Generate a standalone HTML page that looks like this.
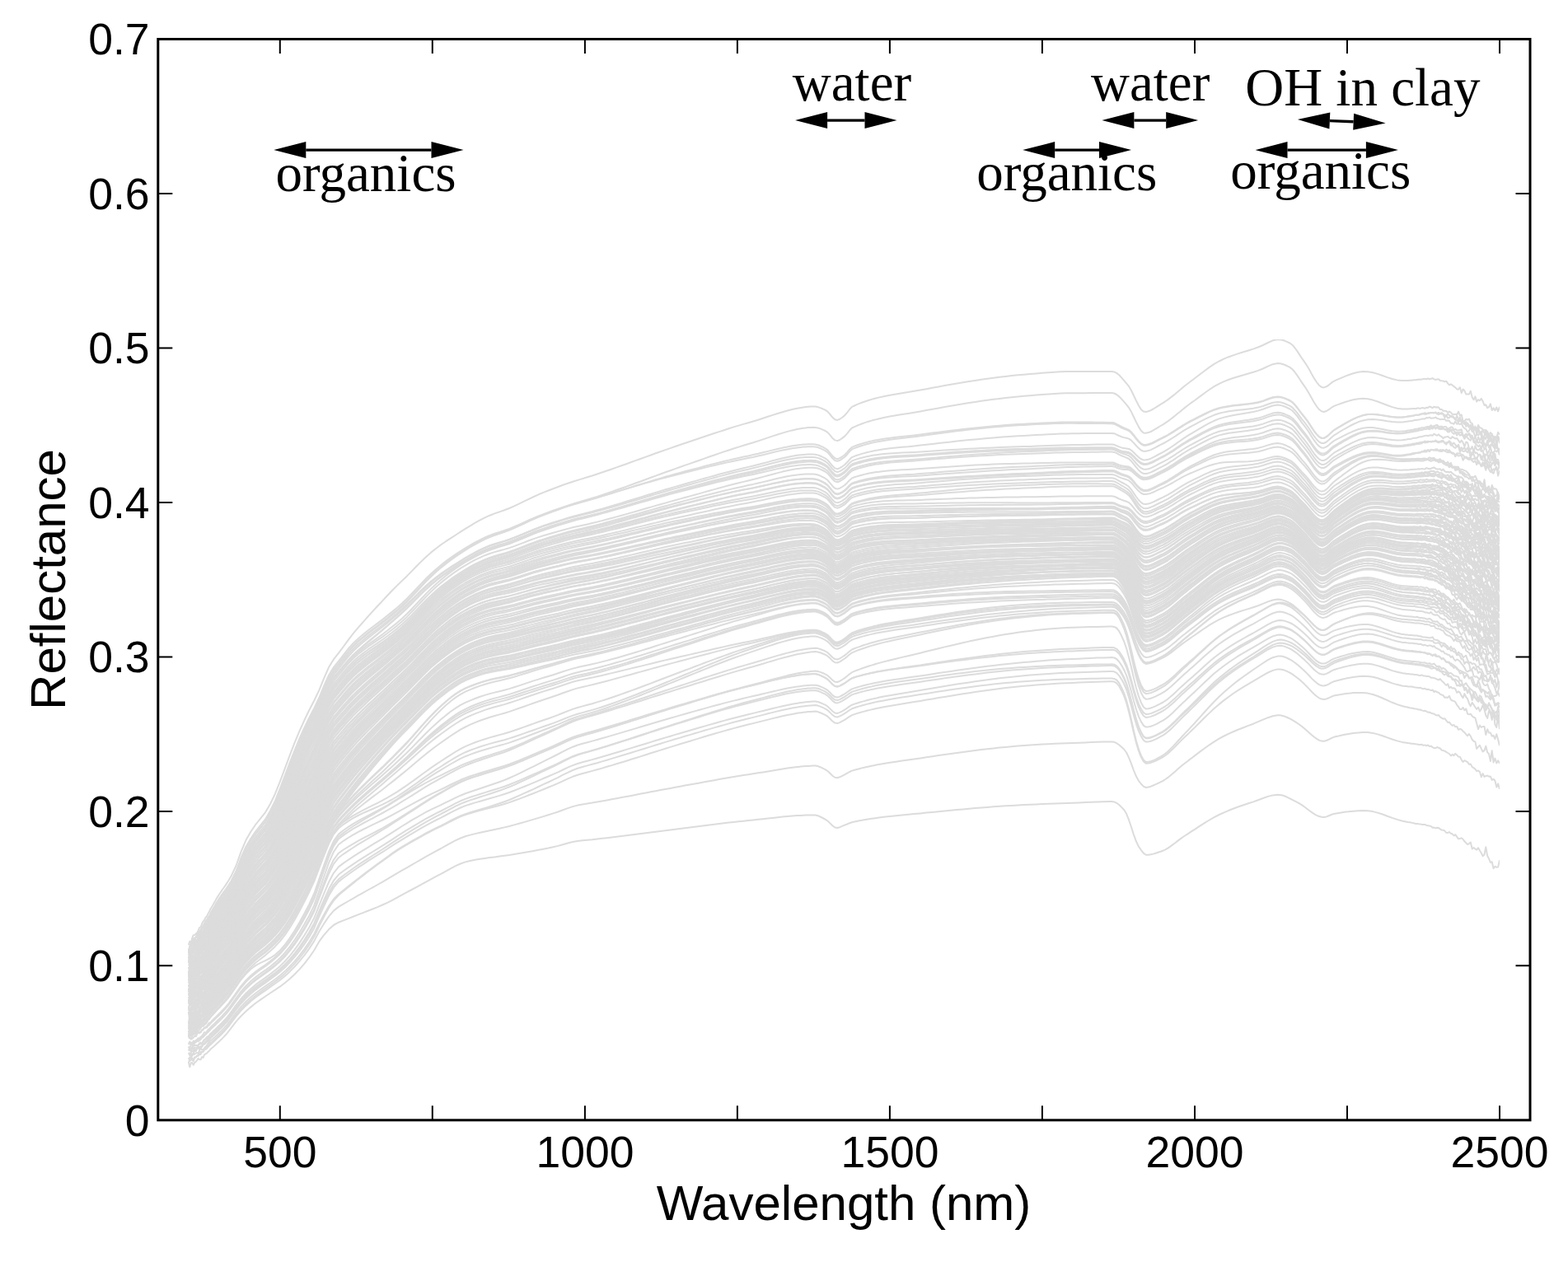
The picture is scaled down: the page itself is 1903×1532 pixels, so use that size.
<!DOCTYPE html>
<html><head><meta charset="utf-8"><title>Reflectance spectra</title>
<style>html,body{margin:0;padding:0;background:#fff;}svg{display:block;}
.sans{font-family:"Liberation Sans",Arial,sans-serif;fill:#000;}
.serif{font-family:"Liberation Serif","Times New Roman",serif;fill:#000;}
</style></head><body>
<svg width="1903" height="1532" viewBox="0 0 1903 1532">
<rect width="1903" height="1532" fill="#fff"/>
<defs><filter id="bl" x="0" y="0" width="1" height="1"><feGaussianBlur stdDeviation="0.60"/></filter></defs><g filter="url(#bl)"><g transform="scale(0.1)" fill="none" stroke="#dcdcdc" stroke-width="20" stroke-linejoin="round"><path d="M2288 12889l15 69 15-55 14-2 15 27 15-28 15-11 15-18 14-22 15 13 15 1 15-33 15 9 14-35 15-10 15-7 15-18 15-12 14-19 15-13 15-13 15-13 15-14 14-13 15-14 15-14 15-14 15-14 14-15 15-15 15-16 15-17 15-17 15-19 14-19 15-19 59-78 60-66 59-57 59-52 59-48 59-42 60-41 59-40 59-38 59-40 59-44 60-50 59-56 59-61 59-68 59-76 60-87 59-103 59-80 59-69 59-53 60-33 59-23 59-23 59-23 59-24 60-23 59-23 59-23 59-24 60-26 59-27 59-30 59-31 59-33 60-32 59-32 59-32 59-32 59-33 60-32 59-32 59-31 59-32 59-33 60-31 59-27 59-21 59-14 59-12 60-10 59-9 59-8 59-7 59-8 60-8 59-8 59-10 59-10 60-10 59-10 59-11 59-11 59-11 60-11 59-13 59-14 59-17 59-17 60-15 59-11 59-7 59-5 59-5 60-7 59-7 59-6 59-7 59-8 60-7 59-7 59-8 59-7 60-8 59-8 59-7 59-8 59-7 60-8 59-7 59-8 59-7 59-7 60-8 59-7 59-8 59-7 59-8 60-7 59-7 59-8 59-7 59-6 60-7 59-6 59-6 59-6 59-7 60-6 59-7 59-6 59-7 60-6 59-5 59-5 59-5 15-1 30-1 29-2 30-1 29-1 30-1 30 0 29 1 30 7 29 13 30 15 30 16 29 19 30 29 29 29 30 21 30 6 29-8 30-13 29-12 30-12 30-13 29-10 30-7 29-6 30-6 30-5 29-6 30-5 29-5 30-4 30-4 29-4 15-2 74-10 74-8 74-8 74-7 74-7 74-7 74-7 74-8 74-7 74-7 74-8 74-7 74-7 74-6 74-7 74-6 74-6 74-6 74-6 74-5 74-5 74-4 74-5 74-4 74-3 74-3 74-3 74-3 74-2 74-3 74-2 74-3 74-3 74-4 74-3 74-4 74-2 74-2 30 0 30 4 29 14 30 22 29 29 30 31 30 48 29 74 30 88 29 91 30 82 30 63 29 42 30 38 29 21 30 0 30-4 29-7 30-8 29-10 30-10 30-11 29-14 30-17 29-20 30-22 30-22 29-23 30-23 29-21 30-20 30-19 29-19 30-20 30-19 59-39 59-38 59-36 59-34 60-31 59-27 59-25 59-23 59-22 60-20 59-20 59-19 59-22 59-22 60-21 59-15 59-7 30 2 29 6 30 10 29 13 30 15 30 16 29 15 30 15 29 16 30 19 30 21 29 22 30 23 29 21 30 20 30 17 29 12 30 8 29 2 30-6 30-12 29-12 30-11 30-5 29-5 30-5 29-4 30-4 30-3 29-4 30-2 59-5 59-2 59 2 60 9 59 15 59 19 59 22 59 22 60 20 59 16 18 4 19 4 18 4 19 4 18 2 19 3 18 5 19 3 18 6 19 1 18 2 19 1 18 5 19 2 18-2 19 10 18 3 19 4 18 3 19 18 18-1 19 8 18-6 19 2 18 14 19 12 18 1 19 10 18 21 19 1 18-8 19 16 18 6 19 21 18-12 19 26 18 25 19-2 18-8 19 15 18 25 19 19 18 19 19-10 18-16 19 80 18-15 19 16 18 10 19-24 18 33 19 30 18 37 19-17 18-92 19 107 18 33 19 47 18-8 19 81 18-26 19 11 18-2 19-84"/><path d="M2288 12895l15-12 15-29 14 15 15-12 15-23 15-3 15-11 14-3 15-18 15 0 15-36 15 4 14-24 15-5 15-9 15-18 15-15 14-14 15-13 15-15 15-14 15-14 14-14 15-14 15-14 15-14 15-15 14-15 15-15 15-16 15-17 15-18 15-18 14-19 15-20 59-79 60-70 59-59 59-53 59-49 59-43 60-41 59-42 59-41 59-43 59-48 60-55 59-59 59-66 59-72 59-81 60-92 59-114 59-96 59-88 59-70 60-47 59-35 59-34 59-34 59-34 60-34 59-33 59-32 59-33 60-33 59-35 59-35 59-35 59-35 60-34 59-34 59-34 59-34 59-34 60-34 59-32 59-31 59-33 59-33 60-32 59-27 59-23 59-16 59-15 60-14 59-13 59-12 59-12 59-12 60-14 59-14 59-16 59-16 60-17 59-17 59-18 59-17 59-18 60-18 59-19 59-19 59-22 59-22 60-20 59-15 59-11 59-10 59-9 60-11 59-10 59-11 59-11 59-11 60-11 59-11 59-11 59-12 60-11 59-12 59-11 59-11 59-11 60-11 59-11 59-11 59-11 59-11 60-10 59-11 59-11 59-11 59-11 60-10 59-11 59-10 59-11 59-10 60-9 59-10 59-9 59-9 59-10 60-9 59-10 59-10 59-10 60-9 59-9 59-8 59-7 15-2 30-3 29-3 30-2 29-2 30-2 30-2 29 0 30 6 29 11 30 14 30 15 29 19 30 28 29 29 30 21 30 4 29-9 30-15 29-14 30-17 30-17 29-14 30-8 29-8 30-8 30-8 29-7 30-7 29-6 30-6 30-6 29-6 15-3 74-13 74-12 74-11 74-11 74-11 74-10 74-11 74-11 74-11 74-11 74-11 74-11 74-10 74-10 74-10 74-9 74-9 74-9 74-8 74-8 74-7 74-7 74-6 74-6 74-5 74-5 74-4 74-4 74-4 74-3 74-3 74-2 74-3 74-3 74-3 74-3 74-2 74-1 30-1 30 4 29 14 30 21 29 25 30 27 30 40 29 62 30 75 29 79 30 72 30 55 29 37 30 31 29 14 30-5 30-8 29-12 30-13 29-14 30-15 30-15 29-18 30-21 29-24 30-25 30-26 29-26 30-26 29-24 30-23 30-23 29-23 30-22 30-23 59-45 59-44 59-42 59-40 60-36 59-32 59-28 59-27 59-25 60-23 59-23 59-22 59-25 59-25 60-25 59-19 59-10 30 0 29 6 30 9 29 12 30 14 30 16 29 19 30 18 29 20 30 23 30 25 29 25 30 27 29 26 30 25 30 21 29 17 30 10 29 1 30-7 30-14 29-15 30-13 30-8 29-6 30-7 29-6 30-6 30-5 29-5 30-4 59-7 59-4 59 1 60 8 59 15 59 19 59 21 59 21 60 19 59 15 18 3 19 3 18 3 19 3 18 2 19 4 18 1 19 1 18 4 19 3 18 3 19 1 18-2 19 11 18-5 19 9 18-8 19 16 18-5 19 15 18 10 19 2 18-13 19 8 18 7 19 22 18 4 19 6 18 11 19 12 18 10 19 24 18-15 19 13 18-23 19 17 18 20 19 1 18 36 19 27 18-19 19 10 18 11 19 26 18-3 19 36 18 10 19 15 18 25 19-7 18 16 19 62 18-41 19 39 18-11 19-4 18 12 19-1 18 43 19-11 18 19 19 78 18-42 19 66"/><path d="M2288 12869l15 7 15-37 14 8 15 36 15-41 15-7 15-22 14-2 15-35 15-6 15 3 15-10 14-24 15-13 15-16 15-14 15-18 14-14 15-11 15-14 15-14 15-14 14-14 15-14 15-14 15-15 15-14 14-15 15-16 15-16 15-17 15-17 15-19 14-19 15-20 59-80 60-72 59-61 59-54 59-49 59-44 60-42 59-43 59-42 59-45 59-50 60-58 59-62 59-69 59-76 59-85 60-98 59-126 59-114 59-109 59-90 60-65 59-49 59-48 59-48 59-47 60-46 59-46 59-44 59-44 60-43 59-43 59-42 59-40 59-38 60-35 59-34 59-34 59-33 59-33 60-31 59-30 59-29 59-30 59-30 60-30 59-27 59-23 59-18 59-17 60-16 59-15 59-16 59-15 59-16 60-17 59-19 59-21 59-21 60-23 59-23 59-23 59-24 59-24 60-24 59-24 59-26 59-27 59-28 60-25 59-21 59-17 59-15 59-16 60-16 59-17 59-18 59-17 59-18 60-18 59-18 59-19 59-18 60-19 59-19 59-19 59-18 59-19 60-19 59-18 59-18 59-18 59-18 60-18 59-18 59-18 59-18 59-18 60-17 59-17 59-17 59-17 59-16 60-16 59-15 59-15 59-14 59-15 60-15 59-15 59-15 59-14 60-14 59-13 59-11 59-11 15-2 30-4 29-4 30-4 29-3 30-2 30-2 29-1 30 5 29 11 30 13 30 14 29 18 30 28 29 30 30 21 30 5 29-10 30-17 29-16 30-19 30-21 29-17 30-10 29-10 30-8 30-9 29-8 30-8 29-7 30-7 30-7 29-6 15-3 74-15 74-14 74-12 74-12 74-12 74-12 74-12 74-13 74-12 74-13 74-12 74-12 74-12 74-12 74-11 74-11 74-11 74-10 74-10 74-10 74-9 74-8 74-8 74-7 74-6 74-6 74-6 74-5 74-5 74-4 74-4 74-3 74-3 74-3 74-3 74-3 74-2 74-2 30 0 30 3 29 17 30 36 29 53 30 65 30 85 29 108 30 125 29 129 30 121 30 99 29 74 30 55 29 24 30-2 30-6 29-10 30-13 29-15 30-15 30-16 29-20 30-23 29-26 30-28 30-29 29-30 30-30 29-30 30-29 30-28 29-28 30-29 30-29 59-59 59-59 59-57 59-55 60-52 59-48 59-44 59-42 59-39 60-37 59-36 59-34 59-35 59-36 60-33 59-26 59-15 30 0 29 5 30 9 29 13 30 15 30 18 29 21 30 22 29 24 30 27 30 28 29 29 30 31 29 31 30 30 30 26 29 20 30 13 29 4 30-6 30-12 29-14 30-12 30-6 29-6 30-4 29-5 30-4 30-4 29-3 30-3 59-2 59 0 59 7 60 14 59 20 59 25 59 26 59 27 60 23 59 19 18 5 19 5 18 3 19 5 18 5 19 1 18 4 19 5 18 1 19 5 18 6 19 0 18 9 19 5 18-2 19 10 18 10 19-1 18 9 19 8 18 1 19 16 18 4 19-3 18 23 19 13 18 10 19-5 18 24 19 23 18-2 19 25 18 15 19-7 18 23 19-3 18 37 19-7 18 4 19 24 18 13 19 24 18 17 19-22 18 27 19 41 18 19 19 7 18 86 19-24 18-18 19 41 18 36 19-14 18-53 19 77 18 15 19 91 18-129 19 143 18-49 19 59 18-33 19 35"/><path d="M2288 12861l15-29 15 12 14-29 15-14 15-4 15-13 15-4 14 10 15-42 15-15 15 7 15 2 14-20 15-14 15-17 15-25 15-12 14-21 15-9 15-13 15-14 15-14 14-14 15-14 15-15 15-14 15-15 14-15 15-15 15-16 15-17 15-17 15-19 14-19 15-20 59-80 60-72 59-61 59-54 59-49 59-44 60-41 59-42 59-42 59-45 59-52 60-58 59-64 59-70 59-78 59-85 60-99 59-123 59-110 59-103 59-86 60-60 59-47 59-47 59-47 59-47 60-46 59-45 59-44 59-44 60-43 59-43 59-43 59-40 59-37 60-36 59-34 59-34 59-33 59-33 60-31 59-30 59-28 59-30 59-31 60-30 59-27 59-23 59-19 59-18 60-18 59-18 59-18 59-19 59-19 60-21 59-22 59-25 59-26 60-27 59-27 59-27 59-28 59-28 60-27 59-28 59-29 59-31 59-29 60-28 59-22 59-18 59-16 59-16 60-16 59-18 59-17 59-18 59-18 60-18 59-18 59-18 59-18 60-19 59-18 59-18 59-19 59-18 60-18 59-18 59-18 59-17 59-18 60-17 59-18 59-17 59-18 59-17 60-17 59-17 59-16 59-17 59-16 60-15 59-15 59-15 59-14 59-15 60-15 59-16 59-14 59-15 60-14 59-13 59-12 59-10 15-3 30-4 29-4 30-4 29-3 30-3 30-2 29-1 30 5 29 10 30 13 30 14 29 18 30 28 29 30 30 21 30 5 29-11 30-16 29-17 30-20 30-21 29-17 30-10 29-10 30-9 30-9 29-8 30-8 29-7 30-7 30-7 29-7 15-3 74-14 74-14 74-12 74-12 74-11 74-12 74-12 74-12 74-12 74-11 74-12 74-11 74-11 74-10 74-10 74-10 74-9 74-9 74-9 74-7 74-8 74-6 74-7 74-5 74-5 74-5 74-4 74-4 74-3 74-3 74-2 74-2 74-1 74-2 74-3 74-1 74-2 74 0 30 0 30 4 29 16 30 37 29 55 30 67 30 87 29 110 30 127 29 132 30 123 30 101 29 75 30 56 29 25 30-2 30-6 29-11 30-13 29-16 30-16 30-18 29-21 30-25 29-28 30-30 30-31 29-33 30-32 29-33 30-31 30-31 29-32 30-32 30-32 59-66 59-66 59-65 59-63 60-59 59-55 59-51 59-49 59-47 60-44 59-41 59-41 59-40 59-40 60-38 59-30 59-16 30-2 29 4 30 9 29 13 30 15 30 17 29 21 30 23 29 24 30 27 30 28 29 29 30 31 29 31 30 29 30 26 29 20 30 12 29 2 30-7 30-15 29-16 30-14 30-8 29-8 30-7 29-7 30-7 30-6 29-5 30-6 59-7 59-5 59 2 60 9 59 15 59 19 59 21 59 21 60 17 59 13 18 3 19 2 18 2 19 3 18 1 19 0 18 3 19 4 18 3 19 2 18 3 19-2 18 9 19 5 18-4 19 11 18-2 19 7 18 7 19-7 18 26 19-10 18 13 19 5 18 18 19 9 18 6 19 27 18-2 19 3 18-21 19 46 18 12 19 4 18 12 19 36 18 22 19 30 18 1 19-22 18 34 19-19 18 61 19 8 18-7 19 28 18 13 19 7 18 69 19 69 18-47 19 25 18-10 19 0 18 100 19-68 18 43 19-1 18 42 19-7 18 41 19-57 18 62 19 78"/><path d="M2288 12782l15 2 15 35 14-27 15 3 15-64 15 30 15-30 14-10 15 13 15-3 15-39 15-8 14-8 15-11 15-22 15 2 15-23 14-18 15-14 15-14 15-14 15-14 14-14 15-14 15-15 15-14 15-15 14-15 15-16 15-16 15-16 15-18 15-19 14-19 15-20 59-81 60-74 59-62 59-55 59-49 59-44 60-41 59-43 59-43 59-47 59-53 60-61 59-67 59-74 59-82 59-89 60-105 59-138 59-129 59-125 59-101 60-70 59-46 59-43 59-42 59-41 60-39 59-39 59-37 59-37 60-37 59-38 59-38 59-38 59-36 60-36 59-36 59-34 59-35 59-33 60-33 59-31 59-29 59-31 59-32 60-30 59-28 59-24 59-19 59-18 60-17 59-17 59-17 59-17 59-17 60-19 59-20 59-22 59-24 60-24 59-24 59-25 59-25 59-26 60-25 59-26 59-26 59-28 59-29 60-25 59-21 59-18 59-15 59-16 60-16 59-17 59-18 59-17 59-18 60-18 59-18 59-18 59-18 60-18 59-18 59-18 59-19 59-18 60-18 59-17 59-18 59-17 59-17 60-18 59-17 59-17 59-17 59-17 60-17 59-17 59-16 59-16 59-16 60-15 59-15 59-14 59-14 59-15 60-14 59-15 59-15 59-14 60-14 59-12 59-12 59-10 15-3 30-4 29-4 30-4 29-3 30-2 30-2 29-1 30 5 29 10 30 13 30 14 29 18 30 29 29 29 30 22 30 4 29-10 30-16 29-17 30-20 30-22 29-17 30-11 29-9 30-9 30-9 29-8 30-8 29-8 30-7 30-7 29-6 15-4 74-15 74-13 74-13 74-13 74-11 74-13 74-12 74-13 74-13 74-12 74-13 74-12 74-12 74-11 74-11 74-11 74-11 74-10 74-10 74-9 74-8 74-8 74-8 74-7 74-6 74-6 74-5 74-5 74-5 74-4 74-3 74-3 74-2 74-3 74-3 74-3 74-2 74-2 30 0 30 3 29 16 30 32 29 45 30 54 30 70 29 92 30 108 29 112 30 106 30 86 29 63 30 48 29 21 30-2 30-7 29-11 30-13 29-15 30-16 30-16 29-20 30-23 29-26 30-28 30-30 29-30 30-30 29-30 30-29 30-28 29-29 30-29 30-29 59-59 59-59 59-59 59-55 60-53 59-48 59-45 59-42 59-40 60-38 59-37 59-36 59-36 59-37 60-36 59-29 59-17 30-1 29 3 30 8 29 12 30 13 30 17 29 20 30 22 29 24 30 27 30 27 29 28 30 30 29 31 30 30 30 25 29 20 30 11 29 2 30-9 30-15 29-17 30-15 30-10 29-8 30-8 29-8 30-7 30-7 29-7 30-5 59-10 59-5 59 1 60 8 59 15 59 19 59 20 59 21 60 17 59 13 18 3 19 2 18 3 19 2 18 2 19 2 18 0 19 5 18 1 19 2 18 4 19 3 18-6 19 11 18-1 19 7 18-1 19 3 18 15 19-1 18 4 19 6 18 10 19 7 18-13 19 23 18 15 19 22 18 18 19-17 18 49 19-13 18 18 19-4 18 11 19 46 18-15 19 15 18 37 19 26 18-51 19 42 18 19 19 57 18 33 19-44 18 27 19 30 18 24 19-24 18 50 19-29 18-46 19 55 18 68 19 36 18-90 19 30 18 80 19-111 18 166 19 36 18-149 19 170"/><path d="M2288 12781l15 29 15-31 14-18 15-1 15 5 15-21 15-12 14-30 15 15 15-16 15 6 15-31 14-14 15-18 15-7 15-20 15-17 14-9 15-16 15-16 15-14 15-14 14-15 15-14 15-14 15-14 15-15 14-15 15-15 15-16 15-17 15-18 15-18 14-20 15-19 59-81 60-75 59-63 59-55 59-49 59-43 60-41 59-44 59-44 59-48 59-55 60-64 59-70 59-78 59-85 59-92 60-108 59-137 59-128 59-121 59-99 60-67 59-46 59-43 59-43 59-41 60-39 59-39 59-38 59-37 60-38 59-39 59-39 59-38 59-38 60-38 59-36 59-35 59-36 59-34 60-33 59-32 59-30 59-32 59-32 60-31 59-28 59-24 59-21 59-19 60-20 59-19 59-19 59-19 59-20 60-22 59-23 59-25 59-27 60-27 59-28 59-28 59-29 59-28 60-28 59-28 59-30 59-30 59-30 60-28 59-22 59-19 59-16 59-16 60-18 59-18 59-18 59-19 59-18 60-19 59-19 59-19 59-19 60-20 59-19 59-19 59-19 59-20 60-19 59-18 59-19 59-18 59-19 60-18 59-18 59-19 59-18 59-18 60-17 59-18 59-17 59-17 59-16 60-16 59-15 59-15 59-14 59-15 60-15 59-15 59-15 59-14 60-14 59-12 59-11 59-10 15-2 30-4 29-4 30-3 29-2 30-2 30-1 29 0 30 6 29 11 30 14 30 14 29 19 30 29 29 31 30 23 30 5 29-10 30-15 29-17 30-20 30-21 29-17 30-10 29-9 30-9 30-8 29-7 30-8 29-6 30-7 30-6 29-6 15-3 74-13 74-12 74-11 74-11 74-10 74-10 74-11 74-11 74-11 74-11 74-11 74-10 74-10 74-10 74-10 74-9 74-9 74-9 74-8 74-8 74-7 74-7 74-6 74-6 74-5 74-5 74-4 74-4 74-4 74-3 74-3 74-2 74-3 74-2 74-3 74-2 74-2 74-1 30-1 30 4 29 16 30 33 29 47 30 56 30 73 29 95 30 110 29 116 30 108 30 89 29 66 30 49 29 21 30-1 30-7 29-11 30-13 29-14 30-16 30-16 29-19 30-23 29-25 30-27 30-29 29-29 30-29 29-29 30-28 30-28 29-28 30-28 30-28 59-57 59-58 59-56 59-55 60-51 59-47 59-43 59-42 59-40 60-38 59-37 59-36 59-38 59-38 60-38 59-32 59-20 30-4 29 2 30 6 29 9 30 11 30 14 29 18 30 20 29 22 30 24 30 25 29 26 30 28 29 29 30 27 30 24 29 17 30 10 29-1 30-11 30-17 29-20 30-17 30-12 29-11 30-10 29-10 30-10 30-9 29-8 30-8 59-13 59-9 59-2 60 5 59 13 59 16 59 19 59 19 60 16 59 12 18 3 19 2 18 2 19 2 18 2 19 2 18 3 19 0 18 4 19 2 18 5 19-3 18 6 19 4 18 4 19 8 18 1 19 7 18 12 19-1 18-6 19 3 18 25 19-1 18 16 19 5 18 27 19 10 18-15 19 29 18 5 19-1 18 40 19 2 18 22 19 48 18-4 19 11 18-13 19-1 18 65 19-16 18 24 19 7 18 29 19 74 18-50 19 19 18 31 19 20 18-25 19-1 18 54 19 29 18-1 19 10 18 19 19 36 18 28 19-40 18 58 19 54 18-2 19-35"/><path d="M2288 12749l15 2 15 9 14-52 15 34 15-27 15 2 15-3 14-31 15-8 15-2 15-3 15-24 14-20 15-8 15-8 15-12 15-21 14-14 15-13 15-14 15-14 15-14 14-14 15-14 15-14 15-15 15-14 14-15 15-15 15-16 15-16 15-18 15-19 14-19 15-19 59-80 60-75 59-63 59-54 59-48 59-43 60-40 59-43 59-43 59-48 59-55 60-64 59-71 59-77 59-86 59-94 60-109 59-144 59-136 59-131 59-106 60-72 59-45 59-42 59-40 59-40 60-38 59-37 59-36 59-37 60-36 59-38 59-38 59-39 59-38 60-37 59-36 59-35 59-35 59-34 60-32 59-31 59-29 59-31 59-31 60-31 59-29 59-24 59-21 59-19 60-19 59-19 59-18 59-18 59-19 60-19 59-22 59-24 59-24 60-26 59-26 59-26 59-26 59-27 60-26 59-27 59-27 59-29 59-29 60-26 59-22 59-18 59-16 59-17 60-17 59-18 59-18 59-18 59-19 60-19 59-19 59-19 59-19 60-20 59-19 59-20 59-19 59-20 60-19 59-20 59-19 59-18 59-19 60-19 59-19 59-19 59-19 59-18 60-19 59-18 59-18 59-18 59-17 60-16 59-17 59-15 59-16 59-15 60-16 59-16 59-16 59-15 60-15 59-13 59-12 59-11 15-2 30-4 29-4 30-4 29-3 30-2 30-2 29 0 30 6 29 10 30 14 30 14 29 19 30 28 29 31 30 22 30 5 29-10 30-16 29-16 30-21 30-22 29-17 30-10 29-9 30-9 30-8 29-8 30-8 29-7 30-6 30-7 29-6 15-3 74-13 74-13 74-11 74-10 74-10 74-10 74-11 74-11 74-10 74-11 74-10 74-10 74-10 74-9 74-9 74-9 74-8 74-8 74-7 74-7 74-6 74-6 74-6 74-4 74-5 74-4 74-3 74-4 74-3 74-3 74-2 74-1 74-2 74-2 74-2 74-2 74-2 74 0 30-1 30 4 29 16 30 34 29 47 30 58 30 74 29 96 30 112 29 117 30 109 30 91 29 66 30 50 29 21 30-2 30-7 29-10 30-13 29-15 30-16 30-17 29-20 30-23 29-26 30-28 30-29 29-30 30-30 29-30 30-29 30-28 29-29 30-29 30-30 59-59 59-60 59-58 59-57 60-53 59-48 59-46 59-43 59-42 60-39 59-38 59-38 59-38 59-39 60-38 59-32 59-20 30-3 29 2 30 6 29 10 30 12 30 14 29 19 30 21 29 23 30 25 30 26 29 27 30 29 29 30 30 28 30 24 29 19 30 10 29 1 30-11 30-17 29-19 30-17 30-10 29-10 30-10 29-9 30-9 30-9 29-8 30-7 59-11 59-8 59-2 60 7 59 13 59 17 59 20 59 19 60 17 59 11 18 3 19 2 18 2 19 2 18 0 19 2 18 1 19 5 18 3 19 2 18 1 19-1 18 9 19 0 18 4 19 3 18 2 19 3 18 5 19 1 18 16 19 4 18 17 19-16 18 36 19-1 18 9 19 4 18 10 19 3 18 43 19-3 18 26 19 15 18-7 19 17 18 11 19 39 18-2 19 16 18 26 19 0 18 63 19-50 18 68 19 22 18-47 19 69 18 3 19 34 18-42 19 60 18-20 19 37 18 75 19-34 18-57 19 46 18 26 19 98 18-49 19-18 18 125 19-19"/><path d="M2288 12754l15-30 15 38 14-37 15-41 15 8 15-3 15 1 14 3 15-29 15-8 15 17 15-34 14-18 15-10 15-22 15-6 15-14 14-20 15-12 15-15 15-14 15-14 14-15 15-14 15-14 15-15 15-14 14-15 15-16 15-16 15-16 15-18 15-19 14-19 15-20 59-82 60-76 59-65 59-56 59-50 59-44 60-41 59-44 59-46 59-50 59-59 60-67 59-75 59-82 59-91 59-98 60-114 59-150 59-144 59-139 59-112 60-74 59-45 59-41 59-39 59-38 60-37 59-36 59-36 59-35 60-36 59-37 59-38 59-38 59-38 60-37 59-36 59-34 59-33 59-33 60-30 59-29 59-27 59-29 59-29 60-29 59-27 59-24 59-20 59-20 60-20 59-20 59-20 59-20 59-21 60-22 59-25 59-26 59-28 60-29 59-30 59-29 59-30 59-29 60-30 59-29 59-30 59-31 59-30 60-27 59-22 59-18 59-15 59-16 60-16 59-17 59-17 59-17 59-18 60-17 59-18 59-17 59-18 60-18 59-18 59-17 59-18 59-18 60-17 59-17 59-17 59-17 59-17 60-17 59-16 59-17 59-16 59-17 60-16 59-16 59-16 59-15 59-15 60-14 59-14 59-14 59-13 59-14 60-14 59-14 59-14 59-14 60-13 59-12 59-11 59-9 15-2 30-4 29-4 30-3 29-3 30-2 30-1 29 0 30 5 29 11 30 13 30 15 29 18 30 29 29 31 30 22 30 5 29-10 30-16 29-16 30-21 30-22 29-17 30-10 29-9 30-9 30-8 29-8 30-7 29-7 30-7 30-6 29-6 15-3 74-14 74-12 74-11 74-10 74-11 74-10 74-11 74-11 74-12 74-11 74-11 74-11 74-11 74-10 74-11 74-10 74-9 74-10 74-9 74-9 74-8 74-8 74-7 74-7 74-6 74-6 74-6 74-6 74-5 74-4 74-4 74-3 74-3 74-4 74-3 74-4 74-2 74-2 30-1 30 4 29 15 30 32 29 44 30 54 30 69 29 90 30 106 29 111 30 104 30 86 29 63 30 47 29 20 30-2 30-7 29-11 30-13 29-15 30-16 30-16 29-19 30-23 29-25 30-27 30-29 29-29 30-29 29-29 30-27 30-28 29-28 30-27 30-28 59-57 59-56 59-56 59-53 60-49 59-45 59-42 59-40 59-38 60-35 59-35 59-34 59-34 59-36 60-35 59-29 59-16 30-2 29 3 30 8 29 11 30 13 30 16 29 21 30 22 29 24 30 27 30 27 29 28 30 31 29 31 30 30 30 26 29 19 30 12 29 1 30-9 30-16 29-19 30-16 30-10 29-9 30-9 29-8 30-9 30-8 29-7 30-6 59-11 59-7 59-1 60 7 59 14 59 18 59 19 59 19 60 17 59 11 18 2 19 2 18 2 19 2 18 1 19 2 18 3 19 1 18 1 19 2 18 2 19 4 18 3 19 1 18-1 19 10 18 4 19-6 18 13 19-1 18-7 19 21 18 16 19-6 18 8 19 26 18-12 19 11 18 18 19 23 18 12 19-4 18 15 19 18 18 4 19 5 18 8 19 45 18-3 19 74 18-29 19-14 18 32 19 23 18 18 19 18 18 17 19 1 18 38 19 61 18-58 19 18 18 50 19 35 18 4 19 31 18-26 19 10 18 49 19 17 18 56 19 13 18-120 19 122"/><path d="M2288 12680l15-35 15 45 14-19 15-11 15-23 15-3 15 3 14-27 15 8 15-7 15-15 15-8 14-17 15-21 15-13 15-9 15-13 14-17 15-15 15-14 15-15 15-14 14-14 15-14 15-15 15-14 15-15 14-15 15-15 15-16 15-17 15-18 15-18 14-19 15-20 59-82 60-78 59-66 59-56 59-49 59-43 60-41 59-44 59-46 59-52 59-60 60-71 59-78 59-87 59-94 59-102 60-119 59-155 59-153 59-147 59-118 60-77 59-44 59-40 59-38 59-38 60-36 59-35 59-35 59-35 60-36 59-37 59-38 59-38 59-39 60-38 59-39 59-38 59-39 59-38 60-37 59-35 59-33 59-34 59-34 60-33 59-29 59-26 59-21 59-20 60-19 59-19 59-18 59-17 59-18 60-19 59-21 59-23 59-24 60-24 59-26 59-25 59-25 59-26 60-25 59-25 59-26 59-28 59-28 60-25 59-21 59-17 59-16 59-16 60-17 59-17 59-18 59-18 59-18 60-19 59-18 59-19 59-19 60-19 59-18 59-19 59-19 59-19 60-19 59-18 59-18 59-19 59-17 60-18 59-18 59-18 59-18 59-18 60-17 59-17 59-17 59-16 59-16 60-16 59-15 59-14 59-14 59-15 60-15 59-15 59-14 59-14 60-14 59-12 59-11 59-9 15-3 30-3 29-4 30-3 29-2 30-2 30-1 29 0 30 6 29 11 30 14 30 15 29 19 30 30 29 31 30 23 30 5 29-9 30-16 29-16 30-21 30-22 29-18 30-10 29-9 30-8 30-8 29-8 30-7 29-6 30-7 30-6 29-6 15-2 74-13 74-12 74-10 74-10 74-9 74-10 74-10 74-10 74-11 74-10 74-10 74-10 74-10 74-9 74-10 74-9 74-8 74-8 74-8 74-8 74-7 74-6 74-6 74-6 74-5 74-5 74-5 74-4 74-4 74-4 74-3 74-2 74-3 74-3 74-3 74-2 74-3 74-1 30-1 30 4 29 15 30 31 29 43 30 52 30 67 29 87 30 103 29 107 30 102 30 84 29 61 30 46 29 19 30-3 30-7 29-11 30-13 29-15 30-15 30-16 29-19 30-22 29-25 30-26 30-28 29-28 30-29 29-28 30-27 30-26 29-27 30-27 30-27 59-54 59-55 59-53 59-51 60-48 59-43 59-40 59-38 59-36 60-35 59-34 59-33 59-34 59-36 60-36 59-29 59-19 30-3 29 3 30 7 29 9 30 12 30 15 29 19 30 21 29 24 30 26 30 26 29 27 30 30 29 31 30 28 30 25 29 19 30 11 29 0 30-11 30-17 29-20 30-17 30-11 29-10 30-10 29-10 30-9 30-9 29-8 30-8 59-12 59-8 59-2 60 7 59 13 59 17 59 20 59 19 60 17 59 12 18 2 19 3 18 2 19 1 18 2 19 2 18 0 19 4 18 0 19 7 18-3 19 4 18 4 19 6 18 2 19 2 18 15 19-7 18 7 19 21 18-18 19 20 18 4 19-6 18 15 19 23 18-13 19 24 18 25 19-2 18 18 19 0 18 13 19 12 18 17 19 29 18 4 19 49 18-11 19 9 18 56 19-33 18 1 19 38 18-13 19 56 18 39 19-1 18-10 19 24 18 35 19 39 18-30 19 17 18 66 19-11 18 22 19 23 18-29 19 40 18 64 19-30 18 14 19 37"/><path d="M2288 12704l15 38 15-76 14 11 15 25 15-43 15-4 15-36 14 23 15-12 15-13 15-22 15-8 14-17 15-9 15-20 15-12 15-23 14-12 15-17 15-11 15-14 15-15 14-14 15-15 15-15 15-14 15-15 14-15 15-16 15-16 15-17 15-18 15-18 14-20 15-20 59-83 60-79 59-67 59-56 59-50 59-44 60-41 59-45 59-47 59-52 59-62 60-71 59-79 59-87 59-96 59-103 60-121 59-162 59-161 59-155 59-125 60-81 59-42 59-37 59-35 59-34 60-32 59-31 59-30 59-31 60-32 59-34 59-35 59-36 59-37 60-37 59-38 59-38 59-38 59-37 60-37 59-34 59-33 59-34 59-34 60-32 59-30 59-25 59-21 59-19 60-19 59-19 59-17 59-18 59-17 60-19 59-21 59-22 59-24 60-25 59-25 59-25 59-25 59-25 60-26 59-25 59-26 59-28 59-27 60-26 59-21 59-17 59-16 59-16 60-17 59-17 59-18 59-18 59-18 60-19 59-18 59-19 59-19 60-19 59-19 59-19 59-19 59-18 60-19 59-18 59-18 59-18 59-18 60-18 59-18 59-18 59-17 59-18 60-17 59-17 59-16 59-17 59-15 60-16 59-14 59-15 59-14 59-14 60-15 59-15 59-14 59-14 60-13 59-12 59-11 59-10 15-2 30-4 29-3 30-3 29-2 30-2 30-1 29 0 30 6 29 11 30 14 30 15 29 19 30 29 29 31 30 23 30 5 29-9 30-16 29-16 30-21 30-23 29-17 30-10 29-10 30-8 30-8 29-8 30-7 29-7 30-7 30-6 29-6 15-3 74-13 74-12 74-11 74-11 74-10 74-11 74-10 74-12 74-11 74-12 74-11 74-11 74-10 74-11 74-10 74-10 74-10 74-9 74-9 74-9 74-8 74-7 74-7 74-7 74-6 74-5 74-6 74-5 74-4 74-4 74-4 74-3 74-2 74-3 74-3 74-3 74-2 74-1 30-1 30 4 29 15 30 31 29 43 30 51 30 66 29 85 30 101 29 107 30 100 30 82 29 61 30 46 29 19 30-2 30-7 29-11 30-13 29-14 30-15 30-16 29-19 30-21 29-25 30-26 30-27 29-28 30-28 29-28 30-26 30-26 29-27 30-26 30-26 59-54 59-53 59-53 59-50 60-46 59-42 59-40 59-36 59-35 60-33 59-33 59-31 59-34 59-34 60-34 59-29 59-17 30-2 29 4 30 7 29 10 30 13 30 15 29 20 30 23 29 24 30 27 30 26 29 29 30 30 29 32 30 29 30 26 29 20 30 11 29 1 30-10 30-17 29-19 30-17 30-11 29-10 30-9 29-10 30-8 30-9 29-8 30-7 59-12 59-7 59-2 60 7 59 13 59 18 59 19 59 19 60 16 59 12 18 2 19 2 18 2 19 2 18 2 19 0 18 3 19 1 18 2 19 2 18-3 19 7 18-3 19 5 18-1 19 14 18-2 19 3 18 14 19 2 18-1 19-8 18 28 19 0 18 8 19 20 18-4 19 16 18 22 19 8 18-4 19 40 18 8 19 24 18-17 19 17 18 28 19 3 18 8 19 9 18 10 19 7 18 15 19 40 18-1 19-11 18 53 19 59 18 9 19-77 18 49 19 64 18-4 19 17 18 10 19 22 18-20 19 94 18-64 19 49 18 81 19 0 18-28 19 15"/><path d="M2288 12659l15-4 15-1 14 22 15-40 15 8 15-12 15-10 14-19 15 2 15-18 15-12 15-18 14-26 15 7 15-16 15-21 15-14 14-14 15-16 15-14 15-14 15-15 14-14 15-15 15-14 15-15 15-15 14-15 15-16 15-16 15-16 15-19 15-18 14-20 15-20 59-83 60-81 59-67 59-57 59-51 59-44 60-41 59-45 59-48 59-54 59-63 60-74 59-83 59-90 59-99 59-106 60-126 59-171 59-173 59-168 59-136 60-88 59-45 59-38 59-36 59-33 60-31 59-29 59-29 59-28 60-29 59-30 59-31 59-32 59-33 60-33 59-32 59-32 59-32 59-31 60-30 59-28 59-28 59-28 59-30 60-29 59-28 59-24 59-21 59-19 60-19 59-18 59-17 59-17 59-18 60-18 59-20 59-23 59-23 60-25 59-24 59-26 59-25 59-25 60-25 59-25 59-26 59-28 59-27 60-25 59-21 59-18 59-16 59-16 60-17 59-17 59-17 59-18 59-18 60-18 59-18 59-18 59-19 60-18 59-18 59-18 59-18 59-18 60-18 59-18 59-18 59-17 59-17 60-18 59-17 59-17 59-18 59-17 60-17 59-17 59-16 59-17 59-16 60-15 59-16 59-15 59-15 59-15 60-16 59-16 59-16 59-16 60-15 59-15 59-13 59-12 15-3 30-6 29-4 30-5 29-4 30-4 30-3 29-1 30 4 29 9 30 11 30 13 29 17 30 27 29 29 30 21 30 3 29-12 30-18 29-19 30-24 30-25 29-20 30-13 29-12 30-11 30-11 29-10 30-10 29-10 30-9 30-9 29-9 15-4 74-20 74-19 74-18 74-18 74-17 74-17 74-18 74-19 74-18 74-18 74-18 74-17 74-17 74-17 74-17 74-15 74-16 74-14 74-14 74-14 74-12 74-12 74-11 74-10 74-9 74-8 74-8 74-7 74-6 74-5 74-4 74-3 74-2 74-3 74-2 74-2 74-2 74-2 30 0 30 4 29 16 30 37 29 56 30 67 30 86 29 106 30 123 29 129 30 121 30 101 29 76 30 55 29 23 30-3 30-7 29-11 30-13 29-15 30-15 30-16 29-18 30-22 29-24 30-26 30-28 29-28 30-28 29-27 30-27 30-26 29-26 30-26 30-26 59-54 59-53 59-53 59-50 60-46 59-42 59-39 59-37 59-35 60-34 59-33 59-32 59-34 59-35 60-35 59-30 59-18 30-3 29 2 30 7 29 10 30 11 30 15 29 19 30 22 29 24 30 26 30 26 29 27 30 31 29 30 30 30 30 25 29 19 30 10 29 0 30-11 30-17 29-21 30-17 30-12 29-11 30-10 29-10 30-10 30-9 29-9 30-8 59-13 59-8 59-3 60 6 59 13 59 17 59 19 59 19 60 16 59 12 18 2 19 2 18 2 19 1 18 3 19 0 18 1 19 5 18-1 19 3 18 5 19-3 18 8 19 9 18-6 19 9 18 3 19-6 18 3 19 13 18-9 19 22 18 9 19 10 18 10 19 18 18-6 19 29 18 3 19 12 18 3 19 28 18-13 19 35 18 20 19-16 18 8 19 16 18 28 19 22 18 26 19 39 18 11 19-14 18 1 19-4 18 69 19 10 18-5 19 20 18 19 19-58 18 94 19 30 18 3 19-16 18 56 19 33 18 67 19-10 18 0 19-9 18-37 19 52"/><path d="M2288 12576l15 23 15 18 14-8 15-11 15-23 15 7 15-28 14-31 15 18 15-11 15-28 15 1 14-27 15 2 15-4 15-24 15-7 14-18 15-16 15-13 15-14 15-14 14-14 15-15 15-14 15-15 15-15 14-15 15-15 15-16 15-17 15-18 15-19 14-19 15-20 59-84 60-82 59-69 59-57 59-50 59-44 60-41 59-45 59-49 59-55 59-66 60-78 59-86 59-96 59-103 59-111 60-128 59-170 59-172 59-166 59-132 60-87 59-46 59-39 59-38 59-34 60-33 59-32 59-30 59-31 60-32 59-33 59-34 59-35 59-36 60-37 59-37 59-37 59-37 59-37 60-35 59-33 59-32 59-33 59-33 60-32 59-30 59-26 59-23 59-21 60-21 59-20 59-20 59-19 59-19 60-20 59-23 59-24 59-26 60-27 59-27 59-27 59-27 59-26 60-27 59-27 59-27 59-28 59-28 60-26 59-22 59-17 59-17 59-16 60-17 59-18 59-17 59-18 59-19 60-18 59-18 59-19 59-19 60-18 59-19 59-19 59-19 59-18 60-19 59-18 59-19 59-18 59-18 60-18 59-19 59-18 59-18 59-19 60-18 59-18 59-18 59-18 59-17 60-18 59-16 59-17 59-16 59-17 60-18 59-18 59-17 59-18 60-16 59-16 59-15 59-14 15-3 30-6 29-5 30-5 29-4 30-4 30-3 29-2 30 4 29 8 30 12 30 12 29 17 30 27 29 30 30 21 30 3 29-12 30-19 29-19 30-24 30-26 29-21 30-13 29-12 30-11 30-11 29-10 30-10 29-9 30-9 30-9 29-8 15-4 74-19 74-17 74-17 74-15 74-15 74-15 74-16 74-16 74-15 74-16 74-15 74-14 74-15 74-14 74-13 74-13 74-12 74-12 74-11 74-11 74-10 74-9 74-9 74-7 74-8 74-6 74-6 74-6 74-5 74-4 74-3 74-3 74-2 74-2 74-2 74-2 74-2 74-1 30-1 30 4 29 17 30 39 29 58 30 73 30 90 29 111 30 129 29 134 30 126 30 107 29 80 30 57 29 23 30-2 30-8 29-11 30-13 29-15 30-15 30-16 29-19 30-22 29-24 30-26 30-28 29-28 30-28 29-27 30-27 30-26 29-26 30-27 30-26 59-54 59-53 59-52 59-50 60-46 59-42 59-38 59-36 59-34 60-33 59-31 59-31 59-33 59-34 60-33 59-28 59-17 30-2 29 4 30 8 29 11 30 12 30 16 29 21 30 24 29 25 30 28 30 28 29 29 30 32 29 33 30 31 30 27 29 21 30 12 29 1 30-10 30-17 29-19 30-16 30-11 29-10 30-9 29-9 30-9 30-8 29-8 30-7 59-11 59-7 59-1 60 7 59 14 59 18 59 19 59 19 60 17 59 11 18 2 19 2 18 2 19 2 18 2 19 2 18 3 19-1 18 5 19-1 18 2 19-2 18 5 19 8 18-1 19-1 18 5 19 0 18 4 19-1 18 23 19 6 18-2 19-4 18 18 19 32 18-25 19 19 18 10 19 27 18-16 19 32 18-4 19 19 18-2 19 40 18-5 19 11 18 45 19 0 18 56 19-25 18 8 19 17 18 79 19-19 18-23 19 32 18-6 19 49 18-17 19 14 18 47 19 46 18 1 19 13 18-7 19-73 18 97 19 14 18 45 19 65 18-24 19-90"/><path d="M2288 12605l15-12 15 13 14-23 15-41 15 11 15 1 15-34 14 18 15-12 15 5 15-24 15-16 14-9 15-13 15-10 15-25 15-18 14-1 15-20 15-15 15-15 15-14 14-14 15-15 15-15 15-14 15-15 14-15 15-15 15-16 15-17 15-18 15-19 14-19 15-20 59-84 60-84 59-69 59-57 59-50 59-42 60-39 59-45 59-48 59-56 59-67 60-80 59-89 59-98 59-105 59-113 60-130 59-170 59-172 59-165 59-132 60-86 59-47 59-41 59-40 59-37 60-36 59-35 59-34 59-34 60-35 59-35 59-37 59-37 59-37 60-36 59-36 59-34 59-34 59-33 60-32 59-29 59-28 59-29 59-30 60-29 59-29 59-25 59-22 59-22 60-20 59-20 59-19 59-18 59-19 60-20 59-21 59-24 59-25 60-26 59-27 59-26 59-27 59-26 60-26 59-26 59-27 59-29 59-28 60-26 59-21 59-18 59-17 59-17 60-18 59-18 59-18 59-19 59-19 60-19 59-20 59-19 59-20 60-20 59-20 59-20 59-19 59-20 60-20 59-19 59-20 59-19 59-19 60-20 59-19 59-19 59-20 59-19 60-19 59-19 59-19 59-18 59-18 60-18 59-17 59-17 59-17 59-17 60-18 59-18 59-18 59-17 60-17 59-16 59-14 59-14 15-3 30-5 29-6 30-4 29-5 30-3 30-3 29-2 30 4 29 9 30 12 30 13 29 17 30 28 29 30 30 21 30 4 29-12 30-18 29-19 30-24 30-26 29-21 30-12 29-12 30-10 30-11 29-10 30-9 29-9 30-9 30-8 29-8 15-4 74-18 74-16 74-15 74-15 74-14 74-14 74-15 74-14 74-15 74-15 74-14 74-13 74-14 74-13 74-12 74-12 74-12 74-11 74-10 74-10 74-9 74-9 74-7 74-7 74-7 74-6 74-5 74-5 74-4 74-4 74-3 74-2 74-1 74-2 74-2 74-2 74-2 74-1 30 0 30 3 29 17 30 37 29 55 30 68 30 84 29 104 30 121 29 127 30 120 30 101 29 75 30 55 29 21 30-3 30-7 29-12 30-14 29-15 30-16 30-17 29-19 30-23 29-25 30-27 30-28 29-29 30-29 29-29 30-27 30-27 29-28 30-27 30-28 59-55 59-56 59-55 59-52 60-48 59-43 59-41 59-38 59-35 60-34 59-33 59-31 59-33 59-34 60-34 59-27 59-16 30-1 29 5 30 8 29 12 30 14 30 18 29 22 30 25 29 27 30 30 30 29 29 31 30 33 29 35 30 32 30 29 29 22 30 14 29 2 30-8 30-16 29-18 30-15 30-10 29-9 30-8 29-8 30-8 30-7 29-6 30-6 59-9 59-5 59 1 60 10 59 16 59 19 59 22 59 21 60 17 59 13 18 2 19 3 18 1 19 3 18 1 19 2 18 2 19 2 18-1 19 2 18 6 19 1 18 7 19 5 18-1 19 3 18 4 19 1 18 0 19-9 18 29 19 5 18 3 19 9 18 17 19 9 18 3 19 5 18 21 19 15 18 31 19-31 18 32 19-9 18 19 19 60 18-35 19 18 18 5 19 43 18-12 19-13 18 55 19 32 18-4 19 21 18-7 19 9 18 42 19-17 18 36 19-1 18 40 19 49 18-11 19 57 18-10 19-2 18-14 19 54 18-35 19 93 18-73 19 11"/><path d="M2288 12569l15-25 15 28 14-27 15-4 15 8 15-57 15 20 14-4 15-5 15-24 15-22 15 1 14-17 15-9 15-20 15-30 15-11 14-21 15-18 15-15 15-16 15-16 14-16 15-16 15-15 15-16 15-16 14-15 15-16 15-16 15-18 15-18 15-19 14-20 15-20 59-85 60-86 59-70 59-58 59-44 59-32 60-27 59-32 59-39 59-53 59-68 60-82 59-90 59-100 59-108 59-114 60-131 59-169 59-171 59-163 59-131 60-85 59-46 59-41 59-37 59-35 60-33 59-31 59-31 59-31 60-32 59-34 59-36 59-38 59-39 60-40 59-41 59-41 59-41 59-41 60-39 59-37 59-36 59-36 59-35 60-34 59-32 59-27 59-23 59-21 60-20 59-18 59-17 59-17 59-16 60-16 59-18 59-21 59-21 60-22 59-22 59-23 59-22 59-23 60-22 59-23 59-23 59-25 59-26 60-23 59-21 59-17 59-16 59-17 60-18 59-19 59-20 59-21 59-21 60-22 59-22 59-22 59-23 60-24 59-23 59-24 59-24 59-24 60-24 59-24 59-24 59-24 59-24 60-24 59-24 59-24 59-24 59-24 60-24 59-23 59-23 59-22 59-22 60-22 59-20 59-20 59-20 59-20 60-20 59-20 59-19 59-19 60-17 59-16 59-15 59-12 15-3 30-5 29-4 30-4 29-3 30-3 30-1 29 0 30 6 29 10 30 13 30 15 29 19 30 30 29 31 30 24 30 5 29-10 30-16 29-18 30-23 30-25 29-19 30-11 29-9 30-10 30-8 29-8 30-8 29-7 30-7 30-7 29-6 15-3 74-14 74-12 74-11 74-10 74-11 74-10 74-11 74-11 74-11 74-11 74-11 74-10 74-11 74-10 74-10 74-9 74-9 74-9 74-8 74-8 74-7 74-7 74-7 74-5 74-5 74-6 74-4 74-5 74-4 74-3 74-3 74-2 74-2 74-2 74-2 74-2 74-2 74-1 30 0 30 4 29 16 30 37 29 55 30 67 30 84 29 103 30 120 29 127 30 119 30 100 29 75 30 54 29 22 30-3 30-7 29-11 30-13 29-15 30-16 30-16 29-18 30-22 29-24 30-26 30-27 29-28 30-28 29-27 30-26 30-26 29-26 30-26 30-26 59-54 59-53 59-52 59-49 60-47 59-41 59-39 59-36 59-35 60-34 59-32 59-33 59-34 59-35 60-37 59-31 59-19 30-3 29 1 30 6 29 9 30 11 30 14 29 20 30 22 29 24 30 26 30 26 29 27 30 31 29 31 30 30 30 25 29 19 30 10 29 0 30-13 30-19 29-21 30-19 30-14 29-12 30-11 29-12 30-11 30-11 29-10 30-9 59-15 59-11 59-4 60 4 59 12 59 15 59 18 59 18 60 15 59 10 18 2 19 3 18 1 19 1 18 2 19 1 18 2 19 3 18 2 19 1 18 1 19 2 18 1 19 5 18 7 19-1 18 3 19 2 18 15 19 0 18-3 19 27 18 8 19 1 18 6 19 14 18 1 19 33 18 18 19 9 18 3 19 14 18 18 19 32 18-25 19 27 18 3 19 5 18 44 19 33 18-28 19 60 18 11 19 14 18 40 19-30 18 76 19-32 18 43 19-40 18 91 19-8 18 0 19 4 18 59 19 57 18-7 19-12 18 3 19 7 18 46 19-33 18 67 19 79"/><path d="M2288 12581l15-11 15-19 14 15 15-13 15 1 15-46 15-17 14-5 15-20 15 2 15-18 15-19 14-8 15-10 15-20 15-24 15-15 14-17 15-16 15-18 15-16 15-17 14-16 15-17 15-16 15-16 15-16 14-16 15-16 15-16 15-18 15-18 15-19 14-19 15-20 59-85 60-87 59-72 59-61 59-54 59-46 60-46 59-51 59-56 59-63 59-75 60-88 59-99 59-106 59-113 59-118 60-128 59-157 59-154 59-145 59-114 60-74 59-47 59-40 59-36 59-32 60-28 59-27 59-25 59-26 60-27 59-30 59-32 59-35 59-38 60-41 59-42 59-42 59-43 59-42 60-41 59-39 59-37 59-38 59-37 60-36 59-33 59-29 59-24 59-22 60-21 59-19 59-17 59-16 59-15 60-16 59-18 59-19 59-20 60-21 59-21 59-21 59-21 59-21 60-20 59-21 59-23 59-23 59-24 60-23 59-19 59-16 59-16 59-16 60-18 59-19 59-20 59-20 59-21 60-22 59-22 59-22 59-23 60-24 59-23 59-24 59-25 59-24 60-24 59-25 59-24 59-24 59-25 60-24 59-25 59-24 59-25 59-24 60-24 59-24 59-24 59-23 59-22 60-22 59-21 59-20 59-20 59-21 60-20 59-20 59-20 59-18 60-18 59-16 59-15 59-12 15-3 30-5 29-4 30-4 29-3 30-2 30-1 29 0 30 6 29 11 30 13 30 15 29 19 30 30 29 32 30 24 30 6 29-10 30-17 29-17 30-23 30-25 29-19 30-11 29-9 30-9 30-9 29-8 30-7 29-7 30-7 30-6 29-6 15-3 74-13 74-12 74-11 74-10 74-9 74-10 74-11 74-11 74-11 74-11 74-10 74-11 74-10 74-10 74-10 74-10 74-9 74-9 74-8 74-8 74-8 74-7 74-7 74-6 74-6 74-5 74-5 74-5 74-5 74-4 74-3 74-2 74-3 74-2 74-3 74-2 74-2 74-2 30 0 30 4 29 15 30 27 29 36 30 43 30 54 29 70 30 85 29 91 30 86 30 72 29 54 30 38 29 16 30-3 30-7 29-11 30-12 29-14 30-14 30-14 29-16 30-19 29-20 30-23 30-23 29-23 30-24 29-22 30-22 30-21 29-20 30-21 30-20 59-41 59-41 59-39 59-36 60-32 59-27 59-24 59-21 59-21 60-19 59-18 59-19 59-20 59-23 60-25 59-19 59-9 30 1 29 7 30 10 29 13 30 15 30 17 29 23 30 25 29 27 30 28 30 28 29 29 30 33 29 32 30 31 30 26 29 20 30 10 29 0 30-12 30-20 29-22 30-19 30-14 29-13 30-12 29-13 30-12 30-11 29-12 30-10 59-18 59-14 59-7 60 1 59 9 59 13 59 15 59 15 60 13 59 9 18 1 19 2 18 1 19 1 18 3 19-1 18 2 19 1 18 5 19 1 18-4 19 3 18 6 19 0 18 7 19 2 18-3 19 8 18 9 19 2 18 7 19 9 18 3 19 22 18-15 19 27 18 0 19 22 18 17 19 10 18 13 19 15 18 10 19 2 18 28 19 18 18 13 19 5 18 15 19-29 18 38 19 29 18 43 19 23 18-7 19-13 18 58 19 32 18 13 19-23 18 6 19 23 18 12 19 84 18-4 19 82 18 2 19-3 18-43 19 68 18 10 19-56 18 22 19 38"/><path d="M2288 12589l15-45 15-29 14 18 15-2 15-42 15 37 15-53 14 12 15-19 15-30 15-7 15-14 14-20 15-9 15-22 15-26 15-10 14-20 15-15 15-17 15-17 15-16 14-17 15-17 15-16 15-16 15-16 14-16 15-17 15-16 15-18 15-18 15-19 14-20 15-20 59-86 60-87 59-73 59-61 59-55 59-47 60-45 59-52 59-56 59-64 59-75 60-89 59-98 59-107 59-112 59-118 60-127 59-156 59-153 59-144 59-112 60-74 59-46 59-41 59-37 59-34 60-32 59-30 59-29 59-29 60-31 59-33 59-35 59-36 59-39 60-41 59-42 59-42 59-44 59-43 60-43 59-40 59-39 59-39 59-38 60-38 59-34 59-30 59-25 59-23 60-22 59-19 59-18 59-17 59-16 60-16 59-18 59-19 59-21 60-21 59-21 59-21 59-21 59-21 60-20 59-21 59-22 59-24 59-24 60-22 59-19 59-16 59-16 59-16 60-18 59-18 59-19 59-20 59-20 60-21 59-21 59-21 59-22 60-22 59-22 59-22 59-23 59-23 60-22 59-23 59-22 59-23 59-22 60-22 59-23 59-22 59-23 59-22 60-22 59-22 59-21 59-21 59-21 60-20 59-19 59-19 59-19 59-19 60-19 59-19 59-18 59-18 60-17 59-16 59-14 59-12 15-3 30-5 29-4 30-4 29-3 30-2 30-2 29 0 30 6 29 10 30 13 30 15 29 18 30 30 29 32 30 23 30 5 29-10 30-17 29-18 30-23 30-25 29-20 30-11 29-10 30-10 30-9 29-8 30-8 29-7 30-8 30-6 29-7 15-3 74-14 74-13 74-12 74-11 74-10 74-11 74-11 74-12 74-11 74-12 74-11 74-11 74-10 74-11 74-10 74-9 74-9 74-9 74-8 74-8 74-7 74-7 74-6 74-5 74-5 74-4 74-5 74-4 74-3 74-3 74-2 74-2 74-1 74-2 74-2 74-1 74-1 74-1 30 0 30 4 29 16 30 27 29 38 30 43 30 55 29 71 30 86 29 93 30 88 30 73 29 54 30 39 29 16 30-3 30-8 29-11 30-13 29-15 30-15 30-16 29-18 30-20 29-23 30-25 30-25 29-26 30-26 29-26 30-25 30-24 29-24 30-24 30-24 59-49 59-48 59-47 59-44 60-41 59-35 59-33 59-30 59-28 60-27 59-26 59-25 59-28 59-29 60-30 59-25 59-13 30-1 29 5 30 9 29 12 30 14 30 18 29 23 30 26 29 28 30 31 30 30 29 31 30 35 29 36 30 34 30 29 29 24 30 14 29 2 30-9 30-16 29-18 30-16 30-11 29-8 30-9 29-9 30-8 30-8 29-7 30-6 59-10 59-5 59 1 60 9 59 16 59 20 59 21 59 20 60 18 59 12 18 2 19 2 18 2 19 1 18 2 19 0 18 3 19 3 18 1 19-4 18 10 19 1 18 1 19 4 18 2 19 10 18-2 19-4 18 9 19 21 18 3 19 5 18-5 19 20 18 15 19 1 18 18 19 16 18 12 19 5 18 13 19-10 18 26 19 30 18 28 19-11 18 31 19-5 18-4 19 43 18 16 19-12 18 17 19 37 18 4 19 42 18-30 19 75 18-22 19 45 18-38 19 92 18-5 19 80 18-106 19 11 18 105 19 24 18-81 19 104 18 33 19 37 18-35 19-55"/><path d="M2288 12507l15 78 15-46 14 0 15-36 15-9 15-12 15-23 14-3 15-23 15-5 15 2 15-27 14-21 15-1 15-21 15-25 15-24 14-9 15-18 15-19 15-17 15-16 14-17 15-17 15-16 15-16 15-16 14-16 15-16 15-17 15-17 15-19 15-19 14-19 15-20 59-86 60-87 59-73 59-61 59-54 59-47 60-45 59-51 59-56 59-64 59-75 60-90 59-98 59-106 59-113 59-116 60-127 59-151 59-149 59-141 59-111 60-79 59-58 59-55 59-53 59-49 60-47 59-46 59-45 59-44 60-45 59-47 59-47 59-47 59-48 60-49 59-50 59-49 59-50 59-49 60-47 59-45 59-42 59-41 59-41 60-40 59-36 59-32 59-28 59-25 60-24 59-21 59-19 59-18 59-16 60-17 59-18 59-20 59-21 60-21 59-21 59-21 59-20 59-20 60-20 59-20 59-20 59-22 59-21 60-21 59-17 59-14 59-14 59-13 60-15 59-16 59-15 59-16 59-16 60-16 59-16 59-16 59-17 60-16 59-17 59-16 59-16 59-16 60-17 59-16 59-15 59-16 59-15 60-16 59-16 59-15 59-16 59-15 60-16 59-15 59-15 59-15 59-15 60-14 59-14 59-13 59-13 59-15 60-14 59-15 59-15 59-14 60-14 59-13 59-12 59-10 15-3 30-4 29-4 30-3 29-3 30-2 30-2 29 0 30 5 29 10 30 13 30 14 29 19 30 30 29 31 30 23 30 5 29-11 30-17 29-18 30-24 30-26 29-20 30-11 29-10 30-10 30-9 29-9 30-9 29-7 30-8 30-7 29-7 15-3 74-15 74-14 74-12 74-12 74-11 74-11 74-12 74-12 74-12 74-11 74-12 74-11 74-10 74-10 74-10 74-9 74-9 74-9 74-7 74-8 74-6 74-6 74-6 74-4 74-4 74-4 74-4 74-3 74-3 74-3 74-1 74-1 74-1 74-1 74-1 74-1 74-1 74 0 30 0 30 4 29 15 30 28 29 38 30 44 30 56 29 71 30 87 29 93 30 88 30 74 29 55 30 39 29 16 30-3 30-8 29-11 30-14 29-15 30-15 30-15 29-18 30-20 29-23 30-25 30-25 29-26 30-26 29-26 30-24 30-25 29-24 30-23 30-24 59-49 59-48 59-47 59-44 60-41 59-36 59-33 59-30 59-29 60-27 59-27 59-27 59-29 59-30 60-32 59-27 59-16 30-1 29 4 30 7 29 11 30 12 30 17 29 21 30 25 29 27 30 29 30 29 29 30 30 33 29 34 30 33 30 28 29 22 30 13 29 1 30-11 30-17 29-21 30-17 30-12 29-10 30-11 29-10 30-9 30-10 29-8 30-8 59-12 59-8 59-1 60 7 59 14 59 18 59 20 59 19 60 16 59 12 18 2 19 2 18 1 19 2 18 0 19 3 18 1 19 0 18 5 19 4 18-1 19 2 18 2 19 3 18 10 19 0 18 6 19 5 18-15 19 24 18 9 19 5 18-6 19 15 18 23 19 8 18 12 19-5 18 28 19 28 18-5 19 32 18 8 19 13 18-9 19 14 18 14 19 48 18 19 19-29 18 11 19 46 18 44 19-5 18 27 19 15 18 21 19 1 18 35 19 24 18-4 19 73 18-65 19 39 18 4 19 82 18 20 19-46 18 48 19-1 18-18 19 39 18 63 19 27"/><path d="M2288 12536l15 7 15 6 14-1 15-31 15-31 15-23 15 13 14-18 15-17 15-14 15-12 15-8 14-13 15-27 15-3 15-21 15-25 14-16 15-16 15-19 15-17 15-17 14-17 15-16 15-17 15-16 15-16 14-16 15-16 15-17 15-17 15-19 15-19 14-19 15-20 59-87 60-88 59-74 59-61 59-55 59-47 60-46 59-53 59-57 59-65 59-77 60-90 59-100 59-107 59-114 59-118 60-126 59-151 59-148 59-140 59-113 60-82 59-63 59-62 59-58 59-55 60-53 59-51 59-50 59-50 60-50 59-51 59-51 59-51 59-52 60-52 59-53 59-53 59-52 59-52 60-50 59-46 59-44 59-43 59-42 60-40 59-36 59-32 59-28 59-25 60-23 59-22 59-19 59-17 59-16 60-16 59-18 59-19 59-20 60-21 59-20 59-21 59-19 59-19 60-19 59-18 59-19 59-21 59-20 60-19 59-15 59-13 59-12 59-12 60-14 59-13 59-14 59-14 59-14 60-14 59-14 59-15 59-14 60-14 59-15 59-14 59-14 59-15 60-14 59-14 59-13 59-14 59-13 60-14 59-13 59-14 59-14 59-13 60-14 59-13 59-14 59-13 59-12 60-13 59-12 59-12 59-12 59-13 60-13 59-13 59-14 59-13 60-13 59-12 59-11 59-9 15-3 30-4 29-3 30-3 29-3 30-2 30-1 29 0 30 5 29 10 30 14 30 14 29 18 30 30 29 31 30 23 30 6 29-11 30-17 29-18 30-24 30-26 29-20 30-11 29-11 30-10 30-9 29-9 30-8 29-8 30-7 30-8 29-6 15-4 74-15 74-14 74-12 74-12 74-12 74-11 74-12 74-13 74-12 74-13 74-11 74-12 74-11 74-11 74-10 74-10 74-10 74-9 74-8 74-8 74-7 74-7 74-6 74-5 74-5 74-4 74-4 74-4 74-3 74-3 74-2 74-1 74 0 74-1 74-2 74-1 74 0 74 0 30 0 30 4 29 15 30 27 29 35 30 41 30 52 29 67 30 83 29 88 30 84 30 71 29 51 30 38 29 15 30-3 30-8 29-11 30-13 29-15 30-14 30-15 29-18 30-20 29-22 30-24 30-24 29-26 30-25 29-25 30-23 30-24 29-23 30-23 30-23 59-46 59-47 59-45 59-42 60-38 59-34 59-31 59-28 59-27 60-26 59-25 59-26 59-27 59-30 60-31 59-26 59-15 30-1 29 4 30 7 29 11 30 12 30 16 29 22 30 24 29 27 30 29 30 28 29 30 30 33 29 34 30 32 30 28 29 22 30 12 29 0 30-11 30-18 29-21 30-18 30-13 29-11 30-11 29-11 30-10 30-10 29-9 30-9 59-13 59-9 59-3 60 6 59 13 59 17 59 19 59 18 60 16 59 10 18 2 19 2 18 2 19 1 18 1 19 1 18 2 19 0 18 3 19 4 18 3 19 1 18 3 19 1 18 8 19 5 18-4 19 4 18 1 19 9 18 5 19 25 18 4 19-14 18 29 19 0 18-5 19 33 18 1 19 25 18 15 19-3 18 45 19-7 18-1 19-1 18 81 19-39 18 31 19 20 18 29 19-31 18-8 19 74 18-21 19 47 18 79 19-52 18 53 19-33 18 139 19-82 18 42 19 2 18 2 19 75 18-27 19-7 18 31 19 27 18 33 19 19 18-23 19 29"/><path d="M2288 12581l15-61 15 22 14-46 15 3 15-29 15-32 15 10 14 7 15-10 15-17 15-32 15-13 14-22 15-7 15-15 15-21 15-21 14-14 15-18 15-18 15-17 15-17 14-17 15-16 15-17 15-16 15-16 14-17 15-16 15-17 15-17 15-19 15-19 14-19 15-20 59-87 60-90 59-75 59-62 59-55 59-48 60-47 59-53 59-58 59-67 59-78 60-92 59-101 59-109 59-114 59-118 60-127 59-151 59-148 59-140 59-112 60-82 59-64 59-62 59-59 59-55 60-53 59-52 59-50 59-50 60-50 59-52 59-52 59-51 59-53 60-53 59-54 59-55 59-54 59-54 60-51 59-48 59-45 59-44 59-43 60-40 59-36 59-31 59-27 59-25 60-22 59-20 59-18 59-16 59-15 60-15 59-17 59-18 59-19 60-19 59-20 59-19 59-19 59-18 60-19 59-18 59-19 59-20 59-20 60-19 59-16 59-14 59-13 59-14 60-15 59-16 59-16 59-17 59-17 60-18 59-18 59-18 59-19 60-19 59-19 59-19 59-20 59-19 60-20 59-19 59-20 59-19 59-19 60-19 59-20 59-19 59-20 59-19 60-19 59-19 59-19 59-18 59-18 60-17 59-17 59-16 59-17 59-16 60-17 59-17 59-17 59-16 60-15 59-14 59-12 59-11 15-2 30-5 29-3 30-3 29-3 30-1 30-1 29 0 30 7 29 11 30 13 30 16 29 19 30 31 29 33 30 25 30 6 29-9 30-16 29-17 30-23 30-25 29-19 30-10 29-9 30-8 30-7 29-7 30-7 29-6 30-5 30-5 29-5 15-2 74-10 74-8 74-6 74-6 74-5 74-6 74-6 74-6 74-6 74-6 74-5 74-6 74-5 74-5 74-5 74-4 74-4 74-4 74-4 74-4 74-3 74-3 74-2 74-3 74-2 74-2 74-2 74-3 74-2 74-2 74-2 74-2 74-2 74-2 74-2 74-2 74-2 74-1 30 0 30 4 29 15 30 26 29 34 30 40 30 50 29 66 30 80 29 86 30 83 30 68 29 51 30 37 29 14 30-3 30-8 29-11 30-14 29-14 30-15 30-15 29-17 30-20 29-22 30-24 30-25 29-25 30-25 29-24 30-24 30-23 29-23 30-22 30-23 59-45 59-46 59-44 59-41 60-38 59-32 59-30 59-27 59-26 60-24 59-24 59-24 59-26 59-29 60-30 59-25 59-14 30-1 29 5 30 8 29 11 30 13 30 16 29 22 30 26 29 27 30 30 30 29 29 30 30 34 29 35 30 32 30 29 29 22 30 13 29 1 30-11 30-18 29-21 30-18 30-12 29-11 30-10 29-11 30-10 30-10 29-9 30-8 59-13 59-9 59-2 60 7 59 13 59 17 59 19 59 19 60 16 59 10 18 2 19 2 18 2 19 1 18 2 19 0 18 1 19 5 18 0 19 1 18 1 19 0 18 5 19-2 18 10 19 4 18-1 19 13 18 4 19 1 18-1 19 8 18 4 19 0 18 26 19 17 18-12 19 31 18 5 19 16 18 21 19 16 18-10 19 34 18-5 19-22 18 92 19-20 18 8 19 48 18-2 19-5 18 34 19 20 18 5 19-37 18 80 19-11 18 14 19 47 18 80 19-82 18 64 19-39 18 12 19 58 18 63 19-4 18 17 19 54 18-10 19-26 18 1 19 42"/><path d="M2288 12532l15-25 15-8 14-17 15-15 15-17 15-5 15 25 14-24 15-11 15-29 15-17 15-7 14-27 15-7 15-24 15-15 15-25 14-11 15-21 15-17 15-17 15-17 14-17 15-17 15-16 15-17 15-16 14-16 15-16 15-17 15-18 15-18 15-19 14-20 15-20 59-87 60-90 59-75 59-62 59-55 59-49 60-46 59-54 59-58 59-68 59-78 60-93 59-101 59-110 59-114 59-119 60-126 59-151 59-147 59-140 59-112 60-82 59-65 59-62 59-58 59-56 60-53 59-52 59-50 59-50 60-51 59-51 59-53 59-52 59-53 60-54 59-55 59-55 59-56 59-55 60-52 59-49 59-46 59-45 59-44 60-40 59-36 59-31 59-27 59-25 60-22 59-20 59-18 59-16 59-14 60-15 59-16 59-18 59-19 60-20 59-19 59-19 59-19 59-18 60-18 59-18 59-18 59-20 59-20 60-19 59-15 59-13 59-13 59-14 60-14 59-16 59-16 59-16 59-17 60-17 59-18 59-18 59-18 60-19 59-19 59-19 59-19 59-19 60-19 59-19 59-19 59-19 59-19 60-19 59-19 59-20 59-19 59-19 60-19 59-19 59-18 59-18 59-18 60-17 59-17 59-16 59-17 59-16 60-17 59-17 59-17 59-16 60-16 59-14 59-12 59-11 15-2 30-5 29-4 30-3 29-2 30-2 30-1 29 0 30 7 29 10 30 14 30 15 29 20 30 30 29 33 30 25 30 6 29-9 30-17 29-17 30-23 30-26 29-19 30-10 29-9 30-9 30-7 29-8 30-6 29-6 30-6 30-5 29-5 15-3 74-10 74-8 74-7 74-7 74-6 74-5 74-7 74-6 74-7 74-6 74-6 74-6 74-6 74-5 74-5 74-5 74-4 74-4 74-4 74-3 74-4 74-2 74-3 74-2 74-2 74-2 74-2 74-2 74-2 74-2 74-1 74-2 74-1 74-1 74-2 74-1 74-1 74 0 30 0 30 3 29 16 30 26 29 35 30 40 30 51 29 66 30 80 29 87 30 83 30 70 29 51 30 37 29 14 30-3 30-7 29-11 30-13 29-15 30-15 30-14 29-18 30-19 29-22 30-24 30-24 29-25 30-25 29-25 30-23 30-23 29-23 30-23 30-22 59-46 59-46 59-44 59-41 60-38 59-32 59-30 59-28 59-26 60-24 59-25 59-24 59-26 59-29 60-30 59-26 59-14 30-1 29 4 30 8 29 11 30 12 30 17 29 22 30 25 29 28 30 29 30 29 29 30 30 34 29 35 30 33 30 28 29 22 30 13 29 0 30-11 30-18 29-21 30-18 30-12 29-11 30-11 29-11 30-10 30-10 29-9 30-9 59-14 59-9 59-2 60 6 59 12 59 17 59 19 59 18 60 15 59 11 18 1 19 2 18 1 19 1 18 1 19 3 18 0 19 1 18 2 19 1 18 3 19 5 18-1 19-4 18 11 19-2 18 13 19 3 18-1 19 8 18-7 19 3 18 18 19 14 18 19 19-9 18 7 19 12 18 12 19 23 18-8 19 41 18-16 19 66 18-23 19 17 18-16 19 48 18-26 19 67 18-14 19 35 18 22 19 27 18 28 19 13 18 9 19-17 18 3 19 69 18 6 19-7 18 31 19 50 18 17 19-32 18-7 19-5 18 69 19 22 18-22 19 110 18 51 19-92"/><path d="M2288 12531l15-28 15 3 14-19 15-16 15 5 15-16 15-30 14 0 15-27 15-7 15-8 15-17 14-33 15-1 15-28 15-10 15-17 14-23 15-15 15-16 15-17 15-17 14-17 15-16 15-17 15-16 15-16 14-16 15-16 15-17 15-17 15-18 15-19 14-20 15-20 59-86 60-90 59-75 59-62 59-55 59-47 60-46 59-54 59-59 59-67 59-79 60-93 59-101 59-109 59-115 59-118 60-126 59-150 59-148 59-139 59-112 60-82 59-64 59-63 59-59 59-55 60-54 59-52 59-50 59-51 60-51 59-52 59-53 59-53 59-54 60-55 59-57 59-57 59-57 59-57 60-54 59-51 59-48 59-46 59-45 60-41 59-38 59-31 59-28 59-25 60-23 59-21 59-18 59-17 59-15 60-16 59-16 59-19 59-20 60-20 59-20 59-20 59-19 59-18 60-19 59-18 59-19 59-20 59-21 60-18 59-16 59-14 59-13 59-13 60-15 59-15 59-16 59-16 59-17 60-17 59-17 59-18 59-18 60-18 59-19 59-18 59-19 59-18 60-19 59-18 59-19 59-18 59-18 60-18 59-19 59-18 59-19 59-18 60-18 59-18 59-18 59-17 59-17 60-17 59-16 59-15 59-16 59-16 60-16 59-16 59-16 59-16 60-14 59-14 59-12 59-10 15-2 30-4 29-4 30-2 29-3 30-1 30-1 29 1 30 6 29 11 30 14 30 15 29 20 30 31 29 33 30 24 30 7 29-9 30-16 29-18 30-23 30-25 29-20 30-10 29-9 30-8 30-8 29-7 30-7 29-6 30-5 30-6 29-5 15-2 74-10 74-9 74-7 74-7 74-6 74-6 74-7 74-7 74-7 74-7 74-6 74-6 74-7 74-5 74-6 74-5 74-5 74-5 74-5 74-4 74-3 74-4 74-3 74-2 74-3 74-2 74-3 74-2 74-3 74-2 74-2 74-1 74-1 74-2 74-2 74-1 74-1 74 0 30 0 30 3 29 16 30 26 29 36 30 40 30 51 29 66 30 81 29 87 30 84 30 69 29 52 30 37 29 15 30-3 30-8 29-11 30-13 29-15 30-14 30-15 29-17 30-20 29-22 30-24 30-24 29-25 30-25 29-25 30-23 30-23 29-23 30-23 30-22 59-46 59-46 59-44 59-41 60-38 59-33 59-30 59-27 59-26 60-25 59-24 59-25 59-26 59-29 60-30 59-26 59-14 30-1 29 4 30 8 29 11 30 13 30 16 29 22 30 26 29 27 30 30 30 29 29 31 30 33 29 35 30 33 30 29 29 22 30 13 29 0 30-11 30-18 29-21 30-18 30-12 29-11 30-11 29-11 30-11 30-9 29-10 30-8 59-14 59-9 59-3 60 6 59 13 59 17 59 18 59 18 60 15 59 10 18 2 19 2 18 0 19 3 18-1 19 2 18 0 19 3 18 2 19 6 18-1 19-3 18 5 19 2 18 0 19 8 18 3 19 0 18 2 19 14 18 0 19 16 18 6 19-10 18 0 19 30 18 3 19 7 18 14 19 39 18-9 19 42 18-2 19-25 18 46 19 32 18-43 19 23 18 36 19 6 18 61 19-37 18 73 19-53 18 29 19 46 18 22 19 9 18 57 19 25 18 24 19-43 18 48 19-18 18 74 19-109 18 74 19 33 18 7 19 96 18-98 19 39 18 0 19 63"/><path d="M2288 12480l15 29 15-12 14-69 15-10 15 39 15-20 15-42 14 9 15-28 15 10 15-37 15-8 14-8 15-21 15-12 15-22 15-26 14-12 15-19 15-17 15-17 15-17 14-17 15-17 15-17 15-17 15-16 14-16 15-17 15-17 15-17 15-19 15-19 14-20 15-20 59-88 60-91 59-77 59-63 59-56 59-49 60-47 59-54 59-60 59-69 59-80 60-94 59-103 59-109 59-115 59-119 60-126 59-149 59-146 59-139 59-111 60-81 59-66 59-63 59-59 59-57 60-53 59-53 59-51 59-50 60-52 59-53 59-54 59-54 59-55 60-57 59-59 59-61 59-61 59-60 60-58 59-55 59-51 59-49 59-46 60-42 59-37 59-30 59-25 59-24 60-22 59-19 59-18 59-15 59-14 60-15 59-16 59-18 59-19 60-20 59-20 59-20 59-18 59-18 60-18 59-18 59-19 59-20 59-19 60-18 59-15 59-13 59-12 59-13 60-14 59-15 59-15 59-16 59-16 60-17 59-18 59-17 59-18 60-18 59-19 59-18 59-19 59-19 60-19 59-19 59-18 59-19 59-19 60-19 59-18 59-19 59-19 59-19 60-19 59-19 59-18 59-18 59-18 60-17 59-16 59-16 59-16 59-17 60-17 59-17 59-17 59-16 60-15 59-14 59-13 59-10 15-3 30-4 29-4 30-3 29-2 30-2 30-1 29 1 30 6 29 11 30 13 30 15 29 20 30 31 29 33 30 25 30 7 29-10 30-16 29-17 30-23 30-26 29-20 30-10 29-9 30-8 30-8 29-7 30-6 29-6 30-6 30-5 29-4 15-3 74-9 74-8 74-6 74-6 74-5 74-5 74-5 74-6 74-6 74-5 74-5 74-5 74-4 74-4 74-4 74-4 74-3 74-3 74-3 74-3 74-2 74-1 74-2 74-1 74-1 74-1 74-2 74-1 74-2 74-1 74-1 74-1 74-1 74-1 74-1 74-2 74 0 74-1 30 1 30 3 29 16 30 27 29 35 30 41 30 52 29 66 30 81 29 88 30 84 30 70 29 52 30 38 29 14 30-3 30-8 29-11 30-14 29-15 30-15 30-15 29-17 30-21 29-22 30-24 30-25 29-25 30-26 29-25 30-24 30-23 29-23 30-24 30-23 59-47 59-46 59-46 59-42 60-39 59-34 59-31 59-29 59-26 60-26 59-25 59-26 59-27 59-29 60-31 59-26 59-15 30-1 29 4 30 8 29 11 30 12 30 17 29 22 30 26 29 28 30 30 30 29 29 31 30 34 29 36 30 33 30 29 29 23 30 13 29 1 30-10 30-18 29-21 30-18 30-12 29-10 30-11 29-10 30-10 30-9 29-9 30-8 59-13 59-8 59-1 60 7 59 14 59 17 59 20 59 19 60 16 59 11 18 2 19 2 18 1 19 2 18 0 19 2 18 2 19 4 18-3 19 4 18 3 19 0 18 4 19 0 18 10 19-9 18 13 19-1 18 7 19 0 18-10 19 40 18 2 19 6 18 5 19 14 18 4 19 16 18 27 19-12 18 9 19 50 18-20 19 24 18 7 19 26 18 16 19 5 18-5 19 15 18 36 19 54 18-62 19 54 18 31 19-8 18 38 19 9 18 42 19 43 18-39 19 36 18 23 19 9 18 13 19-54 18 93 19-24 18 40 19 49 18 23 19-23 18 15 19 23"/><path d="M2288 12470l15 45 15-9 14-49 15 20 15-28 15-42 15 17 14-18 15-21 15-32 15-5 15-30 14 3 15-19 15-23 15-17 15-9 14-26 15-13 15-19 15-17 15-18 14-17 15-17 15-17 15-16 15-17 14-16 15-17 15-17 15-17 15-19 15-19 14-20 15-20 59-88 60-93 59-77 59-63 59-57 59-48 60-48 59-55 59-60 59-70 59-81 60-94 59-103 59-110 59-115 59-119 60-126 59-148 59-145 59-138 59-110 60-83 59-69 59-66 59-62 59-60 60-56 59-55 59-54 59-54 60-55 59-56 59-58 59-58 59-59 60-62 59-66 59-68 59-69 59-68 60-66 59-63 59-58 59-55 59-51 60-46 59-38 59-31 59-26 59-24 60-21 59-19 59-17 59-15 59-13 60-14 59-15 59-16 59-18 60-19 59-18 59-19 59-17 59-17 60-16 59-17 59-17 59-18 59-19 60-17 59-14 59-12 59-12 59-12 60-14 59-13 59-15 59-14 59-15 60-15 59-15 59-16 59-16 60-16 59-15 59-16 59-16 59-16 60-16 59-16 59-15 59-16 59-15 60-16 59-15 59-16 59-15 59-16 60-15 59-16 59-15 59-14 59-15 60-14 59-14 59-13 59-14 59-14 60-14 59-15 59-15 59-14 60-14 59-13 59-11 59-10 15-2 30-4 29-3 30-3 29-2 30-2 30-1 29 0 30 6 29 11 30 14 30 15 29 19 30 31 29 33 30 25 30 6 29-9 30-17 29-17 30-24 30-26 29-20 30-10 29-10 30-8 30-8 29-7 30-7 29-6 30-6 30-6 29-4 15-3 74-10 74-9 74-7 74-6 74-6 74-5 74-6 74-7 74-6 74-6 74-5 74-6 74-5 74-4 74-4 74-4 74-4 74-3 74-3 74-2 74-3 74-1 74-2 74-1 74-1 74-1 74-1 74-2 74-1 74-1 74-1 74-1 74-1 74-1 74-1 74-1 74-1 74 0 30 0 30 3 29 16 30 27 29 35 30 41 30 52 29 67 30 81 29 88 30 84 30 71 29 52 30 37 29 14 30-3 30-8 29-12 30-14 29-15 30-15 30-16 29-18 30-21 29-23 30-24 30-26 29-26 30-26 29-25 30-25 30-24 29-24 30-24 30-24 59-48 59-49 59-47 59-44 60-40 59-36 59-32 59-30 59-28 60-27 59-26 59-26 59-28 59-30 60-32 59-26 59-15 30-1 29 4 30 8 29 11 30 13 30 17 29 23 30 26 29 28 30 31 30 30 29 31 30 35 29 36 30 34 30 30 29 24 30 13 29 2 30-10 30-17 29-20 30-17 30-12 29-10 30-10 29-9 30-10 30-8 29-8 30-8 59-11 59-7 59 0 60 9 59 15 59 19 59 20 59 21 60 17 59 11 18 2 19 2 18 2 19 1 18 1 19 3 18 0 19 3 18 2 19-1 18 4 19 7 18-2 19 3 18 1 19 8 18 4 19-3 18 11 19 15 18-16 19 25 18 8 19-12 18 8 19 20 18 30 19-10 18 20 19 13 18 10 19 41 18-10 19-8 18 36 19 19 18-14 19 36 18 1 19 1 18 23 19 51 18-3 19-17 18 72 19-7 18-49 19 64 18-18 19 64 18 113 19-1 18-34 19-16 18 6 19 31 18 51 19 53 18-25 19 62 18-34 19-60 18 111 19 45"/><path d="M2288 12498l15 0 15-51 14 1 15-6 15-7 15-10 15-8 14-33 15-21 15-7 15-12 15-18 14-20 15-5 15-18 15-20 15-20 14-19 15-20 15-17 15-18 15-17 14-17 15-18 15-17 15-16 15-17 14-16 15-17 15-17 15-17 15-19 15-19 14-20 15-20 59-89 60-93 59-78 59-64 59-57 59-50 60-48 59-56 59-62 59-71 59-82 60-96 59-105 59-111 59-116 59-120 60-126 59-148 59-145 59-138 59-112 60-83 59-71 59-68 59-66 59-61 60-59 59-58 59-57 59-56 60-57 59-58 59-59 59-60 59-60 60-62 59-66 59-67 59-68 59-67 60-64 59-61 59-56 59-54 59-49 60-44 59-38 59-31 59-25 59-23 60-21 59-19 59-16 59-13 59-12 60-13 59-13 59-16 59-16 60-17 59-17 59-17 59-16 59-16 60-15 59-16 59-16 59-17 59-17 60-17 59-13 59-12 59-12 59-12 60-13 59-14 59-14 59-15 59-15 60-15 59-16 59-15 59-16 60-17 59-16 59-17 59-16 59-17 60-16 59-16 59-17 59-16 59-16 60-16 59-17 59-16 59-16 59-17 60-16 59-16 59-16 59-15 59-15 60-15 59-14 59-14 59-14 59-14 60-15 59-15 59-15 59-15 60-14 59-12 59-11 59-10 15-2 30-4 29-3 30-3 29-2 30-2 30 0 29 0 30 7 29 11 30 13 30 15 29 20 30 31 29 33 30 25 30 7 29-10 30-16 29-17 30-24 30-26 29-20 30-11 29-9 30-8 30-8 29-7 30-7 29-7 30-6 30-5 29-5 15-2 74-11 74-9 74-8 74-7 74-6 74-6 74-8 74-7 74-7 74-8 74-7 74-6 74-7 74-6 74-6 74-6 74-6 74-5 74-5 74-4 74-5 74-3 74-4 74-3 74-3 74-3 74-3 74-3 74-3 74-2 74-2 74-2 74-2 74-1 74-2 74-2 74-1 74-1 30 0 30 3 29 16 30 28 29 38 30 45 30 56 29 70 30 86 29 92 30 89 30 74 29 55 30 40 29 15 30-4 30-8 29-11 30-14 29-15 30-15 30-16 29-18 30-20 29-23 30-24 30-25 29-25 30-26 29-25 30-25 30-23 29-24 30-23 30-24 59-47 59-47 59-46 59-43 60-39 59-34 59-31 59-29 59-27 60-26 59-25 59-25 59-27 59-30 60-31 59-26 59-14 30-1 29 4 30 8 29 11 30 13 30 17 29 23 30 26 29 29 30 31 30 30 29 31 30 35 29 36 30 34 30 30 29 23 30 14 29 2 30-11 30-18 29-20 30-18 30-11 29-11 30-10 29-10 30-10 30-9 29-9 30-7 59-13 59-7 59-2 60 8 59 14 59 18 59 19 59 19 60 16 59 11 18 2 19 1 18 2 19 1 18 0 19 2 18 2 19 1 18 0 19 4 18 3 19 6 18 0 19-8 18 14 19 3 18 0 19 7 18 7 19-4 18-1 19 13 18 15 19-1 18 8 19 3 18 29 19-6 18 21 19 6 18 37 19 10 18 32 19-30 18 8 19 33 18-13 19 29 18 36 19 4 18 32 19-17 18 22 19 25 18 39 19 25 18 21 19-10 18-4 19 25 18 29 19-27 18 35 19-9 18 81 19 16 18-21 19 82 18-12 19 9 18 47 19 5 18-39 19 31"/><path d="M2288 12439l15 33 15-25 14 7 15-41 15-19 15 23 15-19 14-44 15 17 15-34 15 7 15-26 14-26 15-14 15-18 15-30 15-4 14-21 15-16 15-19 15-18 15-17 14-17 15-17 15-17 15-17 15-17 14-16 15-16 15-17 15-18 15-19 15-19 14-20 15-20 59-89 60-93 59-78 59-64 59-57 59-49 60-48 59-56 59-61 59-71 59-83 60-96 59-104 59-111 59-116 59-119 60-126 59-147 59-145 59-137 59-111 60-83 59-70 59-68 59-65 59-62 60-59 59-57 59-57 59-56 60-56 59-58 59-59 59-59 59-60 60-62 59-65 59-66 59-67 59-67 60-63 59-60 59-55 59-53 59-49 60-44 59-37 59-30 59-25 59-23 60-21 59-18 59-16 59-13 59-12 60-12 59-13 59-16 59-16 60-17 59-17 59-17 59-16 59-15 60-15 59-16 59-16 59-17 59-18 60-16 59-14 59-12 59-12 59-13 60-13 59-14 59-15 59-15 59-15 60-16 59-16 59-16 59-17 60-16 59-17 59-17 59-17 59-17 60-17 59-16 59-17 59-17 59-16 60-17 59-16 59-17 59-17 59-16 60-17 59-16 59-16 59-16 59-15 60-15 59-15 59-14 59-14 59-14 60-15 59-16 59-15 59-14 60-14 59-13 59-11 59-10 15-2 30-4 29-3 30-3 29-2 30-1 30-1 29 1 30 6 29 11 30 14 30 15 29 20 30 31 29 33 30 25 30 6 29-9 30-17 29-17 30-24 30-26 29-21 30-10 29-9 30-9 30-8 29-7 30-7 29-7 30-6 30-6 29-5 15-3 74-11 74-10 74-8 74-8 74-7 74-7 74-8 74-9 74-8 74-8 74-8 74-8 74-8 74-7 74-7 74-7 74-7 74-6 74-6 74-5 74-6 74-5 74-4 74-4 74-4 74-4 74-3 74-4 74-4 74-3 74-2 74-2 74-2 74-2 74-2 74-2 74-2 74-1 30-1 30 4 29 15 30 29 29 40 30 47 30 58 29 73 30 89 29 95 30 91 30 77 29 57 30 40 29 15 30-3 30-8 29-12 30-14 29-15 30-15 30-16 29-17 30-21 29-22 30-25 30-25 29-25 30-26 29-25 30-24 30-24 29-24 30-23 30-23 59-47 59-47 59-46 59-42 60-39 59-34 59-31 59-28 59-27 60-25 59-25 59-25 59-26 59-29 60-31 59-25 59-14 30-1 29 5 30 8 29 11 30 13 30 18 29 23 30 26 29 29 30 31 30 30 29 32 30 35 29 36 30 35 30 30 29 23 30 14 29 2 30-10 30-18 29-20 30-17 30-11 29-11 30-10 29-10 30-9 30-9 29-8 30-8 59-12 59-7 59-1 60 8 59 15 59 18 59 20 59 20 60 16 59 11 18 2 19 2 18 1 19 3 18 0 19 3 18-1 19 3 18 0 19 2 18 1 19 2 18 5 19 7 18 0 19-3 18 10 19-12 18 18 19 20 18-26 19 21 18 19 19 17 18 4 19-6 18 33 19 11 18-9 19 17 18 0 19 20 18 37 19-24 18 50 19 0 18 15 19-3 18 41 19-2 18 14 19-14 18 52 19 8 18 46 19 0 18 13 19 5 18 15 19 14 18 58 19-46 18 16 19 72 18 56 19-18 18 0 19 100 18-47 19-16 18 45 19 50 18-39 19 65"/><path d="M2288 12450l15 0 15-7 14-64 15 56 15-24 15-16 15-18 14-19 15 6 15-31 15-6 15-39 14 13 15-31 15-18 15-24 15-17 14-14 15-22 15-14 15-18 15-17 14-17 15-17 15-17 15-17 15-16 14-16 15-17 15-16 15-18 15-18 15-20 14-19 15-20 59-88 60-94 59-78 59-64 59-57 59-49 60-48 59-56 59-62 59-72 59-83 60-97 59-105 59-112 59-116 59-120 60-125 59-146 59-143 59-136 59-111 60-87 59-78 59-79 59-77 59-76 60-73 59-73 59-71 59-70 60-70 59-69 59-67 59-65 59-62 60-61 59-61 59-62 59-62 59-59 60-57 59-52 59-48 59-46 59-43 60-40 59-36 59-30 59-26 59-23 60-20 59-17 59-14 59-11 59-10 60-10 59-10 59-12 59-14 60-13 59-14 59-13 59-13 59-12 60-12 59-12 59-13 59-14 59-15 60-14 59-12 59-11 59-11 59-11 60-12 59-13 59-14 59-14 59-14 60-15 59-15 59-15 59-16 60-15 59-16 59-16 59-17 59-16 60-16 59-16 59-17 59-16 59-16 60-16 59-17 59-17 59-16 59-17 60-17 59-16 59-17 59-16 59-16 60-15 59-15 59-15 59-14 59-15 60-16 59-16 59-16 59-15 60-15 59-13 59-12 59-10 15-3 30-4 29-4 30-3 29-2 30-2 30-1 29 1 30 6 29 10 30 14 30 14 29 20 30 31 29 33 30 24 30 6 29-9 30-17 29-18 30-24 30-27 29-20 30-11 29-9 30-9 30-8 29-8 30-7 29-7 30-6 30-6 29-5 15-3 74-12 74-9 74-9 74-7 74-7 74-8 74-7 74-9 74-8 74-8 74-8 74-7 74-8 74-7 74-7 74-7 74-6 74-6 74-6 74-6 74-5 74-5 74-5 74-4 74-4 74-4 74-4 74-4 74-4 74-3 74-3 74-2 74-3 74-2 74-2 74-3 74-2 74-1 30-1 30 4 29 15 30 30 29 40 30 49 30 60 29 75 30 90 29 97 30 93 30 78 29 59 30 42 29 15 30-4 30-8 29-12 30-14 29-15 30-15 30-16 29-17 30-21 29-22 30-24 30-25 29-26 30-26 29-25 30-24 30-23 29-24 30-23 30-23 59-47 59-46 59-46 59-42 60-38 59-34 59-30 59-28 59-26 60-25 59-24 59-24 59-26 59-29 60-30 59-26 59-13 30-1 29 5 30 8 29 11 30 13 30 18 29 23 30 27 29 29 30 31 30 30 29 32 30 35 29 36 30 35 30 30 29 23 30 14 29 2 30-11 30-17 29-21 30-17 30-12 29-11 30-10 29-11 30-10 30-9 29-9 30-7 59-13 59-8 59-2 60 7 59 13 59 18 59 19 59 18 60 15 59 10 18 2 19 1 18 1 19 1 18 1 19 0 18 1 19 3 18 2 19 3 18-3 19 0 18 7 19 0 18 6 19 4 18-2 19 4 18-4 19 4 18 20 19 16 18-20 19 9 18 17 19 20 18-15 19 30 18 26 19-30 18 25 19 36 18 19 19-15 18 38 19 15 18-24 19 36 18 6 19 19 18 26 19-11 18-1 19 26 18 18 19 42 18 45 19-18 18 12 19 22 18 52 19-7 18 22 19-4 18 37 19 6 18 68 19-19 18 58 19-9 18 11 19-59 18 74 19-14"/><path d="M2288 12473l15-24 15-11 14-21 15 13 15-67 15 29 15-29 14-21 15-10 15-6 15-12 15-10 14-31 15-17 15-8 15-19 15-27 14-16 15-16 15-18 15-18 15-18 14-17 15-17 15-17 15-17 15-17 14-16 15-17 15-17 15-17 15-19 15-19 14-20 15-20 59-89 60-95 59-80 59-64 59-58 59-50 60-48 59-57 59-63 59-73 59-84 60-98 59-106 59-113 59-117 59-119 60-126 59-145 59-143 59-136 59-110 60-87 59-78 59-78 59-76 59-75 60-73 59-71 59-70 59-70 60-69 59-68 59-67 59-63 59-61 60-61 59-61 59-62 59-60 59-60 60-56 59-51 59-48 59-46 59-43 60-40 59-36 59-30 59-26 59-23 60-20 59-18 59-14 59-12 59-10 60-10 59-11 59-13 59-14 60-15 59-14 59-14 59-14 59-12 60-13 59-13 59-14 59-16 59-15 60-15 59-13 59-12 59-11 59-13 60-13 59-14 59-14 59-15 59-15 60-15 59-16 59-15 59-16 60-17 59-16 59-16 59-17 59-16 60-16 59-17 59-16 59-16 59-16 60-16 59-16 59-16 59-16 59-16 60-16 59-16 59-16 59-15 59-15 60-14 59-15 59-13 59-14 59-14 60-15 59-15 59-15 59-14 60-14 59-12 59-12 59-9 15-2 30-4 29-3 30-3 29-2 30-2 30 0 29 0 30 7 29 10 30 14 30 15 29 20 30 31 29 33 30 25 30 6 29-9 30-17 29-18 30-24 30-26 29-21 30-10 29-10 30-9 30-8 29-7 30-8 29-6 30-7 30-5 29-6 15-2 74-12 74-10 74-9 74-7 74-8 74-8 74-8 74-9 74-8 74-9 74-8 74-8 74-8 74-8 74-7 74-7 74-7 74-7 74-6 74-6 74-5 74-5 74-5 74-4 74-4 74-4 74-4 74-4 74-3 74-3 74-3 74-2 74-2 74-2 74-2 74-2 74-2 74-1 30 0 30 4 29 15 30 30 29 40 30 48 30 60 29 75 30 90 29 96 30 93 30 78 29 58 30 42 29 15 30-3 30-9 29-11 30-14 29-15 30-16 30-15 29-18 30-21 29-22 30-24 30-25 29-26 30-26 29-25 30-24 30-24 29-23 30-24 30-23 59-47 59-47 59-46 59-43 60-39 59-34 59-30 59-29 59-26 60-26 59-25 59-25 59-26 59-30 60-30 59-26 59-15 30 0 29 4 30 8 29 12 30 12 30 18 29 23 30 26 29 30 30 30 30 31 29 31 30 36 29 36 30 35 30 30 29 23 30 14 29 2 30-10 30-18 29-21 30-17 30-12 29-11 30-10 29-10 30-10 30-9 29-9 30-8 59-12 59-8 59-1 60 8 59 14 59 18 59 20 59 19 60 16 59 10 18 2 19 2 18 1 19 1 18 1 19 2 18-1 19 6 18-3 19 4 18 2 19 1 18 3 19-1 18 5 19 8 18 3 19-6 18 11 19-7 18 17 19 8 18-4 19 32 18-16 19 35 18-19 19 36 18-19 19 29 18 1 19 34 18-3 19 22 18 20 19-7 18 20 19 29 18-8 19 42 18-29 19 96 18-2 19-42 18 32 19 28 18 41 19 22 18 27 19 22 18-49 19 56 18 7 19 42 18-6 19-38 18 61 19 124 18-72 19 63 18-32 19 8 18 29 19 5"/><path d="M2288 12453l15-39 15-38 14 41 15-19 15-29 15-8 15 0 14-20 15-31 15 12 15-4 15-42 14-24 15-3 15-18 15-30 15-20 14-16 15-15 15-18 15-18 15-17 14-18 15-17 15-17 15-17 15-16 14-17 15-16 15-17 15-18 15-19 15-19 14-20 15-20 59-89 60-95 59-80 59-65 59-57 59-50 60-48 59-57 59-64 59-73 59-84 60-99 59-106 59-112 59-117 59-120 60-125 59-144 59-142 59-136 59-109 60-86 59-77 59-78 59-76 59-73 60-72 59-71 59-69 59-69 60-68 59-68 59-66 59-63 59-61 60-60 59-60 59-62 59-60 59-59 60-56 59-51 59-48 59-45 59-43 60-40 59-35 59-31 59-26 59-23 60-20 59-17 59-15 59-12 59-10 60-10 59-11 59-13 59-14 60-15 59-14 59-15 59-13 59-13 60-13 59-14 59-14 59-15 59-16 60-16 59-13 59-12 59-12 59-12 60-14 59-14 59-15 59-15 59-15 60-16 59-16 59-16 59-16 60-17 59-17 59-16 59-17 59-17 60-16 59-17 59-17 59-16 59-16 60-16 59-17 59-16 59-17 59-16 60-17 59-16 59-16 59-15 59-15 60-15 59-15 59-13 59-14 59-15 60-15 59-15 59-15 59-15 60-14 59-13 59-11 59-10 15-2 30-4 29-3 30-3 29-2 30-2 30-1 29 1 30 6 29 11 30 13 30 15 29 20 30 31 29 33 30 25 30 6 29-9 30-17 29-18 30-24 30-27 29-20 30-11 29-9 30-9 30-8 29-8 30-7 29-7 30-6 30-6 29-5 15-3 74-11 74-10 74-9 74-7 74-8 74-7 74-8 74-9 74-8 74-8 74-8 74-8 74-7 74-8 74-7 74-6 74-7 74-6 74-5 74-6 74-5 74-4 74-4 74-4 74-3 74-4 74-3 74-3 74-3 74-2 74-2 74-2 74-1 74-1 74-2 74-1 74-1 74-1 30 0 30 4 29 16 30 29 29 41 30 48 30 60 29 74 30 90 29 96 30 93 30 78 29 58 30 42 29 15 30-3 30-8 29-12 30-13 29-15 30-16 30-15 29-18 30-20 29-23 30-24 30-25 29-25 30-26 29-25 30-24 30-24 29-23 30-23 30-24 59-47 59-47 59-46 59-43 60-39 59-34 59-31 59-28 59-27 60-26 59-25 59-26 59-27 59-29 60-31 59-27 59-14 30-1 29 4 30 8 29 11 30 12 30 17 29 23 30 27 29 29 30 30 30 30 29 32 30 35 29 36 30 35 30 30 29 23 30 13 29 2 30-11 30-18 29-21 30-18 30-12 29-11 30-11 29-10 30-11 30-9 29-9 30-8 59-13 59-9 59-2 60 7 59 14 59 17 59 20 59 18 60 16 59 10 18 1 19 2 18 1 19 1 18 1 19 1 18 2 19 2 18-1 19-1 18 8 19-5 18 2 19 5 18 8 19-7 18 10 19 13 18-3 19 1 18 1 19 0 18 30 19-14 18 22 19 18 18-5 19 15 18 26 19 2 18 26 19 12 18 19 19-29 18 39 19 10 18 9 19-12 18 42 19 42 18 11 19-18 18 29 19 17 18 38 19-18 18 18 19-3 18 76 19 48 18-23 19 24 18 24 19-42 18 73 19 48 18 3 19-24 18-3 19 19 18 87 19-52 18 45 19 20"/><path d="M2288 12413l15-23 15 16 14-34 15-6 15 13 15-21 15-54 14 2 15 9 15-34 15 2 15-15 14-18 15-14 15-37 15-15 15-17 14-18 15-16 15-19 15-18 15-18 14-17 15-18 15-17 15-17 15-16 14-17 15-16 15-17 15-18 15-19 15-19 14-20 15-20 59-90 60-96 59-80 59-66 59-57 59-51 60-48 59-58 59-64 59-74 59-86 60-99 59-107 59-113 59-117 59-120 60-125 59-144 59-142 59-135 59-109 60-86 59-77 59-77 59-75 59-73 60-72 59-70 59-69 59-68 60-67 59-68 59-65 59-63 59-60 60-60 59-61 59-61 59-61 59-58 60-56 59-52 59-47 59-46 59-42 60-40 59-35 59-31 59-26 59-23 60-20 59-18 59-14 59-12 59-10 60-10 59-11 59-13 59-14 60-15 59-15 59-14 59-14 59-13 60-13 59-13 59-14 59-16 59-16 60-15 59-13 59-12 59-12 59-13 60-14 59-14 59-15 59-15 59-15 60-16 59-16 59-16 59-16 60-17 59-16 59-17 59-17 59-16 60-17 59-16 59-17 59-16 59-16 60-16 59-16 59-17 59-16 59-16 60-16 59-16 59-16 59-15 59-15 60-15 59-14 59-14 59-13 59-15 60-15 59-15 59-15 59-14 60-14 59-13 59-11 59-10 15-2 30-4 29-3 30-3 29-2 30-2 30 0 29 0 30 7 29 10 30 14 30 15 29 20 30 31 29 33 30 25 30 6 29-9 30-17 29-18 30-24 30-27 29-21 30-10 29-10 30-8 30-9 29-7 30-8 29-6 30-6 30-6 29-6 15-2 74-12 74-9 74-9 74-7 74-8 74-7 74-8 74-8 74-9 74-8 74-8 74-7 74-8 74-7 74-7 74-7 74-6 74-6 74-6 74-5 74-5 74-4 74-4 74-4 74-3 74-4 74-3 74-3 74-3 74-3 74-2 74-1 74-2 74-1 74-2 74-1 74-1 74-1 30 0 30 4 29 15 30 30 29 40 30 48 30 59 29 74 30 89 29 95 30 92 30 78 29 58 30 41 29 15 30-3 30-8 29-12 30-13 29-15 30-16 30-15 29-18 30-20 29-22 30-24 30-25 29-25 30-26 29-24 30-24 30-24 29-23 30-23 30-23 59-47 59-47 59-45 59-43 60-39 59-34 59-31 59-28 59-27 60-26 59-26 59-26 59-28 59-30 60-32 59-28 59-16 30-2 29 3 30 7 29 10 30 12 30 15 29 22 30 25 29 28 30 29 30 28 29 30 30 33 29 34 30 33 30 28 29 21 30 12 29-1 30-14 30-20 29-23 30-21 30-15 29-14 30-13 29-13 30-13 30-12 29-12 30-10 59-18 59-13 59-6 60 2 59 10 59 14 59 17 59 16 60 14 59 8 18 2 19 1 18 1 19 1 18 1 19 0 18 2 19 1 18 4 19 1 18 1 19 5 18-7 19 6 18 13 19-6 18 13 19 2 18 3 19 4 18-1 19 4 18 6 19 28 18 6 19 15 18-4 19 25 18 26 19-9 18 17 19 15 18 51 19 1 18 29 19 29 18-34 19 27 18-35 19 65 18 4 19 30 18 21 19-35 18 78 19 0 18-2 19 36 18 58 19-22 18 81 19-6 18 3 19-10 18 21 19 88 18-19 19 29 18 21 19 43 18 16 19-25 18 47 19-3"/><path d="M2288 12426l15-55 15 16 14 18 15-60 15-2 15 2 15-35 14 4 15-11 15-10 15-22 15-16 14-23 15-13 15-18 15-18 15-19 14-19 15-19 15-19 15-18 15-18 14-17 15-18 15-17 15-17 15-17 14-16 15-17 15-17 15-18 15-19 15-19 14-20 15-20 59-90 60-97 59-80 59-66 59-58 59-50 60-49 59-58 59-64 59-75 59-86 60-100 59-106 59-114 59-117 59-120 60-124 59-144 59-142 59-135 59-109 60-86 59-76 59-77 59-76 59-73 60-71 59-70 59-69 59-67 60-68 59-67 59-66 59-63 59-61 60-60 59-61 59-61 59-61 59-59 60-57 59-51 59-49 59-45 59-44 60-40 59-36 59-31 59-26 59-23 60-21 59-18 59-15 59-12 59-11 60-10 59-11 59-14 59-14 60-15 59-14 59-15 59-14 59-12 60-13 59-14 59-14 59-15 59-16 60-15 59-13 59-11 59-12 59-12 60-14 59-13 59-15 59-14 59-15 60-15 59-16 59-15 59-16 60-16 59-16 59-16 59-16 59-16 60-17 59-16 59-15 59-16 59-16 60-16 59-16 59-16 59-16 59-16 60-16 59-16 59-16 59-15 59-15 60-15 59-14 59-14 59-14 59-14 60-16 59-15 59-15 59-15 60-14 59-13 59-12 59-10 15-2 30-4 29-4 30-3 29-2 30-1 30-1 29 0 30 6 29 11 30 13 30 15 29 20 30 31 29 33 30 24 30 7 29-10 30-17 29-18 30-24 30-27 29-21 30-10 29-10 30-9 30-8 29-8 30-7 29-6 30-7 30-5 29-6 15-2 74-11 74-10 74-8 74-7 74-7 74-7 74-7 74-8 74-8 74-7 74-8 74-7 74-7 74-6 74-6 74-6 74-6 74-6 74-5 74-4 74-5 74-4 74-4 74-3 74-3 74-4 74-3 74-3 74-3 74-3 74-3 74-1 74-2 74-2 74-3 74-2 74-1 74-2 30 0 30 3 29 16 30 29 29 40 30 47 30 58 29 73 30 89 29 95 30 91 30 77 29 58 30 40 29 15 30-4 30-8 29-12 30-14 29-15 30-16 30-15 29-18 30-21 29-22 30-24 30-25 29-26 30-26 29-25 30-24 30-24 29-24 30-23 30-23 59-47 59-47 59-46 59-43 60-39 59-34 59-31 59-29 59-27 60-26 59-26 59-26 59-27 59-31 60-32 59-27 59-16 30-2 29 4 30 7 29 10 30 12 30 16 29 21 30 26 29 28 30 29 30 29 29 30 30 33 29 35 30 33 30 28 29 22 30 11 29 0 30-13 30-21 29-23 30-20 30-15 29-13 30-13 29-13 30-13 30-12 29-11 30-11 59-17 59-13 59-6 60 3 59 10 59 15 59 16 59 17 60 13 59 9 18 1 19 1 18 1 19 2 18 0 19 2 18 2 19 0 18 0 19 2 18 4 19 3 18 2 19 2 18-6 19 8 18 7 19 7 18 7 19-2 18 15 19 15 18 0 19 12 18 0 19 5 18 26 19 12 18 21 19-3 18 4 19 13 18 32 19-19 18 65 19-13 18 23 19 11 18 51 19-39 18 59 19 12 18 36 19 12 18-26 19 4 18 4 19 67 18 41 19 10 18 3 19 47 18-40 19 106 18 28 19 13 18 3 19 58 18-97 19 33 18 60 19 19 18 5 19 54"/><path d="M2288 12405l15 31 15-45 14-58 15 25 15-18 15-24 15 23 14-41 15-24 15 3 15 8 15-35 14-2 15-29 15-12 15-26 15-20 14-28 15-13 15-17 15-18 15-18 14-18 15-17 15-18 15-17 15-17 14-16 15-17 15-17 15-18 15-19 15-20 14-20 15-20 59-91 60-98 59-83 59-66 59-60 59-51 60-51 59-59 59-66 59-77 59-89 60-102 59-109 59-115 59-119 59-121 60-126 59-144 59-144 59-135 59-110 60-86 59-77 59-78 59-75 59-73 60-71 59-70 59-69 59-68 60-67 59-67 59-65 59-63 59-60 60-60 59-61 59-61 59-61 59-58 60-56 59-51 59-47 59-45 59-43 60-39 59-35 59-30 59-26 59-23 60-20 59-17 59-14 59-11 59-10 60-9 59-11 59-13 59-13 60-14 59-15 59-14 59-13 59-13 60-12 59-13 59-14 59-16 59-16 60-15 59-13 59-12 59-12 59-13 60-14 59-14 59-15 59-15 59-16 60-16 59-16 59-16 59-17 60-17 59-16 59-17 59-17 59-17 60-16 59-17 59-16 59-17 59-16 60-16 59-16 59-16 59-17 59-16 60-16 59-15 59-16 59-15 59-14 60-15 59-14 59-13 59-13 59-14 60-15 59-14 59-15 59-13 60-14 59-12 59-11 59-9 15-2 30-3 29-3 30-3 29-2 30-1 30-1 29 1 30 7 29 11 30 14 30 15 29 20 30 31 29 34 30 25 30 7 29-10 30-16 29-18 30-24 30-27 29-20 30-10 29-10 30-8 30-8 29-8 30-7 29-6 30-6 30-6 29-5 15-2 74-11 74-9 74-9 74-7 74-7 74-7 74-8 74-8 74-8 74-8 74-8 74-8 74-8 74-7 74-8 74-7 74-6 74-7 74-6 74-6 74-5 74-5 74-4 74-4 74-4 74-4 74-4 74-3 74-4 74-2 74-3 74-2 74-1 74-2 74-2 74-1 74-1 74-1 30 0 30 4 29 15 30 30 29 40 30 46 30 59 29 72 30 88 29 95 30 91 30 76 29 58 30 40 29 15 30-3 30-8 29-11 30-14 29-15 30-16 30-15 29-17 30-21 29-22 30-24 30-25 29-25 30-26 29-25 30-24 30-24 29-23 30-23 30-24 59-47 59-47 59-46 59-43 60-39 59-34 59-32 59-29 59-27 60-27 59-26 59-26 59-29 59-31 60-32 59-29 59-16 30-2 29 3 30 7 29 9 30 12 30 15 29 22 30 25 29 28 30 29 30 29 29 30 30 33 29 35 30 33 30 28 29 22 30 11 29-1 30-13 30-20 29-24 30-20 30-15 29-14 30-13 29-13 30-13 30-12 29-11 30-11 59-18 59-12 59-6 60 4 59 10 59 15 59 16 59 17 60 14 59 9 18 1 19 2 18 1 19 0 18 1 19 2 18 2 19 1 18-2 19 3 18 1 19 5 18 4 19 1 18 6 19 1 18 6 19 12 18 1 19-2 18 7 19 19 18-1 19 4 18 21 19-6 18 27 19 4 18 23 19 37 18-10 19-4 18 4 19 41 18 8 19-3 18 29 19 26 18-5 19 35 18 31 19-7 18 63 19-31 18 13 19 73 18-18 19 11 18 13 19 58 18-12 19 24 18-22 19 32 18 51 19-15 18 52 19 76 18-16 19 57 18-60 19 81 18-23 19 68"/><path d="M2288 12372l15 17 15 5 14-28 15-11 15-23 15-46 15 11 14-13 15 7 15-25 15-27 15 2 14-23 15-32 15 0 15-25 15-11 14-26 15-23 15-17 15-18 15-18 14-18 15-18 15-17 15-18 15-16 14-17 15-17 15-17 15-18 15-19 15-20 14-20 15-20 59-91 60-100 59-82 59-67 59-60 59-51 60-51 59-59 59-67 59-78 59-89 60-102 59-110 59-115 59-119 59-121 60-125 59-144 59-143 59-136 59-109 60-85 59-77 59-77 59-75 59-72 60-71 59-70 59-68 59-67 60-67 59-66 59-66 59-62 59-61 60-60 59-61 59-61 59-61 59-59 60-56 59-51 59-48 59-45 59-43 60-40 59-35 59-31 59-26 59-23 60-20 59-18 59-14 59-12 59-10 60-10 59-11 59-12 59-14 60-15 59-14 59-14 59-13 59-13 60-13 59-12 59-14 59-15 59-16 60-15 59-13 59-11 59-12 59-12 60-14 59-14 59-14 59-15 59-15 60-15 59-15 59-16 59-16 60-16 59-16 59-16 59-16 59-16 60-16 59-16 59-16 59-16 59-15 60-16 59-16 59-15 59-16 59-16 60-16 59-15 59-15 59-15 59-15 60-14 59-14 59-13 59-14 59-14 60-15 59-15 59-15 59-14 60-14 59-12 59-12 59-9 15-2 30-4 29-4 30-2 29-3 30-1 30-1 29 1 30 6 29 11 30 13 30 15 29 20 30 31 29 33 30 25 30 6 29-9 30-17 29-18 30-24 30-28 29-20 30-11 29-9 30-9 30-8 29-8 30-7 29-7 30-6 30-6 29-5 15-3 74-11 74-9 74-9 74-7 74-7 74-7 74-8 74-8 74-8 74-7 74-8 74-7 74-7 74-7 74-7 74-6 74-6 74-5 74-6 74-4 74-5 74-4 74-4 74-3 74-3 74-3 74-4 74-3 74-3 74-2 74-2 74-2 74-1 74-2 74-2 74-1 74-1 74-1 30 0 30 3 29 16 30 29 29 39 30 47 30 57 29 72 30 87 29 94 30 90 30 76 29 57 30 41 29 14 30-3 30-9 29-11 30-15 29-15 30-16 30-15 29-18 30-21 29-23 30-24 30-25 29-26 30-26 29-26 30-24 30-24 29-24 30-24 30-24 59-48 59-48 59-47 59-44 60-40 59-35 59-33 59-30 59-28 60-28 59-26 59-27 59-29 59-32 60-33 59-29 59-17 30-2 29 3 30 7 29 9 30 12 30 15 29 22 30 25 29 28 30 30 30 28 29 31 30 33 29 35 30 33 30 29 29 22 30 12 29-1 30-13 30-20 29-23 30-21 30-14 29-14 30-13 29-13 30-12 30-12 29-11 30-10 59-18 59-12 59-5 60 4 59 10 59 16 59 17 59 17 60 14 59 9 18 2 19 1 18 1 19 1 18 2 19 0 18 2 19 1 18 4 19-1 18-6 19 12 18 0 19 3 18 7 19-12 18 8 19 13 18-3 19 18 18 6 19 0 18 19 19-15 18 27 19 20 18 18 19 4 18 24 19 1 18 7 19 20 18 46 19 12 18-12 19 17 18 16 19-19 18 33 19 30 18-2 19 30 18-4 19 43 18 45 19-3 18 39 19-6 18 2 19 45 18-35 19 48 18 32 19 12 18 50 19-18 18 78 19 17 18-5 19-10 18 0 19 88 18-17 19 141"/><path d="M2288 12402l15-1 15-59 14 5 15-20 15-44 15 29 15-24 14-12 15-7 15-8 15-21 15-7 14-38 15-8 15-28 15-16 15-14 14-22 15-19 15-19 15-18 15-18 14-18 15-18 15-17 15-18 15-16 14-17 15-17 15-17 15-18 15-19 15-19 14-20 15-21 59-90 60-99 59-83 59-66 59-59 59-51 60-50 59-59 59-66 59-77 59-88 60-102 59-108 59-115 59-118 59-120 60-124 59-143 59-141 59-135 59-108 60-84 59-76 59-76 59-74 59-72 60-69 59-69 59-67 59-67 60-66 59-67 59-64 59-63 59-60 60-60 59-61 59-62 59-61 59-59 60-57 59-52 59-48 59-46 59-44 60-41 59-36 59-32 59-27 59-24 60-22 59-18 59-16 59-13 59-11 60-11 59-12 59-14 59-15 60-15 59-16 59-15 59-14 59-13 60-14 59-14 59-14 59-16 59-16 60-15 59-13 59-12 59-12 59-12 60-14 59-14 59-14 59-14 59-15 60-15 59-15 59-15 59-15 60-15 59-15 59-16 59-15 59-15 60-15 59-15 59-15 59-15 59-14 60-15 59-15 59-15 59-15 59-15 60-15 59-15 59-14 59-15 59-14 60-14 59-13 59-13 59-14 59-14 60-15 59-15 59-15 59-14 60-14 59-13 59-12 59-10 15-3 30-4 29-4 30-3 29-2 30-2 30-1 29 0 30 5 29 11 30 13 30 14 29 20 30 30 29 33 30 24 30 6 29-10 30-17 29-18 30-25 30-28 29-21 30-11 29-10 30-9 30-9 29-8 30-8 29-7 30-6 30-7 29-5 15-3 74-12 74-10 74-9 74-8 74-8 74-7 74-8 74-8 74-8 74-7 74-7 74-7 74-6 74-6 74-6 74-5 74-5 74-4 74-4 74-4 74-3 74-3 74-2 74-2 74-1 74-2 74-2 74-2 74-2 74-1 74-1 74-1 74-1 74-1 74-1 74-1 74-1 74-1 30 0 30 3 29 16 30 28 29 40 30 46 30 57 29 71 30 87 29 94 30 90 30 75 29 57 30 40 29 14 30-4 30-9 29-12 30-15 29-15 30-17 30-16 29-18 30-21 29-24 30-25 30-26 29-26 30-27 29-26 30-25 30-25 29-24 30-25 30-24 59-49 59-50 59-48 59-45 60-42 59-36 59-33 59-31 59-30 60-28 59-27 59-28 59-29 59-32 60-34 59-29 59-17 30-2 29 3 30 7 29 10 30 11 30 16 29 22 30 26 29 28 30 30 30 29 29 31 30 34 29 36 30 33 30 30 29 22 30 13 29 0 30-13 30-20 29-22 30-20 30-14 29-12 30-13 29-12 30-11 30-12 29-10 30-9 59-16 59-11 59-4 60 6 59 12 59 16 59 19 59 18 60 15 59 10 18 2 19 2 18 1 19 1 18 1 19 1 18 3 19 3 18 0 19 1 18 5 19-2 18 4 19 8 18 5 19-3 18 3 19 4 18 10 19 14 18-4 19-2 18 27 19 10 18 11 19 9 18-1 19 5 18 31 19 3 18 19 19 31 18-32 19 15 18 17 19 27 18 25 19 24 18-5 19 56 18-13 19 41 18 39 19 8 18-15 19 25 18 34 19 28 18-36 19 20 18 34 19 70 18-7 19 9 18-25 19 19 18 81 19-33 18 95 19-51 18 59 19 42 18 12 19-7"/><path d="M2288 12427l15-61 15-2 14-28 15 12 15-11 15-16 15-29 14-6 15-40 15-7 15-5 15-44 14-10 15-1 15-23 15-22 15-18 14-15 15-22 15-19 15-19 15-18 14-19 15-18 15-17 15-18 15-17 14-17 15-17 15-17 15-18 15-20 15-19 14-20 15-21 59-92 60-101 59-84 59-68 59-61 59-52 60-51 59-61 59-68 59-79 59-90 60-104 59-111 59-116 59-120 59-121 60-125 59-144 59-142 59-135 59-109 60-84 59-76 59-77 59-74 59-72 60-69 59-69 59-66 59-66 60-66 59-66 59-64 59-62 59-59 60-60 59-60 59-61 59-60 59-58 60-55 59-51 59-48 59-44 59-43 60-39 59-35 59-30 59-26 59-23 60-20 59-17 59-14 59-12 59-9 60-10 59-11 59-13 59-13 60-15 59-14 59-15 59-13 59-13 60-13 59-13 59-14 59-15 59-16 60-15 59-14 59-12 59-12 59-13 60-14 59-15 59-14 59-16 59-15 60-16 59-16 59-16 59-16 60-17 59-16 59-17 59-16 59-16 60-17 59-16 59-16 59-16 59-15 60-16 59-16 59-16 59-15 59-16 60-16 59-15 59-15 59-15 59-14 60-14 59-14 59-13 59-13 59-14 60-14 59-15 59-14 59-14 60-13 59-13 59-11 59-9 15-2 30-4 29-3 30-2 29-2 30-2 30 0 29 0 30 7 29 11 30 13 30 15 29 20 30 32 29 33 30 25 30 7 29-10 30-17 29-17 30-25 30-27 29-20 30-11 29-9 30-9 30-8 29-8 30-7 29-6 30-6 30-6 29-5 15-3 74-11 74-9 74-8 74-7 74-7 74-7 74-8 74-8 74-8 74-7 74-8 74-8 74-7 74-7 74-6 74-7 74-6 74-6 74-5 74-5 74-5 74-5 74-3 74-4 74-3 74-4 74-3 74-3 74-3 74-2 74-3 74-1 74-1 74-2 74-2 74-1 74-1 74-1 30 0 30 4 29 16 30 29 29 39 30 46 30 57 29 71 30 87 29 93 30 89 30 76 29 57 30 40 29 14 30-3 30-8 29-12 30-14 29-15 30-16 30-15 29-18 30-21 29-23 30-24 30-25 29-26 30-26 29-25 30-25 30-24 29-24 30-24 30-23 59-49 59-48 59-47 59-44 60-41 59-35 59-33 59-30 59-28 60-28 59-27 59-27 59-29 59-32 60-34 59-29 59-17 30-2 29 2 30 7 29 10 30 11 30 16 29 21 30 26 29 28 30 29 30 29 29 30 30 34 29 35 30 34 30 28 29 22 30 12 29 0 30-13 30-21 29-23 30-21 30-14 29-14 30-13 29-13 30-12 30-12 29-11 30-11 59-17 59-12 59-5 60 3 59 11 59 15 59 17 59 17 60 14 59 9 18 2 19 1 18 1 19 2 18 1 19-1 18 2 19 1 18 5 19-1 18 5 19-1 18 0 19 6 18-5 19 8 18 10 19-3 18 7 19-1 18 14 19-5 18 18 19 19 18-2 19 25 18 7 19 15 18-2 19 21 18 1 19 17 18 17 19 30 18 31 19-33 18 65 19-53 18 19 19 91 18 9 19-4 18 20 19 14 18-34 19 89 18-10 19-26 18 90 19 27 18 38 19 12 18-20 19 50 18-4 19 27 18 79 19-57 18-61 19 95 18-24 19 38 18 119 19-23"/><path d="M2288 12358l15 2 15 12 14-29 15 14 15-61 15 7 15-16 14-29 15 1 15-11 15-12 15-46 14 1 15-16 15-16 15-24 15-21 14-21 15-16 15-20 15-18 15-19 14-18 15-18 15-17 15-18 15-17 14-16 15-17 15-18 15-18 15-19 15-19 14-20 15-21 59-92 60-101 59-84 59-68 59-60 59-52 60-51 59-61 59-69 59-79 59-91 60-105 59-111 59-117 59-120 59-122 60-125 59-144 59-143 59-135 59-109 60-85 59-76 59-77 59-75 59-72 60-70 59-68 59-68 59-66 60-66 59-66 59-65 59-62 59-60 60-60 59-61 59-62 59-61 59-59 60-55 59-52 59-48 59-45 59-43 60-39 59-36 59-30 59-26 59-24 60-20 59-18 59-14 59-11 59-10 60-10 59-11 59-12 59-14 60-14 59-15 59-14 59-13 59-12 60-13 59-13 59-13 59-15 59-16 60-15 59-13 59-11 59-12 59-13 60-14 59-14 59-14 59-15 59-15 60-16 59-15 59-16 59-16 60-16 59-16 59-17 59-16 59-16 60-16 59-16 59-16 59-16 59-16 60-15 59-16 59-16 59-16 59-16 60-16 59-15 59-15 59-15 59-15 60-14 59-14 59-13 59-14 59-14 60-15 59-15 59-14 59-15 60-13 59-13 59-11 59-10 15-2 30-4 29-3 30-3 29-2 30-2 30 0 29 0 30 6 29 11 30 14 30 15 29 20 30 31 29 33 30 25 30 7 29-10 30-17 29-17 30-25 30-27 29-21 30-10 29-10 30-8 30-8 29-8 30-7 29-6 30-6 30-6 29-5 15-2 74-11 74-9 74-8 74-7 74-6 74-7 74-7 74-7 74-8 74-7 74-7 74-7 74-6 74-7 74-6 74-6 74-5 74-6 74-5 74-4 74-5 74-4 74-3 74-4 74-3 74-3 74-3 74-3 74-3 74-3 74-2 74-1 74-2 74-2 74-1 74-2 74-1 74-1 30 0 30 4 29 15 30 29 29 39 30 45 30 57 29 70 30 86 29 93 30 89 30 75 29 57 30 39 29 15 30-4 30-8 29-12 30-14 29-15 30-16 30-15 29-18 30-21 29-22 30-25 30-25 29-26 30-25 29-26 30-24 30-24 29-24 30-24 30-23 59-49 59-47 59-47 59-44 60-40 59-35 59-32 59-30 59-28 60-27 59-26 59-27 59-28 59-32 60-33 59-28 59-17 30-2 29 3 30 7 29 10 30 11 30 16 29 22 30 26 29 28 30 30 30 29 29 30 30 34 29 36 30 33 30 29 29 22 30 12 29 0 30-13 30-21 29-23 30-20 30-15 29-13 30-13 29-13 30-13 30-12 29-11 30-11 59-17 59-13 59-5 60 4 59 10 59 15 59 16 59 17 60 13 59 9 18 1 19 1 18 1 19 2 18 1 19 0 18-1 19 3 18 2 19-2 18 5 19-3 18 11 19-3 18 0 19 13 18 1 19 8 18-12 19 10 18 9 19-5 18 21 19 9 18 7 19 12 18-4 19 34 18 22 19-20 18 15 19 29 18-4 19 18 18 21 19-2 18 8 19 62 18-21 19 53 18-17 19 49 18-7 19-6 18 65 19 3 18 4 19 95 18 10 19-63 18 49 19 10 18 5 19 61 18 30 19 30 18-59 19 80 18 46 19-106 18 83 19 0 18 79 19-73"/><path d="M2288 12356l15-14 15-23 14 3 15-40 15-5 15-9 15 11 14-7 15-36 15-17 15-27 15-13 14-4 15-12 15-28 15-20 15-18 14-16 15-19 15-20 15-18 15-18 14-18 15-18 15-18 15-17 15-17 14-16 15-17 15-17 15-18 15-19 15-20 14-20 15-20 59-92 60-101 59-84 59-67 59-60 59-52 60-51 59-61 59-68 59-80 59-91 60-105 59-112 59-117 59-120 59-121 60-125 59-144 59-142 59-135 59-109 60-84 59-76 59-77 59-75 59-71 60-70 59-69 59-67 59-66 60-66 59-66 59-65 59-62 59-61 60-60 59-62 59-61 59-61 59-60 60-56 59-52 59-48 59-46 59-43 60-40 59-36 59-31 59-26 59-24 60-21 59-17 59-15 59-12 59-10 60-10 59-11 59-13 59-14 60-14 59-14 59-14 59-14 59-12 60-13 59-13 59-13 59-15 59-16 60-15 59-13 59-11 59-12 59-13 60-13 59-14 59-15 59-14 59-15 60-16 59-15 59-16 59-16 60-16 59-16 59-16 59-16 59-16 60-16 59-16 59-16 59-15 59-16 60-15 59-16 59-16 59-16 59-15 60-16 59-15 59-15 59-15 59-15 60-14 59-14 59-13 59-13 59-15 60-14 59-15 59-15 59-14 60-13 59-13 59-11 59-10 15-2 30-4 29-3 30-3 29-2 30-1 30-1 29 1 30 6 29 11 30 13 30 15 29 20 30 32 29 33 30 25 30 7 29-10 30-17 29-17 30-25 30-27 29-21 30-10 29-9 30-9 30-8 29-7 30-7 29-7 30-6 30-5 29-5 15-2 74-11 74-9 74-7 74-7 74-6 74-6 74-7 74-7 74-8 74-7 74-7 74-6 74-7 74-6 74-6 74-6 74-6 74-5 74-5 74-5 74-4 74-4 74-4 74-3 74-3 74-4 74-3 74-3 74-4 74-2 74-3 74-2 74-2 74-1 74-2 74-2 74-2 74-1 30 0 30 4 29 15 30 29 29 38 30 46 30 56 29 70 30 85 29 93 30 88 30 75 29 56 30 40 29 14 30-3 30-9 29-11 30-14 29-16 30-15 30-16 29-18 30-20 29-23 30-24 30-25 29-26 30-25 29-26 30-24 30-24 29-24 30-23 30-24 59-47 59-48 59-46 59-44 60-39 59-35 59-32 59-29 59-28 60-27 59-26 59-26 59-29 59-31 60-33 59-28 59-17 30-2 29 3 30 7 29 9 30 12 30 15 29 22 30 26 29 28 30 30 30 28 29 30 30 34 29 35 30 34 30 28 29 22 30 12 29-1 30-14 30-21 29-23 30-21 30-15 29-14 30-14 29-13 30-13 30-13 29-12 30-10 59-19 59-13 59-7 60 3 59 9 59 15 59 16 59 15 60 13 59 8 18 2 19 0 18 1 19 1 18 1 19 1 18-1 19 3 18 2 19 1 18 5 19-5 18 6 19 1 18 4 19 0 18 6 19-3 18 8 19 15 18-5 19 9 18 13 19 11 18 16 19-8 18 16 19 1 18 32 19 8 18 15 19-3 18 38 19-14 18 12 19 26 18 8 19 41 18 9 19-1 18 52 19 12 18-2 19 6 18 12 19 50 18 11 19 28 18 21 19 17 18-8 19 49 18 8 19-49 18 72 19 74 18-5 19-9 18 15 19 53 18-10 19-27 18 24 19 170"/><path d="M2288 12330l15-4 15-9 14-10 15-7 15-25 15-21 15-11 14-13 15 6 15-17 15-27 15-9 14-37 15-19 15-26 15-4 15-21 14-24 15-15 15-19 15-19 15-19 14-18 15-18 15-18 15-17 15-17 14-17 15-16 15-18 15-18 15-19 15-19 14-20 15-21 59-92 60-102 59-85 59-68 59-61 59-52 60-51 59-61 59-70 59-80 59-93 60-106 59-112 59-117 59-120 59-121 60-125 59-143 59-142 59-135 59-107 60-83 59-76 59-76 59-73 59-71 60-69 59-68 59-66 59-65 60-65 59-66 59-64 59-62 59-60 60-60 59-62 59-61 59-62 59-59 60-57 59-52 59-49 59-46 59-43 60-41 59-36 59-32 59-27 59-24 60-22 59-19 59-15 59-13 59-11 60-10 59-12 59-14 59-15 60-15 59-15 59-15 59-14 59-14 60-13 59-14 59-14 59-16 59-16 60-15 59-14 59-12 59-12 59-13 60-14 59-14 59-15 59-15 59-15 60-15 59-16 59-15 59-16 60-15 59-16 59-16 59-15 59-16 60-15 59-15 59-15 59-15 59-14 60-15 59-15 59-14 59-15 59-15 60-14 59-14 59-14 59-14 59-14 60-13 59-12 59-12 59-13 59-13 60-13 59-14 59-14 59-13 60-13 59-12 59-10 59-9 15-2 30-3 29-3 30-3 29-2 30-1 30 0 29 1 30 6 29 11 30 14 30 15 29 20 30 31 29 34 30 25 30 7 29-10 30-16 29-18 30-24 30-28 29-21 30-10 29-9 30-9 30-8 29-7 30-7 29-7 30-6 30-5 29-5 15-3 74-11 74-9 74-7 74-7 74-7 74-6 74-8 74-7 74-8 74-7 74-8 74-7 74-7 74-6 74-7 74-6 74-6 74-5 74-6 74-5 74-4 74-4 74-4 74-4 74-3 74-3 74-3 74-4 74-3 74-3 74-2 74-2 74-2 74-1 74-2 74-2 74-2 74 0 30-1 30 4 29 15 30 29 29 38 30 45 30 55 29 69 30 85 29 91 30 88 30 74 29 55 30 40 29 13 30-3 30-8 29-12 30-14 29-16 30-15 30-16 29-18 30-20 29-23 30-24 30-25 29-26 30-26 29-25 30-24 30-24 29-24 30-24 30-23 59-48 59-48 59-46 59-44 60-39 59-35 59-32 59-30 59-28 60-27 59-26 59-27 59-28 59-32 60-33 59-29 59-18 30-2 29 3 30 7 29 9 30 11 30 16 29 21 30 26 29 28 30 29 30 28 29 30 30 34 29 35 30 33 30 28 29 22 30 11 29-1 30-14 30-22 29-24 30-21 30-16 29-14 30-14 29-14 30-13 30-13 29-12 30-12 59-19 59-14 59-7 60 3 59 9 59 14 59 16 59 16 60 13 59 9 18 1 19 1 18 1 19 1 18 1 19 1 18-2 19 3 18 2 19 4 18-2 19 2 18 5 19-2 18 9 19-2 18 7 19 5 18 6 19 9 18-2 19 2 18 14 19 28 18 1 19-8 18 8 19 23 18-3 19 14 18 44 19 14 18 13 19 25 18-42 19 49 18 2 19 45 18-21 19 44 18 26 19 21 18 33 19 18 18-13 19-22 18 68 19 48 18 12 19-70 18 49 19 66 18 17 19 6 18 21 19-12 18 65 19 64 18-40 19-47 18 55 19 67 18 20 19-37"/><path d="M2288 12324l15 11 15-11 14-15 15-16 15-14 15-25 15-30 14-5 15-3 15-2 15-34 15 10 14-37 15-22 15-10 15-18 15-20 14-23 15-20 15-20 15-18 15-19 14-18 15-18 15-18 15-18 15-17 14-17 15-17 15-17 15-18 15-19 15-20 14-20 15-21 59-93 60-103 59-85 59-69 59-62 59-53 60-52 59-62 59-71 59-82 59-93 60-107 59-113 59-119 59-121 59-122 60-125 59-143 59-143 59-135 59-108 60-83 59-76 59-76 59-74 59-71 60-69 59-67 59-66 59-65 60-66 59-65 59-64 59-62 59-59 60-60 59-62 59-61 59-61 59-59 60-57 59-52 59-48 59-45 59-43 60-40 59-36 59-31 59-27 59-24 60-21 59-18 59-16 59-12 59-10 60-10 59-12 59-13 59-14 60-15 59-15 59-15 59-13 59-14 60-13 59-13 59-14 59-15 59-16 60-16 59-13 59-12 59-13 59-12 60-14 59-15 59-14 59-15 59-15 60-16 59-15 59-16 59-15 60-16 59-16 59-15 59-16 59-16 60-15 59-15 59-15 59-15 59-15 60-15 59-14 59-15 59-15 59-15 60-14 59-15 59-14 59-14 59-13 60-13 59-13 59-13 59-12 59-13 60-14 59-14 59-14 59-14 60-13 59-12 59-11 59-9 15-2 30-3 29-4 30-2 29-2 30-2 30 0 29 0 30 7 29 10 30 14 30 15 29 20 30 31 29 33 30 25 30 7 29-10 30-17 29-18 30-24 30-28 29-21 30-11 29-9 30-9 30-8 29-8 30-7 29-7 30-6 30-6 29-5 15-2 74-12 74-9 74-8 74-8 74-7 74-7 74-7 74-8 74-8 74-8 74-8 74-7 74-7 74-6 74-7 74-6 74-5 74-6 74-5 74-4 74-4 74-4 74-3 74-3 74-3 74-2 74-3 74-3 74-2 74-2 74-1 74-1 74-1 74-1 74-1 74-1 74 0 74 0 30 0 30 4 29 15 30 29 29 38 30 45 30 56 29 69 30 84 29 91 30 88 30 74 29 56 30 39 29 14 30-3 30-8 29-12 30-14 29-15 30-15 30-16 29-17 30-21 29-22 30-24 30-25 29-26 30-25 29-26 30-24 30-24 29-23 30-24 30-23 59-48 59-48 59-46 59-44 60-39 59-35 59-32 59-30 59-28 60-27 59-27 59-27 59-29 59-31 60-34 59-29 59-18 30-2 29 2 30 7 29 9 30 11 30 15 29 22 30 25 29 28 30 29 30 28 29 30 30 33 29 35 30 33 30 28 29 21 30 12 29-2 30-14 30-21 29-25 30-21 30-16 29-14 30-14 29-14 30-14 30-13 29-12 30-12 59-19 59-14 59-7 60 3 59 9 59 14 59 16 59 16 60 14 59 8 18 2 19 1 18 1 19 1 18 2 19 0 18 2 19-2 18 5 19 0 18 4 19-3 18 3 19 4 18-1 19 0 18 7 19 13 18 0 19 8 18 4 19 21 18-9 19 12 18 19 19 4 18 13 19 15 18-4 19 10 18 20 19 35 18 38 19-39 18 36 19-26 18 47 19 25 18 12 19-11 18 35 19 60 18-13 19 0 18 39 19-6 18 28 19 22 18 26 19 11 18 45 19-39 18 26 19 84 18-24 19 29 18 8 19 18 18-4 19 64 18 14 19-17 18 57 19 62"/><path d="M2288 12288l15 51 15-44 14-9 15-1 15-5 15-25 15-9 14-41 15-13 15-12 15-8 15-22 14-18 15-5 15-25 15-24 15-10 14-21 15-20 15-21 15-19 15-18 14-19 15-18 15-18 15-18 15-17 14-17 15-17 15-17 15-18 15-20 15-19 14-20 15-21 59-93 60-104 59-86 59-70 59-61 59-54 60-52 59-62 59-71 59-83 59-94 60-108 59-113 59-119 59-121 59-122 60-125 59-143 59-143 59-135 59-107 60-84 59-75 59-77 59-73 59-71 60-68 59-67 59-66 59-65 60-65 59-65 59-64 59-62 59-59 60-60 59-62 59-61 59-61 59-60 60-56 59-52 59-48 59-45 59-43 60-40 59-36 59-31 59-27 59-24 60-21 59-18 59-15 59-11 59-11 60-9 59-12 59-13 59-14 60-14 59-15 59-14 59-13 59-13 60-13 59-13 59-13 59-16 59-15 60-15 59-13 59-12 59-12 59-12 60-14 59-14 59-14 59-15 59-15 60-15 59-15 59-16 59-15 60-16 59-16 59-15 59-16 59-15 60-16 59-15 59-15 59-15 59-15 60-15 59-15 59-15 59-16 59-15 60-14 59-15 59-15 59-14 59-14 60-14 59-13 59-12 59-13 59-14 60-14 59-15 59-14 59-14 60-13 59-13 59-11 59-9 15-3 30-3 29-4 30-2 29-3 30-1 30-1 29 1 30 6 29 11 30 13 30 15 29 20 30 31 29 33 30 25 30 7 29-10 30-17 29-17 30-25 30-28 29-21 30-10 29-10 30-8 30-9 29-7 30-7 29-7 30-6 30-5 29-5 15-3 74-11 74-9 74-7 74-7 74-6 74-6 74-7 74-7 74-7 74-7 74-7 74-6 74-7 74-6 74-5 74-6 74-5 74-4 74-5 74-4 74-3 74-4 74-3 74-2 74-3 74-2 74-3 74-2 74-3 74-2 74-1 74-2 74-1 74-1 74-1 74-2 74-1 74 0 30 0 30 4 29 15 30 28 29 37 30 44 30 53 29 67 30 82 29 89 30 86 30 72 29 55 30 38 29 13 30-3 30-9 29-11 30-14 29-16 30-15 30-15 29-18 30-21 29-22 30-24 30-25 29-25 30-25 29-25 30-25 30-23 29-24 30-23 30-23 59-47 59-47 59-46 59-43 60-38 59-35 59-31 59-28 59-28 60-26 59-26 59-26 59-28 59-31 60-33 59-28 59-17 30-2 29 2 30 7 29 10 30 11 30 15 29 22 30 25 29 28 30 30 30 28 29 30 30 33 29 35 30 33 30 28 29 21 30 12 29-2 30-14 30-22 29-24 30-22 30-16 29-15 30-14 29-14 30-14 30-14 29-12 30-12 59-20 59-15 59-7 60 1 59 9 59 13 59 16 59 15 60 12 59 8 18 1 19 1 18 1 19 1 18 0 19 3 18-2 19 2 18-1 19 5 18-4 19 8 18-1 19 7 18-2 19 12 18-5 19 3 18 3 19 6 18-2 19 18 18-8 19 22 18 6 19 12 18 6 19 17 18 14 19 17 18 30 19-11 18 30 19 16 18 13 19-2 18 54 19-46 18 31 19 34 18-3 19 34 18 29 19 3 18 12 19 38 18-2 19 13 18-14 19 84 18 51 19-61 18 30 19 80 18-63 19 27 18 70 19 3 18 41 19-58 18 102 19-38 18 91 19 6"/><path d="M2288 12301l15 22 15-39 14-28 15-2 15-29 15 4 15-25 14 14 15-43 15 10 15-22 15-39 14-5 15-19 15-21 15-18 15-12 14-26 15-21 15-17 15-19 15-19 14-19 15-18 15-18 15-18 15-17 14-17 15-17 15-18 15-18 15-19 15-20 14-20 15-21 59-94 60-104 59-88 59-70 59-62 59-53 60-52 59-64 59-71 59-84 59-95 60-109 59-114 59-119 59-122 59-122 60-124 59-143 59-142 59-134 59-107 60-83 59-75 59-75 59-73 59-70 60-67 59-67 59-65 59-64 60-64 59-64 59-63 59-61 59-60 60-60 59-60 59-62 59-61 59-59 60-56 59-52 59-48 59-45 59-43 60-40 59-36 59-32 59-26 59-24 60-22 59-18 59-15 59-12 59-10 60-10 59-12 59-13 59-14 60-15 59-15 59-14 59-14 59-13 60-12 59-14 59-13 59-16 59-15 60-15 59-13 59-12 59-13 59-13 60-13 59-14 59-15 59-15 59-15 60-15 59-15 59-16 59-15 60-16 59-16 59-15 59-16 59-16 60-15 59-16 59-15 59-15 59-15 60-15 59-15 59-15 59-15 59-16 60-15 59-14 59-15 59-15 59-14 60-14 59-13 59-13 59-13 59-14 60-14 59-15 59-15 59-14 60-14 59-13 59-11 59-10 15-2 30-4 29-3 30-3 29-2 30-2 30-1 29 1 30 5 29 11 30 14 30 14 29 20 30 31 29 34 30 25 30 6 29-9 30-17 29-18 30-25 30-28 29-21 30-10 29-10 30-8 30-8 29-8 30-7 29-6 30-6 30-5 29-5 15-3 74-10 74-8 74-7 74-6 74-5 74-6 74-5 74-7 74-6 74-6 74-5 74-5 74-6 74-4 74-5 74-4 74-4 74-4 74-3 74-4 74-3 74-2 74-3 74-2 74-2 74-2 74-3 74-3 74-2 74-2 74-3 74-2 74-1 74-3 74-2 74-2 74-2 74-2 30 0 30 3 29 15 30 27 29 35 30 42 30 51 29 64 30 79 29 87 30 83 30 70 29 53 30 36 29 13 30-4 30-9 29-12 30-15 29-16 30-16 30-16 29-18 30-20 29-23 30-24 30-25 29-26 30-26 29-25 30-24 30-24 29-23 30-24 30-23 59-47 59-47 59-45 59-43 60-38 59-33 59-31 59-28 59-26 60-25 59-25 59-25 59-26 59-30 60-32 59-27 59-15 30-2 29 4 30 8 29 10 30 12 30 16 29 23 30 26 29 29 30 30 30 29 29 30 30 35 29 35 30 34 30 29 29 22 30 12 29-1 30-14 30-21 29-24 30-21 30-15 29-14 30-14 29-14 30-13 30-13 29-12 30-11 59-19 59-14 59-7 60 3 59 9 59 14 59 17 59 16 60 13 59 9 18 1 19 1 18 1 19 1 18 1 19 1 18 1 19 1 18 1 19-1 18 3 19 5 18-3 19 11 18-1 19 1 18-4 19 11 18 3 19 11 18 10 19 6 18 6 19 11 18 18 19 1 18 10 19-1 18 20 19 18 18-17 19 63 18-16 19 26 18-32 19 51 18-7 19 33 18-4 19 16 18 3 19 79 18-26 19 8 18 7 19 51 18 63 19-25 18-4 19 40 18 1 19 32 18 2 19 88 18 46 19-66 18-2 19 60 18 15 19 51 18-40 19 31 18 25 19 10"/><path d="M2288 12314l15-11 15-14 14-56 15 30 15-21 15-47 15 15 14-25 15-8 15-27 15 4 15-19 14-17 15-23 15-20 15-20 15-18 14-24 15-19 15-20 15-19 15-19 14-19 15-18 15-19 15-17 15-18 14-17 15-17 15-18 15-18 15-19 15-20 14-20 15-21 59-94 60-105 59-88 59-70 59-62 59-54 60-52 59-64 59-72 59-84 59-95 60-109 59-115 59-119 59-121 59-122 60-125 59-141 59-143 59-134 59-106 60-82 59-75 59-75 59-72 59-69 60-67 59-66 59-65 59-63 60-64 59-64 59-63 59-61 59-59 60-60 59-60 59-62 59-61 59-59 60-56 59-52 59-48 59-45 59-44 60-39 59-37 59-31 59-27 59-24 60-22 59-19 59-15 59-12 59-11 60-10 59-12 59-13 59-15 60-15 59-15 59-15 59-14 59-14 60-13 59-13 59-14 59-16 59-16 60-15 59-14 59-12 59-12 59-14 60-13 59-15 59-14 59-15 59-15 60-15 59-16 59-15 59-16 60-15 59-15 59-16 59-15 59-15 60-15 59-15 59-15 59-14 59-15 60-14 59-15 59-14 59-15 59-14 60-14 59-14 59-14 59-14 59-13 60-13 59-13 59-12 59-12 59-13 60-14 59-14 59-14 59-14 60-13 59-12 59-11 59-9 15-2 30-4 29-3 30-3 29-2 30-1 30-1 29 0 30 6 29 11 30 14 30 15 29 19 30 32 29 33 30 25 30 7 29-10 30-17 29-18 30-25 30-28 29-21 30-11 29-9 30-9 30-8 29-8 30-7 29-6 30-7 30-5 29-5 15-3 74-11 74-9 74-8 74-7 74-6 74-7 74-7 74-7 74-8 74-7 74-7 74-6 74-7 74-6 74-6 74-5 74-5 74-5 74-5 74-4 74-4 74-3 74-3 74-3 74-2 74-3 74-3 74-2 74-3 74-2 74-2 74-1 74-2 74-1 74-2 74-1 74-1 74 0 30 0 30 3 29 16 30 27 29 36 30 41 30 51 29 65 30 79 29 86 30 84 30 70 29 52 30 37 29 13 30-3 30-8 29-12 30-14 29-15 30-16 30-15 29-17 30-21 29-22 30-23 30-25 29-25 30-25 29-24 30-24 30-23 29-23 30-23 30-23 59-46 59-46 59-44 59-42 60-37 59-33 59-30 59-27 59-26 60-25 59-24 59-25 59-26 59-30 60-31 59-28 59-16 30-1 29 4 30 7 29 10 30 12 30 16 29 22 30 26 29 28 30 30 30 29 29 30 30 34 29 35 30 33 30 29 29 21 30 12 29-2 30-14 30-21 29-25 30-22 30-15 29-15 30-15 29-14 30-14 30-13 29-13 30-11 59-21 59-14 59-8 60 2 59 8 59 13 59 16 59 15 60 13 59 8 18 1 19 1 18 1 19 1 18 2 19 1 18 0 19 0 18 0 19 8 18-5 19 5 18-2 19 2 18 2 19 14 18-6 19-4 18 8 19 1 18 12 19 6 18 24 19-12 18 7 19 23 18 29 19-13 18 8 19 38 18-27 19 35 18 8 19 30 18 11 19 4 18 11 19 22 18 9 19 11 18 28 19 20 18 52 19-10 18-13 19 46 18-5 19 82 18-18 19-9 18 8 19 67 18-28 19 6 18 55 19-7 18 47 19 30 18 74 19 7 18 14 19-60 18 68 19-45"/><path d="M2288 12267l15-13 15-24 14-27 15 39 15-29 15-28 15 2 14-22 15-3 15-29 15-8 15-43 14 18 15-29 15-28 15-21 15-22 14-13 15-19 15-19 15-19 15-19 14-18 15-18 15-18 15-18 15-17 14-17 15-17 15-17 15-18 15-20 15-19 14-20 15-21 59-93 60-106 59-87 59-70 59-62 59-53 60-52 59-64 59-72 59-85 59-96 60-109 59-116 59-119 59-122 59-122 60-124 59-141 59-142 59-134 59-105 60-82 59-74 59-75 59-72 59-68 60-67 59-65 59-64 59-63 60-64 59-63 59-63 59-60 59-60 60-59 59-61 59-61 59-61 59-60 60-56 59-52 59-48 59-46 59-43 60-40 59-36 59-32 59-27 59-24 60-22 59-19 59-15 59-12 59-11 60-10 59-12 59-14 59-14 60-16 59-15 59-15 59-14 59-13 60-14 59-14 59-14 59-16 59-16 60-15 59-14 59-13 59-13 59-13 60-15 59-15 59-15 59-15 59-16 60-16 59-16 59-16 59-16 60-16 59-16 59-16 59-17 59-15 60-16 59-16 59-15 59-16 59-15 60-15 59-15 59-15 59-15 59-16 60-14 59-15 59-15 59-14 59-14 60-13 59-13 59-13 59-12 59-14 60-14 59-14 59-14 59-14 60-13 59-13 59-10 59-10 15-2 30-3 29-4 30-2 29-2 30-2 30 0 29 1 30 6 29 11 30 13 30 15 29 20 30 32 29 33 30 26 30 7 29-10 30-17 29-17 30-25 30-28 29-20 30-11 29-9 30-9 30-7 29-8 30-6 29-7 30-5 30-6 29-4 15-3 74-10 74-8 74-6 74-6 74-5 74-6 74-5 74-7 74-6 74-6 74-6 74-5 74-5 74-5 74-5 74-5 74-4 74-4 74-4 74-3 74-3 74-3 74-2 74-2 74-2 74-2 74-3 74-2 74-2 74-2 74-2 74-1 74-1 74-1 74-2 74-1 74-1 74 0 30-1 30 4 29 15 30 27 29 35 30 40 30 50 29 63 30 77 29 85 30 82 30 69 29 51 30 36 29 13 30-4 30-8 29-12 30-14 29-15 30-16 30-15 29-18 30-20 29-22 30-23 30-25 29-25 30-25 29-25 30-23 30-23 29-23 30-23 30-22 59-46 59-46 59-44 59-42 60-37 59-33 59-29 59-27 59-26 60-25 59-24 59-25 59-26 59-30 60-31 59-28 59-16 30-1 29 3 30 8 29 10 30 11 30 16 29 22 30 26 29 28 30 30 30 29 29 29 30 34 29 35 30 33 30 28 29 22 30 11 29-2 30-15 30-22 29-25 30-22 30-16 29-15 30-16 29-14 30-15 30-14 29-13 30-12 59-21 59-16 59-8 60 1 59 7 59 13 59 15 59 14 60 13 59 7 18 1 19 1 18 1 19 1 18 1 19-1 18 2 19 0 18 1 19-3 18 4 19 4 18 7 19-7 18 0 19 10 18 12 19-1 18-2 19 9 18-3 19 14 18 3 19 29 18-17 19 23 18 11 19 5 18 16 19 39 18-34 19 34 18 24 19-15 18 8 19 5 18 76 19-8 18-7 19 17 18 21 19 31 18-10 19 53 18 20 19 36 18-4 19 25 18 11 19 39 18 3 19-6 18 8 19 18 18 41 19-13 18 45 19-7 18 48 19 13 18 31 19 55 18-27 19-59"/><path d="M2288 12296l15-24 15-11 14-20 15-24 15-25 15 15 15-11 14-49 15 0 15-31 15-12 15 8 14-28 15-8 15-38 15-11 15-17 14-21 15-20 15-21 15-20 15-19 14-19 15-18 15-19 15-17 15-18 14-17 15-17 15-18 15-18 15-19 15-20 14-21 15-21 59-94 60-107 59-88 59-71 59-63 59-54 60-53 59-65 59-73 59-86 59-97 60-110 59-116 59-121 59-122 59-122 60-125 59-141 59-142 59-134 59-106 60-82 59-75 59-75 59-71 59-69 60-67 59-65 59-64 59-63 60-63 59-64 59-62 59-61 59-59 60-59 59-61 59-62 59-61 59-59 60-56 59-52 59-48 59-45 59-44 60-39 59-37 59-31 59-27 59-24 60-22 59-18 59-16 59-12 59-10 60-10 59-12 59-13 59-15 60-14 59-16 59-14 59-14 59-13 60-13 59-13 59-14 59-15 59-16 60-15 59-13 59-12 59-12 59-13 60-14 59-14 59-15 59-15 59-14 60-16 59-15 59-15 59-16 60-15 59-15 59-16 59-15 59-16 60-15 59-15 59-14 59-15 59-14 60-15 59-14 59-15 59-15 59-14 60-14 59-15 59-14 59-13 59-14 60-13 59-13 59-12 59-12 59-14 60-13 59-14 59-14 59-14 60-13 59-12 59-11 59-10 15-2 30-3 29-4 30-2 29-2 30-2 30 0 29 0 30 6 29 11 30 14 30 15 29 19 30 32 29 33 30 25 30 7 29-9 30-17 29-18 30-25 30-28 29-21 30-11 29-9 30-9 30-8 29-7 30-7 29-7 30-6 30-5 29-5 15-3 74-10 74-9 74-7 74-6 74-6 74-6 74-7 74-7 74-6 74-7 74-6 74-6 74-6 74-5 74-6 74-4 74-5 74-4 74-4 74-4 74-3 74-3 74-3 74-2 74-2 74-3 74-2 74-2 74-3 74-2 74-1 74-2 74-1 74-1 74-2 74-1 74-1 74-1 30 0 30 4 29 15 30 26 29 35 30 40 30 50 29 62 30 77 29 84 30 81 30 69 29 51 30 36 29 12 30-4 30-8 29-12 30-14 29-16 30-15 30-16 29-17 30-21 29-22 30-23 30-25 29-25 30-25 29-25 30-24 30-23 29-23 30-23 30-22 59-46 59-46 59-45 59-41 60-38 59-33 59-29 59-28 59-25 60-25 59-25 59-24 59-27 59-29 60-32 59-28 59-16 30-1 29 3 30 8 29 10 30 11 30 16 29 22 30 26 29 29 30 29 30 29 29 30 30 34 29 35 30 33 30 28 29 22 30 11 29-2 30-14 30-22 29-25 30-22 30-16 29-15 30-15 29-15 30-14 30-14 29-13 30-12 59-21 59-15 59-8 60 2 59 8 59 13 59 16 59 15 60 13 59 9 18 1 19 1 18 1 19 1 18 2 19 1 18 1 19-1 18 3 19 2 18 5 19-2 18 4 19 1 18-1 19 0 18 3 19 16 18-14 19 16 18-2 19 16 18 5 19 21 18 2 19-1 18 28 19-1 18 24 19-1 18-7 19 49 18-1 19 54 18-19 19-12 18 30 19 51 18-15 19 7 18 24 19 23 18 4 19 4 18 9 19 78 18 65 19-40 18 44 19 0 18 8 19-33 18 63 19 25 18 6 19 11 18 35 19 16 18 8 19 10 18 34 19 33 18 19 19 20"/><path d="M2288 12298l15-24 15 0 14-13 15-52 15 0 15-15 15-12 14-28 15 20 15-63 15-1 15-7 14-36 15-8 15-17 15-24 15-14 14-26 15-17 15-18 15-19 15-19 14-19 15-18 15-19 15-17 15-18 14-17 15-17 15-17 15-18 15-20 15-19 14-21 15-21 59-94 60-106 59-89 59-71 59-63 59-54 60-53 59-64 59-74 59-86 59-98 60-111 59-116 59-121 59-123 59-123 60-124 59-142 59-142 59-135 59-106 60-82 59-75 59-75 59-72 59-69 60-67 59-65 59-65 59-63 60-64 59-63 59-63 59-61 59-60 60-60 59-62 59-61 59-62 59-60 60-57 59-52 59-48 59-47 59-43 60-40 59-37 59-32 59-27 59-25 60-22 59-18 59-16 59-12 59-11 60-10 59-12 59-13 59-14 60-15 59-15 59-15 59-13 59-13 60-13 59-13 59-13 59-15 59-16 60-14 59-13 59-11 59-12 59-13 60-13 59-14 59-14 59-14 59-14 60-15 59-15 59-14 59-15 60-15 59-16 59-15 59-15 59-15 60-14 59-15 59-15 59-14 59-14 60-15 59-14 59-15 59-14 59-15 60-14 59-14 59-14 59-14 59-14 60-13 59-13 59-12 59-13 59-13 60-14 59-15 59-14 59-14 60-13 59-13 59-11 59-10 15-2 30-4 29-3 30-3 29-2 30-2 30-1 29 1 30 6 29 10 30 14 30 15 29 19 30 32 29 33 30 25 30 6 29-9 30-17 29-19 30-25 30-28 29-21 30-11 29-9 30-9 30-9 29-7 30-7 29-7 30-6 30-6 29-5 15-2 74-11 74-9 74-8 74-6 74-7 74-6 74-6 74-7 74-7 74-7 74-6 74-6 74-6 74-5 74-5 74-5 74-4 74-4 74-4 74-3 74-3 74-3 74-2 74-2 74-1 74-2 74-2 74-2 74-1 74-2 74-1 74 0 74-1 74-1 74 0 74-1 74 0 74 0 30 0 30 4 29 15 30 27 29 34 30 40 30 49 29 62 30 76 29 84 30 80 30 68 29 51 30 36 29 13 30-4 30-8 29-12 30-14 29-15 30-15 30-15 29-18 30-20 29-22 30-23 30-24 29-25 30-25 29-24 30-24 30-23 29-23 30-22 30-22 59-46 59-45 59-44 59-42 60-37 59-32 59-29 59-27 59-26 60-24 59-24 59-24 59-27 59-29 60-32 59-27 59-16 30-2 29 4 30 7 29 10 30 12 30 15 29 22 30 26 29 28 30 30 30 29 29 29 30 34 29 35 30 33 30 28 29 21 30 11 29-2 30-15 30-22 29-25 30-23 30-17 29-15 30-15 29-15 30-15 30-14 29-14 30-12 59-22 59-16 59-9 60 1 59 7 59 13 59 14 59 15 60 12 59 8 18 1 19 1 18 0 19 2 18 1 19 0 18 1 19 0 18 1 19 1 18 0 19 3 18-3 19 9 18 7 19 1 18 0 19 1 18-2 19 12 18 15 19 2 18-11 19 9 18 25 19-6 18 8 19 39 18-20 19 32 18 20 19 21 18-22 19 33 18 35 19-38 18 29 19 28 18 13 19 13 18 42 19-3 18 11 19-6 18 64 19 24 18-20 19 78 18-31 19 30 18 12 19 27 18 13 19 101 18-63 19 29 18 79 19 41 18-108 19 81 18-8 19 22 18 3 19 17"/><path d="M2288 12272l15-24 15 6 14 3 15-52 15-17 15-5 15 30 14-54 15-52 15 6 15-21 15-3 14-18 15-23 15-22 15-20 15-10 14-26 15-20 15-19 15-19 15-19 14-19 15-19 15-18 15-18 15-17 14-18 15-17 15-17 15-19 15-19 15-20 14-20 15-21 59-95 60-107 59-90 59-71 59-63 59-55 60-53 59-65 59-75 59-87 59-99 60-112 59-117 59-122 59-123 59-122 60-125 59-142 59-142 59-134 59-106 60-81 59-75 59-75 59-71 59-69 60-66 59-65 59-64 59-62 60-63 59-64 59-62 59-61 59-59 60-60 59-61 59-62 59-62 59-59 60-57 59-52 59-49 59-46 59-43 60-40 59-37 59-32 59-28 59-24 60-22 59-20 59-15 59-13 59-11 60-10 59-12 59-14 59-15 60-15 59-16 59-15 59-14 59-13 60-14 59-13 59-14 59-16 59-15 60-16 59-13 59-12 59-12 59-13 60-14 59-15 59-14 59-15 59-15 60-15 59-16 59-15 59-16 60-16 59-15 59-16 59-15 59-16 60-15 59-15 59-15 59-15 59-15 60-14 59-15 59-15 59-14 59-15 60-14 59-14 59-14 59-14 59-13 60-13 59-13 59-12 59-12 59-13 60-13 59-14 59-13 59-13 60-13 59-11 59-11 59-8 15-2 30-3 29-3 30-2 29-2 30-1 30 0 29 1 30 7 29 11 30 14 30 15 29 21 30 32 29 34 30 25 30 8 29-9 30-17 29-17 30-25 30-27 29-21 30-10 29-9 30-8 30-8 29-7 30-6 29-6 30-6 30-5 29-4 15-2 74-10 74-7 74-6 74-5 74-5 74-5 74-6 74-6 74-5 74-6 74-6 74-5 74-5 74-5 74-5 74-4 74-5 74-4 74-4 74-3 74-3 74-3 74-3 74-2 74-3 74-2 74-3 74-2 74-3 74-2 74-2 74-2 74-2 74-2 74-2 74-1 74-2 74-1 30 0 30 3 29 15 30 26 29 34 30 38 30 48 29 60 30 74 29 82 30 79 30 67 29 50 30 35 29 12 30-4 30-9 29-12 30-14 29-16 30-15 30-16 29-17 30-21 29-22 30-23 30-25 29-25 30-25 29-24 30-24 30-23 29-23 30-23 30-22 59-46 59-45 59-44 59-41 60-37 59-33 59-28 59-27 59-25 60-24 59-24 59-24 59-26 59-29 60-32 59-26 59-16 30-1 29 3 30 8 29 10 30 12 30 16 29 22 30 26 29 28 30 30 30 29 29 30 30 33 29 35 30 33 30 28 29 22 30 10 29-2 30-14 30-23 29-25 30-23 30-17 29-15 30-16 29-15 30-15 30-14 29-14 30-12 59-22 59-17 59-9 60 0 59 7 59 12 59 15 59 14 60 12 59 7 18 1 19 1 18 1 19 0 18 2 19 0 18 0 19 1 18 4 19 2 18-4 19 0 18 6 19 3 18-1 19 1 18-4 19 16 18 0 19-6 18 13 19 12 18 2 19 27 18-7 19 10 18 24 19 5 18 17 19 1 18 2 19 35 18-22 19 34 18 2 19 24 18 17 19 26 18-36 19 63 18 37 19 25 18-26 19 57 18-32 19 37 18 28 19-20 18 39 19-10 18 78 19-6 18 95 19-68 18 27 19 83 18-32 19 29 18-56 19 93 18-52 19 72 18-43 19 110"/><path d="M2288 12255l15-57 15 2 14 11 15-35 15 1 15-20 15-25 14 1 15-8 15-13 15-32 15-8 14-28 15-11 15-29 15-10 15-23 14-22 15-15 15-21 15-20 15-19 14-19 15-18 15-18 15-18 15-17 14-18 15-17 15-17 15-18 15-19 15-20 14-20 15-21 59-95 60-108 59-89 59-71 59-64 59-54 60-53 59-65 59-75 59-88 59-99 60-113 59-118 59-122 59-123 59-122 60-125 59-141 59-142 59-134 59-105 60-82 59-74 59-74 59-72 59-68 60-66 59-65 59-63 59-62 60-63 59-63 59-63 59-60 59-60 60-60 59-61 59-62 59-62 59-60 60-57 59-53 59-48 59-46 59-44 60-41 59-37 59-32 59-28 59-25 60-22 59-19 59-16 59-13 59-11 60-11 59-12 59-14 59-15 60-15 59-16 59-15 59-14 59-13 60-13 59-13 59-14 59-15 59-15 60-15 59-13 59-12 59-12 59-12 60-13 59-14 59-14 59-15 59-14 60-15 59-15 59-15 59-15 60-15 59-16 59-15 59-15 59-15 60-15 59-15 59-14 59-15 59-14 60-14 59-15 59-14 59-15 59-14 60-15 59-14 59-14 59-13 59-14 60-12 59-13 59-12 59-12 59-13 60-14 59-14 59-14 59-13 60-13 59-12 59-11 59-9 15-2 30-3 29-3 30-3 29-1 30-2 30 0 29 1 30 6 29 11 30 14 30 15 29 20 30 32 29 34 30 25 30 7 29-9 30-17 29-18 30-24 30-28 29-21 30-11 29-9 30-9 30-7 29-8 30-7 29-6 30-6 30-5 29-5 15-2 74-10 74-9 74-7 74-6 74-5 74-6 74-6 74-7 74-6 74-7 74-6 74-6 74-5 74-6 74-5 74-5 74-4 74-4 74-4 74-4 74-3 74-3 74-3 74-2 74-2 74-2 74-2 74-3 74-2 74-2 74-1 74-1 74-1 74-1 74-2 74-1 74-1 74 0 30 0 30 4 29 15 30 26 29 34 30 38 30 47 29 59 30 74 29 81 30 78 30 66 29 50 30 35 29 12 30-4 30-8 29-12 30-14 29-15 30-15 30-15 29-18 30-20 29-21 30-23 30-24 29-25 30-25 29-24 30-23 30-23 29-22 30-22 30-22 59-45 59-45 59-43 59-40 60-36 59-31 59-28 59-26 59-24 60-24 59-23 59-23 59-25 59-29 60-30 59-26 59-15 30-1 29 4 30 7 29 11 30 12 30 16 29 22 30 26 29 29 30 30 30 29 29 30 30 34 29 34 30 33 30 29 29 21 30 11 29-2 30-15 30-23 29-25 30-23 30-17 29-16 30-16 29-15 30-15 30-15 29-14 30-12 59-23 59-17 59-9 60-1 59 7 59 11 59 14 59 15 60 11 59 7 18 1 19 1 18 1 19 0 18 1 19 1 18 1 19 2 18-1 19 0 18 3 19 2 18 2 19 2 18 6 19-1 18 4 19-1 18 2 19 11 18 1 19-6 18 25 19 3 18 15 19 8 18 7 19-1 18 22 19 8 18 19 19 19 18 8 19-5 18 5 19 44 18-23 19 53 18 13 19-11 18 23 19 17 18 17 19 31 18-17 19 60 18-6 19 17 18 49 19 9 18-39 19 49 18 10 19 77 18-22 19 28 18 32 19 48 18-31 19 30 18 46 19-25 18 83 19-10"/><path d="M2288 12257l15 13 15-42 14 20 15-53 15-6 15-17 15-27 14-12 15-4 15-44 15 1 15-2 14-38 15-14 15-23 15-14 15-18 14-31 15-19 15-19 15-19 15-20 14-19 15-19 15-18 15-18 15-18 14-17 15-18 15-17 15-19 15-19 15-20 14-21 15-21 59-95 60-110 59-91 59-73 59-64 59-55 60-55 59-66 59-77 59-89 59-101 60-114 59-120 59-123 59-124 59-124 60-125 59-141 59-143 59-134 59-106 60-81 59-75 59-74 59-72 59-68 60-66 59-64 59-63 59-63 60-62 59-63 59-62 59-61 59-59 60-60 59-61 59-62 59-62 59-60 60-56 59-53 59-48 59-46 59-44 60-40 59-37 59-31 59-28 59-25 60-22 59-19 59-16 59-12 59-11 60-10 59-12 59-14 59-14 60-15 59-16 59-14 59-14 59-13 60-13 59-13 59-13 59-15 59-15 60-14 59-12 59-12 59-11 59-13 60-13 59-13 59-14 59-14 59-14 60-15 59-15 59-15 59-15 60-15 59-15 59-15 59-15 59-15 60-15 59-15 59-14 59-14 59-15 60-14 59-14 59-15 59-14 59-15 60-14 59-14 59-14 59-13 59-13 60-13 59-13 59-12 59-12 59-13 60-13 59-14 59-14 59-13 60-13 59-11 59-11 59-8 15-2 30-4 29-2 30-3 29-1 30-1 30-1 29 1 30 7 29 11 30 14 30 15 29 21 30 32 29 34 30 25 30 7 29-9 30-16 29-18 30-25 30-27 29-21 30-11 29-9 30-8 30-8 29-7 30-7 29-6 30-6 30-5 29-5 15-2 74-10 74-7 74-7 74-6 74-5 74-5 74-6 74-7 74-6 74-6 74-6 74-6 74-6 74-5 74-5 74-5 74-5 74-4 74-4 74-4 74-3 74-3 74-3 74-3 74-2 74-3 74-2 74-3 74-3 74-2 74-2 74-2 74-1 74-2 74-2 74-1 74-1 74-1 30 0 30 3 29 15 30 25 29 33 30 37 30 46 29 58 30 73 29 79 30 77 30 66 29 48 30 35 29 11 30-4 30-8 29-12 30-14 29-16 30-15 30-15 29-18 30-20 29-21 30-24 30-24 29-24 30-25 29-24 30-23 30-23 29-22 30-22 30-22 59-45 59-45 59-42 59-40 60-36 59-31 59-28 59-25 59-24 60-23 59-23 59-23 59-24 59-28 60-30 59-26 59-15 30 0 29 4 30 8 29 10 30 13 30 16 29 23 30 26 29 29 30 30 30 29 29 30 30 34 29 35 30 33 30 29 29 21 30 11 29-3 30-14 30-23 29-26 30-23 30-17 29-16 30-15 29-16 30-15 30-15 29-13 30-13 59-23 59-17 59-10 60-1 59 7 59 12 59 13 59 14 60 12 59 7 18 1 19 1 18 1 19 1 18 0 19 0 18 2 19 3 18 0 19 1 18-3 19 13 18-8 19 4 18 10 19-5 18-9 19 19 18-9 19 12 18 8 19 15 18 10 19 8 18-10 19 11 18 19 19 11 18 0 19 16 18-3 19 22 18-4 19 43 18 0 19 51 18-11 19 12 18 18 19 24 18 2 19-14 18 30 19 27 18 41 19 27 18 21 19-1 18 19 19-19 18 91 19-56 18 22 19 46 18 14 19-1 18 46 19 36 18 14 19-68 18 80 19-33 18 50 19 81"/><path d="M2288 12237l15-61 15 17 14 26 15-40 15-30 15 9 15-23 14-17 15 7 15-15 15-49 15-16 14-14 15-30 15-11 15-25 15-19 14-22 15-15 15-21 15-20 15-19 14-20 15-19 15-18 15-18 15-18 14-17 15-17 15-18 15-19 15-19 15-20 14-20 15-21 59-96 60-111 59-92 59-73 59-64 59-56 60-55 59-67 59-77 59-91 59-102 60-115 59-120 59-124 59-125 59-123 60-125 59-141 59-143 59-134 59-105 60-81 59-74 59-75 59-71 59-67 60-65 59-64 59-62 59-62 60-62 59-62 59-62 59-60 59-59 60-59 59-62 59-61 59-62 59-59 60-57 59-52 59-48 59-46 59-43 60-41 59-36 59-32 59-27 59-25 60-22 59-19 59-16 59-12 59-11 60-10 59-12 59-14 59-14 60-16 59-15 59-15 59-13 59-13 60-13 59-13 59-14 59-14 59-15 60-15 59-12 59-12 59-11 59-12 60-14 59-13 59-14 59-14 59-15 60-15 59-15 59-15 59-15 60-15 59-15 59-15 59-15 59-16 60-15 59-14 59-15 59-14 59-15 60-14 59-14 59-15 59-14 59-15 60-14 59-14 59-13 59-14 59-13 60-13 59-12 59-12 59-12 59-13 60-13 59-14 59-14 59-13 60-12 59-12 59-10 59-9 15-2 30-3 29-3 30-2 29-2 30-1 30 0 29 1 30 7 29 11 30 14 30 15 29 21 30 32 29 34 30 25 30 7 29-9 30-16 29-18 30-25 30-28 29-21 30-10 29-10 30-8 30-8 29-7 30-7 29-6 30-6 30-5 29-5 15-3 74-10 74-8 74-7 74-6 74-6 74-6 74-6 74-7 74-7 74-7 74-6 74-7 74-6 74-5 74-6 74-5 74-5 74-5 74-4 74-4 74-3 74-3 74-3 74-2 74-3 74-2 74-2 74-2 74-3 74-1 74-2 74-1 74 0 74-1 74-1 74-1 74 0 74 0 30 1 30 4 29 15 30 25 29 33 30 36 30 45 29 57 30 72 29 78 30 77 30 64 29 49 30 34 29 11 30-3 30-8 29-12 30-14 29-15 30-15 30-14 29-18 30-19 29-21 30-23 30-24 29-24 30-24 29-24 30-23 30-22 29-22 30-21 30-22 59-44 59-44 59-42 59-39 60-35 59-30 59-27 59-25 59-23 60-23 59-22 59-22 59-25 59-27 60-30 59-26 59-14 30 0 29 4 30 8 29 11 30 12 30 16 29 23 30 26 29 29 30 30 30 29 29 30 30 34 29 35 30 33 30 28 29 21 30 11 29-3 30-15 30-23 29-26 30-24 30-17 29-16 30-17 29-16 30-15 30-15 29-15 30-13 59-24 59-18 59-10 60-1 59 6 59 10 59 14 59 13 60 12 59 7 18 0 19 1 18 1 19 1 18 1 19 0 18 2 19-2 18 3 19-3 18 0 19 9 18-9 19 10 18 0 19 2 18 4 19 6 18 4 19-2 18 8 19 0 18 9 19 0 18 11 19 7 18 19 19 30 18 5 19-6 18 1 19 12 18 17 19 60 18-23 19-11 18 51 19-5 18 61 19-1 18 16 19 9 18 10 19-3 18 34 19 62 18 4 19-11 18 22 19 11 18-21 19 49 18 29 19 26 18 8 19 71 18-14 19-34 18 5 19 34 18 29 19 55 18 79 19-96"/><path d="M2288 12175l15 9 15 3 14-4 15-34 15 13 15-31 15-2 14-26 15-15 15-19 15-34 15-34 14 14 15-38 15-17 15-12 15-19 14-23 15-24 15-19 15-20 15-20 14-19 15-19 15-19 15-18 15-18 14-17 15-18 15-17 15-19 15-19 15-20 14-21 15-21 59-96 60-111 59-92 59-74 59-64 59-56 60-55 59-67 59-77 59-91 59-102 60-116 59-120 59-124 59-124 59-123 60-124 59-140 59-142 59-134 59-104 60-80 59-73 59-73 59-70 59-66 60-64 59-63 59-61 59-61 60-61 59-61 59-60 59-59 59-58 60-59 59-60 59-61 59-61 59-59 60-56 59-51 59-48 59-45 59-43 60-39 59-36 59-31 59-27 59-25 60-22 59-18 59-16 59-12 59-10 60-11 59-11 59-14 59-14 60-16 59-15 59-15 59-14 59-13 60-13 59-13 59-13 59-15 59-16 60-14 59-13 59-12 59-12 59-13 60-13 59-14 59-15 59-15 59-15 60-15 59-16 59-16 59-16 60-16 59-16 59-16 59-16 59-17 60-15 59-16 59-16 59-15 59-16 60-15 59-16 59-15 59-16 59-15 60-15 59-15 59-15 59-14 59-14 60-14 59-13 59-13 59-13 59-13 60-14 59-15 59-14 59-13 60-13 59-12 59-11 59-8 15-2 30-4 29-3 30-2 29-1 30-1 30-1 29 2 30 6 29 12 30 14 30 15 29 21 30 32 29 34 30 26 30 7 29-8 30-17 29-17 30-25 30-28 29-20 30-10 29-9 30-8 30-8 29-7 30-6 29-6 30-5 30-5 29-4 15-2 74-9 74-7 74-6 74-4 74-5 74-4 74-5 74-5 74-5 74-6 74-4 74-5 74-5 74-4 74-4 74-4 74-4 74-3 74-4 74-2 74-3 74-3 74-2 74-2 74-1 74-2 74-3 74-2 74-2 74-2 74-2 74-1 74-1 74-2 74-1 74-2 74-1 74 0 30-1 30 4 29 15 30 25 29 31 30 36 30 44 29 56 30 70 29 77 30 76 30 63 29 48 30 33 29 11 30-4 30-9 29-11 30-15 29-15 30-15 30-15 29-18 30-20 29-21 30-23 30-24 29-24 30-25 29-24 30-23 30-22 29-22 30-22 30-22 59-44 59-44 59-42 59-39 60-35 59-30 59-27 59-25 59-23 60-21 59-22 59-22 59-24 59-27 60-29 59-25 59-13 30-1 29 5 30 8 29 12 30 12 30 17 29 23 30 27 29 29 30 30 30 29 29 31 30 34 29 35 30 33 30 29 29 21 30 11 29-3 30-15 30-23 29-26 30-23 30-17 29-17 30-16 29-16 30-15 30-15 29-15 30-13 59-24 59-18 59-10 60-2 59 6 59 10 59 14 59 13 60 11 59 6 18 1 19 1 18 1 19 0 18 0 19 2 18 1 19 1 18 2 19-1 18-2 19 8 18-9 19 9 18-9 19 10 18 15 19-17 18 22 19-8 18 1 19 10 18 6 19 14 18 10 19 8 18 8 19 5 18 34 19 5 18-4 19 17 18 15 19 31 18-9 19 12 18 21 19 11 18-8 19 7 18 54 19 8 18 13 19 7 18 4 19 28 18 1 19 16 18 31 19 42 18-18 19 55 18 25 19-5 18-4 19 55 18 19 19 70 18-56 19 51 18 29 19 35 18-118 19 103"/><path d="M2288 12190l15-20 15-51 14 18 15-6 15 3 15-40 15 5 14-40 15 0 15-11 15-28 15-17 14-12 15-9 15-31 15-26 15-15 14-18 15-21 15-21 15-20 15-19 14-20 15-19 15-18 15-18 15-18 14-17 15-17 15-18 15-18 15-20 15-19 14-21 15-21 59-95 60-111 59-92 59-73 59-64 59-55 60-54 59-67 59-77 59-90 59-102 60-115 59-120 59-124 59-123 59-123 60-123 59-140 59-141 59-133 59-104 60-79 59-73 59-73 59-69 59-66 60-64 59-62 59-62 59-60 60-61 59-61 59-61 59-59 59-59 60-59 59-61 59-61 59-62 59-59 60-57 59-53 59-48 59-46 59-44 60-40 59-37 59-33 59-28 59-25 60-23 59-20 59-16 59-14 59-11 60-11 59-13 59-14 59-16 60-16 59-16 59-16 59-14 59-14 60-13 59-14 59-14 59-15 59-16 60-15 59-13 59-12 59-12 59-12 60-14 59-14 59-14 59-14 59-15 60-15 59-15 59-16 59-15 60-15 59-16 59-15 59-16 59-15 60-15 59-15 59-15 59-14 59-15 60-15 59-14 59-15 59-14 59-15 60-14 59-14 59-14 59-14 59-13 60-13 59-13 59-12 59-12 59-13 60-14 59-13 59-14 59-13 60-13 59-12 59-10 59-8 15-2 30-4 29-2 30-2 29-2 30-1 30 0 29 1 30 7 29 11 30 14 30 16 29 20 30 32 29 35 30 26 30 7 29-9 30-17 29-17 30-25 30-28 29-21 30-10 29-9 30-8 30-8 29-7 30-6 29-6 30-5 30-5 29-5 15-2 74-9 74-8 74-6 74-5 74-4 74-5 74-5 74-6 74-5 74-6 74-5 74-5 74-5 74-4 74-4 74-4 74-4 74-4 74-3 74-3 74-2 74-3 74-2 74-1 74-2 74-2 74-2 74-2 74-2 74-1 74-2 74-1 74-1 74-2 74-1 74-1 74-1 74-1 30 0 30 4 29 14 30 25 29 31 30 36 30 43 29 55 30 69 29 77 30 74 30 63 29 47 30 33 29 11 30-4 30-9 29-12 30-14 29-16 30-15 30-15 29-18 30-20 29-21 30-24 30-24 29-24 30-25 29-24 30-23 30-23 29-22 30-22 30-22 59-44 59-44 59-43 59-39 60-36 59-30 59-27 59-25 59-23 60-22 59-22 59-22 59-24 59-27 60-29 59-25 59-14 30 0 29 4 30 9 29 11 30 12 30 17 29 23 30 27 29 29 30 31 30 29 29 30 30 34 29 35 30 34 30 28 29 21 30 11 29-2 30-15 30-23 29-26 30-24 30-17 29-16 30-16 29-16 30-16 30-15 29-14 30-14 59-23 59-18 59-10 60-2 59 7 59 11 59 13 59 14 60 12 59 7 18 1 19 0 18 1 19 1 18 1 19 0 18 2 19 3 18 0 19 0 18 1 19 3 18-2 19 0 18 4 19 2 18 3 19 13 18 10 19-9 18-7 19 17 18 5 19-3 18 24 19 4 18 1 19 13 18 31 19-10 18 21 19 7 18 5 19 19 18 34 19 28 18-24 19 19 18 15 19 19 18 23 19 21 18 0 19-27 18 97 19-5 18-2 19 28 18 16 19 22 18-47 19 115 18-39 19 63 18 1 19-19 18 43 19 48 18 15 19 3 18-20 19 60 18 48 19-16"/><path d="M2288 12148l15 35 15-24 14 12 15-50 15-25 15 2 15 10 14-26 15-22 15 3 15-51 15-18 14-21 15-8 15-25 15-23 15-12 14-22 15-19 15-21 15-20 15-20 14-19 15-19 15-19 15-18 15-18 14-17 15-18 15-17 15-19 15-19 15-20 14-20 15-22 59-96 60-111 59-93 59-73 59-65 59-55 60-55 59-68 59-77 59-92 59-103 60-116 59-120 59-125 59-124 59-123 60-124 59-140 59-141 59-134 59-103 60-80 59-72 59-73 59-70 59-66 60-64 59-62 59-61 59-60 60-61 59-61 59-61 59-59 59-58 60-59 59-61 59-62 59-61 59-59 60-57 59-52 59-48 59-46 59-43 60-40 59-37 59-32 59-28 59-25 60-23 59-19 59-16 59-13 59-11 60-11 59-12 59-14 59-15 60-16 59-15 59-15 59-14 59-14 60-13 59-13 59-14 59-14 59-16 60-14 59-13 59-11 59-12 59-12 60-13 59-14 59-14 59-14 59-15 60-15 59-15 59-15 59-15 60-16 59-15 59-16 59-15 59-16 60-15 59-15 59-15 59-15 59-14 60-15 59-15 59-15 59-15 59-14 60-15 59-15 59-14 59-14 59-13 60-14 59-12 59-13 59-12 59-13 60-14 59-14 59-14 59-14 60-12 59-12 59-11 59-8 15-2 30-4 29-3 30-2 29-1 30-1 30 0 29 1 30 6 29 12 30 14 30 15 29 21 30 32 29 34 30 26 30 7 29-9 30-16 29-18 30-25 30-27 29-21 30-11 29-9 30-8 30-7 29-7 30-7 29-6 30-5 30-5 29-5 15-2 74-9 74-7 74-6 74-5 74-4 74-5 74-5 74-5 74-6 74-5 74-5 74-5 74-4 74-4 74-4 74-4 74-4 74-3 74-3 74-3 74-2 74-2 74-2 74-1 74-2 74-2 74-1 74-2 74-2 74-2 74-1 74-1 74-1 74-1 74-2 74-1 74-1 74 0 30 0 30 3 29 15 30 24 29 31 30 35 30 43 29 54 30 69 29 76 30 74 30 62 29 47 30 32 29 11 30-4 30-9 29-12 30-14 29-16 30-15 30-16 29-17 30-20 29-22 30-23 30-24 29-24 30-25 29-24 30-23 30-23 29-22 30-22 30-22 59-44 59-44 59-43 59-39 60-36 59-30 59-27 59-25 59-23 60-22 59-22 59-22 59-24 59-27 60-29 59-25 59-14 30 0 29 4 30 9 29 11 30 13 30 16 29 23 30 27 29 29 30 31 30 29 29 30 30 34 29 35 30 33 30 28 29 21 30 11 29-3 30-15 30-23 29-26 30-24 30-18 29-16 30-17 29-16 30-16 30-15 29-14 30-14 59-24 59-18 59-11 60-2 59 6 59 11 59 13 59 14 60 11 59 7 18 1 19 1 18 1 19 0 18 2 19 1 18-1 19 4 18 1 19 1 18-2 19 0 18 9 19-2 18 0 19 4 18 4 19 9 18-4 19 8 18-7 19 28 18-4 19 5 18 5 19 10 18 19 19-14 18 53 19-12 18 35 19-25 18 3 19 18 18 31 19 20 18 13 19 45 18-31 19-6 18 33 19 3 18 41 19 13 18 7 19 26 18 30 19-16 18 71 19-43 18 61 19-56 18 84 19 25 18 38 19-53 18 44 19 2 18 87 19-41 18 29 19 8 18-3 19 94"/><path d="M2288 12178l15-22 15 18 14-45 15-5 15-44 15 0 15 13 14-28 15-23 15-27 15-6 15-18 14-18 15-23 15-22 15-14 15-26 14-19 15-24 15-17 15-20 15-20 14-20 15-19 15-19 15-19 15-18 14-17 15-18 15-18 15-18 15-20 15-20 14-21 15-21 59-97 60-113 59-94 59-74 59-66 59-56 60-55 59-68 59-79 59-92 59-104 60-117 59-121 59-125 59-124 59-124 60-123 59-139 59-141 59-133 59-102 60-79 59-72 59-72 59-68 59-65 60-63 59-61 59-60 59-59 60-60 59-60 59-60 59-58 59-57 60-59 59-60 59-61 59-61 59-59 60-57 59-52 59-48 59-46 59-43 60-40 59-37 59-32 59-29 59-26 60-23 59-19 59-17 59-14 59-11 60-12 59-13 59-15 59-16 60-16 59-17 59-16 59-15 59-14 60-14 59-14 59-14 59-16 59-15 60-16 59-13 59-12 59-12 59-13 60-13 59-14 59-15 59-14 59-15 60-15 59-15 59-15 59-15 60-16 59-15 59-15 59-15 59-15 60-15 59-14 59-15 59-14 59-14 60-14 59-14 59-14 59-14 59-14 60-13 59-14 59-13 59-13 59-13 60-12 59-12 59-12 59-11 59-13 60-13 59-13 59-13 59-13 60-12 59-12 59-10 59-8 15-2 30-3 29-2 30-2 29-2 30-1 30 0 29 2 30 7 29 11 30 14 30 16 29 20 30 32 29 35 30 26 30 7 29-9 30-17 29-17 30-25 30-28 29-21 30-10 29-9 30-9 30-7 29-8 30-6 29-6 30-6 30-5 29-5 15-2 74-9 74-8 74-7 74-5 74-5 74-5 74-6 74-6 74-6 74-6 74-5 74-5 74-5 74-5 74-5 74-4 74-4 74-3 74-3 74-3 74-3 74-2 74-2 74-2 74-1 74-2 74-2 74-1 74-2 74-2 74-1 74-1 74-1 74-1 74-1 74-1 74-1 74 0 30 0 30 3 29 15 30 24 29 31 30 34 30 41 29 54 30 67 29 75 30 73 30 61 29 46 30 32 29 10 30-3 30-9 29-12 30-15 29-15 30-16 30-15 29-17 30-20 29-22 30-23 30-24 29-24 30-25 29-24 30-23 30-23 29-22 30-21 30-22 59-44 59-44 59-42 59-40 60-35 59-29 59-27 59-24 59-23 60-22 59-21 59-21 59-24 59-26 60-29 59-24 59-13 30 0 29 5 30 9 29 11 30 13 30 17 29 24 30 27 29 29 30 31 30 29 29 31 30 34 29 35 30 34 30 28 29 22 30 10 29-2 30-15 30-24 29-26 30-23 30-18 29-16 30-17 29-16 30-15 30-16 29-14 30-14 59-24 59-18 59-11 60-1 59 5 59 11 59 14 59 13 60 12 59 7 18 1 19 1 18 1 19 1 18 1 19-1 18 3 19 1 18 2 19-3 18 4 19 5 18-3 19 2 18-4 19 16 18 1 19-9 18 16 19 7 18 2 19-1 18 8 19-10 18 22 19 8 18-1 19 34 18-1 19 24 18-5 19-4 18 37 19 6 18 28 19 1 18 39 19-22 18 62 19-14 18 30 19-38 18 64 19 2 18 45 19-30 18 35 19-30 18 81 19 28 18 14 19-13 18 48 19 2 18-26 19 52 18 11 19 46 18 17 19 18 18 41 19-101 18 151 19 24"/><path d="M2288 12190l15-9 15-11 14-42 15-13 15-4 15-7 15-43 14-15 15-15 15 2 15-34 15-21 14-15 15-24 15-21 15-13 15-22 14-25 15-19 15-20 15-21 15-20 14-19 15-20 15-19 15-18 15-18 14-18 15-18 15-18 15-18 15-20 15-20 14-21 15-21 59-98 60-115 59-95 59-75 59-66 59-58 60-56 59-70 59-80 59-95 59-106 60-119 59-123 59-127 59-126 59-124 60-125 59-139 59-142 59-134 59-103 60-79 59-73 59-72 59-69 59-65 60-63 59-62 59-59 59-60 60-59 59-60 59-60 59-58 59-58 60-58 59-61 59-61 59-60 59-59 60-57 59-51 59-48 59-45 59-43 60-40 59-36 59-32 59-27 59-25 60-22 59-19 59-16 59-13 59-11 60-10 59-12 59-14 59-15 60-15 59-16 59-15 59-14 59-14 60-13 59-13 59-14 59-14 59-15 60-15 59-13 59-11 59-12 59-12 60-14 59-14 59-14 59-15 59-15 60-15 59-15 59-16 59-16 60-15 59-16 59-16 59-16 59-16 60-15 59-16 59-15 59-15 59-15 60-15 59-15 59-15 59-15 59-15 60-15 59-14 59-15 59-13 59-14 60-13 59-13 59-12 59-12 59-13 60-13 59-14 59-13 59-13 60-13 59-11 59-10 59-8 15-2 30-3 29-2 30-2 29-1 30-1 30 0 29 2 30 7 29 12 30 14 30 16 29 21 30 32 29 35 30 26 30 8 29-9 30-16 29-17 30-25 30-27 29-21 30-10 29-9 30-8 30-7 29-7 30-6 29-6 30-5 30-5 29-4 15-2 74-8 74-7 74-6 74-4 74-4 74-4 74-5 74-6 74-5 74-5 74-5 74-5 74-5 74-5 74-4 74-4 74-4 74-4 74-3 74-3 74-3 74-2 74-3 74-2 74-1 74-2 74-3 74-2 74-2 74-2 74-1 74-1 74-1 74-1 74-1 74-1 74-1 74 0 30 0 30 4 29 15 30 24 29 29 30 33 30 41 29 52 30 66 29 73 30 71 30 61 29 45 30 31 29 10 30-3 30-9 29-12 30-14 29-15 30-16 30-14 29-18 30-19 29-21 30-23 30-23 29-24 30-24 29-24 30-22 30-22 29-22 30-21 30-21 59-43 59-43 59-41 59-38 60-34 59-28 59-26 59-23 59-21 60-20 59-20 59-21 59-22 59-26 60-28 59-23 59-12 30 0 29 5 30 10 29 11 30 13 30 18 29 23 30 27 29 30 30 31 30 29 29 30 30 34 29 35 30 33 30 29 29 21 30 10 29-3 30-16 30-24 29-27 30-24 30-19 29-17 30-17 29-17 30-17 30-16 29-16 30-14 59-26 59-20 59-13 60-4 59 4 59 9 59 12 59 12 60 10 59 6 18 0 19 1 18 0 19 1 18 1 19-1 18 2 19 1 18-2 19 6 18 0 19-2 18 4 19-2 18-7 19 13 18 3 19 5 18-1 19 3 18 7 19 1 18 3 19 19 18 6 19 13 18 2 19 17 18-1 19-15 18 31 19 30 18 16 19-17 18 36 19-15 18 38 19 43 18-12 19 14 18 28 19 2 18 5 19 9 18 8 19 9 18 34 19 15 18 75 19-32 18 7 19 88 18-51 19 16 18 32 19 19 18-8 19 12 18 71 19-42 18 8 19 45 18 7 19 21"/><path d="M2288 12147l15-7 15-12 14-5 15-58 15 40 15-14 15-51 14-1 15-33 15-7 15-1 15-22 14-31 15-3 15-33 15-36 15-9 14-16 15-25 15-20 15-21 15-19 14-20 15-19 15-19 15-19 15-17 14-18 15-17 15-18 15-18 15-20 15-20 14-20 15-21 59-98 60-113 59-95 59-74 59-66 59-56 60-56 59-69 59-79 59-95 59-105 60-119 59-123 59-126 59-126 59-123 60-124 59-139 59-142 59-133 59-103 60-79 59-72 59-72 59-69 59-65 60-63 59-62 59-60 59-60 60-60 59-60 59-60 59-59 59-58 60-60 59-61 59-62 59-62 59-60 60-57 59-53 59-49 59-46 59-44 60-41 59-37 59-33 59-29 59-26 60-23 59-20 59-17 59-13 59-12 60-11 59-12 59-15 59-15 60-16 59-16 59-16 59-14 59-13 60-14 59-13 59-13 59-15 59-14 60-14 59-12 59-11 59-11 59-12 60-12 59-13 59-13 59-14 59-14 60-14 59-14 59-14 59-15 60-14 59-15 59-14 59-15 59-14 60-14 59-15 59-13 59-14 59-14 60-14 59-13 59-14 59-14 59-14 60-14 59-13 59-13 59-14 59-12 60-13 59-12 59-11 59-12 59-13 60-13 59-13 59-14 59-13 60-12 59-11 59-10 59-9 15-2 30-3 29-3 30-2 29-1 30-1 30 0 29 1 30 7 29 11 30 14 30 16 29 20 30 33 29 34 30 26 30 7 29-9 30-17 29-17 30-26 30-28 29-21 30-10 29-10 30-8 30-8 29-7 30-7 29-6 30-6 30-5 29-5 15-2 74-10 74-8 74-7 74-6 74-5 74-6 74-6 74-6 74-7 74-6 74-6 74-6 74-6 74-5 74-5 74-5 74-4 74-5 74-3 74-4 74-3 74-3 74-2 74-2 74-2 74-2 74-2 74-2 74-1 74-2 74-1 74-1 74 0 74-1 74 0 74-1 74 0 74 0 30 1 30 4 29 15 30 24 29 30 30 33 30 40 29 52 30 65 29 73 30 72 30 60 29 45 30 31 29 10 30-4 30-8 29-12 30-14 29-15 30-16 30-14 29-18 30-19 29-21 30-22 30-24 29-24 30-23 29-24 30-22 30-22 29-21 30-21 30-21 59-43 59-42 59-40 59-38 60-33 59-28 59-25 59-22 59-21 60-20 59-19 59-20 59-22 59-25 60-27 59-23 59-12 30 1 29 5 30 10 29 12 30 13 30 17 29 24 30 27 29 30 30 31 30 29 29 31 30 34 29 35 30 33 30 29 29 20 30 11 29-3 30-16 30-24 29-27 30-25 30-18 29-17 30-17 29-18 30-16 30-17 29-15 30-15 59-26 59-20 59-13 60-4 59 4 59 9 59 12 59 12 60 10 59 5 18 1 19 0 18 0 19 1 18 1 19 0 18 1 19-1 18 0 19 6 18-3 19 0 18 0 19 2 18 3 19-3 18 6 19 3 18 13 19-9 18 8 19 5 18 9 19 6 18 25 19-22 18 35 19-7 18-10 19 51 18-10 19 38 18-24 19 19 18 26 19 19 18-50 19 31 18 69 19 19 18-16 19 25 18-27 19 63 18 1 19 19 18 34 19-9 18 55 19-32 18 37 19-23 18 75 19-60 18 50 19 69 18-36 19-26 18 116 19 48 18-13 19-39 18 23 19 49"/><path d="M2288 12171l15-33 15-21 14 4 15-25 15 3 15-44 15 7 14-33 15-4 15-36 15-21 15-20 14-9 15-31 15-8 15-22 15-26 14-21 15-16 15-22 15-20 15-21 14-19 15-20 15-19 15-18 15-18 14-18 15-17 15-18 15-19 15-20 15-20 14-21 15-21 59-98 60-115 59-96 59-75 59-67 59-58 60-56 59-70 59-82 59-95 59-108 60-120 59-125 59-127 59-126 59-125 60-124 59-139 59-142 59-134 59-103 60-78 59-72 59-73 59-68 59-65 60-62 59-61 59-59 59-59 60-59 59-60 59-59 59-58 59-57 60-59 59-60 59-61 59-60 59-60 60-56 59-51 59-48 59-46 59-42 60-40 59-36 59-32 59-27 59-25 60-23 59-19 59-16 59-12 59-11 60-11 59-11 59-14 59-15 60-16 59-16 59-15 59-14 59-14 60-13 59-13 59-14 59-15 59-15 60-14 59-13 59-12 59-12 59-12 60-14 59-14 59-14 59-15 59-16 60-15 59-16 59-16 59-16 60-16 59-16 59-16 59-16 59-16 60-16 59-16 59-15 59-15 59-16 60-15 59-15 59-15 59-15 59-15 60-15 59-14 59-14 59-14 59-13 60-13 59-12 59-12 59-12 59-13 60-13 59-13 59-13 59-12 60-12 59-11 59-9 59-8 15-1 30-3 29-2 30-2 29 0 30-1 30 1 29 2 30 7 29 12 30 15 30 16 29 21 30 33 29 35 30 27 30 8 29-8 30-16 29-17 30-24 30-28 29-20 30-10 29-8 30-8 30-7 29-7 30-5 29-6 30-5 30-4 29-4 15-2 74-8 74-6 74-5 74-4 74-4 74-4 74-4 74-5 74-6 74-5 74-5 74-5 74-5 74-4 74-5 74-4 74-4 74-4 74-4 74-3 74-4 74-3 74-2 74-3 74-2 74-2 74-3 74-3 74-2 74-2 74-2 74-2 74-1 74-2 74-1 74-2 74-1 74 0 30 0 30 3 29 15 30 23 29 29 30 32 30 39 29 50 30 64 29 72 30 69 30 59 29 44 30 31 29 9 30-4 30-9 29-12 30-14 29-15 30-16 30-15 29-17 30-20 29-21 30-23 30-23 29-24 30-24 29-23 30-23 30-22 29-21 30-21 30-21 59-43 59-42 59-41 59-37 60-34 59-28 59-24 59-23 59-20 60-20 59-19 59-20 59-21 59-25 60-27 59-22 59-12 30 1 29 6 30 10 29 12 30 14 30 18 29 24 30 27 29 30 30 31 30 30 29 30 30 35 29 35 30 33 30 29 29 21 30 10 29-3 30-16 30-24 29-27 30-24 30-19 29-17 30-18 29-17 30-17 30-16 29-16 30-14 59-27 59-20 59-13 60-4 59 4 59 9 59 11 59 12 60 11 59 5 18 1 19 1 18 1 19 0 18 0 19 2 18 1 19 0 18 2 19 0 18 3 19-2 18-2 19 3 18-3 19 1 18 12 19 3 18-1 19 11 18-7 19 15 18-13 19 30 18-13 19 30 18 4 19 37 18-15 19 13 18-15 19 15 18 20 19 12 18 7 19 24 18 16 19-29 18 74 19 28 18-2 19-27 18 39 19 32 18-21 19 29 18-10 19 101 18-82 19 80 18-17 19 43 18 5 19 11 18 64 19-48 18 31 19 33 18-8 19-39 18 70 19 113 18-44 19 31"/><path d="M2288 12144l15 22 15-77 14 32 15-21 15-16 15-41 15 3 14-24 15-16 15-12 15-35 15-12 14-24 15-11 15-15 15-23 15-30 14-17 15-21 15-22 15-20 15-21 14-20 15-19 15-20 15-18 15-18 14-18 15-18 15-18 15-18 15-20 15-20 14-21 15-22 59-98 60-116 59-96 59-76 59-67 59-58 60-56 59-71 59-82 59-96 59-107 60-121 59-124 59-128 59-126 59-125 60-124 59-138 59-143 59-133 59-102 60-78 59-72 59-72 59-68 59-65 60-61 59-61 59-59 59-58 60-59 59-60 59-59 59-57 59-58 60-58 59-60 59-61 59-61 59-59 60-56 59-52 59-48 59-45 59-43 60-40 59-36 59-32 59-27 59-26 60-22 59-19 59-16 59-13 59-11 60-10 59-12 59-14 59-15 60-16 59-15 59-15 59-14 59-13 60-13 59-13 59-14 59-14 59-15 60-14 59-13 59-11 59-11 59-12 60-13 59-14 59-14 59-15 59-14 60-15 59-15 59-16 59-15 60-16 59-16 59-16 59-15 59-16 60-16 59-15 59-15 59-16 59-15 60-15 59-15 59-15 59-15 59-15 60-15 59-15 59-14 59-14 59-14 60-13 59-13 59-12 59-12 59-13 60-14 59-14 59-14 59-13 60-12 59-12 59-10 59-8 15-1 30-3 29-3 30-2 29-1 30-1 30 1 29 1 30 7 29 12 30 15 30 16 29 20 30 33 29 35 30 26 30 8 29-8 30-16 29-18 30-24 30-28 29-21 30-9 29-9 30-8 30-7 29-6 30-6 29-6 30-5 30-4 29-4 15-2 74-8 74-6 74-5 74-3 74-4 74-3 74-4 74-5 74-4 74-5 74-4 74-4 74-4 74-3 74-4 74-3 74-3 74-3 74-3 74-3 74-2 74-2 74-2 74-2 74-1 74-2 74-2 74-3 74-2 74-2 74-2 74-1 74-2 74-2 74-1 74-2 74-2 74-1 30 0 30 3 29 15 30 23 29 28 30 31 30 39 29 49 30 63 29 71 30 69 30 58 29 43 30 30 29 10 30-5 30-9 29-12 30-15 29-16 30-15 30-16 29-17 30-20 29-22 30-23 30-23 29-25 30-24 29-24 30-23 30-22 29-22 30-21 30-21 59-44 59-42 59-41 59-38 60-34 59-29 59-25 59-22 59-21 60-20 59-19 59-20 59-21 59-25 60-26 59-23 59-11 30 1 29 6 30 10 29 13 30 13 30 18 29 25 30 28 29 30 30 31 30 30 29 31 30 34 29 36 30 33 30 29 29 21 30 11 29-3 30-16 30-24 29-27 30-24 30-18 29-17 30-18 29-17 30-16 30-17 29-15 30-15 59-26 59-20 59-12 60-4 59 4 59 10 59 12 59 12 60 10 59 7 18 0 19 1 18 1 19 1 18-1 19 2 18 1 19 1 18-4 19 5 18-2 19 4 18 1 19 2 18-1 19 7 18 12 19-6 18-1 19 1 18 8 19 2 18 5 19 0 18 23 19 4 18 3 19 12 18 39 19-27 18 28 19 11 18-7 19 43 18-42 19 43 18 26 19 28 18-28 19-11 18 62 19-13 18-19 19 48 18 38 19 13 18 14 19-30 18 55 19 23 18 66 19-26 18 23 19 31 18-4 19 15 18 19 19 14 18-28 19 97 18-22 19 32 18-67 19 122"/><path d="M2288 12114l15-25 15 54 14-58 15-2 15-20 15-11 15-14 14-23 15-30 15 0 15-19 15-26 14-2 15-41 15-18 15-18 15-19 14-24 15-20 15-21 15-20 15-21 14-20 15-19 15-20 15-18 15-18 14-18 15-18 15-18 15-18 15-20 15-20 14-21 15-22 59-98 60-117 59-96 59-77 59-67 59-58 60-57 59-71 59-82 59-97 59-109 60-121 59-126 59-128 59-127 59-125 60-124 59-139 59-142 59-133 59-103 60-78 59-72 59-72 59-68 59-65 60-62 59-60 59-59 59-59 60-59 59-60 59-59 59-58 59-57 60-59 59-60 59-61 59-62 59-59 60-57 59-52 59-48 59-46 59-43 60-40 59-37 59-32 59-28 59-25 60-23 59-19 59-16 59-13 59-11 60-11 59-12 59-13 59-16 60-15 59-16 59-15 59-14 59-13 60-12 59-13 59-13 59-15 59-14 60-14 59-12 59-10 59-11 59-12 60-13 59-13 59-13 59-14 59-15 60-14 59-15 59-15 59-15 60-15 59-15 59-16 59-15 59-15 60-15 59-15 59-15 59-15 59-15 60-14 59-15 59-15 59-15 59-14 60-15 59-14 59-15 59-13 59-14 60-13 59-13 59-12 59-12 59-13 60-14 59-14 59-13 59-14 60-12 59-12 59-10 59-8 15-2 30-3 29-2 30-2 29-2 30 0 30 0 29 2 30 7 29 11 30 15 30 15 29 21 30 33 29 34 30 27 30 7 29-8 30-17 29-17 30-25 30-28 29-21 30-9 29-9 30-8 30-7 29-7 30-6 29-6 30-5 30-5 29-4 15-2 74-8 74-7 74-5 74-4 74-4 74-4 74-4 74-5 74-5 74-4 74-5 74-4 74-4 74-4 74-4 74-3 74-4 74-3 74-2 74-3 74-2 74-2 74-2 74-1 74-2 74-2 74-1 74-2 74-2 74-2 74-2 74-1 74-1 74-1 74-1 74-2 74-1 74 0 30 0 30 3 29 15 30 23 29 28 30 31 30 37 29 49 30 62 29 70 30 68 30 58 29 43 30 30 29 9 30-4 30-9 29-12 30-14 29-15 30-16 30-15 29-17 30-20 29-21 30-23 30-23 29-24 30-24 29-23 30-23 30-22 29-22 30-21 30-21 59-43 59-42 59-40 59-38 60-33 59-28 59-25 59-22 59-21 60-19 59-19 59-20 59-21 59-24 60-27 59-22 59-11 30 1 29 6 30 10 29 13 30 14 30 18 29 24 30 28 29 30 30 31 30 30 29 31 30 34 29 35 30 34 30 28 29 21 30 11 29-3 30-16 30-25 29-27 30-24 30-19 29-17 30-18 29-17 30-17 30-17 29-16 30-15 59-26 59-21 59-14 60-4 59 4 59 8 59 12 59 12 60 10 59 5 18 1 19 0 18 1 19 1 18 1 19 0 18 1 19 0 18 1 19-3 18 6 19-3 18 3 19 6 18-8 19 15 18-9 19 0 18 16 19-11 18 13 19-9 18 22 19-9 18 9 19 42 18-29 19 27 18 23 19-2 18 10 19-28 18 44 19 40 18-41 19 27 18 51 19 9 18-19 19 26 18 5 19 32 18 10 19 31 18 0 19 21 18 40 19-1 18-33 19 25 18 30 19 77 18-60 19 45 18-71 19 78 18 55 19 51 18 10 19-51 18 125 19-72 18 68 19-48"/><path d="M2288 12149l15-34 15-30 14-3 15-48 15 15 15-37 15-7 14 6 15-37 15-26 15-20 15-5 14-31 15-16 15-13 15-24 15-19 14-21 15-21 15-22 15-21 15-20 14-20 15-20 15-19 15-19 15-18 14-17 15-18 15-18 15-19 15-19 15-20 14-21 15-21 59-99 60-118 59-97 59-77 59-67 59-58 60-57 59-72 59-83 59-98 59-110 60-123 59-126 59-129 59-127 59-125 60-124 59-138 59-142 59-133 59-102 60-78 59-71 59-72 59-67 59-64 60-61 59-60 59-59 59-57 60-59 59-59 59-59 59-57 59-57 60-59 59-60 59-61 59-62 59-59 60-57 59-53 59-48 59-46 59-44 60-40 59-37 59-33 59-29 59-26 60-23 59-20 59-17 59-13 59-12 60-11 59-13 59-15 59-16 60-16 59-16 59-16 59-15 59-14 60-13 59-14 59-13 59-15 59-15 60-14 59-13 59-11 59-12 59-12 60-13 59-13 59-14 59-14 59-14 60-15 59-15 59-15 59-15 60-15 59-15 59-15 59-15 59-15 60-14 59-15 59-14 59-14 59-14 60-14 59-14 59-14 59-14 59-14 60-14 59-13 59-13 59-13 59-13 60-12 59-12 59-11 59-11 59-12 60-13 59-13 59-13 59-13 60-12 59-10 59-10 59-8 15-1 30-3 29-2 30-2 29-1 30-1 30 1 29 1 30 8 29 11 30 15 30 16 29 20 30 33 29 35 30 26 30 8 29-9 30-16 29-18 30-24 30-29 29-21 30-10 29-9 30-8 30-7 29-7 30-6 29-6 30-6 30-5 29-4 15-2 74-9 74-7 74-6 74-5 74-4 74-5 74-5 74-6 74-6 74-5 74-5 74-5 74-5 74-4 74-4 74-4 74-4 74-3 74-3 74-3 74-2 74-2 74-1 74-1 74-1 74-1 74-2 74-1 74-1 74-1 74-1 74 0 74 0 74 0 74 0 74-1 74 0 74 1 30 0 30 4 29 15 30 23 29 27 30 30 30 37 29 46 30 61 29 69 30 67 30 56 29 42 30 30 29 9 30-4 30-8 29-12 30-14 29-15 30-15 30-15 29-17 30-19 29-21 30-23 30-23 29-23 30-24 29-23 30-22 30-22 29-22 30-20 30-21 59-42 59-42 59-40 59-37 60-33 59-28 59-24 59-22 59-20 60-20 59-19 59-19 59-21 59-25 60-27 59-22 59-11 30 1 29 5 30 10 29 12 30 14 30 18 29 24 30 27 29 30 30 31 30 30 29 30 30 34 29 35 30 33 30 29 29 20 30 11 29-4 30-16 30-25 29-28 30-25 30-19 29-18 30-18 29-17 30-18 30-17 29-16 30-15 59-28 59-21 59-14 60-4 59 3 59 8 59 11 59 12 60 9 59 6 18 1 19 0 18 1 19 0 18 1 19 1 18 1 19-3 18 4 19 3 18-1 19-3 18 7 19-10 18 12 19 4 18-6 19 3 18 8 19-8 18 17 19-8 18 24 19-26 18 29 19 11 18 16 19 10 18 5 19-6 18 33 19-8 18 27 19-15 18 27 19 30 18 25 19-15 18 0 19 27 18 25 19 50 18-31 19-18 18 38 19 13 18 0 19 94 18-29 19 51 18 21 19-39 18 39 19 25 18 3 19-4 18 44 19 13 18 29 19-63 18 98 19 38 18-48 19 39"/><path d="M2288 12147l15-37 15-78 14 42 15-4 15-37 15-15 15-27 14-12 15-26 15-1 15-15 15-19 14-25 15-31 15-21 15-19 15-20 14-22 15-21 15-21 15-21 15-20 14-20 15-20 15-19 15-19 15-17 14-18 15-18 15-18 15-18 15-20 15-20 14-21 15-21 59-99 60-117 59-98 59-76 59-67 59-58 60-57 59-71 59-83 59-98 59-110 60-123 59-126 59-129 59-127 59-125 60-123 59-138 59-142 59-132 59-102 60-77 59-71 59-71 59-68 59-63 60-61 59-60 59-59 59-57 60-59 59-59 59-59 59-58 59-57 60-59 59-61 59-61 59-62 59-61 60-57 59-53 59-49 59-46 59-44 60-41 59-38 59-33 59-29 59-26 60-24 59-21 59-17 59-13 59-12 60-11 59-13 59-15 59-15 60-17 59-16 59-15 59-15 59-13 60-13 59-13 59-14 59-14 59-14 60-14 59-11 59-11 59-11 59-11 60-12 59-13 59-13 59-14 59-13 60-14 59-14 59-15 59-14 60-15 59-14 59-15 59-14 59-15 60-14 59-15 59-14 59-14 59-14 60-14 59-14 59-14 59-14 59-14 60-14 59-14 59-14 59-13 59-13 60-13 59-12 59-12 59-11 59-13 60-14 59-13 59-14 59-13 60-12 59-12 59-10 59-8 15-2 30-3 29-2 30-2 29-1 30-1 30 0 29 2 30 7 29 11 30 15 30 15 29 21 30 33 29 34 30 27 30 7 29-8 30-17 29-17 30-25 30-28 29-22 30-10 29-8 30-9 30-7 29-7 30-6 29-6 30-5 30-5 29-4 15-2 74-9 74-6 74-6 74-4 74-4 74-4 74-4 74-5 74-5 74-4 74-5 74-4 74-4 74-3 74-4 74-3 74-3 74-2 74-3 74-2 74-2 74-1 74-1 74-1 74-1 74-1 74-2 74-1 74-2 74-1 74-1 74-1 74-1 74-1 74-1 74-1 74-1 74 0 30 0 30 4 29 14 30 22 29 27 30 29 30 36 29 45 30 60 29 67 30 66 30 56 29 41 30 29 29 9 30-4 30-9 29-12 30-15 29-15 30-16 30-15 29-17 30-19 29-22 30-22 30-24 29-23 30-24 29-24 30-22 30-22 29-21 30-21 30-21 59-42 59-42 59-40 59-37 60-33 59-28 59-24 59-21 59-20 60-19 59-19 59-19 59-21 59-24 60-27 59-22 59-11 30 1 29 7 30 9 29 13 30 14 30 17 29 25 30 28 29 30 30 31 30 30 29 30 30 35 29 35 30 33 30 29 29 21 30 10 29-3 30-16 30-25 29-27 30-25 30-19 29-18 30-17 29-18 30-17 30-17 29-16 30-15 59-27 59-21 59-14 60-3 59 3 59 9 59 11 59 13 60 10 59 6 18 1 19 1 18 0 19 2 18 0 19 1 18 0 19-1 18 4 19 2 18-2 19 2 18 2 19-3 18 5 19-3 18 5 19 7 18-15 19 7 18 4 19 8 18 20 19-13 18 21 19 18 18 5 19 22 18-7 19 9 18 13 19 21 18-9 19 30 18 16 19 4 18-12 19 50 18 34 19 5 18-25 19 14 18 27 19 9 18 36 19 41 18 4 19 15 18 7 19-29 18 16 19 56 18 22 19 4 18 27 19-10 18 4 19 61 18-9 19 0 18 24 19 22 18 45 19-29"/><path d="M2288 12087l15-10 15 13 14-26 15 3 15-69 15 25 15-26 14-8 15-50 15 11 15-35 15-3 14-9 15-36 15-28 15-13 15-27 14-18 15-21 15-21 15-21 15-20 14-20 15-20 15-19 15-19 15-18 14-18 15-18 15-18 15-18 15-20 15-20 14-21 15-21 59-100 60-118 59-98 59-78 59-68 59-58 60-58 59-72 59-84 59-100 59-111 60-124 59-128 59-129 59-129 59-125 60-124 59-138 59-143 59-133 59-102 60-78 59-72 59-71 59-68 59-64 60-61 59-60 59-59 59-57 60-59 59-59 59-59 59-58 59-57 60-59 59-60 59-62 59-62 59-60 60-57 59-53 59-48 59-47 59-43 60-41 59-37 59-32 59-29 59-26 60-23 59-20 59-16 59-13 59-12 60-10 59-12 59-14 59-16 60-15 59-16 59-15 59-14 59-13 60-13 59-12 59-13 59-14 59-14 60-14 59-11 59-11 59-10 59-11 60-13 59-13 59-13 59-13 59-14 60-15 59-14 59-15 59-14 60-15 59-15 59-15 59-15 59-15 60-15 59-15 59-15 59-14 59-14 60-15 59-14 59-15 59-14 59-15 60-14 59-14 59-14 59-13 59-13 60-13 59-12 59-12 59-12 59-13 60-13 59-13 59-13 59-13 60-12 59-11 59-10 59-7 15-2 30-3 29-2 30-2 29-1 30 0 30 0 29 2 30 8 29 11 30 15 30 16 29 21 30 33 29 35 30 27 30 8 29-8 30-17 29-17 30-24 30-28 29-21 30-10 29-8 30-8 30-7 29-7 30-6 29-5 30-5 30-5 29-4 15-2 74-8 74-6 74-5 74-4 74-3 74-4 74-5 74-5 74-5 74-5 74-4 74-5 74-5 74-4 74-4 74-4 74-4 74-4 74-3 74-3 74-3 74-3 74-2 74-2 74-3 74-2 74-2 74-3 74-2 74-3 74-1 74-2 74-1 74-1 74-2 74-1 74-1 74 0 30 0 30 4 29 15 30 22 29 26 30 29 30 35 29 45 30 60 29 66 30 66 30 55 29 42 30 28 29 10 30-4 30-9 29-11 30-14 29-15 30-15 30-14 29-17 30-19 29-20 30-22 30-23 29-23 30-23 29-22 30-22 30-21 29-21 30-20 30-20 59-40 59-41 59-38 59-35 60-31 59-26 59-23 59-20 59-19 60-17 59-17 59-18 59-20 59-23 60-26 59-21 59-10 30 1 29 6 30 10 29 13 30 14 30 18 29 24 30 28 29 30 30 31 30 30 29 30 30 35 29 35 30 33 30 28 29 21 30 10 29-4 30-16 30-25 29-28 30-26 30-19 29-18 30-19 29-18 30-18 30-17 29-17 30-16 59-28 59-23 59-15 60-6 59 2 59 7 59 10 59 10 60 9 59 4 18 1 19 0 18 0 19 0 18 0 19 0 18 0 19 1 18 0 19 0 18 2 19-3 18 1 19 1 18 3 19 6 18 2 19 12 18-4 19-13 18 6 19-2 18 2 19 8 18 17 19 10 18-5 19 18 18 31 19-27 18 32 19-11 18 17 19 38 18 18 19-14 18 35 19-38 18 57 19-45 18 61 19 24 18 3 19 37 18-16 19 44 18 8 19 12 18-38 19 95 18-31 19 72 18-51 19 35 18 31 19 15 18-9 19-27 18 93 19-19 18 90 19-18 18-57 19 105"/><path d="M2288 12120l15-23 15-46 14-41 15 25 15-12 15-29 15-29 14 0 15-33 15 13 15-40 15-25 14-5 15-25 15-15 15-24 15-24 14-18 15-23 15-21 15-20 15-21 14-20 15-20 15-19 15-19 15-18 14-18 15-17 15-18 15-19 15-20 15-20 14-21 15-21 59-100 60-119 59-98 59-78 59-68 59-58 60-58 59-73 59-84 59-100 59-112 60-125 59-128 59-130 59-128 59-125 60-124 59-138 59-142 59-133 59-102 60-77 59-71 59-71 59-68 59-63 60-61 59-59 59-58 59-58 60-58 59-58 59-59 59-57 59-57 60-59 59-61 59-61 59-62 59-60 60-57 59-53 59-49 59-47 59-43 60-41 59-37 59-33 59-29 59-26 60-23 59-21 59-17 59-13 59-11 60-11 59-13 59-14 59-16 60-16 59-16 59-15 59-15 59-13 60-13 59-13 59-13 59-14 59-15 60-13 59-12 59-11 59-11 59-11 60-13 59-13 59-14 59-13 59-15 60-14 59-15 59-15 59-15 60-15 59-15 59-15 59-16 59-15 60-15 59-15 59-14 59-15 59-14 60-15 59-15 59-14 59-15 59-14 60-15 59-14 59-13 59-14 59-13 60-13 59-12 59-12 59-11 59-13 60-13 59-13 59-13 59-13 60-11 59-11 59-9 59-8 15-1 30-3 29-2 30-1 29-1 30 0 30 0 29 2 30 8 29 12 30 15 30 16 29 22 30 33 29 35 30 27 30 8 29-8 30-16 29-17 30-24 30-28 29-20 30-10 29-8 30-8 30-7 29-6 30-6 29-5 30-4 30-5 29-3 15-2 74-7 74-6 74-4 74-3 74-3 74-3 74-4 74-4 74-5 74-4 74-4 74-4 74-4 74-4 74-4 74-4 74-3 74-3 74-4 74-3 74-3 74-2 74-2 74-3 74-2 74-2 74-3 74-3 74-2 74-3 74-2 74-2 74-1 74-2 74-2 74-2 74-1 74-1 30 0 30 4 29 14 30 22 29 25 30 28 30 34 29 44 30 58 29 66 30 64 30 54 29 41 30 28 29 9 30-4 30-9 29-12 30-14 29-15 30-15 30-15 29-16 30-19 29-21 30-22 30-23 29-23 30-23 29-22 30-22 30-21 29-21 30-20 30-20 59-41 59-40 59-38 59-35 60-31 59-26 59-22 59-20 59-19 60-17 59-17 59-17 59-20 59-23 60-26 59-21 59-10 30 1 29 7 30 10 29 13 30 13 30 18 29 25 30 28 29 30 30 31 30 30 29 30 30 35 29 35 30 33 30 29 29 20 30 10 29-3 30-17 30-25 29-28 30-25 30-20 29-18 30-18 29-19 30-18 30-17 29-17 30-16 59-28 59-23 59-15 60-5 59 2 59 7 59 10 59 11 60 8 59 5 18 0 19 0 18 1 19 0 18 1 19 0 18 2 19-3 18-1 19 4 18-4 19 0 18 5 19 3 18-3 19-3 18-2 19-4 18 17 19-4 18-3 19 13 18-3 19 21 18-14 19 36 18-6 19 10 18 15 19-11 18 29 19 4 18 6 19 29 18-6 19 45 18-18 19 25 18 6 19 25 18 13 19-23 18 54 19 1 18 39 19-22 18 60 19 9 18-22 19 9 18 59 19 8 18-8 19 72 18-11 19 15 18-6 19-9 18 9 19-58 18 114 19 28 18-76 19 108"/><path d="M2288 12089l15-36 15-25 14 1 15 33 15-30 15-42 15 4 14-4 15-71 15 27 15-48 15 0 14-20 15-27 15-12 15-28 15-21 14-22 15-23 15-18 15-21 15-21 14-21 15-20 15-19 15-19 15-18 14-18 15-18 15-18 15-19 15-20 15-20 14-21 15-22 59-100 60-120 59-99 59-78 59-69 59-60 60-58 59-74 59-85 59-101 59-113 60-126 59-129 59-131 59-129 59-126 60-124 59-138 59-143 59-133 59-102 60-77 59-72 59-71 59-67 59-64 60-61 59-59 59-58 59-58 60-58 59-59 59-59 59-57 59-58 60-58 59-61 59-62 59-63 59-60 60-58 59-53 59-49 59-47 59-44 60-41 59-38 59-33 59-30 59-26 60-24 59-21 59-17 59-14 59-12 60-11 59-13 59-15 59-16 60-16 59-16 59-16 59-14 59-14 60-13 59-13 59-13 59-14 59-15 60-13 59-12 59-10 59-11 59-11 60-13 59-12 59-13 59-14 59-14 60-14 59-14 59-14 59-14 60-15 59-14 59-15 59-14 59-15 60-14 59-14 59-14 59-13 59-14 60-14 59-13 59-14 59-14 59-13 60-14 59-13 59-13 59-12 59-13 60-12 59-11 59-11 59-11 59-12 60-12 59-13 59-12 59-12 60-12 59-10 59-9 59-7 15-1 30-3 29-2 30-1 29-1 30 0 30 1 29 2 30 8 29 12 30 15 30 16 29 22 30 33 29 36 30 27 30 8 29-8 30-16 29-17 30-25 30-28 29-20 30-10 29-8 30-8 30-7 29-6 30-6 29-5 30-5 30-4 29-4 15-2 74-8 74-5 74-5 74-3 74-3 74-4 74-4 74-5 74-4 74-5 74-4 74-4 74-5 74-4 74-4 74-3 74-4 74-3 74-4 74-3 74-2 74-3 74-2 74-2 74-3 74-2 74-3 74-2 74-3 74-3 74-2 74-2 74-2 74-2 74-2 74-2 74-2 74-1 30-1 30 4 29 14 30 21 29 25 30 27 30 34 29 42 30 57 29 65 30 63 30 53 29 40 30 28 29 8 30-5 30-9 29-12 30-14 29-16 30-15 30-15 29-17 30-19 29-21 30-22 30-23 29-24 30-23 29-23 30-22 30-21 29-21 30-20 30-21 59-41 59-40 59-39 59-36 60-31 59-26 59-23 59-20 59-18 60-18 59-17 59-18 59-20 59-23 60-25 59-22 59-10 30 2 29 6 30 10 29 13 30 14 30 18 29 24 30 28 29 30 30 32 30 29 29 31 30 35 29 35 30 34 30 28 29 21 30 10 29-3 30-17 30-25 29-27 30-26 30-19 29-18 30-18 29-18 30-18 30-17 29-17 30-15 59-28 59-22 59-15 60-4 59 2 59 8 59 11 59 11 60 10 59 5 18 1 19 1 18-1 19 2 18 0 19 1 18 1 19-1 18 1 19 0 18 1 19 1 18 2 19-2 18 0 19 2 18-1 19 8 18 7 19 5 18-13 19 8 18 9 19 10 18 16 19-5 18 0 19 34 18 8 19-1 18 5 19-2 18 23 19-7 18 30 19 13 18 21 19 23 18-22 19 29 18 20 19 37 18-30 19 50 18 19 19-11 18 60 19-50 18 55 19-8 18 27 19 27 18 66 19-98 18 121 19-78 18-5 19 89 18-1 19 52 18-36 19 51 18-69 19 51"/><path d="M2288 12041l15-20 15 12 14 29 15-65 15 7 15-36 15 5 14-49 15 12 15-31 15-32 15-17 14-3 15-25 15-30 15-21 15-18 14-22 15-18 15-22 15-21 15-21 14-20 15-20 15-20 15-19 15-18 14-18 15-18 15-18 15-19 15-20 15-20 14-21 15-22 59-100 60-121 59-100 59-78 59-69 59-59 60-59 59-73 59-86 59-102 59-113 60-126 59-129 59-131 59-128 59-126 60-123 59-137 59-142 59-132 59-101 60-76 59-70 59-70 59-66 59-62 60-60 59-58 59-57 59-56 60-57 59-58 59-57 59-57 59-56 60-58 59-60 59-61 59-62 59-60 60-57 59-53 59-49 59-46 59-44 60-41 59-37 59-33 59-29 59-27 60-24 59-21 59-17 59-14 59-12 60-12 59-13 59-15 59-16 60-17 59-17 59-16 59-15 59-14 60-14 59-13 59-14 59-14 59-15 60-14 59-12 59-11 59-12 59-11 60-13 59-13 59-14 59-14 59-14 60-14 59-15 59-14 59-15 60-15 59-15 59-15 59-14 59-15 60-14 59-14 59-14 59-14 59-14 60-13 59-14 59-14 59-13 59-14 60-13 59-13 59-13 59-12 59-13 60-11 59-11 59-11 59-11 59-12 60-12 59-12 59-13 59-12 60-11 59-10 59-9 59-7 15-1 30-3 29-2 30-1 29-1 30 0 30 1 29 2 30 8 29 12 30 15 30 16 29 21 30 34 29 35 30 27 30 8 29-8 30-16 29-18 30-24 30-28 29-21 30-10 29-8 30-8 30-7 29-7 30-6 29-5 30-5 30-5 29-4 15-2 74-8 74-6 74-5 74-5 74-4 74-4 74-4 74-6 74-5 74-5 74-6 74-4 74-5 74-5 74-4 74-5 74-4 74-4 74-3 74-3 74-3 74-3 74-2 74-3 74-2 74-2 74-2 74-3 74-2 74-2 74-2 74-1 74-1 74-1 74-2 74-1 74 0 74-1 30 1 30 3 29 15 30 21 29 26 30 26 30 33 29 42 30 57 29 63 30 63 30 53 29 40 30 27 29 9 30-4 30-8 29-12 30-14 29-15 30-15 30-14 29-17 30-18 29-20 30-22 30-22 29-23 30-23 29-22 30-21 30-21 29-20 30-20 30-19 59-40 59-39 59-38 59-34 60-30 59-25 59-21 59-20 59-17 60-17 59-16 59-17 59-19 59-22 60-25 59-21 59-10 30 2 29 6 30 10 29 13 30 14 30 18 29 25 30 28 29 30 30 32 30 29 29 31 30 34 29 36 30 33 30 29 29 20 30 10 29-3 30-17 30-25 29-28 30-26 30-19 29-19 30-18 29-19 30-18 30-17 29-17 30-16 59-29 59-23 59-15 60-5 59 2 59 7 59 10 59 10 60 9 59 5 18 0 19 0 18 0 19 1 18 0 19 0 18-2 19 3 18-3 19 3 18 1 19 5 18-5 19-1 18-1 19 1 18 13 19-13 18 11 19 6 18 8 19 4 18 3 19-7 18 20 19 1 18 12 19-5 18 39 19-24 18 25 19-6 18 18 19 31 18-16 19 21 18 18 19-22 18-4 19 65 18 2 19 18 18 18 19 11 18 17 19 1 18 51 19 7 18 16 19 15 18-1 19-17 18 48 19 40 18 1 19 33 18 4 19 40 18-36 19 35 18 40 19-11 18-55 19 104"/><path d="M2288 12074l15-56 15 5 14 0 15-39 15 4 15-32 15 1 14-23 15-22 15-23 15-3 15-35 14-9 15-30 15-13 15-13 15-29 14-15 15-26 15-23 15-21 15-21 14-21 15-20 15-19 15-20 15-18 14-18 15-18 15-18 15-19 15-20 15-21 14-20 15-22 59-101 60-121 59-101 59-79 59-70 59-60 60-59 59-74 59-87 59-103 59-114 60-128 59-130 59-132 59-129 59-126 60-124 59-138 59-143 59-133 59-101 60-76 59-71 59-71 59-66 59-63 60-60 59-58 59-58 59-56 60-57 59-58 59-58 59-57 59-56 60-58 59-61 59-61 59-62 59-60 60-57 59-53 59-49 59-46 59-44 60-41 59-37 59-33 59-29 59-26 60-23 59-21 59-16 59-14 59-11 60-11 59-12 59-15 59-15 60-16 59-16 59-15 59-14 59-13 60-13 59-12 59-13 59-14 59-13 60-13 59-11 59-10 59-11 59-11 60-11 59-13 59-13 59-13 59-13 60-14 59-14 59-14 59-14 60-14 59-15 59-14 59-15 59-14 60-14 59-15 59-14 59-13 59-14 60-14 59-14 59-14 59-14 59-14 60-13 59-14 59-13 59-13 59-13 60-13 59-11 59-12 59-11 59-13 60-13 59-13 59-13 59-13 60-12 59-11 59-9 59-8 15-2 30-3 29-2 30-2 29-1 30 0 30 0 29 2 30 8 29 11 30 15 30 16 29 21 30 33 29 35 30 27 30 8 29-9 30-16 29-18 30-25 30-28 29-21 30-10 29-9 30-8 30-7 29-7 30-6 29-5 30-5 30-5 29-4 15-2 74-9 74-6 74-5 74-4 74-4 74-4 74-5 74-5 74-5 74-5 74-4 74-5 74-4 74-5 74-4 74-3 74-4 74-3 74-3 74-3 74-3 74-2 74-2 74-1 74-2 74-2 74-2 74-2 74-2 74-2 74-1 74-1 74-1 74-1 74-1 74-1 74-1 74 0 30 0 30 4 29 15 30 21 29 24 30 27 30 32 29 41 30 56 29 62 30 62 30 53 29 39 30 27 29 8 30-4 30-8 29-12 30-14 29-14 30-15 30-15 29-16 30-18 29-21 30-21 30-22 29-23 30-22 29-22 30-22 30-20 29-20 30-20 30-19 59-39 59-39 59-37 59-34 60-30 59-24 59-21 59-19 59-17 60-16 59-15 59-17 59-18 59-22 60-25 59-20 59-10 30 2 29 7 30 10 29 13 30 14 30 18 29 25 30 28 29 31 30 31 30 30 29 31 30 34 29 36 30 33 30 29 29 21 30 10 29-4 30-17 30-25 29-28 30-25 30-20 29-18 30-19 29-18 30-18 30-18 29-17 30-16 59-29 59-23 59-15 60-6 59 2 59 7 59 10 59 10 60 9 59 5 18 0 19 0 18 0 19 1 18 0 19 1 18-2 19-1 18 1 19 1 18 3 19-9 18 10 19 4 18-10 19 0 18 5 19 10 18-3 19 3 18 3 19 5 18 2 19 4 18-2 19 23 18 16 19-12 18 14 19 13 18-13 19 22 18-6 19-6 18 40 19 33 18-16 19 27 18-32 19 55 18 19 19-27 18 77 19-20 18-7 19 47 18-19 19-8 18 83 19 2 18-13 19 40 18-22 19 85 18 52 19-73 18 102 19-53 18 67 19-12 18 21 19-29 18 43 19-15"/><path d="M2288 12044l15-18 15-9 14-28 15 13 15-46 15-28 15 7 14-25 15-34 15 21 15-52 15 3 14-13 15-33 15-21 15-27 15-18 14-25 15-15 15-25 15-21 15-21 14-21 15-21 15-20 15-19 15-18 14-18 15-18 15-19 15-19 15-20 15-21 14-21 15-21 59-102 60-123 59-102 59-80 59-70 59-60 60-60 59-75 59-88 59-104 59-116 60-128 59-131 59-133 59-130 59-126 60-123 59-137 59-143 59-133 59-100 60-76 59-69 59-70 59-66 59-62 60-59 59-58 59-56 59-56 60-57 59-57 59-57 59-56 59-56 60-58 59-60 59-61 59-62 59-60 60-58 59-53 59-49 59-47 59-44 60-41 59-37 59-34 59-29 59-27 60-24 59-21 59-17 59-14 59-12 60-12 59-13 59-15 59-16 60-16 59-17 59-16 59-14 59-14 60-13 59-13 59-13 59-14 59-14 60-14 59-11 59-10 59-11 59-11 60-12 59-13 59-13 59-13 59-13 60-14 59-14 59-14 59-14 60-14 59-14 59-15 59-14 59-14 60-14 59-13 59-14 59-13 59-14 60-13 59-13 59-14 59-13 59-14 60-13 59-13 59-12 59-13 59-12 60-12 59-11 59-11 59-11 59-12 60-12 59-13 59-13 59-12 60-11 59-11 59-9 59-7 15-2 30-2 29-2 30-2 29-1 30 0 30 1 29 2 30 7 29 12 30 15 30 16 29 21 30 34 29 35 30 27 30 8 29-9 30-16 29-17 30-25 30-29 29-21 30-10 29-8 30-8 30-7 29-7 30-6 29-6 30-5 30-4 29-4 15-2 74-9 74-6 74-5 74-4 74-4 74-3 74-5 74-5 74-5 74-4 74-5 74-4 74-4 74-4 74-4 74-3 74-4 74-3 74-2 74-3 74-2 74-1 74-2 74-1 74-1 74-2 74-1 74-2 74-1 74-2 74-1 74 0 74-1 74-1 74-1 74 0 74-1 74 0 30 1 30 3 29 15 30 21 29 24 30 25 30 30 29 40 30 53 29 61 30 61 30 51 29 38 30 26 29 8 30-4 30-9 29-12 30-14 29-15 30-15 30-14 29-17 30-18 29-20 30-22 30-22 29-23 30-22 29-22 30-22 30-20 29-20 30-20 30-19 59-40 59-39 59-37 59-34 60-29 59-25 59-21 59-19 59-17 60-16 59-17 59-16 59-19 59-22 60-26 59-21 59-10 30 1 29 6 30 10 29 13 30 13 30 18 29 24 30 28 29 31 30 31 30 29 29 31 30 34 29 35 30 33 30 29 29 20 30 10 29-4 30-18 30-25 29-28 30-27 30-20 29-18 30-19 29-19 30-19 30-18 29-17 30-16 59-30 59-23 59-16 60-6 59 2 59 7 59 9 59 11 60 9 59 4 18 1 19 0 18 1 19 1 18-1 19 1 18-1 19 0 18 2 19 3 18-2 19 0 18-3 19 1 18 2 19 2 18 0 19 2 18 11 19-12 18 8 19 15 18 0 19 10 18-1 19-1 18 6 19 38 18-11 19 15 18-9 19 29 18 8 19 0 18 17 19 51 18-1 19-32 18 20 19-20 18 57 19 6 18-8 19 63 18 23 19-28 18 6 19 35 18 37 19-19 18 69 19-37 18 85 19-60 18 22 19 29 18 40 19 23 18-21 19 67 18-43 19 11 18-18 19 112"/><path d="M2288 12030l15-8 15-29 14-5 15 7 15-12 15-30 15-37 14 0 15-27 15-27 15-12 15-26 14-15 15-23 15-20 15-14 15-20 14-28 15-21 15-20 15-21 15-21 14-21 15-20 15-19 15-19 15-18 14-18 15-18 15-18 15-19 15-19 15-21 14-20 15-22 59-100 60-122 59-101 59-79 59-70 59-59 60-59 59-74 59-88 59-104 59-116 60-129 59-131 59-133 59-130 59-127 60-123 59-137 59-143 59-133 59-101 60-76 59-71 59-71 59-66 59-63 60-60 59-58 59-58 59-57 60-57 59-58 59-59 59-57 59-57 60-58 59-61 59-63 59-62 59-62 60-58 59-54 59-50 59-47 59-45 60-41 59-38 59-33 59-30 59-27 60-24 59-21 59-17 59-14 59-11 60-11 59-12 59-15 59-15 60-16 59-15 59-15 59-14 59-12 60-12 59-12 59-12 59-13 59-13 60-12 59-10 59-9 59-10 59-10 60-11 59-12 59-12 59-12 59-13 60-13 59-13 59-14 59-14 60-14 59-14 59-14 59-15 59-14 60-14 59-15 59-14 59-14 59-14 60-14 59-14 59-15 59-14 59-15 60-14 59-14 59-14 59-14 59-14 60-13 59-12 59-13 59-12 59-13 60-14 59-14 59-14 59-13 60-13 59-11 59-10 59-8 15-2 30-3 29-2 30-2 29-1 30-1 30 1 29 2 30 7 29 12 30 14 30 16 29 21 30 33 29 36 30 27 30 8 29-9 30-16 29-17 30-25 30-28 29-21 30-10 29-8 30-8 30-7 29-6 30-6 29-5 30-5 30-4 29-4 15-2 74-7 74-5 74-3 74-3 74-2 74-2 74-3 74-4 74-3 74-3 74-3 74-3 74-3 74-2 74-2 74-3 74-2 74-2 74-2 74-1 74-2 74-1 74-1 74-2 74-1 74-1 74-2 74-2 74-2 74-2 74-2 74-2 74-1 74-2 74-2 74-2 74-1 74-2 30 0 30 3 29 15 30 19 29 24 30 24 30 29 29 39 30 52 29 60 30 59 30 50 29 37 30 26 29 7 30-4 30-9 29-12 30-15 29-15 30-15 30-15 29-17 30-18 29-21 30-21 30-23 29-22 30-23 29-22 30-22 30-20 29-20 30-20 30-19 59-39 59-39 59-37 59-34 60-29 59-24 59-20 59-19 59-16 60-16 59-15 59-16 59-18 59-22 60-24 59-21 59-9 30 2 29 6 30 11 29 13 30 14 30 18 29 24 30 29 29 30 30 32 30 30 29 30 30 35 29 36 30 33 30 29 29 21 30 10 29-4 30-17 30-26 29-28 30-26 30-20 29-18 30-19 29-19 30-18 30-18 29-17 30-16 59-29 59-24 59-15 60-6 59 2 59 7 59 9 59 11 60 9 59 4 18 1 19 0 18 0 19 1 18 0 19-1 18 2 19 0 18 1 19-1 18 0 19 1 18-2 19 6 18-3 19 7 18 1 19-6 18-5 19 25 18-8 19 11 18-18 19 3 18 36 19-1 18 1 19 10 18 23 19-12 18 33 19-29 18 28 19 4 18 2 19 21 18 5 19 34 18 13 19 13 18 19 19-28 18 45 19 31 18-21 19 33 18 11 19 29 18-10 19-7 18 13 19 17 18 69 19-9 18 7 19 70 18-31 19-62 18 78 19 15 18-26 19 51 18 29 19 88"/><path d="M2288 12041l15-35 15-29 14 43 15-47 15-10 15-43 15 20 14-22 15-17 15-36 15-6 15-33 14-16 15-29 15-6 15-39 15-13 14-22 15-18 15-24 15-21 15-21 14-21 15-20 15-20 15-19 15-18 14-18 15-18 15-19 15-19 15-20 15-20 14-21 15-22 59-102 60-123 59-102 59-80 59-71 59-60 60-60 59-76 59-89 59-105 59-117 60-131 59-132 59-134 59-131 59-126 60-124 59-137 59-144 59-133 59-100 60-76 59-70 59-71 59-66 59-62 60-59 59-58 59-57 59-56 60-57 59-57 59-57 59-57 59-56 60-57 59-60 59-62 59-62 59-60 60-58 59-53 59-49 59-47 59-44 60-40 59-38 59-33 59-29 59-27 60-23 59-21 59-17 59-13 59-11 60-11 59-12 59-15 59-15 60-16 59-16 59-15 59-14 59-13 60-12 59-12 59-13 59-13 59-14 60-12 59-11 59-10 59-10 59-11 60-12 59-12 59-13 59-13 59-13 60-14 59-14 59-14 59-14 60-15 59-14 59-15 59-15 59-14 60-15 59-14 59-14 59-14 59-14 60-14 59-14 59-15 59-14 59-14 60-14 59-14 59-13 59-14 59-13 60-12 59-12 59-12 59-11 59-13 60-13 59-13 59-14 59-12 60-12 59-11 59-10 59-7 15-2 30-3 29-2 30-1 29-1 30 0 30 0 29 2 30 8 29 12 30 15 30 16 29 21 30 33 29 36 30 27 30 8 29-8 30-16 29-18 30-25 30-28 29-21 30-10 29-8 30-8 30-7 29-6 30-6 29-5 30-5 30-4 29-4 15-2 74-7 74-6 74-4 74-3 74-3 74-3 74-3 74-4 74-4 74-4 74-4 74-3 74-4 74-3 74-3 74-3 74-2 74-3 74-2 74-2 74-2 74-1 74-2 74-1 74-1 74-1 74-2 74-2 74-1 74-2 74-1 74-1 74-1 74-1 74-1 74-1 74-1 74 0 30 0 30 3 29 15 30 20 29 23 30 24 30 29 29 39 30 51 29 60 30 59 30 50 29 37 30 25 29 8 30-4 30-9 29-12 30-14 29-15 30-15 30-15 29-16 30-18 29-21 30-21 30-22 29-23 30-22 29-22 30-21 30-20 29-20 30-19 30-20 59-39 59-38 59-36 59-34 60-29 59-24 59-20 59-18 59-17 60-16 59-15 59-16 59-19 59-21 60-25 59-21 59-10 30 1 29 7 30 10 29 12 30 14 30 18 29 24 30 28 29 31 30 31 30 29 29 31 30 34 29 35 30 33 30 29 29 20 30 10 29-4 30-18 30-26 29-28 30-27 30-20 29-19 30-19 29-19 30-19 30-18 29-17 30-17 59-30 59-24 59-16 60-6 59 1 59 7 59 9 59 10 60 9 59 5 18 0 19 0 18 0 19 1 18-1 19 0 18 2 19 0 18-2 19 6 18-1 19-1 18 6 19-8 18-2 19 4 18 6 19 6 18 2 19-20 18 10 19 17 18-22 19 30 18 7 19 14 18 0 19 8 18-1 19 43 18-21 19 16 18 12 19-7 18-6 19 36 18 18 19 13 18-21 19 27 18 18 19 37 18-6 19 44 18-20 19-4 18 43 19 0 18 45 19-13 18 23 19 70 18-16 19-47 18 100 19-1 18-13 19 42 18-37 19 78 18-10 19-13 18 30 19 8"/><path d="M2288 12031l15-43 15-8 14-12 15 14 15-70 15 15 15-38 14-7 15-15 15-18 15-12 15-20 14-42 15-4 15-33 15-18 15-16 14-20 15-25 15-21 15-22 15-21 14-21 15-21 15-20 15-19 15-19 14-18 15-18 15-18 15-20 15-20 15-20 14-21 15-22 59-103 60-124 59-104 59-80 59-72 59-61 60-60 59-77 59-89 59-107 59-118 60-131 59-134 59-134 59-131 59-127 60-123 59-137 59-143 59-133 59-100 60-75 59-69 59-69 59-66 59-61 60-58 59-58 59-55 59-56 60-56 59-56 59-57 59-55 59-56 60-57 59-60 59-61 59-62 59-60 60-57 59-54 59-49 59-47 59-44 60-41 59-38 59-33 59-30 59-27 60-24 59-21 59-17 59-14 59-11 60-12 59-13 59-14 59-16 60-17 59-16 59-16 59-14 59-13 60-13 59-13 59-13 59-14 59-13 60-13 59-12 59-10 59-10 59-11 60-12 59-12 59-13 59-13 59-13 60-14 59-14 59-14 59-14 60-14 59-15 59-14 59-14 59-15 60-14 59-14 59-13 59-14 59-13 60-14 59-14 59-13 59-14 59-13 60-14 59-13 59-13 59-13 59-12 60-12 59-12 59-11 59-11 59-12 60-12 59-13 59-13 59-12 60-12 59-10 59-9 59-7 15-2 30-2 29-2 30-2 29 0 30 0 30 0 29 3 30 7 29 12 30 15 30 17 29 21 30 33 29 36 30 27 30 8 29-8 30-16 29-17 30-25 30-28 29-21 30-10 29-8 30-8 30-7 29-7 30-5 29-6 30-4 30-5 29-4 15-1 74-8 74-5 74-5 74-3 74-3 74-3 74-3 74-5 74-4 74-4 74-4 74-4 74-3 74-4 74-3 74-3 74-3 74-3 74-3 74-2 74-2 74-2 74-2 74-1 74-1 74-2 74-2 74-2 74-3 74-2 74-1 74-2 74-1 74-2 74-1 74-2 74-1 74 0 30 0 30 3 29 14 30 20 29 22 30 23 30 28 29 37 30 50 29 57 30 58 30 48 29 36 30 25 29 7 30-4 30-9 29-12 30-14 29-15 30-15 30-14 29-16 30-18 29-20 30-21 30-22 29-22 30-23 29-21 30-21 30-20 29-19 30-19 30-19 59-38 59-37 59-36 59-32 60-28 59-23 59-19 59-17 59-15 60-15 59-14 59-15 59-17 59-21 60-24 59-20 59-8 30 2 29 7 30 10 29 13 30 14 30 18 29 25 30 29 29 30 30 32 30 30 29 31 30 34 29 36 30 34 30 28 29 21 30 10 29-4 30-17 30-26 29-28 30-27 30-20 29-19 30-19 29-19 30-18 30-19 29-17 30-17 59-29 59-24 59-16 60-7 59 1 59 7 59 9 59 10 60 8 59 4 18 0 19 1 18 0 19 0 18-1 19 1 18 1 19 0 18 1 19 0 18 2 19 0 18 1 19 0 18-3 19 3 18-2 19-1 18-4 19 26 18-18 19 2 18 8 19 6 18 9 19 3 18-2 19 27 18 29 19-26 18 17 19 17 18-40 19 39 18 20 19 13 18-15 19 20 18 9 19 20 18 1 19 49 18-42 19 31 18 16 19 59 18 1 19-9 18 14 19 16 18 27 19-5 18 90 19 27 18-40 19 49 18-84 19 75 18-23 19 125 18-69 19 48 18 37 19-108"/><path d="M2288 12014l15-20 15-17 14-7 15-33 15-36 15-8 15-38 14-11 15-38 15 15 15-25 15-33 14-5 15-14 15-16 15-21 15-26 14-23 15-19 15-23 15-22 15-21 14-21 15-20 15-20 15-19 15-19 14-18 15-18 15-18 15-19 15-20 15-20 14-21 15-22 59-102 60-124 59-103 59-80 59-70 59-60 60-60 59-75 59-89 59-106 59-118 60-131 59-132 59-134 59-130 59-126 60-123 59-135 59-142 59-133 59-99 60-74 59-69 59-68 59-65 59-61 60-58 59-57 59-55 59-55 60-56 59-57 59-56 59-56 59-55 60-57 59-60 59-62 59-62 59-60 60-58 59-54 59-50 59-47 59-45 60-41 59-38 59-34 59-30 59-28 60-24 59-21 59-18 59-14 59-12 60-12 59-13 59-15 59-16 60-17 59-16 59-16 59-14 59-14 60-12 59-13 59-13 59-14 59-13 60-13 59-11 59-10 59-10 59-11 60-12 59-12 59-13 59-13 59-13 60-14 59-13 59-15 59-14 60-14 59-14 59-15 59-14 59-15 60-14 59-14 59-14 59-14 59-14 60-14 59-14 59-14 59-14 59-14 60-14 59-13 59-14 59-13 59-13 60-12 59-12 59-12 59-11 59-12 60-13 59-14 59-13 59-12 60-12 59-11 59-9 59-7 15-2 30-2 29-2 30-2 29-1 30 1 30 0 29 3 30 7 29 12 30 15 30 17 29 21 30 34 29 35 30 28 30 8 29-8 30-16 29-17 30-25 30-28 29-21 30-9 29-8 30-8 30-6 29-7 30-5 29-5 30-5 30-4 29-3 15-2 74-7 74-4 74-4 74-2 74-2 74-2 74-3 74-4 74-3 74-3 74-3 74-3 74-3 74-3 74-3 74-3 74-2 74-3 74-2 74-2 74-2 74-2 74-1 74-2 74-2 74-2 74-2 74-2 74-3 74-2 74-2 74-2 74-2 74-2 74-2 74-1 74-2 74-1 30 0 30 3 29 14 30 20 29 21 30 23 30 27 29 36 30 50 29 57 30 56 30 49 29 35 30 25 29 7 30-5 30-8 29-13 30-14 29-15 30-15 30-14 29-16 30-18 29-20 30-21 30-22 29-22 30-22 29-22 30-20 30-20 29-20 30-18 30-19 59-38 59-37 59-35 59-32 60-28 59-22 59-19 59-17 59-15 60-14 59-14 59-14 59-17 59-21 60-24 59-19 59-9 30 2 29 7 30 10 29 13 30 14 30 18 29 25 30 28 29 31 30 32 30 29 29 31 30 35 29 35 30 34 30 28 29 21 30 10 29-5 30-17 30-26 29-29 30-26 30-20 29-20 30-19 29-19 30-19 30-19 29-18 30-16 59-31 59-24 59-17 60-7 59 1 59 5 59 9 59 10 60 7 59 4 18 0 19 1 18 0 19-1 18 1 19-1 18 2 19-3 18 2 19 0 18 2 19-4 18 5 19 1 18-8 19 11 18-3 19-3 18 2 19 11 18-2 19-1 18 16 19-17 18 16 19 9 18 9 19 0 18 26 19-9 18 26 19 10 18-22 19 29 18-13 19 68 18-60 19 52 18-18 19-14 18 51 19 75 18-31 19 28 18-17 19 57 18-33 19 54 18-25 19 3 18 29 19 81 18-47 19 13 18 56 19-16 18-53 19 130 18 31 19-50 18 38 19-66 18 63 19-77"/><path d="M2288 12019l15-52 15 3 14-31 15-28 15 31 15-33 15-26 14-19 15-28 15-22 15-4 15-32 14-3 15-36 15-21 15-22 15-15 14-22 15-24 15-23 15-21 15-22 14-21 15-21 15-20 15-19 15-19 14-18 15-19 15-18 15-19 15-21 15-20 14-21 15-22 59-103 60-126 59-104 59-82 59-71 59-62 60-61 59-77 59-91 59-107 59-119 60-133 59-134 59-135 59-132 59-126 60-123 59-137 59-142 59-133 59-99 60-75 59-68 59-69 59-65 59-60 60-58 59-57 59-55 59-54 60-56 59-56 59-55 59-55 59-54 60-57 59-59 59-61 59-61 59-60 60-57 59-53 59-49 59-46 59-44 60-41 59-37 59-33 59-29 59-27 60-24 59-20 59-17 59-14 59-11 60-11 59-13 59-14 59-16 60-16 59-16 59-16 59-14 59-13 60-13 59-12 59-13 59-14 59-14 60-12 59-12 59-10 59-10 59-11 60-12 59-13 59-13 59-13 59-14 60-14 59-14 59-14 59-15 60-15 59-14 59-15 59-15 59-15 60-14 59-14 59-15 59-14 59-14 60-14 59-14 59-14 59-14 59-14 60-13 59-14 59-13 59-13 59-13 60-12 59-12 59-11 59-11 59-12 60-12 59-13 59-13 59-12 60-11 59-11 59-8 59-7 15-2 30-2 29-2 30-1 29-1 30 0 30 1 29 3 30 7 29 13 30 15 30 16 29 22 30 34 29 36 30 27 30 9 29-8 30-16 29-17 30-25 30-28 29-21 30-9 29-8 30-8 30-7 29-6 30-5 29-5 30-5 30-4 29-4 15-1 74-7 74-5 74-3 74-3 74-2 74-3 74-3 74-4 74-4 74-4 74-3 74-4 74-3 74-4 74-3 74-3 74-3 74-3 74-3 74-2 74-2 74-3 74-2 74-1 74-2 74-2 74-3 74-2 74-3 74-2 74-3 74-1 74-2 74-2 74-2 74-2 74-1 74-1 30 0 30 3 29 14 30 19 29 22 30 22 30 26 29 35 30 49 29 56 30 56 30 47 29 35 30 24 29 7 30-4 30-9 29-12 30-14 29-15 30-15 30-14 29-16 30-18 29-20 30-21 30-22 29-22 30-22 29-21 30-21 30-20 29-19 30-19 30-18 59-38 59-36 59-35 59-32 60-28 59-22 59-18 59-16 59-15 60-14 59-14 59-14 59-17 59-20 60-23 59-20 59-9 30 3 29 7 30 10 29 13 30 14 30 19 29 24 30 29 29 31 30 32 30 29 29 31 30 35 29 36 30 33 30 29 29 21 30 10 29-4 30-18 30-26 29-28 30-27 30-20 29-19 30-19 29-19 30-19 30-18 29-18 30-17 59-30 59-24 59-16 60-7 59 1 59 7 59 9 59 10 60 8 59 5 18 0 19 0 18 0 19 1 18 1 19-2 18 4 19-3 18 2 19-2 18 2 19-4 18 4 19 7 18-13 19 6 18-1 19 2 18 6 19-1 18 5 19-3 18 6 19 30 18-31 19 8 18 24 19 5 18-7 19 22 18 7 19 23 18 6 19 19 18-10 19 5 18 14 19 35 18-5 19-9 18 33 19 8 18 17 19 27 18-18 19 18 18 25 19 15 18 25 19-12 18 23 19-20 18 70 19-15 18 40 19 9 18-57 19 116 18-34 19 27 18-33 19 88 18-28 19 39"/><path d="M2288 11978l15-28 15-35 14-8 15 7 15-32 15-26 15-4 14-22 15-13 15 1 15-44 15-2 14-26 15-32 15-10 15-30 15-22 14-25 15-20 15-23 15-22 15-21 14-21 15-21 15-20 15-19 15-19 14-18 15-18 15-18 15-19 15-21 15-20 14-21 15-22 59-102 60-126 59-104 59-81 59-71 59-61 60-60 59-77 59-90 59-107 59-120 60-132 59-134 59-134 59-131 59-126 60-121 59-135 59-142 59-131 59-98 60-73 59-68 59-68 59-63 59-60 60-57 59-56 59-54 59-54 60-56 59-55 59-56 59-55 59-54 60-57 59-59 59-62 59-62 59-61 60-59 59-54 59-51 59-48 59-45 60-42 59-39 59-35 59-31 59-29 60-25 59-22 59-19 59-15 59-13 60-13 59-14 59-16 59-17 60-18 59-17 59-17 59-15 59-14 60-14 59-13 59-13 59-14 59-14 60-13 59-11 59-10 59-10 59-11 60-12 59-12 59-12 59-13 59-12 60-13 59-14 59-13 59-13 60-14 59-13 59-13 59-14 59-13 60-13 59-13 59-13 59-12 59-13 60-13 59-12 59-13 59-13 59-13 60-12 59-13 59-12 59-12 59-12 60-11 59-11 59-11 59-11 59-12 60-12 59-13 59-12 59-13 60-11 59-11 59-9 59-7 15-2 30-3 29-2 30-1 29-1 30 0 30 1 29 2 30 7 29 12 30 15 30 16 29 21 30 33 29 36 30 27 30 8 29-8 30-17 29-17 30-25 30-29 29-22 30-9 29-9 30-8 30-7 29-7 30-6 29-5 30-5 30-5 29-4 15-2 74-7 74-6 74-4 74-4 74-3 74-3 74-4 74-4 74-4 74-3 74-4 74-3 74-3 74-3 74-3 74-2 74-3 74-2 74-1 74-2 74-1 74-1 74-1 74 0 74-1 74-1 74-1 74-1 74-2 74-1 74-1 74-1 74-1 74-1 74-1 74-1 74 0 74-1 30 0 30 4 29 14 30 19 29 21 30 21 30 25 29 34 30 47 29 55 30 54 30 47 29 34 30 23 29 7 30-4 30-9 29-12 30-15 29-15 30-15 30-14 29-16 30-18 29-20 30-21 30-21 29-22 30-22 29-22 30-20 30-20 29-19 30-19 30-18 59-38 59-36 59-35 59-32 60-27 59-22 59-19 59-16 59-15 60-14 59-13 59-15 59-16 59-21 60-24 59-20 59-8 30 2 29 6 30 11 29 13 30 13 30 18 29 25 30 29 29 30 30 32 30 29 29 31 30 35 29 35 30 34 30 28 29 21 30 9 29-4 30-18 30-26 29-29 30-26 30-21 29-19 30-20 29-19 30-20 30-18 29-18 30-17 59-31 59-24 59-17 60-7 59 1 59 6 59 9 59 9 60 8 59 4 18 1 19 0 18-1 19 2 18-1 19 0 18 2 19 1 18-3 19 0 18 2 19 2 18-6 19 9 18-3 19 4 18-1 19 6 18 0 19-8 18 14 19-6 18-18 19 28 18 1 19 12 18 9 19-6 18 16 19-1 18 27 19-1 18 20 19 2 18 1 19 30 18 17 19-6 18 24 19 65 18-47 19 22 18-9 19 54 18-4 19 23 18-23 19 46 18-18 19 21 18 18 19 13 18 33 19-49 18 77 19 12 18-34 19 87 18-49 19 23 18 25 19-8 18 61 19-38"/><path d="M2288 11955l15 30 15-35 14-26 15-15 15-32 15-9 15-26 14-7 15-34 15-9 15-5 15-42 14-19 15-12 15-22 15-21 15-18 14-26 15-23 15-22 15-22 15-21 14-22 15-21 15-20 15-19 15-19 14-18 15-19 15-18 15-19 15-21 15-20 14-21 15-22 59-104 60-127 59-106 59-82 59-73 59-62 60-61 59-79 59-92 59-110 59-121 60-135 59-136 59-137 59-132 59-127 60-123 59-136 59-143 59-133 59-99 60-73 59-68 59-68 59-64 59-60 60-57 59-56 59-55 59-54 60-54 59-56 59-55 59-54 59-53 60-56 59-58 59-61 59-61 59-60 60-57 59-54 59-49 59-47 59-44 60-41 59-38 59-33 59-29 59-27 60-24 59-21 59-17 59-14 59-11 60-12 59-12 59-15 59-16 60-17 59-16 59-16 59-15 59-13 60-13 59-13 59-13 59-14 59-14 60-13 59-12 59-10 59-11 59-11 60-13 59-13 59-13 59-14 59-15 60-14 59-15 59-15 59-15 60-15 59-15 59-15 59-15 59-16 60-15 59-14 59-15 59-14 59-14 60-15 59-14 59-14 59-14 59-14 60-14 59-14 59-13 59-13 59-12 60-12 59-11 59-11 59-11 59-12 60-12 59-12 59-12 59-11 60-11 59-10 59-8 59-6 15-1 30-2 29-1 30-1 29 0 30 1 30 1 29 3 30 8 29 13 30 16 30 17 29 22 30 34 29 37 30 28 30 9 29-7 30-16 29-16 30-25 30-27 29-21 30-9 29-7 30-7 30-6 29-6 30-5 29-5 30-4 30-3 29-3 15-2 74-5 74-4 74-2 74-2 74-1 74-2 74-2 74-3 74-3 74-4 74-3 74-3 74-3 74-3 74-3 74-3 74-3 74-3 74-3 74-3 74-2 74-3 74-2 74-2 74-2 74-3 74-3 74-3 74-3 74-3 74-3 74-3 74-2 74-2 74-3 74-2 74-2 74-1 30 0 30 3 29 14 30 18 29 20 30 20 30 24 29 32 30 46 29 53 30 53 30 46 29 33 30 23 29 6 30-4 30-9 29-12 30-14 29-15 30-15 30-14 29-16 30-18 29-19 30-21 30-21 29-22 30-21 29-21 30-20 30-20 29-19 30-18 30-18 59-36 59-36 59-33 59-31 60-26 59-21 59-17 59-15 59-13 60-13 59-13 59-13 59-16 59-19 60-23 59-20 59-8 30 3 29 7 30 10 29 13 30 14 30 18 29 25 30 29 29 31 30 31 30 30 29 31 30 35 29 35 30 34 30 28 29 21 30 9 29-4 30-18 30-26 29-29 30-27 30-21 29-19 30-20 29-20 30-19 30-19 29-18 30-17 59-32 59-25 59-17 60-7 59 0 59 5 59 9 59 9 60 8 59 4 18 0 19 0 18 0 19 0 18 1 19 0 18 1 19 1 18-1 19-5 18 7 19-4 18 1 19 7 18-12 19 7 18 3 19-9 18 3 19 2 18 3 19 4 18 19 19-11 18 0 19 15 18 16 19-12 18 24 19 4 18 36 19-16 18 18 19 18 18-31 19 9 18 16 19 42 18-6 19 33 18-2 19 7 18 37 19 15 18-24 19 23 18 18 19 30 18-37 19 45 18 16 19-31 18 51 19 22 18 90 19-78 18 46 19 0 18 24 19 20 18-59 19 43 18 9 19 88"/><path d="M2288 11917l15 29 15-33 14-12 15-9 15-17 15-44 15 16 14-32 15-21 15-31 15-9 15-5 14-30 15-22 15-24 15-19 15-26 14-18 15-22 15-23 15-22 15-22 14-21 15-21 15-20 15-19 15-19 14-18 15-18 15-19 15-19 15-20 15-20 14-21 15-22 59-103 60-127 59-106 59-82 59-71 59-62 60-61 59-77 59-92 59-109 59-121 60-135 59-135 59-136 59-132 59-127 60-122 59-135 59-143 59-132 59-98 60-73 59-68 59-68 59-63 59-60 60-57 59-56 59-55 59-54 60-55 59-55 59-56 59-54 59-53 60-56 59-59 59-61 59-62 59-60 60-58 59-54 59-50 59-47 59-45 60-41 59-38 59-33 59-30 59-28 60-24 59-21 59-17 59-14 59-11 60-12 59-12 59-14 59-16 60-16 59-17 59-15 59-14 59-13 60-12 59-12 59-12 59-13 59-13 60-13 59-10 59-10 59-9 59-11 60-11 59-12 59-12 59-13 59-13 60-14 59-13 59-14 59-14 60-14 59-15 59-14 59-14 59-15 60-14 59-14 59-14 59-14 59-14 60-14 59-14 59-15 59-14 59-14 60-14 59-14 59-13 59-14 59-13 60-12 59-12 59-12 59-11 59-13 60-13 59-13 59-14 59-12 60-12 59-11 59-9 59-8 15-1 30-3 29-2 30-1 29-1 30 0 30 1 29 2 30 8 29 12 30 15 30 16 29 22 30 33 29 36 30 27 30 9 29-8 30-16 29-17 30-25 30-29 29-21 30-9 29-8 30-8 30-7 29-6 30-5 29-5 30-5 30-4 29-3 15-2 74-7 74-4 74-4 74-2 74-2 74-2 74-3 74-3 74-3 74-3 74-4 74-3 74-2 74-3 74-3 74-2 74-3 74-2 74-2 74-2 74-2 74-2 74-1 74-2 74-1 74-2 74-2 74-2 74-3 74-2 74-2 74-1 74-2 74-1 74-2 74-1 74-2 74 0 30 0 30 3 29 14 30 19 29 20 30 20 30 24 29 32 30 46 29 53 30 54 30 45 29 34 30 23 29 6 30-4 30-9 29-12 30-14 29-14 30-15 30-14 29-15 30-18 29-19 30-21 30-21 29-21 30-22 29-20 30-20 30-19 29-19 30-18 30-17 59-36 59-36 59-33 59-30 60-26 59-20 59-17 59-15 59-13 60-13 59-12 59-13 59-16 59-19 60-23 59-19 59-8 30 3 29 7 30 10 29 13 30 14 30 19 29 24 30 29 29 31 30 32 30 29 29 31 30 35 29 35 30 34 30 28 29 21 30 9 29-4 30-18 30-26 29-29 30-27 30-21 29-20 30-20 29-20 30-19 30-19 29-18 30-18 59-31 59-25 59-18 60-8 59 0 59 5 59 9 59 9 60 7 59 4 18 0 19-1 18 1 19-1 18 1 19 1 18 2 19-3 18 1 19 0 18-5 19 3 18 0 19-1 18-2 19-1 18 3 19 2 18 9 19-12 18 13 19-1 18 12 19-11 18 13 19 20 18-6 19 23 18-1 19 15 18 6 19 14 18 41 19-64 18 1 19 42 18 25 19 6 18-6 19 20 18 8 19 47 18-6 19 55 18-11 19-8 18 13 19 17 18-3 19 10 18 7 19 55 18-59 19 59 18 23 19 14 18-25 19 9 18 101 19 9 18-10 19-72 18-25 19 86"/><path d="M2288 11977l15-45 15-9 14-23 15-70 15-15 15 35 15 0 14-59 15-25 15-4 15-40 15-9 14 2 15-28 15-26 15-31 15-14 14-26 15-22 15-21 15-22 15-22 14-22 15-21 15-20 15-20 15-18 14-19 15-18 15-19 15-19 15-20 15-21 14-21 15-22 59-104 60-128 59-107 59-83 59-72 59-62 60-62 59-79 59-93 59-111 59-122 60-136 59-136 59-137 59-133 59-126 60-122 59-135 59-142 59-132 59-98 60-72 59-66 59-67 59-63 59-59 60-56 59-55 59-54 59-53 60-54 59-55 59-54 59-53 59-52 60-54 59-58 59-60 59-61 59-61 60-57 59-54 59-50 59-47 59-45 60-41 59-38 59-34 59-30 59-27 60-25 59-21 59-18 59-14 59-12 60-12 59-13 59-15 59-17 60-17 59-17 59-16 59-15 59-14 60-13 59-13 59-13 59-14 59-14 60-14 59-11 59-11 59-10 59-12 60-12 59-13 59-13 59-14 59-14 60-14 59-15 59-14 59-15 60-15 59-15 59-15 59-15 59-14 60-15 59-14 59-15 59-14 59-14 60-14 59-14 59-14 59-14 59-13 60-14 59-14 59-13 59-13 59-12 60-12 59-11 59-11 59-11 59-12 60-12 59-13 59-12 59-12 60-12 59-10 59-8 59-7 15-1 30-2 29-2 30-1 29 0 30 0 30 1 29 3 30 8 29 13 30 15 30 17 29 22 30 34 29 36 30 28 30 9 29-8 30-16 29-17 30-24 30-28 29-21 30-9 29-8 30-7 30-7 29-6 30-5 29-5 30-4 30-4 29-3 15-2 74-6 74-4 74-2 74-2 74-1 74-2 74-2 74-3 74-2 74-3 74-2 74-3 74-2 74-2 74-2 74-2 74-2 74-2 74-1 74-2 74-1 74-1 74-1 74 0 74-1 74-1 74-2 74-1 74-2 74-2 74-1 74-1 74-2 74-1 74-1 74-1 74-1 74-1 30 0 30 3 29 15 30 17 29 20 30 18 30 23 29 30 30 44 29 52 30 51 30 44 29 32 30 22 29 6 30-4 30-9 29-12 30-14 29-15 30-15 30-14 29-16 30-18 29-19 30-21 30-21 29-22 30-21 29-21 30-20 30-20 29-18 30-18 30-18 59-37 59-35 59-34 59-31 60-26 59-20 59-18 59-15 59-13 60-13 59-13 59-14 59-16 59-20 60-23 59-20 59-9 30 2 29 7 30 10 29 13 30 13 30 18 29 25 30 28 29 31 30 31 30 29 29 31 30 34 29 35 30 34 30 28 29 20 30 9 29-5 30-18 30-26 29-30 30-28 30-21 29-20 30-20 29-20 30-20 30-19 29-19 30-17 59-32 59-26 59-18 60-8 59 0 59 5 59 9 59 9 60 7 59 4 18 0 19 0 18 0 19 0 18 0 19 1 18-1 19 2 18-2 19 3 18-4 19-1 18 3 19-2 18 4 19-4 18 0 19-1 18-2 19 7 18 10 19 3 18-2 19 13 18 2 19 12 18-6 19 25 18-6 19-3 18 22 19 4 18-2 19 9 18 19 19 21 18 23 19-35 18 27 19 9 18 29 19 26 18 24 19 19 18-11 19 4 18 5 19 48 18-18 19-6 18 61 19-23 18-10 19 85 18 21 19 16 18-16 19-22 18 9 19 72 18 6 19 55 18-81 19 65"/><path d="M2288 11926l15 10 15-13 14-10 15-10 15-43 15-52 15 28 14-31 15-26 15-18 15-6 15-36 14-29 15-9 15-21 15-32 15-16 14-21 15-24 15-24 15-22 15-22 14-22 15-21 15-21 15-19 15-20 14-18 15-19 15-18 15-20 15-20 15-21 14-21 15-23 59-104 60-130 59-108 59-83 59-74 59-63 60-62 59-80 59-93 59-112 59-123 60-137 59-137 59-138 59-133 59-127 60-122 59-135 59-142 59-133 59-97 60-72 59-66 59-67 59-62 59-59 60-56 59-55 59-53 59-53 60-54 59-54 59-54 59-52 59-52 60-54 59-58 59-59 59-61 59-60 60-57 59-54 59-49 59-47 59-45 60-41 59-38 59-33 59-30 59-27 60-25 59-21 59-17 59-14 59-12 60-12 59-13 59-15 59-16 60-17 59-17 59-16 59-15 59-13 60-13 59-13 59-14 59-13 59-14 60-13 59-11 59-11 59-10 59-11 60-12 59-13 59-13 59-13 59-14 60-14 59-14 59-14 59-15 60-14 59-14 59-15 59-14 59-15 60-14 59-14 59-14 59-13 59-14 60-13 59-14 59-13 59-14 59-13 60-13 59-13 59-13 59-13 59-12 60-11 59-12 59-10 59-11 59-12 60-12 59-13 59-12 59-12 60-11 59-10 59-9 59-7 15-1 30-3 29-2 30-1 29 0 30 0 30 1 29 3 30 7 29 12 30 16 30 16 29 22 30 33 29 36 30 28 30 8 29-8 30-16 29-17 30-25 30-29 29-21 30-9 29-9 30-7 30-7 29-6 30-6 29-5 30-5 30-4 29-4 15-1 74-8 74-5 74-3 74-3 74-3 74-2 74-3 74-4 74-4 74-3 74-3 74-4 74-3 74-2 74-3 74-2 74-2 74-2 74-1 74-2 74-1 74 0 74-1 74 0 74 0 74-1 74-1 74-1 74-1 74 0 74-1 74 0 74 0 74 0 74-1 74 0 74 0 74 1 30 0 30 4 29 15 30 18 29 19 30 19 30 23 29 30 30 44 29 51 30 51 30 44 29 33 30 22 29 6 30-4 30-9 29-12 30-14 29-14 30-15 30-14 29-15 30-18 29-19 30-20 30-21 29-22 30-21 29-21 30-20 30-19 29-18 30-18 30-18 59-36 59-35 59-34 59-30 60-26 59-21 59-17 59-16 59-13 60-13 59-14 59-13 59-17 59-20 60-24 59-20 59-9 30 1 29 7 30 10 29 12 30 14 30 17 29 24 30 28 29 31 30 31 30 29 29 30 30 34 29 35 30 33 30 28 29 20 30 9 29-5 30-18 30-27 29-30 30-28 30-21 29-21 30-20 29-21 30-20 30-19 29-19 30-18 59-32 59-26 59-18 60-8 59-1 59 5 59 8 59 9 60 8 59 3 18 1 19 0 18 0 19-1 18 1 19-1 18 2 19-1 18 0 19-5 18 7 19-4 18 4 19-1 18-11 19 9 18 8 19 10 18-14 19 2 18 0 19 23 18-18 19 12 18 7 19 2 18 18 19-2 18 10 19 28 18-5 19 5 18-4 19 10 18 12 19 18 18 2 19 21 18 24 19-5 18 15 19-4 18 17 19 7 18 73 19-48 18-14 19 31 18 58 19-2 18-3 19 37 18-46 19 55 18 74 19 7 18-45 19 51 18-16 19 54 18-118 19 114 18 0 19 11"/><path d="M2288 11896l15 11 15-17 14-14 15 10 15-47 15 1 15-15 14-28 15-24 15-7 15-29 15-15 14-16 15-31 15-4 15-38 15-24 14-23 15-18 15-23 15-22 15-22 14-21 15-21 15-21 15-19 15-19 14-18 15-19 15-18 15-19 15-21 15-20 14-21 15-22 59-104 60-130 59-107 59-83 59-74 59-62 60-62 59-80 59-94 59-112 59-124 60-138 59-138 59-138 59-134 59-127 60-123 59-136 59-143 59-133 59-99 60-72 59-67 59-68 59-63 59-60 60-57 59-56 59-55 59-54 60-55 59-56 59-55 59-53 59-53 60-55 59-58 59-61 59-62 59-61 60-59 59-55 59-51 59-48 59-46 60-42 59-39 59-34 59-30 59-28 60-25 59-21 59-18 59-14 59-12 60-12 59-12 59-15 59-16 60-17 59-16 59-16 59-14 59-13 60-12 59-13 59-12 59-13 59-13 60-12 59-11 59-9 59-10 59-10 60-11 59-12 59-12 59-13 59-13 60-13 59-14 59-13 59-14 60-14 59-14 59-14 59-14 59-14 60-14 59-14 59-14 59-13 59-14 60-13 59-14 59-14 59-13 59-14 60-13 59-14 59-13 59-12 59-13 60-11 59-12 59-11 59-11 59-12 60-12 59-13 59-12 59-12 60-11 59-10 59-9 59-6 15-2 30-2 29-2 30-1 29 0 30 0 30 2 29 2 30 8 29 13 30 15 30 17 29 22 30 34 29 36 30 28 30 9 29-8 30-15 29-17 30-25 30-28 29-21 30-10 29-7 30-8 30-6 29-6 30-5 29-5 30-4 30-4 29-3 15-2 74-6 74-3 74-3 74-2 74-1 74-2 74-2 74-3 74-3 74-3 74-2 74-3 74-3 74-2 74-3 74-2 74-2 74-2 74-3 74-1 74-2 74-2 74-2 74-1 74-1 74-2 74-3 74-2 74-3 74-2 74-2 74-2 74-2 74-2 74-2 74-1 74-2 74-1 30 0 30 4 29 13 30 18 29 18 30 18 30 22 29 29 30 42 29 50 30 50 30 43 29 31 30 22 29 5 30-4 30-9 29-12 30-14 29-15 30-14 30-14 29-16 30-17 29-19 30-21 30-20 29-22 30-21 29-20 30-20 30-19 29-18 30-17 30-18 59-35 59-34 59-33 59-29 60-25 59-20 59-16 59-13 59-13 60-11 59-12 59-13 59-14 59-19 60-23 59-19 59-8 30 2 29 7 30 11 29 13 30 14 30 18 29 25 30 28 29 31 30 32 30 29 29 31 30 34 29 36 30 33 30 28 29 21 30 9 29-5 30-18 30-27 29-30 30-27 30-22 29-20 30-20 29-21 30-20 30-19 29-19 30-18 59-32 59-26 59-18 60-9 59-1 59 5 59 8 59 8 60 7 59 3 18 0 19 0 18 0 19 0 18 0 19 0 18 1 19-1 18-2 19-3 18 9 19-4 18 0 19 0 18 1 19-6 18 5 19 5 18-9 19-3 18 20 19 5 18 0 19-5 18 20 19-21 18 33 19 4 18 1 19-12 18 21 19 34 18-6 19-3 18 9 19 21 18 25 19 16 18 16 19 4 18 13 19 29 18-13 19 30 18 16 19-13 18-21 19 59 18 19 19 58 18-90 19 100 18-11 19-9 18-10 19 29 18-39 19 51 18 30 19-9 18 65 19 10 18-20 19 45"/><path d="M2288 11906l15 13 15-35 14-12 15-48 15 20 15-46 15 24 14-40 15-23 15-27 15-14 15-14 14-19 15-13 15-35 15-22 15-21 14-22 15-21 15-23 15-23 15-22 14-21 15-21 15-21 15-20 15-19 14-18 15-18 15-19 15-19 15-21 15-21 14-21 15-22 59-105 60-130 59-108 59-84 59-74 59-63 60-62 59-80 59-95 59-113 59-125 60-137 59-139 59-138 59-134 59-127 60-122 59-135 59-143 59-132 59-98 60-71 59-66 59-66 59-62 59-58 60-56 59-55 59-54 59-53 60-54 59-54 59-54 59-52 59-51 60-53 59-57 59-60 59-61 59-60 60-58 59-55 59-50 59-48 59-46 60-42 59-38 59-34 59-31 59-27 60-25 59-22 59-18 59-15 59-12 60-12 59-14 59-15 59-17 60-18 59-17 59-17 59-15 59-14 60-14 59-14 59-13 59-14 59-15 60-13 59-12 59-11 59-11 59-11 60-13 59-13 59-13 59-14 59-14 60-15 59-14 59-15 59-14 60-15 59-15 59-15 59-14 59-15 60-14 59-14 59-14 59-13 59-14 60-13 59-14 59-13 59-13 59-14 60-12 59-13 59-12 59-12 59-12 60-11 59-11 59-10 59-10 59-11 60-11 59-12 59-11 59-11 60-11 59-9 59-8 59-5 15-2 30-1 29-2 30 0 29 0 30 1 30 1 29 3 30 9 29 12 30 16 30 17 29 22 30 35 29 36 30 28 30 10 29-8 30-15 29-17 30-25 30-28 29-21 30-9 29-7 30-8 30-6 29-6 30-5 29-5 30-4 30-3 29-4 15-1 74-6 74-4 74-3 74-2 74-1 74-2 74-2 74-4 74-3 74-3 74-3 74-3 74-2 74-3 74-3 74-2 74-2 74-2 74-2 74-2 74-2 74-1 74-1 74-1 74-1 74-1 74-2 74-2 74-2 74-1 74-2 74-1 74-1 74-1 74-1 74-1 74-1 74 0 30 0 30 4 29 14 30 17 29 18 30 18 30 20 29 29 30 41 29 49 30 50 30 42 29 31 30 21 29 5 30-4 30-9 29-12 30-14 29-15 30-14 30-14 29-16 30-18 29-19 30-20 30-21 29-21 30-21 29-21 30-20 30-19 29-18 30-18 30-17 59-36 59-35 59-33 59-30 60-25 59-20 59-17 59-14 59-13 60-13 59-12 59-14 59-15 59-20 60-24 59-20 59-9 30 2 29 6 30 10 29 13 30 13 30 18 29 24 30 28 29 31 30 31 30 29 29 30 30 34 29 35 30 33 30 28 29 20 30 9 29-5 30-19 30-27 29-30 30-28 30-22 29-21 30-20 29-21 30-20 30-20 29-19 30-18 59-32 59-27 59-18 60-9 59 0 59 5 59 8 59 9 60 7 59 4 18 0 19 1 18-1 19 1 18 1 19 1 18-3 19 1 18 1 19 3 18-6 19 9 18-8 19 1 18-1 19-2 18 7 19-1 18-6 19 18 18-14 19 9 18 8 19 9 18 2 19 30 18-28 19 18 18-3 19 29 18-17 19 32 18 10 19 7 18 2 19 21 18 28 19-22 18 6 19 6 18 73 19 3 18-13 19 1 18-6 19 43 18-11 19 82 18-88 19 50 18-14 19 76 18-15 19-58 18 74 19 62 18 5 19-22 18 15 19 16 18 9 19-37 18 72 19 62"/><path d="M2288 11877l15-1 15-18 14-10 15-18 15-13 15-44 15 2 14 10 15-34 15-26 15-32 15-14 14-12 15-39 15-4 15-28 15-24 14-16 15-25 15-22 15-22 15-22 14-22 15-21 15-20 15-20 15-19 14-18 15-18 15-18 15-20 15-20 15-20 14-21 15-22 59-104 60-131 59-108 59-83 59-73 59-63 60-62 59-80 59-95 59-113 59-126 60-138 59-139 59-140 59-133 59-128 60-122 59-135 59-143 59-133 59-98 60-72 59-66 59-66 59-63 59-59 60-57 59-56 59-55 59-54 60-55 59-55 59-54 59-53 59-51 60-54 59-58 59-61 59-61 59-62 60-59 59-55 59-52 59-49 59-46 60-43 59-39 59-34 59-31 59-28 60-24 59-22 59-18 59-14 59-12 60-11 59-13 59-15 59-16 60-16 59-17 59-15 59-14 59-13 60-12 59-13 59-12 59-12 59-13 60-12 59-10 59-10 59-9 59-10 60-12 59-11 59-13 59-12 59-13 60-13 59-14 59-14 59-14 60-14 59-14 59-14 59-15 59-14 60-14 59-14 59-14 59-14 59-13 60-14 59-14 59-14 59-14 59-13 60-14 59-13 59-14 59-12 59-13 60-12 59-11 59-11 59-11 59-12 60-12 59-13 59-12 59-12 60-11 59-10 59-9 59-6 15-1 30-3 29-1 30-1 29 0 30 0 30 2 29 3 30 8 29 12 30 16 30 17 29 22 30 34 29 37 30 28 30 9 29-8 30-15 29-17 30-25 30-28 29-21 30-9 29-7 30-7 30-7 29-5 30-5 29-5 30-4 30-4 29-3 15-1 74-6 74-3 74-2 74-2 74-1 74-1 74-2 74-3 74-2 74-3 74-3 74-2 74-3 74-2 74-3 74-2 74-2 74-3 74-2 74-2 74-2 74-1 74-2 74-1 74-2 74-2 74-2 74-3 74-2 74-2 74-2 74-2 74-1 74-2 74-2 74-1 74-1 74-1 30 0 30 4 29 14 30 17 29 18 30 16 30 20 29 27 30 40 29 48 30 49 30 41 29 30 30 21 29 5 30-4 30-8 29-12 30-14 29-15 30-14 30-13 29-16 30-17 29-18 30-20 30-21 29-20 30-21 29-20 30-19 30-18 29-18 30-17 30-17 59-34 59-34 59-31 59-28 60-24 59-19 59-15 59-13 59-12 60-11 59-11 59-12 59-14 59-19 60-23 59-19 59-8 30 2 29 7 30 10 29 13 30 14 30 17 29 25 30 28 29 31 30 31 30 29 29 31 30 34 29 35 30 33 30 28 29 20 30 9 29-6 30-19 30-27 29-31 30-28 30-22 29-21 30-21 29-21 30-20 30-20 29-20 30-18 59-34 59-27 59-19 60-9 59-2 59 4 59 7 59 8 60 7 59 3 18 0 19 0 18-1 19 1 18 0 19-1 18 0 19 1 18 1 19-4 18-1 19 2 18 0 19 2 18-5 19-2 18-6 19 19 18 0 19 2 18-11 19 20 18-11 19 15 18-16 19 38 18 3 19-9 18 5 19 33 18 15 19-7 18 10 19-7 18-8 19 36 18 6 19 1 18 37 19 40 18-36 19 29 18 11 19-10 18 30 19-28 18 25 19 24 18 58 19-17 18-2 19-44 18 86 19-35 18 67 19-19 18 18 19 5 18-49 19 120 18-74 19 2 18 107 19-6"/><path d="M2288 11873l15-5 15-4 14-26 15-29 15 14 15-43 15-37 14 23 15-38 15 0 15-33 15-32 14-20 15-28 15-12 15-20 15-22 14-21 15-27 15-21 15-23 15-22 14-22 15-21 15-21 15-20 15-19 14-18 15-19 15-18 15-20 15-20 15-21 14-21 15-22 59-106 60-132 59-109 59-85 59-74 59-64 60-63 59-81 59-96 59-115 59-126 60-140 59-141 59-139 59-135 59-127 60-122 59-134 59-143 59-132 59-97 60-71 59-65 59-67 59-62 59-58 60-55 59-55 59-53 59-52 60-54 59-53 59-54 59-51 59-51 60-53 59-57 59-60 59-62 59-61 60-58 59-55 59-51 59-49 59-46 60-42 59-39 59-35 59-31 59-28 60-25 59-22 59-19 59-14 59-13 60-12 59-13 59-16 59-17 60-17 59-17 59-17 59-15 59-14 60-13 59-13 59-13 59-13 59-14 60-12 59-11 59-10 59-10 59-11 60-12 59-12 59-13 59-13 59-13 60-14 59-13 59-14 59-14 60-14 59-14 59-14 59-14 59-14 60-13 59-14 59-13 59-13 59-13 60-13 59-13 59-13 59-13 59-13 60-13 59-12 59-12 59-12 59-12 60-11 59-10 59-10 59-11 59-11 60-11 59-12 59-12 59-11 60-11 59-9 59-8 59-6 15-1 30-2 29-2 30-1 29 0 30 1 30 1 29 3 30 9 29 12 30 16 30 17 29 22 30 34 29 37 30 28 30 9 29-8 30-15 29-17 30-25 30-29 29-21 30-9 29-8 30-7 30-6 29-6 30-6 29-4 30-5 30-3 29-4 15-1 74-6 74-4 74-3 74-2 74-1 74-2 74-3 74-3 74-3 74-3 74-3 74-3 74-2 74-3 74-3 74-2 74-2 74-2 74-2 74-2 74-2 74-1 74-2 74-1 74-1 74-1 74-2 74-2 74-2 74-2 74-2 74-2 74-1 74-1 74-2 74-1 74-1 74-1 30 0 30 4 29 14 30 17 29 16 30 16 30 18 29 26 30 39 29 46 30 47 30 40 29 30 30 20 29 4 30-4 30-9 29-12 30-14 29-14 30-15 30-13 29-16 30-17 29-19 30-19 30-21 29-21 30-20 29-20 30-19 30-19 29-17 30-17 30-17 59-34 59-33 59-32 59-28 60-23 59-18 59-15 59-13 59-11 60-11 59-10 59-12 59-14 59-18 60-22 59-19 59-8 30 3 29 7 30 10 29 13 30 14 30 18 29 25 30 29 29 31 30 31 30 30 29 30 30 35 29 35 30 33 30 29 29 20 30 9 29-5 30-19 30-27 29-30 30-28 30-22 29-21 30-21 29-20 30-21 30-20 29-19 30-18 59-33 59-27 59-19 60-9 59-1 59 4 59 8 59 8 60 7 59 4 18 0 19 0 18 0 19-1 18 2 19-3 18 3 19-2 18-1 19 3 18-3 19 1 18 0 19-5 18 6 19 0 18 2 19 8 18-16 19 18 18-5 19-1 18 0 19 12 18-12 19 40 18-7 19 13 18 17 19-11 18 7 19 20 18 33 19-53 18 33 19-2 18 45 19-43 18 1 19 82 18-2 19 5 18-7 19 82 18-80 19 71 18 23 19-27 18-14 19 57 18-23 19 27 18 32 19 31 18-47 19 58 18-13 19 27 18-19 19 0 18 77 19 2 18-34 19 14"/><path d="M2288 11905l15-25 15-4 14-94 15 44 15-15 15-10 15-34 14-8 15-16 15-36 15-19 15-11 14-32 15-21 15-24 15-26 15-9 14-30 15-19 15-23 15-23 15-22 14-22 15-21 15-21 15-20 15-19 14-19 15-18 15-19 15-19 15-20 15-21 14-21 15-22 59-106 60-133 59-110 59-85 59-75 59-64 60-64 59-82 59-97 59-116 59-128 60-141 59-142 59-141 59-135 59-129 60-122 59-134 59-144 59-133 59-97 60-72 59-67 59-67 59-63 59-58 60-56 59-55 59-53 59-53 60-53 59-54 59-53 59-52 59-51 60-53 59-58 59-60 59-62 59-61 60-58 59-55 59-51 59-48 59-46 60-42 59-39 59-34 59-31 59-28 60-24 59-22 59-18 59-14 59-12 60-12 59-13 59-15 59-16 60-17 59-16 59-16 59-15 59-13 60-12 59-13 59-12 59-13 59-13 60-12 59-11 59-9 59-10 59-11 60-11 59-12 59-12 59-13 59-13 60-13 59-14 59-13 59-14 60-14 59-14 59-14 59-14 59-14 60-13 59-14 59-13 59-14 59-13 60-13 59-13 59-13 59-13 59-14 60-12 59-13 59-13 59-12 59-12 60-11 59-11 59-10 59-11 59-11 60-12 59-13 59-12 59-12 60-11 59-9 59-9 59-6 15-1 30-3 29-1 30-1 29 0 30 0 30 1 29 3 30 8 29 12 30 16 30 17 29 22 30 34 29 36 30 28 30 9 29-8 30-16 29-17 30-25 30-29 29-21 30-9 29-8 30-8 30-6 29-6 30-6 29-5 30-4 30-4 29-3 15-2 74-6 74-4 74-3 74-2 74-2 74-2 74-2 74-3 74-3 74-3 74-2 74-3 74-2 74-2 74-2 74-2 74-2 74-1 74-1 74-1 74-1 74 0 74-1 74 0 74 0 74 0 74-1 74-1 74-1 74-1 74-1 74 0 74-1 74 0 74-1 74-1 74 0 74 0 30 0 30 4 29 14 30 17 29 16 30 15 30 18 29 25 30 38 29 46 30 46 30 40 29 29 30 19 29 5 30-5 30-8 29-12 30-14 29-15 30-15 30-13 29-16 30-17 29-19 30-20 30-21 29-20 30-21 29-20 30-20 30-18 29-18 30-17 30-17 59-35 59-33 59-32 59-29 60-24 59-19 59-15 59-14 59-12 60-11 59-11 59-13 59-15 59-19 60-22 59-20 59-8 30 2 29 6 30 10 29 13 30 13 30 18 29 24 30 29 29 30 30 31 30 30 29 30 30 34 29 35 30 33 30 28 29 20 30 9 29-5 30-19 30-28 29-30 30-28 30-22 29-21 30-21 29-21 30-21 30-20 29-19 30-18 59-33 59-27 59-19 60-9 59 0 59 4 59 8 59 9 60 8 59 4 18 0 19 0 18 0 19 1 18 1 19 0 18 0 19 0 18-1 19-2 18 1 19-1 18 1 19-1 18-7 19 6 18 11 19 0 18-2 19 2 18 3 19-1 18 29 19-20 18 14 19 2 18 16 19-17 18 13 19 5 18 24 19 2 18 8 19 6 18 17 19 13 18-7 19 37 18-5 19 12 18 5 19-2 18-10 19 67 18 2 19 54 18 16 19-54 18 54 19-65 18 29 19 17 18 55 19-8 18-14 19 32 18 131 19-32 18-41 19-13 18-4 19 32 18 27 19 41"/><path d="M2288 11905l15-64 15-31 14 16 15-31 15-11 15-26 15-11 14-25 15-9 15-39 15-13 15-12 14-36 15-13 15-25 15-26 15-29 14-16 15-23 15-22 15-23 15-22 14-22 15-22 15-20 15-20 15-19 14-19 15-18 15-19 15-19 15-20 15-21 14-21 15-22 59-106 60-133 59-111 59-84 59-75 59-63 60-64 59-81 59-97 59-117 59-128 60-141 59-141 59-141 59-135 59-127 60-121 59-133 59-142 59-132 59-96 60-71 59-66 59-67 59-62 59-57 60-55 59-54 59-52 59-52 60-52 59-53 59-53 59-51 59-51 60-54 59-58 59-60 59-62 59-61 60-59 59-56 59-51 59-49 59-46 60-43 59-39 59-35 59-32 59-28 60-26 59-23 59-19 59-15 59-13 60-13 59-14 59-16 59-17 60-18 59-17 59-17 59-15 59-14 60-13 59-13 59-13 59-13 59-13 60-13 59-10 59-10 59-9 59-10 60-11 59-12 59-12 59-12 59-12 60-13 59-13 59-13 59-13 60-13 59-13 59-13 59-13 59-13 60-13 59-13 59-12 59-13 59-12 60-12 59-13 59-12 59-12 59-13 60-12 59-12 59-12 59-12 59-11 60-11 59-10 59-10 59-10 59-12 60-11 59-12 59-13 59-11 60-11 59-10 59-8 59-7 15-1 30-2 29-2 30-1 29 0 30 0 30 1 29 3 30 8 29 12 30 15 30 17 29 21 30 35 29 36 30 27 30 9 29-8 30-16 29-17 30-26 30-29 29-21 30-10 29-8 30-7 30-7 29-6 30-6 29-5 30-5 30-4 29-3 15-2 74-7 74-5 74-3 74-3 74-2 74-2 74-3 74-3 74-3 74-3 74-3 74-3 74-3 74-2 74-2 74-2 74-2 74-1 74-1 74-1 74-1 74-1 74 0 74 0 74 0 74-1 74 0 74-1 74-1 74-1 74-1 74 0 74 0 74 0 74-1 74 0 74 0 74 0 30 0 30 4 29 15 30 16 29 16 30 14 30 17 29 24 30 37 29 44 30 45 30 39 29 28 30 20 29 4 30-4 30-9 29-12 30-13 29-15 30-14 30-14 29-15 30-17 29-18 30-20 30-20 29-20 30-21 29-20 30-18 30-18 29-18 30-17 30-16 59-34 59-33 59-31 59-27 60-23 59-18 59-15 59-12 59-11 60-10 59-11 59-12 59-14 59-18 60-23 59-19 59-8 30 2 29 7 30 10 29 13 30 13 30 18 29 24 30 29 29 31 30 31 30 29 29 30 30 34 29 35 30 34 30 28 29 19 30 9 29-6 30-19 30-27 29-31 30-29 30-22 29-21 30-21 29-22 30-20 30-21 29-19 30-19 59-34 59-27 59-20 60-9 59-2 59 4 59 8 59 8 60 7 59 3 18 0 19 1 18-1 19 0 18 1 19 1 18-3 19 0 18-1 19 1 18-1 19 2 18-4 19 2 18 1 19 4 18 6 19-8 18 5 19-2 18-2 19-3 18 11 19-4 18 14 19 21 18-15 19 18 18 33 19-9 18 2 19 8 18 15 19 13 18 24 19 3 18-11 19 28 18 10 19-23 18 27 19 24 18 33 19 1 18 3 19 12 18 63 19-21 18-43 19 77 18 4 19-39 18 1 19 53 18 2 19 35 18-25 19 2 18 3 19-80 18 88 19 66 18 45 19-11"/><path d="M2288 11880l15-11 15 4 14-29 15-49 15-34 15 9 15-19 14-44 15-10 15-2 15-17 15-30 14-27 15-22 15-23 15-16 15-23 14-29 15-21 15-22 15-23 15-22 14-22 15-21 15-21 15-20 15-19 14-19 15-18 15-19 15-19 15-21 15-21 14-21 15-22 59-106 60-134 59-111 59-85 59-75 59-64 60-64 59-82 59-98 59-117 59-129 60-142 59-142 59-142 59-135 59-128 60-122 59-133 59-142 59-133 59-96 60-72 59-66 59-67 59-62 59-58 60-55 59-54 59-52 59-51 60-53 59-53 59-52 59-51 59-51 60-54 59-58 59-60 59-62 59-61 60-59 59-55 59-51 59-49 59-46 60-42 59-39 59-35 59-31 59-29 60-26 59-22 59-19 59-15 59-14 60-13 59-14 59-16 59-18 60-18 59-18 59-17 59-16 59-15 60-14 59-13 59-14 59-14 59-13 60-13 59-11 59-10 59-11 59-10 60-12 59-12 59-13 59-13 59-13 60-13 59-14 59-13 59-14 60-14 59-14 59-14 59-14 59-14 60-13 59-14 59-13 59-13 59-12 60-13 59-13 59-13 59-13 59-13 60-12 59-13 59-12 59-11 59-11 60-11 59-11 59-9 59-10 59-11 60-11 59-12 59-11 59-11 60-10 59-9 59-8 59-5 15-1 30-2 29-1 30 0 29 0 30 1 30 2 29 3 30 9 29 13 30 15 30 18 29 22 30 35 29 37 30 28 30 10 29-7 30-15 29-17 30-25 30-28 29-21 30-8 29-8 30-7 30-6 29-5 30-5 29-4 30-4 30-3 29-3 15-1 74-5 74-3 74-1 74-1 74 0 74-1 74-1 74-2 74-2 74-1 74-2 74-2 74-2 74-2 74-1 74-2 74-1 74-2 74-1 74-2 74-1 74-1 74-1 74-1 74-1 74-2 74-2 74-2 74-3 74-2 74-2 74-2 74-2 74-2 74-2 74-2 74-2 74-1 30-1 30 4 29 13 30 16 29 15 30 14 30 16 29 22 30 36 29 43 30 45 30 37 29 28 30 19 29 4 30-5 30-9 29-12 30-14 29-15 30-15 30-14 29-15 30-17 29-19 30-20 30-20 29-21 30-20 29-20 30-19 30-18 29-18 30-16 30-17 59-33 59-33 59-30 59-28 60-22 59-18 59-13 59-12 59-10 60-10 59-9 59-11 59-13 59-18 60-21 59-18 59-8 30 3 29 7 30 11 29 13 30 14 30 18 29 25 30 29 29 31 30 32 30 30 29 30 30 35 29 35 30 34 30 28 29 21 30 9 29-6 30-19 30-27 29-30 30-29 30-21 29-21 30-22 29-21 30-20 30-20 29-20 30-18 59-34 59-27 59-19 60-10 59-1 59 4 59 7 59 8 60 7 59 2 18 0 19 0 18 0 19-1 18 2 19 0 18-1 19 1 18-1 19-3 18 2 19 1 18-4 19 4 18-5 19-1 18 6 19 9 18-7 19 3 18-3 19 11 18-16 19 14 18-10 19 18 18 13 19 17 18 2 19 15 18 4 19 1 18-24 19 27 18 30 19 8 18 9 19 3 18 15 19 14 18-12 19 48 18-13 19 0 18 34 19 49 18-62 19 5 18 52 19-6 18 12 19-44 18 96 19-30 18 40 19-18 18 24 19-48 18 108 19-44 18 23 19 39 18 17 19 27"/><path d="M2288 11859l15-32 15 25 14-33 15-39 15-2 15-38 15-24 14-3 15 1 15-46 15-14 15-32 14-5 15-16 15-30 15-32 15-27 14-16 15-26 15-22 15-23 15-22 14-22 15-22 15-21 15-20 15-20 14-19 15-18 15-19 15-20 15-20 15-21 14-22 15-22 59-107 60-135 59-112 59-87 59-76 59-65 60-64 59-83 59-99 59-118 59-131 60-143 59-143 59-142 59-136 59-128 60-122 59-133 59-142 59-132 59-97 60-71 59-67 59-67 59-62 59-57 60-54 59-53 59-51 59-51 60-51 59-52 59-52 59-51 59-50 60-54 59-57 59-60 59-62 59-61 60-58 59-54 59-51 59-48 59-46 60-42 59-38 59-35 59-31 59-28 60-26 59-22 59-19 59-16 59-13 60-13 59-14 59-16 59-18 60-19 59-18 59-17 59-16 59-15 60-14 59-13 59-14 59-14 59-13 60-13 59-11 59-10 59-10 59-10 60-11 59-12 59-12 59-13 59-12 60-13 59-13 59-13 59-14 60-13 59-14 59-13 59-13 59-13 60-13 59-13 59-13 59-12 59-12 60-13 59-12 59-13 59-12 59-12 60-12 59-12 59-12 59-11 59-11 60-11 59-10 59-10 59-9 59-11 60-11 59-12 59-11 59-12 60-10 59-9 59-8 59-6 15-1 30-2 29-1 30-1 29 0 30 1 30 2 29 3 30 8 29 13 30 15 30 17 29 22 30 35 29 36 30 29 30 9 29-8 30-16 29-17 30-25 30-28 29-22 30-9 29-8 30-7 30-6 29-6 30-5 29-5 30-4 30-4 29-3 15-2 74-6 74-4 74-2 74-2 74-1 74-2 74-2 74-3 74-3 74-2 74-3 74-2 74-3 74-2 74-2 74-2 74-2 74-1 74-2 74-1 74-1 74-1 74 0 74-1 74 0 74-1 74-1 74-2 74-1 74-1 74-1 74-1 74-1 74-1 74 0 74-1 74 0 74 0 30 0 30 4 29 14 30 16 29 15 30 13 30 16 29 22 30 35 29 43 30 44 30 37 29 28 30 18 29 5 30-5 30-8 29-12 30-14 29-14 30-14 30-14 29-15 30-16 29-19 30-19 30-20 29-20 30-20 29-19 30-19 30-17 29-17 30-16 30-17 59-32 59-32 59-30 59-27 60-22 59-16 59-14 59-11 59-10 60-9 59-10 59-10 59-13 59-18 60-22 59-18 59-8 30 3 29 7 30 10 29 13 30 14 30 18 29 24 30 29 29 31 30 31 30 30 29 30 30 34 29 36 30 33 30 28 29 20 30 9 29-6 30-19 30-28 29-31 30-28 30-23 29-21 30-22 29-21 30-21 30-21 29-20 30-19 59-34 59-28 59-20 60-10 59-3 59 3 59 6 59 8 60 5 59 2 18 0 19-1 18 0 19 0 18-1 19 0 18-1 19 0 18-2 19 3 18 4 19-6 18-7 19 2 18 1 19-2 18 8 19-11 18 16 19-1 18-5 19 22 18-25 19 13 18-11 19 18 18 26 19-3 18 7 19-14 18 44 19-28 18-10 19 37 18 22 19 19 18 2 19-24 18 5 19 16 18 10 19 28 18 14 19 19 18 15 19-28 18 41 19-4 18 54 19-28 18 36 19 0 18 33 19-7 18 12 19 31 18-6 19-7 18 62 19-1 18 22 19-59 18 36 19 40"/><path d="M2288 11843l15-9 15-49 14-27 15 3 15-8 15-5 15-46 14-6 15-8 15-32 15-12 15-31 14-5 15-16 15-34 15-33 15-23 14-18 15-25 15-23 15-23 15-22 14-23 15-21 15-22 15-20 15-19 14-19 15-19 15-18 15-20 15-21 15-21 14-21 15-22 59-108 60-135 59-113 59-87 59-76 59-65 60-65 59-84 59-100 59-118 59-131 60-145 59-144 59-142 59-137 59-128 60-121 59-133 59-142 59-132 59-96 60-71 59-67 59-67 59-62 59-57 60-54 59-53 59-50 59-50 60-51 59-52 59-51 59-50 59-51 60-53 59-57 59-60 59-61 59-61 60-58 59-55 59-50 59-48 59-45 60-42 59-39 59-34 59-31 59-28 60-26 59-23 59-19 59-16 59-13 60-13 59-15 59-17 59-18 60-19 59-18 59-18 59-17 59-15 60-15 59-14 59-14 59-14 59-14 60-14 59-11 59-11 59-10 59-11 60-12 59-13 59-12 59-13 59-13 60-14 59-13 59-14 59-14 60-14 59-13 59-14 59-13 59-14 60-13 59-13 59-12 59-13 59-12 60-12 59-12 59-12 59-12 59-12 60-11 59-12 59-11 59-10 59-10 60-10 59-9 59-9 59-9 59-9 60-10 59-11 59-10 59-10 60-9 59-8 59-7 59-4 15-1 30-2 29 0 30 0 29 0 30 2 30 2 29 3 30 9 29 13 30 16 30 18 29 23 30 34 29 38 30 28 30 10 29-7 30-15 29-17 30-25 30-28 29-21 30-9 29-7 30-7 30-6 29-6 30-5 29-5 30-3 30-4 29-3 15-1 74-6 74-4 74-2 74-2 74-1 74-2 74-2 74-4 74-3 74-3 74-4 74-3 74-3 74-4 74-3 74-3 74-3 74-2 74-3 74-3 74-2 74-2 74-2 74-1 74-2 74-2 74-2 74-2 74-2 74-3 74-1 74-2 74-1 74-1 74-1 74-1 74 0 74 0 30 0 30 4 29 14 30 15 29 15 30 13 30 15 29 21 30 34 29 42 30 43 30 37 29 27 30 18 29 4 30-4 30-8 29-12 30-13 29-15 30-13 30-13 29-15 30-17 29-18 30-19 30-19 29-20 30-20 29-19 30-18 30-17 29-17 30-16 30-15 59-32 59-32 59-29 59-26 60-21 59-16 59-13 59-11 59-9 60-9 59-9 59-10 59-13 59-17 60-22 59-18 59-7 30 2 29 7 30 10 29 13 30 14 30 18 29 24 30 29 29 31 30 31 30 30 29 30 30 34 29 36 30 33 30 28 29 20 30 9 29-6 30-19 30-28 29-31 30-29 30-23 29-21 30-22 29-21 30-21 30-21 29-20 30-19 59-35 59-28 59-20 60-11 59-2 59 3 59 6 59 7 60 5 59 2 18-1 19 0 18-1 19 0 18 0 19 0 18-2 19-3 18 1 19 1 18-2 19 2 18-6 19 2 18 6 19-10 18 8 19-8 18-4 19 14 18-2 19-6 18 22 19-21 18 16 19 27 18-17 19 23 18 9 19 8 18-16 19 71 18-33 19 10 18-12 19 23 18-14 19 37 18 37 19 10 18-14 19-7 18 38 19-5 18-22 19 31 18 3 19 54 18-25 19 29 18 29 19-39 18 46 19 24 18-83 19 98 18-4 19-36 18 71 19 36 18-60 19 3 18 49 19 77"/><path d="M2288 11864l15-33 15-30 14 12 15-55 15-24 15 9 15-29 14-29 15-10 15-25 15-24 15-18 14-11 15-35 15-17 15-24 15-21 14-27 15-21 15-24 15-23 15-23 14-22 15-22 15-21 15-20 15-20 14-18 15-19 15-19 15-19 15-21 15-21 14-21 15-23 59-107 60-137 59-113 59-87 59-77 59-65 60-65 59-85 59-100 59-120 59-133 60-145 59-145 59-144 59-137 59-128 60-121 59-132 59-142 59-132 59-96 60-72 59-68 59-67 59-62 59-57 60-54 59-52 59-51 59-50 60-50 59-52 59-51 59-51 59-51 60-54 59-59 59-61 59-62 59-61 60-59 59-56 59-51 59-49 59-46 60-43 59-39 59-35 59-32 59-30 60-27 59-24 59-20 59-17 59-14 60-14 59-16 59-17 59-19 60-20 59-20 59-18 59-17 59-16 60-15 59-15 59-14 59-15 59-14 60-13 59-12 59-11 59-10 59-11 60-12 59-12 59-12 59-13 59-13 60-13 59-13 59-13 59-14 60-13 59-13 59-13 59-13 59-13 60-13 59-13 59-12 59-12 59-11 60-12 59-12 59-12 59-11 59-12 60-11 59-11 59-11 59-11 59-10 60-9 59-10 59-8 59-9 59-10 60-10 59-10 59-11 59-10 60-9 59-8 59-7 59-4 15-1 30-2 29 0 30 0 29 0 30 1 30 3 29 3 30 9 29 13 30 16 30 18 29 23 30 35 29 37 30 29 30 9 29-7 30-15 29-16 30-25 30-29 29-20 30-9 29-7 30-7 30-6 29-6 30-4 29-5 30-3 30-4 29-2 15-2 74-4 74-3 74-2 74 0 74-1 74 0 74-2 74-2 74-2 74-2 74-2 74-2 74-2 74-2 74-2 74-1 74-2 74-1 74-2 74-1 74-1 74-2 74-1 74-1 74-1 74-1 74-2 74-2 74-2 74-2 74-2 74-2 74-2 74-2 74-1 74-2 74-2 74-1 30 0 30 3 29 14 30 15 29 14 30 12 30 14 29 20 30 33 29 41 30 42 30 35 29 27 30 17 29 3 30-4 30-9 29-13 30-14 29-15 30-14 30-14 29-15 30-17 29-18 30-20 30-20 29-20 30-20 29-19 30-19 30-17 29-17 30-17 30-16 59-32 59-32 59-29 59-26 60-22 59-16 59-13 59-11 59-9 60-9 59-9 59-10 59-13 59-17 60-21 59-18 59-8 30 3 29 7 30 10 29 13 30 13 30 18 29 25 30 29 29 31 30 32 30 30 29 30 30 35 29 35 30 34 30 28 29 21 30 9 29-6 30-19 30-28 29-31 30-28 30-22 29-22 30-21 29-21 30-21 30-21 29-20 30-19 59-34 59-28 59-20 60-10 59-3 59 3 59 6 59 7 60 5 59 2 18-1 19-1 18 0 19 0 18-1 19-1 18 2 19 0 18-4 19-2 18-5 19 8 18 0 19-3 18 3 19-2 18-4 19 2 18 7 19-15 18 11 19-14 18 20 19 0 18 9 19 3 18-17 19 27 18-2 19 33 18 1 19-12 18-1 19 36 18 9 19 20 18 57 19-73 18 42 19-12 18-12 19 52 18 12 19-23 18 0 19 70 18 21 19-29 18 71 19-36 18 4 19 43 18-94 19 127 18-40 19 51 18-31 19 18 18 39 19 1 18 13 19-49 18 68 19-60"/><path d="M2288 11838l15-22 15-72 14 6 15-23 15-6 15 2 15-22 14-22 15-25 15-25 15-14 15-44 14-11 15-20 15-27 15-24 15-20 14-22 15-23 15-21 15-24 15-23 14-22 15-22 15-21 15-21 15-19 14-19 15-19 15-19 15-20 15-21 15-21 14-21 15-23 59-108 60-138 59-114 59-88 59-77 59-66 60-66 59-85 59-101 59-121 59-134 60-146 59-146 59-144 59-137 59-129 60-121 59-131 59-142 59-132 59-95 60-72 59-68 59-67 59-62 59-56 60-54 59-51 59-49 59-49 60-50 59-50 59-51 59-50 59-50 60-54 59-58 59-60 59-62 59-61 60-58 59-54 59-51 59-48 59-45 60-42 59-39 59-34 59-31 59-29 60-26 59-23 59-20 59-15 59-14 60-13 59-15 59-17 59-18 60-19 59-19 59-18 59-17 59-15 60-14 59-14 59-14 59-14 59-13 60-13 59-11 59-10 59-10 59-11 60-11 59-12 59-12 59-12 59-13 60-13 59-13 59-13 59-14 60-13 59-13 59-14 59-13 59-13 60-13 59-13 59-12 59-13 59-12 60-12 59-13 59-12 59-12 59-12 60-12 59-12 59-12 59-11 59-11 60-11 59-10 59-9 59-10 59-11 60-11 59-12 59-11 59-12 60-10 59-9 59-8 59-6 15-1 30-2 29-1 30-1 29 0 30 1 30 1 29 3 30 8 29 13 30 16 30 17 29 22 30 34 29 37 30 28 30 9 29-7 30-16 29-17 30-26 30-29 29-21 30-10 29-7 30-8 30-6 29-6 30-6 29-4 30-5 30-3 29-4 15-1 74-6 74-4 74-3 74-1 74-2 74-1 74-2 74-3 74-3 74-3 74-2 74-3 74-2 74-2 74-2 74-2 74-2 74-1 74-2 74-1 74-1 74-1 74-1 74 0 74-1 74-1 74-1 74-1 74-2 74-1 74-1 74-1 74-1 74-1 74 0 74-1 74 0 74 0 30 0 30 4 29 14 30 16 29 15 30 13 30 16 29 21 30 34 29 43 30 43 30 37 29 28 30 18 29 4 30-4 30-9 29-11 30-14 29-14 30-14 30-13 29-15 30-16 29-18 30-18 30-20 29-19 30-20 29-18 30-18 30-17 29-17 30-15 30-15 59-31 59-31 59-28 59-25 60-20 59-15 59-11 59-10 59-8 60-8 59-8 59-9 59-12 59-16 60-20 59-18 59-7 30 3 29 7 30 11 29 13 30 14 30 18 29 25 30 29 29 32 30 32 30 29 29 31 30 35 29 36 30 33 30 29 29 20 30 9 29-5 30-19 30-28 29-31 30-28 30-23 29-21 30-22 29-21 30-21 30-21 29-20 30-19 59-35 59-28 59-21 60-11 59-3 59 2 59 6 59 6 60 4 59 0 18-1 19-1 18-1 19 0 18-3 19-1 18 2 19-5 18 0 19 1 18-1 19-5 18-2 19 0 18 2 19-9 18 4 19-8 18 7 19-18 18 28 19-4 18-3 19 9 18-4 19 10 18-6 19 34 18 4 19 7 18-9 19 14 18 23 19-7 18 12 19-6 18 13 19 22 18-13 19 32 18 5 19 1 18 9 19-2 18 60 19 21 18 15 19-7 18-14 19-2 18 25 19 26 18-3 19-24 18 66 19-28 18-14 19 5 18 9 19 38 18 43 19 11 18 32 19-78"/><path d="M2288 11845l15-74 15 24 14-49 15-22 15 22 15-28 15-43 14-1 15-12 15-29 15-26 15-19 14-10 15-35 15-17 15-22 15-29 14-24 15-21 15-24 15-24 15-23 14-22 15-22 15-22 15-20 15-20 14-19 15-19 15-19 15-20 15-20 15-22 14-21 15-23 59-108 60-139 59-115 59-88 59-78 59-66 60-67 59-85 59-103 59-122 59-134 60-147 59-147 59-145 59-138 59-129 60-121 59-132 59-142 59-132 59-96 60-72 59-69 59-67 59-63 59-56 60-53 59-51 59-50 59-48 60-50 59-50 59-50 59-50 59-50 60-54 59-57 59-60 59-62 59-60 60-58 59-54 59-50 59-47 59-45 60-41 59-39 59-33 59-31 59-29 60-25 59-23 59-19 59-15 59-14 60-13 59-14 59-17 59-18 60-19 59-19 59-18 59-16 59-15 60-15 59-14 59-14 59-14 59-14 60-13 59-12 59-10 59-10 59-12 60-12 59-12 59-13 59-13 59-14 60-13 59-14 59-14 59-14 60-15 59-14 59-14 59-14 59-14 60-14 59-14 59-13 59-13 59-13 60-13 59-13 59-13 59-13 59-13 60-13 59-12 59-12 59-11 59-12 60-10 59-11 59-9 59-10 59-11 60-11 59-11 59-12 59-10 60-10 59-9 59-7 59-6 15-1 30-1 29-1 30-1 29 1 30 1 30 2 29 3 30 9 29 13 30 16 30 17 29 23 30 35 29 37 30 28 30 10 29-7 30-15 29-17 30-25 30-29 29-21 30-9 29-7 30-7 30-6 29-6 30-4 29-5 30-3 30-4 29-3 15-1 74-5 74-3 74-1 74-1 74 0 74 0 74-2 74-2 74-2 74-2 74-2 74-2 74-2 74-2 74-2 74-1 74-2 74-2 74-1 74-1 74-2 74-1 74-1 74-1 74-1 74-1 74-2 74-2 74-2 74-2 74-1 74-2 74-1 74-1 74-2 74-1 74-1 74 0 30 0 30 3 29 14 30 16 29 15 30 13 30 15 29 21 30 35 29 42 30 43 30 37 29 28 30 18 29 4 30-5 30-8 29-12 30-14 29-14 30-14 30-14 29-14 30-17 29-17 30-19 30-20 29-19 30-20 29-18 30-18 30-17 29-17 30-15 30-15 59-31 59-31 59-28 59-25 60-20 59-15 59-11 59-10 59-8 60-8 59-7 59-10 59-11 59-17 60-20 59-18 59-7 30 3 29 7 30 11 29 13 30 14 30 18 29 25 30 29 29 31 30 32 30 30 29 30 30 35 29 36 30 33 30 29 29 20 30 9 29-5 30-19 30-28 29-31 30-29 30-22 29-22 30-21 29-22 30-21 30-21 29-20 30-19 59-35 59-29 59-21 60-11 59-3 59 2 59 5 59 6 60 4 59 0 18-1 19-1 18-2 19 0 18-2 19 0 18-3 19-2 18 3 19-4 18-5 19 1 18-3 19 7 18-1 19-4 18-3 19-6 18 1 19 11 18-2 19 1 18 1 19 13 18-1 19 13 18-19 19 3 18 17 19 29 18 16 19-38 18 17 19 20 18 24 19-16 18 22 19 33 18-35 19 28 18 20 19 31 18-34 19 25 18 59 19-30 18-4 19 21 18 23 19 35 18-12 19 88 18-73 19 52 18-69 19 16 18 66 19-5 18-25 19 141 18-108 19-8 18 138 19-51"/><path d="M2288 11815l15-13 15-11 14-76 15 1 15-10 15 4 15-9 14-46 15-25 15-14 15-17 15-14 14-18 15-47 15-7 15-25 15-23 14-28 15-21 15-26 15-23 15-23 14-22 15-22 15-22 15-20 15-19 14-19 15-19 15-19 15-20 15-20 15-21 14-22 15-22 59-108 60-139 59-114 59-89 59-77 59-66 60-66 59-85 59-102 59-122 59-135 60-147 59-147 59-146 59-137 59-129 60-120 59-131 59-142 59-132 59-96 60-71 59-69 59-68 59-62 59-57 60-53 59-51 59-49 59-49 60-49 59-51 59-50 59-51 59-51 60-54 59-59 59-61 59-62 59-62 60-59 59-55 59-51 59-49 59-45 60-43 59-39 59-35 59-32 59-30 60-27 59-23 59-20 59-17 59-14 60-14 59-15 59-18 59-19 60-20 59-19 59-19 59-17 59-15 60-15 59-14 59-14 59-15 59-14 60-13 59-11 59-10 59-10 59-11 60-11 59-12 59-12 59-13 59-13 60-13 59-13 59-13 59-13 60-13 59-14 59-13 59-13 59-13 60-13 59-13 59-12 59-12 59-12 60-12 59-13 59-12 59-12 59-12 60-12 59-12 59-11 59-11 59-11 60-10 59-10 59-10 59-9 59-10 60-12 59-11 59-11 59-11 60-10 59-9 59-8 59-5 15-1 30-2 29-1 30-1 29 0 30 1 30 2 29 3 30 9 29 13 30 15 30 17 29 23 30 35 29 37 30 28 30 10 29-8 30-15 29-17 30-26 30-29 29-21 30-9 29-8 30-7 30-6 29-6 30-5 29-5 30-4 30-3 29-3 15-1 74-6 74-3 74-2 74-1 74 0 74-1 74-2 74-2 74-2 74-2 74-2 74-2 74-2 74-1 74-2 74-1 74-2 74-1 74-1 74-1 74-1 74-1 74-1 74 0 74-1 74-1 74-2 74-1 74-2 74-2 74-2 74-1 74-2 74-1 74-2 74-1 74-2 74-1 30 0 30 4 29 13 30 16 29 15 30 13 30 15 29 21 30 34 29 42 30 44 30 37 29 27 30 18 29 3 30-4 30-9 29-12 30-14 29-15 30-15 30-13 29-15 30-16 29-18 30-19 30-20 29-20 30-19 29-19 30-18 30-18 29-16 30-16 30-15 59-31 59-31 59-28 59-25 60-21 59-15 59-11 59-10 59-8 60-7 59-8 59-9 59-12 59-16 60-20 59-17 59-7 30 3 29 7 30 11 29 13 30 13 30 19 29 25 30 29 29 32 30 32 30 30 29 31 30 35 29 36 30 34 30 28 29 21 30 9 29-5 30-19 30-27 29-31 30-29 30-22 29-21 30-21 29-22 30-20 30-21 29-20 30-19 59-34 59-28 59-20 60-11 59-3 59 3 59 5 59 7 60 4 59 0 18-1 19-1 18-1 19-1 18-1 19-1 18-1 19-3 18 4 19-7 18-3 19 4 18-2 19-1 18 6 19-10 18 3 19-8 18 16 19-12 18 6 19-7 18 8 19 2 18 3 19 10 18 7 19 9 18 4 19 9 18 6 19-11 18 30 19-3 18 12 19 35 18-52 19 41 18 32 19-16 18 14 19-7 18 75 19-44 18 47 19 52 18-92 19 78 18-23 19 57 18-50 19-2 18 54 19 15 18 6 19 14 18 60 19 17 18-70 19 30 18 50 19-57 18-8 19 7"/><path d="M2288 11821l15-46 15-50 14-7 15-18 15 0 15-23 15-17 14-30 15-33 15 20 15-34 15-44 14-20 15-10 15-20 15-25 15-23 14-24 15-23 15-25 15-24 15-23 14-22 15-23 15-21 15-21 15-19 14-19 15-19 15-19 15-20 15-21 15-21 14-22 15-22 59-109 60-139 59-116 59-88 59-78 59-66 60-66 59-86 59-102 59-123 59-135 60-148 59-147 59-146 59-137 59-128 60-120 59-130 59-141 59-131 59-95 60-71 59-69 59-67 59-62 59-55 60-52 59-50 59-48 59-48 60-48 59-50 59-49 59-50 59-50 60-54 59-59 59-60 59-62 59-61 60-59 59-55 59-51 59-48 59-45 60-43 59-39 59-34 59-32 59-30 60-27 59-24 59-20 59-16 59-15 60-14 59-15 59-18 59-19 60-20 59-20 59-19 59-17 59-15 60-15 59-15 59-14 59-14 59-15 60-13 59-11 59-10 59-10 59-11 60-11 59-12 59-13 59-12 59-13 60-13 59-13 59-13 59-13 60-14 59-13 59-13 59-14 59-13 60-13 59-12 59-13 59-12 59-12 60-13 59-12 59-13 59-12 59-12 60-13 59-12 59-11 59-12 59-11 60-11 59-10 59-10 59-10 59-11 60-12 59-12 59-12 59-11 60-11 59-10 59-8 59-6 15-2 30-2 29-1 30-1 29 0 30 0 30 2 29 3 30 8 29 12 30 16 30 16 29 22 30 35 29 37 30 28 30 9 29-8 30-16 29-17 30-26 30-29 29-22 30-9 29-8 30-7 30-7 29-6 30-5 29-5 30-4 30-4 29-3 15-1 74-6 74-3 74-2 74-1 74-1 74-1 74-1 74-2 74-2 74-1 74-2 74-1 74-1 74-1 74-1 74-1 74 0 74 0 74-1 74 0 74 0 74 1 74 0 74 1 74 0 74 0 74-1 74-1 74-1 74-1 74-1 74 0 74-1 74-1 74-1 74-1 74 0 74-1 30 0 30 4 29 13 30 16 29 15 30 14 30 15 29 21 30 35 29 42 30 43 30 37 29 28 30 18 29 3 30-4 30-9 29-13 30-14 29-14 30-15 30-13 29-15 30-17 29-18 30-19 30-19 29-20 30-20 29-19 30-18 30-17 29-16 30-16 30-15 59-32 59-30 59-29 59-25 60-20 59-15 59-11 59-10 59-8 60-7 59-8 59-9 59-12 59-16 60-21 59-17 59-8 30 3 29 7 30 11 29 13 30 14 30 18 29 25 30 29 29 31 30 33 30 29 29 31 30 35 29 36 30 34 30 29 29 20 30 10 29-6 30-19 30-28 29-30 30-29 30-22 29-22 30-21 29-21 30-22 30-20 29-20 30-19 59-35 59-28 59-21 60-10 59-4 59 3 59 5 59 5 60 4 59 0 18-1 19-2 18-1 19-1 18 0 19-1 18-3 19 0 18-6 19-2 18 8 19-3 18-4 19-4 18 4 19-6 18 1 19 2 18-9 19-2 18 5 19 13 18-6 19-1 18 6 19-15 18 36 19 14 18-4 19 3 18 22 19-2 18-13 19 34 18 8 19-5 18 3 19 8 18 40 19-7 18-5 19 37 18 19 19-32 18 58 19-52 18 36 19 39 18 15 19-82 18 73 19-31 18 137 19-88 18 57 19 7 18-5 19 43 18-9 19-54 18 119 19-80 18 83 19-3"/><path d="M2288 11818l15-98 15 9 14-20 15-10 15-53 15 1 15 10 14-26 15-49 15-18 15-8 15-19 14-14 15-28 15-26 15-21 15-29 14-17 15-25 15-25 15-23 15-24 14-23 15-22 15-22 15-20 15-20 14-19 15-19 15-19 15-20 15-21 15-22 14-21 15-23 59-110 60-140 59-117 59-89 59-79 59-67 60-66 59-87 59-104 59-124 59-136 60-150 59-148 59-146 59-138 59-128 60-119 59-130 59-141 59-130 59-94 60-71 59-68 59-68 59-61 59-54 60-51 59-49 59-46 59-46 60-47 59-48 59-49 59-48 59-50 60-53 59-58 59-60 59-61 59-61 60-58 59-54 59-50 59-48 59-44 60-42 59-39 59-35 59-32 59-29 60-27 59-24 59-21 59-17 59-15 60-14 59-16 59-19 59-20 60-21 59-20 59-20 59-19 59-16 60-17 59-15 59-16 59-16 59-15 60-15 59-12 59-12 59-12 59-12 60-13 59-13 59-14 59-14 59-14 60-14 59-14 59-14 59-15 60-14 59-14 59-15 59-14 59-13 60-14 59-13 59-13 59-13 59-12 60-13 59-12 59-12 59-12 59-13 60-11 59-12 59-11 59-11 59-10 60-10 59-10 59-9 59-9 59-9 60-11 59-11 59-11 59-10 60-9 59-9 59-7 59-5 15-1 30-1 29-1 30 0 29 0 30 1 30 2 29 4 30 9 29 13 30 16 30 17 29 23 30 35 29 37 30 29 30 10 29-8 30-15 29-17 30-25 30-29 29-22 30-9 29-7 30-7 30-7 29-5 30-5 29-5 30-3 30-4 29-3 15-1 74-5 74-3 74-2 74-1 74-1 74-1 74-1 74-2 74-3 74-2 74-2 74-2 74-2 74-1 74-2 74-2 74-1 74-1 74-1 74-1 74-1 74-1 74 0 74-1 74 0 74-1 74-1 74-2 74-2 74-1 74-1 74-1 74-1 74-1 74-2 74-1 74 0 74-1 30 0 30 4 29 13 30 15 29 13 30 11 30 12 29 17 30 30 29 38 30 39 30 35 29 25 30 16 29 3 30-5 30-9 29-12 30-13 29-15 30-14 30-12 29-15 30-16 29-17 30-18 30-18 29-19 30-19 29-18 30-16 30-17 29-15 30-14 30-14 59-29 59-28 59-25 59-23 60-17 59-12 59-9 59-7 59-5 60-5 59-6 59-7 59-10 59-14 60-19 59-17 59-6 30 3 29 7 30 11 29 13 30 14 30 18 29 25 30 29 29 32 30 32 30 30 29 31 30 35 29 36 30 34 30 29 29 20 30 9 29-5 30-19 30-28 29-31 30-29 30-22 29-22 30-21 29-22 30-21 30-21 29-20 30-19 59-35 59-29 59-21 60-11 59-4 59 2 59 4 59 5 60 3 59-1 18-2 19-1 18-1 19-2 18-3 19-1 18 1 19-4 18-1 19-1 18 0 19-2 18-5 19-2 18-1 19 4 18-2 19-4 18-3 19 8 18 9 19-9 18-2 19-2 18 9 19-1 18 15 19 0 18 21 19 8 18-2 19 6 18 9 19-22 18 42 19 15 18 10 19 2 18 8 19-17 18 7 19 53 18-35 19 3 18 21 19 48 18 49 19-33 18 7 19 8 18 7 19-48 18 53 19 30 18-3 19 39 18 30 19-26 18 6 19 62 18-25 19 14 18 16 19 0"/><path d="M2288 11740l15 3 15 21 14-39 15-74 15-5 15-19 15 23 14-33 15-31 15-3 15-20 15-47 14-23 15 5 15-36 15-19 15-33 14-17 15-22 15-26 15-23 15-24 14-22 15-23 15-21 15-21 15-19 14-19 15-19 15-19 15-20 15-20 15-21 14-22 15-22 59-109 60-140 59-116 59-89 59-78 59-66 60-66 59-86 59-104 59-123 59-136 60-150 59-148 59-146 59-137 59-128 60-119 59-129 59-141 59-130 59-95 60-71 59-68 59-68 59-61 59-55 60-51 59-49 59-47 59-47 60-47 59-48 59-49 59-50 59-50 60-54 59-59 59-60 59-62 59-62 60-58 59-55 59-51 59-48 59-46 60-42 59-40 59-35 59-32 59-31 60-27 59-25 59-20 59-18 59-15 60-15 59-16 59-19 59-20 60-21 59-20 59-20 59-18 59-17 60-16 59-16 59-15 59-16 59-15 60-14 59-12 59-11 59-11 59-12 60-13 59-12 59-14 59-13 59-14 60-13 59-14 59-14 59-14 60-14 59-14 59-14 59-13 59-14 60-13 59-13 59-13 59-12 59-12 60-13 59-12 59-12 59-12 59-12 60-12 59-12 59-11 59-11 59-10 60-10 59-10 59-9 59-9 59-10 60-11 59-11 59-11 59-11 60-9 59-9 59-7 59-5 15-1 30-2 29-1 30 0 29 0 30 1 30 2 29 4 30 8 29 13 30 16 30 18 29 22 30 35 29 38 30 28 30 10 29-7 30-16 29-17 30-25 30-30 29-21 30-9 29-8 30-7 30-6 29-6 30-5 29-4 30-4 30-4 29-3 15-1 74-5 74-4 74-1 74-1 74-1 74-1 74-2 74-2 74-2 74-3 74-2 74-2 74-2 74-2 74-2 74-1 74-2 74-1 74-1 74-2 74-1 74 0 74-1 74 0 74-1 74-1 74-1 74-2 74-2 74-1 74-1 74-1 74-1 74-1 74-1 74-1 74 0 74 0 30 0 30 3 29 14 30 15 29 13 30 10 30 12 29 17 30 29 29 38 30 39 30 34 29 25 30 17 29 2 30-4 30-9 29-11 30-14 29-14 30-14 30-12 29-14 30-15 29-17 30-18 30-18 29-18 30-19 29-17 30-17 30-15 29-15 30-14 30-14 59-28 59-26 59-25 59-22 60-16 59-12 59-8 59-6 59-4 60-5 59-5 59-7 59-9 59-15 60-19 59-16 59-6 30 3 29 7 30 11 29 12 30 14 30 18 29 25 30 29 29 32 30 31 30 30 29 31 30 35 29 35 30 34 30 29 29 20 30 9 29-6 30-19 30-29 29-31 30-29 30-23 29-22 30-22 29-22 30-21 30-21 29-21 30-20 59-36 59-29 59-22 60-12 59-5 59 1 59 3 59 4 60 2 59-2 18-1 19-2 18-2 19-3 18 0 19-2 18-3 19-3 18-2 19-1 18 2 19 0 18-5 19-5 18 2 19-11 18 5 19-7 18 6 19-2 18 6 19-3 18-17 19 15 18 11 19 11 18-5 19 24 18-14 19 20 18 13 19-21 18 27 19-1 18-4 19-4 18 20 19 27 18 23 19-1 18 37 19-43 18-40 19 85 18-7 19 91 18-39 19-8 18 33 19 16 18-14 19 29 18 19 19-22 18 57 19-9 18 35 19-14 18-45 19 60 18-3 19 19 18 5 19-2"/><path d="M2288 11761l15-17 15-14 14-7 15-15 15-25 15-35 15-16 14-17 15-38 15-6 15-24 15-37 14-10 15-22 15-17 15-25 15-22 14-26 15-24 15-23 15-23 15-23 14-23 15-22 15-22 15-20 15-20 14-19 15-18 15-19 15-20 15-21 15-21 14-21 15-23 59-109 60-141 59-116 59-90 59-78 59-67 60-66 59-87 59-104 59-125 59-138 60-150 59-150 59-147 59-139 59-128 60-120 59-129 59-141 59-131 59-95 60-72 59-69 59-69 59-62 59-55 60-52 59-49 59-47 59-47 60-47 59-49 59-49 59-49 59-51 60-55 59-59 59-61 59-62 59-62 60-59 59-54 59-51 59-48 59-46 60-42 59-39 59-35 59-32 59-30 60-27 59-24 59-20 59-17 59-15 60-14 59-16 59-18 59-20 60-20 59-20 59-19 59-18 59-16 60-15 59-15 59-15 59-15 59-14 60-14 59-11 59-11 59-11 59-11 60-12 59-13 59-13 59-13 59-14 60-13 59-14 59-14 59-14 60-15 59-14 59-14 59-14 59-14 60-14 59-14 59-13 59-13 59-13 60-13 59-13 59-14 59-13 59-13 60-12 59-13 59-12 59-12 59-12 60-11 59-11 59-10 59-10 59-11 60-12 59-12 59-11 59-12 60-10 59-10 59-7 59-6 15-1 30-2 29-1 30-1 29 1 30 1 30 1 29 4 30 8 29 13 30 16 30 17 29 23 30 35 29 37 30 29 30 10 29-8 30-15 29-17 30-25 30-29 29-22 30-8 29-8 30-7 30-6 29-5 30-5 29-4 30-4 30-3 29-2 15-1 74-4 74-2 74-1 74 1 74 0 74 1 74 0 74-1 74 0 74-1 74 0 74-1 74 0 74-1 74 0 74 0 74 0 74-1 74 0 74 0 74 0 74 0 74 0 74 0 74 0 74-1 74-1 74-2 74-2 74-2 74-2 74-2 74-1 74-2 74-2 74-2 74-2 74-2 30 0 30 3 29 13 30 14 29 12 30 8 30 10 29 15 30 27 29 36 30 37 30 32 29 23 30 15 29 2 30-5 30-10 29-12 30-15 29-14 30-15 30-13 29-14 30-17 29-17 30-19 30-18 29-19 30-19 29-18 30-17 30-17 29-15 30-15 30-14 59-29 59-28 59-26 59-22 60-17 59-12 59-9 59-6 59-6 60-5 59-5 59-6 59-10 59-14 60-19 59-16 59-6 30 3 29 7 30 11 29 13 30 14 30 19 29 25 30 30 29 32 30 32 30 30 29 32 30 35 29 37 30 34 30 29 29 21 30 10 29-5 30-19 30-28 29-31 30-28 30-22 29-22 30-21 29-21 30-21 30-21 29-20 30-19 59-34 59-29 59-20 60-11 59-3 59 2 59 5 59 6 60 4 59-1 18-1 19-2 18-1 19 0 18-2 19-2 18-3 19-4 18 2 19 0 18-4 19 1 18-1 19-6 18-1 19 4 18-1 19-1 18 0 19-13 18 23 19-13 18 12 19 10 18-14 19-3 18 31 19-1 18 22 19-32 18 20 19 5 18 33 19-4 18-6 19 16 18 26 19-10 18 47 19-27 18 53 19-40 18-21 19 46 18 35 19-39 18 22 19 44 18 52 19 9 18-48 19-15 18 25 19 20 18-2 19 12 18 104 19-50 18-64 19 74 18 45 19-4 18 19 19 90"/><path d="M2288 11759l15-16 15-18 14-50 15 9 15-10 15-39 15 2 14-18 15-54 15-14 15-34 15-22 14 1 15-42 15-11 15-17 15-31 14-29 15-19 15-25 15-24 15-24 14-23 15-22 15-22 15-21 15-20 14-19 15-19 15-20 15-20 15-21 15-21 14-22 15-22 59-111 60-143 59-118 59-91 59-79 59-68 60-67 59-88 59-106 59-126 59-139 60-151 59-151 59-148 59-139 59-128 60-119 59-128 59-140 59-131 59-94 60-71 59-69 59-68 59-61 59-54 60-50 59-48 59-45 59-45 60-46 59-47 59-48 59-48 59-50 60-54 59-58 59-60 59-62 59-61 60-58 59-54 59-50 59-48 59-45 60-42 59-39 59-35 59-32 59-30 60-27 59-25 59-21 59-17 59-15 60-15 59-17 59-19 59-20 60-21 59-21 59-20 59-19 59-17 60-16 59-16 59-16 59-16 59-15 60-15 59-12 59-12 59-11 59-12 60-13 59-14 59-13 59-14 59-14 60-14 59-14 59-15 59-14 60-14 59-14 59-14 59-14 59-14 60-14 59-13 59-13 59-13 59-12 60-13 59-12 59-13 59-12 59-13 60-12 59-11 59-12 59-11 59-11 60-10 59-10 59-9 59-9 59-10 60-11 59-12 59-11 59-10 60-10 59-9 59-7 59-6 15-1 30-1 29-1 30-1 29 1 30 1 30 2 29 3 30 9 29 13 30 16 30 17 29 22 30 36 29 37 30 29 30 9 29-7 30-15 29-17 30-26 30-30 29-21 30-9 29-8 30-7 30-6 29-6 30-5 29-4 30-4 30-4 29-3 15-1 74-5 74-3 74-1 74-1 74 0 74-1 74-1 74-2 74-2 74-1 74-2 74-2 74-1 74-1 74-2 74-1 74-1 74-1 74-1 74 0 74-1 74 0 74-1 74 0 74 0 74-1 74-1 74-1 74-2 74-2 74-1 74-1 74-1 74-1 74-1 74-1 74-1 74-1 30 0 30 4 29 13 30 14 29 11 30 8 30 9 29 13 30 25 29 34 30 36 30 31 29 23 30 14 29 2 30-5 30-9 29-12 30-14 29-14 30-14 30-13 29-15 30-16 29-17 30-18 30-19 29-18 30-19 29-18 30-17 30-16 29-15 30-15 30-14 59-29 59-28 59-25 59-23 60-17 59-12 59-9 59-7 59-5 60-5 59-6 59-7 59-9 59-15 60-19 59-17 59-6 30 3 29 7 30 11 29 13 30 13 30 19 29 25 30 30 29 32 30 33 30 31 29 31 30 36 29 37 30 34 30 30 29 21 30 10 29-5 30-19 30-28 29-30 30-29 30-22 29-21 30-22 29-21 30-21 30-20 29-20 30-19 59-34 59-28 59-21 60-10 59-3 59 3 59 5 59 5 60 4 59-1 18-1 19-1 18-2 19-2 18 0 19-2 18-3 19-3 18 4 19-5 18-6 19 5 18-1 19-1 18-8 19 5 18-6 19 0 18 2 19-8 18 9 19-11 18 27 19 2 18 2 19 4 18-11 19 12 18 11 19 6 18 23 19 0 18-17 19 26 18-8 19 6 18 32 19-16 18 40 19-35 18 46 19-21 18 80 19-37 18 3 19 62 18-9 19-10 18 18 19-12 18 88 19-37 18-27 19 85 18-50 19 62 18-94 19 81 18 30 19-41 18 30 19 14 18 17 19 13"/><path d="M2288 11758l15-28 15 6 14-97 15 47 15-22 15-30 15-8 14-23 15-34 15-8 15-21 15-41 14-14 15-43 15-5 15-26 15-23 14-26 15-22 15-26 15-23 15-24 14-23 15-23 15-22 15-20 15-20 14-19 15-19 15-19 15-20 15-21 15-22 14-21 15-23 59-110 60-143 59-119 59-90 59-80 59-68 60-67 59-89 59-106 59-127 59-139 60-153 59-151 59-149 59-140 59-128 60-119 59-129 59-141 59-131 59-94 60-72 59-70 59-69 59-61 59-55 60-51 59-48 59-46 59-45 60-46 59-47 59-48 59-49 59-50 60-55 59-59 59-61 59-62 59-61 60-58 59-55 59-50 59-48 59-45 60-42 59-38 59-35 59-32 59-30 60-27 59-25 59-20 59-17 59-14 60-15 59-16 59-18 59-20 60-20 59-21 59-19 59-18 59-16 60-16 59-15 59-15 59-15 59-14 60-14 59-12 59-10 59-11 59-11 60-12 59-13 59-13 59-13 59-13 60-14 59-14 59-14 59-14 60-14 59-14 59-14 59-14 59-13 60-14 59-13 59-14 59-13 59-12 60-13 59-13 59-13 59-13 59-13 60-13 59-12 59-12 59-12 59-12 60-11 59-11 59-10 59-10 59-11 60-12 59-12 59-12 59-12 60-11 59-10 59-8 59-6 15-1 30-2 29-2 30-1 29 0 30 1 30 2 29 3 30 8 29 12 30 16 30 17 29 22 30 35 29 37 30 28 30 10 29-8 30-16 29-17 30-26 30-30 29-22 30-9 29-8 30-7 30-7 29-6 30-5 29-5 30-4 30-3 29-3 15-2 74-5 74-3 74-2 74 0 74-1 74 0 74-1 74-2 74-1 74-2 74-1 74-1 74-1 74-1 74-1 74 0 74-1 74 0 74 0 74 0 74 1 74 0 74 1 74 0 74 1 74 0 74 0 74-1 74-1 74 0 74-1 74 0 74 0 74-1 74 0 74 0 74-1 74 0 30 1 30 3 29 14 30 14 29 10 30 8 30 7 29 12 30 25 29 33 30 34 30 30 29 22 30 15 29 1 30-4 30-9 29-13 30-13 29-15 30-14 30-13 29-14 30-16 29-18 30-18 30-18 29-19 30-19 29-18 30-17 30-16 29-16 30-14 30-15 59-29 59-28 59-26 59-23 60-18 59-13 59-9 59-7 59-6 60-6 59-6 59-8 59-10 59-16 60-20 59-17 59-7 30 3 29 7 30 10 29 13 30 13 30 18 29 26 30 29 29 33 30 33 30 30 29 32 30 35 29 37 30 35 30 30 29 22 30 9 29-5 30-18 30-28 29-31 30-28 30-22 29-21 30-21 29-22 30-20 30-21 29-19 30-19 59-34 59-28 59-19 60-10 59-2 59 2 59 6 59 6 60 4 59 0 18-2 19-1 18-1 19-2 18-1 19-1 18-4 19-1 18-1 19 1 18-1 19-9 18 4 19-3 18 4 19-10 18 7 19 2 18-2 19-1 18-4 19 16 18-7 19 6 18 18 19-18 18 14 19-2 18 8 19 18 18 13 19-12 18 10 19 1 18 2 19 40 18-31 19 50 18-51 19 50 18 27 19-18 18 20 19 2 18 27 19 28 18-15 19 10 18-14 19 29 18-12 19 71 18 22 19-41 18-4 19 109 18-10 19-63 18 80 19-70 18-4 19 76 18-29 19 135"/><path d="M2288 11707l15 17 15-14 14-31 15-9 15-39 15-9 15-35 14-14 15-9 15-50 15 7 15-39 14-32 15-5 15-27 15-19 15-27 14-28 15-26 15-24 15-24 15-24 14-24 15-22 15-23 15-21 15-20 14-19 15-19 15-20 15-20 15-21 15-21 14-22 15-23 59-112 60-144 59-120 59-92 59-81 59-68 60-69 59-89 59-107 59-129 59-141 60-154 59-153 59-149 59-140 59-129 60-118 59-128 59-140 59-130 59-94 60-72 59-70 59-68 59-62 59-53 60-50 59-47 59-44 59-44 60-44 59-46 59-48 59-47 59-50 60-54 59-59 59-60 59-62 59-61 60-58 59-54 59-50 59-47 59-44 60-42 59-38 59-35 59-32 59-30 60-28 59-24 59-21 59-17 59-15 60-15 59-16 59-19 59-20 60-21 59-21 59-21 59-18 59-17 60-17 59-15 59-16 59-16 59-15 60-14 59-13 59-11 59-12 59-12 60-12 59-14 59-13 59-14 59-14 60-14 59-15 59-14 59-14 60-15 59-14 59-14 59-15 59-14 60-13 59-14 59-13 59-13 59-13 60-13 59-13 59-13 59-12 59-13 60-12 59-12 59-12 59-12 59-11 60-11 59-10 59-10 59-9 59-11 60-12 59-11 59-12 59-11 60-10 59-10 59-7 59-6 15-2 30-1 29-2 30 0 29 0 30 1 30 2 29 3 30 8 29 13 30 15 30 17 29 23 30 34 29 38 30 28 30 10 29-8 30-16 29-18 30-26 30-30 29-22 30-10 29-8 30-7 30-7 29-6 30-6 29-4 30-5 30-4 29-3 15-2 74-6 74-4 74-3 74-1 74-2 74-1 74-3 74-3 74-3 74-3 74-3 74-3 74-3 74-2 74-3 74-2 74-2 74-2 74-1 74-2 74-1 74-1 74-1 74-1 74 0 74-1 74-2 74-1 74-2 74-1 74-1 74-1 74 0 74-1 74 0 74 0 74-1 74 0 30 1 30 4 29 13 30 15 29 12 30 10 30 10 29 14 30 27 29 35 30 38 30 32 29 24 30 16 29 2 30-5 30-9 29-12 30-14 29-15 30-14 30-13 29-14 30-16 29-17 30-18 30-19 29-19 30-18 29-18 30-17 30-17 29-15 30-15 30-14 59-29 59-29 59-26 59-23 60-18 59-12 59-10 59-7 59-6 60-6 59-6 59-8 59-10 59-16 60-20 59-18 59-7 30 3 29 7 30 10 29 12 30 14 30 18 29 26 30 30 29 33 30 33 30 31 29 32 30 36 29 38 30 35 30 31 29 22 30 10 29-4 30-19 30-27 29-30 30-28 30-22 29-21 30-20 29-21 30-21 30-19 29-20 30-18 59-33 59-27 59-19 60-9 59-2 59 4 59 5 59 7 60 3 59 0 18-2 19-1 18-1 19-3 18-1 19 1 18-5 19 2 18-6 19-2 18-2 19 1 18-1 19-2 18-2 19-7 18 8 19-9 18 5 19 5 18 1 19-18 18 12 19 14 18-5 19 22 18-22 19 4 18 15 19 15 18 9 19-17 18 29 19-16 18 8 19 21 18 34 19 8 18-11 19-5 18 14 19 12 18 22 19-10 18 7 19-24 18 45 19-3 18 47 19-7 18 47 19 43 18 20 19-23 18 22 19 10 18-54 19 77 18-3 19-17 18 105 19-96 18 90 19-50"/><path d="M2288 11709l15-6 15 4 14-48 15 13 15-50 15-8 15-23 14-8 15-57 15-11 15-9 15-41 14-15 15-41 15-1 15-20 15-27 14-24 15-28 15-23 15-24 15-24 14-23 15-22 15-22 15-21 15-20 14-19 15-19 15-19 15-20 15-21 15-21 14-22 15-23 59-110 60-144 59-120 59-92 59-80 59-68 60-68 59-89 59-108 59-129 59-141 60-155 59-153 59-150 59-141 59-129 60-118 59-127 59-141 59-131 59-94 60-72 59-72 59-69 59-62 59-55 60-50 59-47 59-45 59-44 60-45 59-47 59-47 59-49 59-51 60-55 59-60 59-61 59-63 59-62 60-59 59-55 59-52 59-48 59-45 60-42 59-39 59-36 59-32 59-30 60-28 59-24 59-21 59-17 59-15 60-15 59-16 59-19 59-20 60-21 59-20 59-20 59-18 59-17 60-16 59-15 59-15 59-15 59-15 60-13 59-12 59-11 59-11 59-12 60-12 59-13 59-12 59-14 59-13 60-14 59-13 59-14 59-14 60-14 59-14 59-14 59-14 59-13 60-14 59-13 59-13 59-13 59-12 60-13 59-12 59-13 59-13 59-12 60-13 59-12 59-12 59-11 59-12 60-10 59-11 59-10 59-10 59-11 60-12 59-12 59-12 59-12 60-11 59-9 59-9 59-6 15-2 30-2 29-1 30-1 29-1 30 1 30 1 29 3 30 8 29 12 30 15 30 16 29 22 30 35 29 36 30 28 30 9 29-8 30-17 29-18 30-28 30-30 29-24 30-10 29-9 30-8 30-8 29-7 30-6 29-6 30-5 30-5 29-5 15-2 74-8 74-7 74-5 74-5 74-4 74-5 74-5 74-7 74-6 74-6 74-6 74-6 74-6 74-5 74-6 74-5 74-5 74-5 74-4 74-5 74-4 74-3 74-3 74-3 74-3 74-3 74-3 74-4 74-2 74-3 74-2 74-1 74 0 74-1 74-1 74-1 74 0 74 0 30 0 30 4 29 14 30 17 29 18 30 17 30 18 29 24 30 36 29 45 30 47 30 41 29 31 30 19 29 4 30-5 30-9 29-12 30-14 29-15 30-14 30-13 29-14 30-16 29-17 30-18 30-19 29-19 30-18 29-18 30-18 30-16 29-15 30-15 30-14 59-29 59-28 59-26 59-23 60-18 59-13 59-9 59-7 59-5 60-6 59-6 59-7 59-10 59-15 60-20 59-17 59-7 30 3 29 7 30 10 29 13 30 14 30 18 29 26 30 31 29 34 30 33 30 32 29 32 30 38 29 38 30 36 30 31 29 23 30 11 29-4 30-18 30-26 29-30 30-28 30-21 29-20 30-20 29-20 30-20 30-20 29-18 30-18 59-32 59-26 59-18 60-8 59-1 59 4 59 6 59 7 60 4 59 0 18-2 19-1 18-2 19-3 18 0 19-1 18-1 19 0 18-4 19-6 18 2 19-1 18-4 19 0 18-5 19 12 18-12 19-8 18 5 19 10 18-18 19 4 18 3 19 5 18 29 19-8 18-11 19-1 18 22 19 10 18-7 19 30 18 1 19 2 18 20 19 11 18 7 19-22 18 34 19 23 18 7 19-3 18 29 19-25 18 40 19-31 18 31 19-1 18 9 19 52 18 39 19-24 18 0 19-14 18 27 19 29 18-48 19 67 18-46 19 72 18 17 19 39 18-55 19 36"/><path d="M2288 11709l15 5 15-51 14-17 15-31 15 10 15-28 15-23 14-29 15-17 15-12 15-36 15-16 14-16 15-31 15-7 15-42 15-16 14-29 15-23 15-24 15-24 15-24 14-23 15-23 15-22 15-21 15-20 14-19 15-19 15-19 15-20 15-21 15-22 14-22 15-22 59-112 60-145 59-120 59-92 59-81 59-68 60-69 59-90 59-108 59-129 59-143 60-155 59-154 59-150 59-141 59-129 60-117 59-127 59-141 59-130 59-94 60-72 59-71 59-69 59-61 59-54 60-49 59-47 59-44 59-43 60-44 59-46 59-47 59-48 59-51 60-55 59-60 59-62 59-64 59-63 60-61 59-56 59-52 59-50 59-46 60-43 59-40 59-36 59-33 59-30 60-28 59-25 59-21 59-17 59-16 60-15 59-16 59-19 59-20 60-21 59-21 59-20 59-19 59-16 60-16 59-16 59-15 59-15 59-15 60-14 59-13 59-11 59-11 59-12 60-12 59-13 59-13 59-14 59-13 60-14 59-13 59-14 59-14 60-14 59-13 59-14 59-13 59-13 60-13 59-13 59-12 59-12 59-12 60-12 59-12 59-12 59-12 59-11 60-12 59-11 59-11 59-11 59-11 60-10 59-9 59-9 59-10 59-10 60-11 59-12 59-12 59-11 60-10 59-10 59-8 59-6 15-2 30-2 29-1 30-1 29 0 30 0 30 1 29 3 30 8 29 12 30 15 30 16 29 22 30 34 29 37 30 28 30 8 29-9 30-16 29-19 30-28 30-31 29-23 30-11 29-10 30-8 30-8 29-8 30-7 29-6 30-6 30-5 29-5 15-2 74-10 74-8 74-7 74-5 74-6 74-6 74-7 74-7 74-8 74-7 74-7 74-7 74-7 74-7 74-6 74-6 74-6 74-5 74-5 74-5 74-4 74-3 74-4 74-2 74-3 74-3 74-3 74-2 74-2 74-2 74-1 74-1 74 0 74 0 74 0 74 0 74 1 74 0 30 1 30 4 29 14 30 18 29 18 30 17 30 19 29 23 30 37 29 46 30 46 30 41 29 32 30 19 29 4 30-5 30-9 29-12 30-14 29-14 30-15 30-12 29-15 30-16 29-17 30-18 30-19 29-19 30-19 29-18 30-17 30-16 29-16 30-15 30-14 59-30 59-29 59-26 59-23 60-19 59-13 59-10 59-7 59-7 60-6 59-7 59-8 59-10 59-16 60-21 59-18 59-7 30 2 29 7 30 11 29 12 30 14 30 18 29 26 30 31 29 34 30 34 30 31 29 33 30 37 29 39 30 37 30 31 29 23 30 11 29-3 30-18 30-26 29-30 30-27 30-21 29-20 30-19 29-20 30-20 30-19 29-18 30-17 59-31 59-25 59-17 60-7 59 0 59 6 59 7 59 8 60 5 59 0 18-1 19-2 18-1 19 0 18-2 19-3 18 0 19 0 18-4 19 0 18-2 19-4 18-4 19 4 18-11 19 1 18 3 19-8 18 12 19-4 18-4 19 26 18-4 19-8 18 6 19 3 18 4 19 22 18-3 19 17 18-14 19 8 18 1 19 29 18 3 19 33 18-65 19 56 18 11 19-3 18 28 19-34 18 61 19 48 18-8 19-92 18 72 19 61 18-14 19-33 18 82 19-64 18 53 19-29 18 43 19 23 18 48 19 46 18-80 19 82 18-55 19 65 18 2 19 10"/><path d="M2288 11695l15-12 15-50 14 2 15-31 15-20 15-18 15-19 14-3 15-20 15-45 15-16 15-27 14-17 15-28 15-21 15-25 15-25 14-24 15-23 15-25 15-24 15-24 14-23 15-23 15-22 15-21 15-20 14-20 15-19 15-19 15-20 15-21 15-21 14-22 15-23 59-111 60-146 59-121 59-92 59-80 59-69 60-68 59-90 59-108 59-130 59-142 60-156 59-154 59-150 59-140 59-128 60-117 59-125 59-140 59-129 59-94 60-71 59-70 59-69 59-61 59-53 60-48 59-46 59-42 59-43 60-43 59-45 59-47 59-47 59-51 60-55 59-60 59-62 59-64 59-63 60-60 59-56 59-53 59-49 59-47 60-43 59-40 59-36 59-33 59-31 60-28 59-26 59-21 59-18 59-15 60-16 59-17 59-19 59-21 60-21 59-21 59-21 59-19 59-17 60-16 59-16 59-16 59-15 59-15 60-15 59-12 59-12 59-11 59-12 60-13 59-13 59-14 59-14 59-13 60-15 59-14 59-14 59-15 60-14 59-14 59-15 59-14 59-14 60-14 59-14 59-13 59-13 59-13 60-13 59-14 59-13 59-13 59-13 60-13 59-13 59-12 59-12 59-12 60-12 59-11 59-10 59-11 59-12 60-12 59-13 59-13 59-13 60-11 59-11 59-9 59-7 15-2 30-2 29-2 30-1 29-1 30 0 30 2 29 2 30 8 29 12 30 15 30 16 29 21 30 35 29 36 30 28 30 9 29-9 30-17 29-18 30-28 30-31 29-24 30-10 29-10 30-8 30-8 29-7 30-6 29-6 30-6 30-4 29-5 15-2 74-9 74-6 74-5 74-5 74-4 74-4 74-5 74-5 74-6 74-5 74-5 74-5 74-5 74-5 74-4 74-4 74-4 74-4 74-3 74-4 74-3 74-2 74-2 74-2 74-2 74-3 74-2 74-3 74-2 74-2 74-2 74-1 74-1 74-1 74-1 74-1 74-1 74 0 30 0 30 3 29 14 30 17 29 18 30 17 30 18 29 23 30 36 29 45 30 46 30 41 29 31 30 19 29 3 30-5 30-10 29-12 30-15 29-15 30-15 30-13 29-15 30-16 29-18 30-19 30-19 29-19 30-19 29-19 30-18 30-17 29-16 30-15 30-15 59-30 59-29 59-27 59-24 60-19 59-13 59-10 59-7 59-7 60-6 59-6 59-8 59-10 59-16 60-20 59-17 59-7 30 3 29 7 30 11 29 13 30 14 30 19 29 26 30 32 29 34 30 35 30 32 29 34 30 38 29 40 30 38 30 32 29 24 30 12 29-2 30-17 30-26 29-29 30-26 30-20 29-19 30-19 29-19 30-19 30-18 29-17 30-17 59-29 59-24 59-15 60-6 59 1 59 6 59 9 59 8 60 5 59 1 18-1 19-2 18-1 19-1 18-1 19-2 18 0 19-1 18-3 19-2 18-2 19 0 18-7 19 6 18-10 19 1 18-1 19-3 18-11 19 3 18 0 19 19 18-14 19 9 18 9 19-1 18 17 19 10 18 6 19-11 18 29 19-29 18 35 19 16 18 0 19-12 18-6 19 73 18-1 19-36 18 21 19 40 18-35 19 90 18-17 19-5 18 29 19-1 18 3 19 62 18-85 19 108 18-4 19-14 18-1 19 3 18 30 19-20 18 0 19 46 18 25 19 7 18-56 19-4"/><path d="M2288 11680l15-41 15 24 14-47 15-10 15-13 15-39 15-14 14-6 15-16 15-35 15-7 15-27 14-27 15-34 15-14 15-22 15-28 14-25 15-24 15-26 15-24 15-25 14-23 15-23 15-22 15-21 15-20 14-20 15-19 15-19 15-20 15-22 15-21 14-22 15-23 59-112 60-146 59-122 59-93 59-81 59-69 60-69 59-91 59-109 59-132 59-144 60-157 59-155 59-152 59-141 59-128 60-117 59-126 59-139 59-130 59-94 60-72 59-71 59-69 59-61 59-54 60-48 59-45 59-43 59-42 60-43 59-45 59-46 59-47 59-51 60-55 59-60 59-62 59-64 59-62 60-61 59-55 59-53 59-49 59-46 60-43 59-39 59-36 59-34 59-31 60-28 59-26 59-22 59-19 59-16 60-16 59-18 59-20 59-22 60-23 59-22 59-22 59-20 59-18 60-18 59-17 59-17 59-17 59-16 60-15 59-14 59-12 59-12 59-13 60-14 59-14 59-14 59-15 59-14 60-15 59-15 59-14 59-15 60-15 59-15 59-14 59-15 59-14 60-14 59-14 59-13 59-13 59-13 60-13 59-13 59-13 59-12 59-13 60-13 59-12 59-12 59-11 59-11 60-11 59-10 59-10 59-10 59-11 60-12 59-12 59-12 59-12 60-11 59-9 59-9 59-6 15-2 30-2 29-1 30-1 29 0 30 0 30 2 29 3 30 7 29 13 30 15 30 16 29 22 30 35 29 37 30 28 30 9 29-9 30-16 29-19 30-27 30-32 29-23 30-11 29-9 30-8 30-8 29-7 30-7 29-5 30-6 30-5 29-4 15-2 74-9 74-7 74-5 74-4 74-5 74-4 74-6 74-6 74-6 74-6 74-5 74-6 74-6 74-5 74-5 74-5 74-5 74-4 74-4 74-4 74-4 74-3 74-3 74-2 74-3 74-2 74-3 74-3 74-2 74-2 74-2 74-1 74 0 74-1 74-1 74 0 74-1 74 0 30 0 30 4 29 14 30 17 29 17 30 15 30 17 29 21 30 35 29 43 30 44 30 40 29 29 30 19 29 3 30-5 30-10 29-12 30-14 29-15 30-15 30-13 29-15 30-16 29-17 30-18 30-19 29-19 30-19 29-18 30-17 30-17 29-16 30-14 30-15 59-29 59-29 59-26 59-23 60-18 59-13 59-9 59-7 59-6 60-6 59-6 59-7 59-10 59-16 60-20 59-18 59-7 30 3 29 7 30 10 29 13 30 13 30 19 29 27 30 31 29 34 30 35 30 32 29 33 30 38 29 39 30 38 30 32 29 23 30 12 29-3 30-17 30-27 29-29 30-27 30-21 29-19 30-20 29-19 30-19 30-19 29-18 30-17 59-30 59-24 59-16 60-6 59 1 59 6 59 9 59 9 60 6 59 1 18-1 19 0 18-2 19 0 18-1 19-2 18-1 19-2 18-1 19-1 18-3 19 1 18-5 19 3 18 2 19-13 18 6 19 6 18-6 19-7 18-6 19 15 18 6 19 0 18-3 19 21 18-17 19 26 18 8 19-3 18 8 19-8 18 18 19 16 18 10 19 14 18-5 19 14 18-1 19 21 18 41 19-10 18 10 19 34 18-8 19 26 18 17 19-59 18 100 19-77 18 83 19-10 18-34 19 25 18 23 19-51 18 76 19 13 18 13 19 45 18-10 19 39 18-25 19 24"/><path d="M2288 11640l15-10 15 16 14-43 15 8 15-31 15-29 15-19 14-29 15-12 15-23 15-36 15 1 14-34 15-29 15-9 15-37 15-19 14-23 15-25 15-24 15-25 15-24 14-23 15-23 15-23 15-21 15-20 14-19 15-19 15-19 15-20 15-21 15-22 14-21 15-23 59-112 60-147 59-122 59-93 59-81 59-69 60-69 59-91 59-110 59-132 59-145 60-158 59-156 59-152 59-141 59-128 60-116 59-125 59-140 59-130 59-93 60-72 59-72 59-69 59-61 59-53 60-48 59-45 59-43 59-41 60-43 59-45 59-46 59-47 59-51 60-55 59-60 59-63 59-64 59-63 60-60 59-56 59-52 59-49 59-46 60-43 59-40 59-36 59-34 59-31 60-29 59-26 59-22 59-19 59-16 60-16 59-18 59-21 59-21 60-23 59-23 59-21 59-20 59-18 60-18 59-17 59-17 59-16 59-16 60-15 59-14 59-12 59-12 59-13 60-13 59-14 59-14 59-15 59-14 60-15 59-15 59-15 59-15 60-15 59-15 59-14 59-15 59-15 60-14 59-14 59-14 59-13 59-13 60-14 59-13 59-13 59-13 59-14 60-13 59-12 59-13 59-12 59-12 60-11 59-11 59-10 59-11 59-12 60-12 59-13 59-12 59-13 60-11 59-10 59-9 59-7 15-2 30-2 29-2 30-1 29 0 30 0 30 1 29 3 30 8 29 12 30 15 30 16 29 22 30 34 29 37 30 28 30 9 29-9 30-17 29-19 30-27 30-32 29-24 30-11 29-9 30-9 30-7 29-8 30-6 29-6 30-6 30-5 29-4 15-2 74-9 74-7 74-6 74-4 74-5 74-4 74-6 74-6 74-6 74-6 74-6 74-6 74-6 74-5 74-6 74-5 74-5 74-4 74-5 74-3 74-4 74-3 74-3 74-3 74-2 74-3 74-3 74-3 74-3 74-2 74-1 74-1 74-1 74 0 74-1 74 0 74 0 74 0 30 0 30 4 29 13 30 15 29 12 30 9 30 9 29 12 30 25 29 34 30 36 30 32 29 24 30 15 29 1 30-5 30-9 29-12 30-14 29-14 30-14 30-12 29-14 30-15 29-16 30-16 30-18 29-17 30-17 29-16 30-16 30-14 29-14 30-12 30-13 59-25 59-24 59-21 59-18 60-14 59-8 59-4 59-2 59-2 60-1 59-2 59-4 59-7 59-12 60-18 59-15 59-6 30 4 29 7 30 11 29 13 30 14 30 18 29 26 30 31 29 33 30 34 30 31 29 32 30 36 29 38 30 36 30 31 29 21 30 10 29-5 30-20 30-29 29-32 30-30 30-24 29-22 30-22 29-23 30-22 30-21 29-21 30-20 59-36 59-29 59-20 60-11 59-2 59 3 59 6 59 7 60 5 59 2 18-1 19 0 18-1 19-1 18 0 19-1 18 0 19 0 18-4 19 0 18-1 19 4 18-2 19 2 18-8 19-6 18-1 19 9 18 10 19-8 18-6 19 6 18 2 19 19 18-2 19-9 18 26 19 8 18 13 19-3 18 17 19-3 18 20 19-10 18 43 19-21 18-24 19 76 18-2 19 26 18-23 19 25 18-5 19 6 18 38 19-21 18 44 19 26 18 10 19-29 18 30 19 37 18 1 19 37 18 38 19-29 18-15 19 40 18 0 19 39 18 81 19-24 18-70 19 57"/><path d="M2288 11693l15-51 15 8 14-55 15-38 15 10 15-7 15-65 14 7 15-19 15-45 15 1 15-14 14-24 15-38 15-28 15-24 15-23 14-20 15-28 15-24 15-25 15-24 14-24 15-23 15-23 15-21 15-20 14-20 15-19 15-19 15-21 15-21 15-22 14-22 15-22 59-114 60-148 59-123 59-94 59-83 59-69 60-70 59-92 59-111 59-133 59-146 60-160 59-157 59-153 59-141 59-129 60-115 59-125 59-139 59-130 59-93 60-72 59-71 59-70 59-61 59-52 60-47 59-44 59-41 59-40 60-42 59-43 59-45 59-47 59-50 60-55 59-59 59-62 59-62 59-62 60-60 59-54 59-52 59-48 59-45 60-42 59-39 59-35 59-33 59-31 60-28 59-25 59-22 59-18 59-16 60-16 59-17 59-20 59-22 60-22 59-22 59-22 59-20 59-18 60-18 59-17 59-17 59-16 59-17 60-15 59-14 59-13 59-13 59-14 60-14 59-15 59-15 59-15 59-16 60-16 59-16 59-16 59-16 60-16 59-17 59-16 59-16 59-16 60-15 59-16 59-15 59-15 59-14 60-15 59-15 59-14 59-15 59-14 60-14 59-14 59-14 59-13 59-13 60-12 59-12 59-11 59-11 59-13 60-13 59-13 59-13 59-12 60-12 59-11 59-9 59-7 15-1 30-2 29-2 30-1 29 0 30 0 30 2 29 3 30 8 29 12 30 15 30 17 29 22 30 34 29 38 30 28 30 9 29-8 30-17 29-18 30-27 30-32 29-23 30-11 29-9 30-8 30-7 29-7 30-6 29-5 30-5 30-5 29-4 15-2 74-7 74-6 74-4 74-3 74-3 74-4 74-4 74-5 74-5 74-5 74-5 74-4 74-5 74-5 74-4 74-5 74-4 74-4 74-4 74-4 74-4 74-3 74-3 74-3 74-3 74-3 74-4 74-3 74-4 74-3 74-3 74-2 74-1 74-2 74-2 74-2 74-2 74-1 30-1 30 3 29 14 30 14 29 12 30 9 30 9 29 13 30 24 29 34 30 36 30 32 29 25 30 14 29 1 30-6 30-10 29-13 30-15 29-15 30-15 30-14 29-14 30-17 29-17 30-18 30-19 29-19 30-19 29-18 30-17 30-16 29-16 30-14 30-14 59-29 59-28 59-26 59-22 60-17 59-11 59-8 59-6 59-5 60-4 59-4 59-6 59-9 59-14 60-19 59-17 59-6 30 3 29 8 30 11 29 13 30 14 30 19 29 27 30 33 29 35 30 35 30 33 29 34 30 38 29 40 30 38 30 33 29 24 30 12 29-3 30-18 30-27 29-30 30-27 30-21 29-20 30-21 29-20 30-19 30-19 29-19 30-17 59-31 59-24 59-16 60-6 59 2 59 7 59 10 59 10 60 8 59 4 18 0 19 0 18 0 19-1 18 1 19 0 18-1 19 0 18 1 19-2 18-3 19-1 18 1 19 1 18-6 19 16 18-10 19 14 18-14 19-15 18 12 19 25 18-7 19 20 18-33 19 15 18 10 19 13 18 12 19 15 18 31 19-44 18 41 19-6 18 2 19 40 18-9 19 16 18 11 19 6 18 54 19 4 18 8 19 18 18-18 19 47 18-13 19-2 18-7 19 56 18-22 19 41 18 23 19-97 18 126 19 7 18 50 19-34 18-36 19 49 18 44 19-15 18-37 19 88"/><path d="M2288 11631l15-4 15-25 14-47 15 3 15-7 15-16 15-44 14-13 15-3 15-29 15-38 15-11 14-20 15-27 15-13 15-33 15-29 14-23 15-27 15-24 15-25 15-24 14-24 15-23 15-22 15-21 15-21 14-19 15-19 15-19 15-21 15-21 15-21 14-22 15-23 59-112 60-148 59-123 59-93 59-82 59-69 60-69 59-91 59-110 59-133 59-145 60-159 59-156 59-153 59-141 59-127 60-115 59-123 59-139 59-129 59-93 60-71 59-71 59-69 59-60 59-53 60-46 59-44 59-41 59-40 60-41 59-44 59-45 59-46 59-51 60-55 59-60 59-62 59-63 59-62 60-60 59-56 59-51 59-49 59-45 60-43 59-40 59-36 59-34 59-31 60-29 59-26 59-22 59-19 59-16 60-17 59-18 59-20 59-22 60-23 59-23 59-22 59-20 59-18 60-18 59-18 59-17 59-17 59-16 60-15 59-14 59-13 59-13 59-13 60-14 59-15 59-15 59-15 59-16 60-15 59-16 59-16 59-16 60-15 59-16 59-16 59-16 59-15 60-16 59-15 59-15 59-14 59-14 60-15 59-14 59-15 59-14 59-14 60-14 59-14 59-14 59-13 59-13 60-12 59-12 59-11 59-11 59-13 60-13 59-13 59-13 59-13 60-12 59-11 59-9 59-7 15-1 30-3 29-2 30-1 29 0 30 0 30 2 29 2 30 8 29 12 30 16 30 16 29 22 30 35 29 37 30 28 30 9 29-8 30-17 29-18 30-28 30-32 29-23 30-11 29-9 30-8 30-7 29-7 30-6 29-6 30-5 30-5 29-4 15-2 74-7 74-6 74-5 74-3 74-3 74-4 74-4 74-5 74-5 74-5 74-5 74-5 74-4 74-5 74-5 74-4 74-5 74-4 74-4 74-4 74-3 74-4 74-3 74-3 74-3 74-3 74-4 74-4 74-4 74-3 74-3 74-2 74-2 74-2 74-2 74-2 74-2 74-2 30 0 30 3 29 13 30 14 29 13 30 9 30 10 29 12 30 25 29 34 30 36 30 33 29 24 30 15 29 0 30-5 30-10 29-13 30-15 29-16 30-15 30-14 29-15 30-17 29-18 30-19 30-19 29-19 30-20 29-19 30-18 30-17 29-16 30-15 30-15 59-31 59-29 59-28 59-24 60-19 59-13 59-10 59-7 59-6 60-6 59-6 59-7 59-10 59-15 60-20 59-17 59-7 30 4 29 7 30 11 29 14 30 14 30 20 29 27 30 33 29 36 30 37 30 33 29 35 30 40 29 41 30 39 30 34 29 26 30 13 29-2 30-17 30-26 29-29 30-26 30-20 29-19 30-19 29-19 30-19 30-18 29-17 30-16 59-29 59-22 59-14 60-4 59 3 59 9 59 11 59 10 60 9 59 3 18 0 19 0 18-1 19 1 18-1 19-1 18-1 19 1 18 0 19-3 18 0 19 2 18 0 19-5 18-1 19 8 18-6 19-12 18 8 19 10 18-13 19 19 18 5 19-4 18-6 19 32 18-13 19 27 18 3 19-14 18 33 19-23 18 49 19 9 18 6 19-17 18 21 19 11 18 1 19 5 18 8 19 8 18 19 19 20 18 37 19-4 18 3 19-17 18 38 19 53 18-27 19 26 18 12 19 16 18 54 19-30 18-16 19 77 18-90 19 45 18-2 19 6 18 65 19 54"/><path d="M2288 11638l15-9 15-25 14-30 15-30 15-41 15 17 15-34 14-22 15 13 15-56 15-11 15-14 14-28 15-36 15-9 15-33 15-20 14-29 15-25 15-25 15-24 15-25 14-24 15-23 15-22 15-22 15-20 14-19 15-20 15-19 15-20 15-21 15-22 14-22 15-23 59-113 60-149 59-124 59-94 59-82 59-70 60-70 59-92 59-112 59-134 59-147 60-161 59-158 59-154 59-141 59-128 60-114 59-124 59-138 59-130 59-93 60-71 59-72 59-70 59-60 59-52 60-47 59-43 59-40 59-39 60-41 59-43 59-44 59-46 59-50 60-55 59-60 59-62 59-62 59-62 60-59 59-55 59-51 59-48 59-45 60-42 59-39 59-36 59-34 59-31 60-29 59-25 59-23 59-18 59-16 60-17 59-17 59-21 59-22 60-23 59-23 59-22 59-20 59-19 60-19 59-17 59-18 59-17 59-17 60-16 59-14 59-14 59-14 59-14 60-15 59-15 59-16 59-16 59-17 60-16 59-17 59-17 59-17 60-17 59-16 59-17 59-17 59-16 60-17 59-16 59-15 59-16 59-15 60-15 59-15 59-15 59-15 59-15 60-14 59-15 59-14 59-13 59-13 60-13 59-12 59-11 59-11 59-13 60-13 59-13 59-14 59-12 60-12 59-11 59-9 59-7 15-1 30-2 29-2 30-1 29 0 30 0 30 2 29 3 30 8 29 12 30 15 30 17 29 22 30 35 29 37 30 29 30 9 29-8 30-17 29-18 30-28 30-32 29-24 30-10 29-9 30-8 30-7 29-7 30-6 29-6 30-5 30-5 29-4 15-2 74-7 74-6 74-5 74-3 74-4 74-3 74-5 74-5 74-6 74-5 74-5 74-6 74-5 74-5 74-5 74-5 74-5 74-4 74-5 74-4 74-4 74-4 74-3 74-3 74-3 74-4 74-4 74-3 74-4 74-3 74-3 74-2 74-1 74-2 74-1 74-2 74-1 74-1 30 0 30 3 29 13 30 12 29 7 30 3 30 1 29 3 30 15 29 24 30 27 30 24 29 19 30 10 29-1 30-5 30-10 29-13 30-15 29-15 30-15 30-14 29-14 30-17 29-17 30-18 30-19 29-19 30-18 29-18 30-17 30-17 29-15 30-15 30-14 59-29 59-28 59-26 59-22 60-18 59-11 59-8 59-6 59-5 60-4 59-5 59-7 59-9 59-14 60-20 59-18 59-7 30 4 29 7 30 11 29 13 30 14 30 20 29 29 30 34 29 38 30 38 30 35 29 37 30 43 29 43 30 43 30 36 29 29 30 16 29 0 30-14 30-23 29-26 30-24 30-17 29-16 30-16 29-16 30-16 30-15 29-15 30-13 59-24 59-19 59-10 60-2 59 5 59 8 59 9 59 8 60 4 59-3 18-2 19-3 18-3 19-4 18-3 19-2 18-5 19-3 18-5 19-5 18-1 19-2 18-13 19 3 18-1 19 1 18-20 19 15 18-18 19-4 18 7 19 1 18-3 19 10 18 4 19 3 18-11 19 3 18 11 19 9 18-29 19 24 18 19 19-2 18 37 19-39 18 1 19-2 18 25 19 61 18-30 19-3 18 17 19 9 18-9 19 23 18 14 19-17 18 49 19-50 18 29 19 34 18 1 19-42 18 70 19-26 18 38 19 35 18-13 19-24 18 9 19-8 18 11 19-61"/><path d="M2288 11633l15-65 15 30 14-14 15-48 15-11 15-5 15-32 14-16 15-24 15-3 15-58 15-3 14-19 15-20 15-28 15-29 15-26 14-30 15-21 15-26 15-25 15-24 14-24 15-23 15-23 15-21 15-20 14-19 15-19 15-20 15-20 15-21 15-21 14-22 15-23 59-113 60-149 59-124 59-94 59-82 59-70 60-69 59-93 59-111 59-135 59-147 60-161 59-158 59-154 59-142 59-128 60-113 59-123 59-139 59-129 59-93 60-72 59-73 59-70 59-60 59-52 60-47 59-43 59-40 59-40 60-41 59-42 59-45 59-47 59-50 60-56 59-60 59-63 59-64 59-62 60-60 59-55 59-52 59-48 59-46 60-43 59-40 59-37 59-34 59-32 60-29 59-27 59-22 59-19 59-17 60-17 59-18 59-21 59-23 60-23 59-23 59-22 59-21 59-19 60-18 59-18 59-17 59-17 59-17 60-15 59-14 59-14 59-13 59-13 60-15 59-15 59-15 59-15 59-16 60-16 59-16 59-16 59-16 60-16 59-16 59-16 59-15 59-16 60-16 59-15 59-15 59-14 59-14 60-15 59-14 59-15 59-14 59-14 60-14 59-14 59-13 59-13 59-13 60-12 59-12 59-11 59-12 59-12 60-13 59-14 59-13 59-13 60-12 59-11 59-9 59-8 15-1 30-3 29-2 30-1 29-1 30 1 30 1 29 2 30 8 29 12 30 15 30 16 29 22 30 34 29 37 30 29 30 8 29-8 30-17 29-19 30-29 30-32 29-24 30-11 29-9 30-9 30-8 29-7 30-7 29-6 30-5 30-5 29-5 15-2 74-9 74-7 74-5 74-5 74-5 74-4 74-6 74-6 74-6 74-7 74-6 74-6 74-6 74-5 74-6 74-5 74-5 74-5 74-5 74-4 74-4 74-4 74-3 74-3 74-3 74-4 74-3 74-3 74-4 74-3 74-2 74-1 74-1 74-1 74-2 74-1 74 0 74-1 30 0 30 4 29 13 30 12 29 8 30 3 30 2 29 4 30 16 29 24 30 28 30 26 29 19 30 10 29 0 30-6 30-9 29-13 30-15 29-16 30-14 30-14 29-15 30-16 29-17 30-19 30-18 29-19 30-19 29-18 30-17 30-17 29-16 30-14 30-15 59-29 59-28 59-27 59-22 60-18 59-12 59-9 59-6 59-5 60-5 59-5 59-7 59-10 59-14 60-21 59-17 59-7 30 3 29 8 30 10 29 13 30 15 30 20 29 29 30 34 29 38 30 39 30 35 29 38 30 42 29 44 30 43 30 37 29 29 30 16 29 1 30-14 30-22 29-26 30-24 30-16 29-16 30-16 29-16 30-15 30-15 29-14 30-14 59-23 59-18 59-9 60-1 59 5 59 9 59 10 59 9 60 4 59-2 18-3 19-2 18-4 19-3 18-2 19-4 18-5 19-4 18-1 19-1 18-5 19-3 18-6 19-4 18-13 19 7 18-12 19 9 18-13 19 6 18 2 19-11 18-2 19 19 18-11 19 4 18-4 19 12 18-15 19 12 18 24 19-1 18 3 19 9 18 17 19-2 18 17 19-5 18-13 19 4 18 27 19-3 18 10 19 6 18-7 19 24 18-15 19 9 18-20 19 72 18-3 19 40 18-50 19 40 18 56 19-82 18 51 19-33 18 89 19 13 18-53 19-27 18 109 19-62"/><path d="M2288 11664l15-55 15-58 14-16 15 9 15-37 15-21 15-14 14-31 15-3 15-17 15-27 15-28 14-32 15-29 15-15 15-26 15-30 14-22 15-22 15-27 15-25 15-24 14-24 15-23 15-23 15-21 15-21 14-19 15-19 15-20 15-20 15-21 15-22 14-22 15-22 59-114 60-150 59-125 59-94 59-83 59-70 60-70 59-92 59-113 59-135 59-148 60-162 59-159 59-155 59-141 59-127 60-113 59-122 59-138 59-129 59-92 60-72 59-72 59-70 59-61 59-52 60-47 59-44 59-40 59-40 60-42 59-43 59-45 59-46 59-51 60-55 59-59 59-62 59-62 59-60 60-58 59-53 59-50 59-46 59-45 60-41 59-39 59-37 59-34 59-32 60-29 59-27 59-22 59-19 59-17 60-17 59-18 59-21 59-23 60-23 59-23 59-22 59-21 59-19 60-19 59-17 59-18 59-17 59-17 60-16 59-14 59-14 59-13 59-14 60-15 59-16 59-16 59-16 59-16 60-16 59-17 59-17 59-16 60-17 59-17 59-17 59-16 59-17 60-16 59-16 59-16 59-15 59-16 60-15 59-16 59-15 59-15 59-16 60-15 59-14 59-15 59-14 59-14 60-13 59-13 59-13 59-12 59-14 60-14 59-14 59-15 59-14 60-13 59-12 59-10 59-9 15-1 30-3 29-3 30-1 29-1 30 0 30 0 29 2 30 8 29 11 30 15 30 16 29 21 30 35 29 36 30 28 30 9 29-9 30-17 29-20 30-28 30-33 29-25 30-11 29-9 30-9 30-8 29-8 30-7 29-6 30-5 30-5 29-5 15-2 74-9 74-7 74-5 74-5 74-4 74-4 74-5 74-5 74-6 74-5 74-5 74-5 74-5 74-4 74-5 74-4 74-3 74-4 74-3 74-3 74-2 74-2 74-2 74-1 74-2 74-1 74-2 74-2 74-2 74-2 74-1 74 0 74 0 74 0 74 0 74 0 74 0 74 0 30 0 30 4 29 14 30 12 29 9 30 5 30 4 29 4 30 18 29 26 30 30 30 26 29 21 30 11 29-1 30-5 30-10 29-13 30-15 29-16 30-15 30-14 29-16 30-16 29-18 30-19 30-19 29-20 30-19 29-19 30-19 30-17 29-17 30-15 30-15 59-32 59-30 59-29 59-24 60-21 59-14 59-11 59-8 59-7 60-7 59-8 59-9 59-11 59-17 60-22 59-19 59-8 30 2 29 7 30 10 29 12 30 14 30 20 29 28 30 34 29 37 30 37 30 35 29 37 30 41 29 43 30 42 30 36 29 28 30 15 29-1 30-15 30-25 29-27 30-25 30-19 29-17 30-18 29-17 30-17 30-17 29-15 30-15 59-27 59-20 59-12 60-3 59 3 59 8 59 9 59 8 60 4 59-3 18-2 19-2 18-3 19-2 18-4 19-3 18-3 19-2 18-6 19-2 18-1 19-4 18-4 19-14 18 6 19-4 18 0 19-11 18 6 19-2 18-6 19-1 18 10 19 8 18-12 19 2 18-6 19 20 18 18 19-28 18-3 19 42 18-1 19 22 18 11 19-21 18-1 19 70 18-30 19 22 18-1 19-17 18-26 19 46 18 74 19-60 18 19 19 53 18 2 19-39 18-13 19 22 18 50 19-5 18 47 19-34 18 18 19 53 18-32 19-24 18 41 19-52 18 38 19 14"/><path d="M2288 11595l15-31 15 4 14-48 15-18 15 17 15-66 15-15 14-2 15-24 15-13 15-31 15-24 14-11 15-33 15-31 15-14 15-22 14-28 15-26 15-26 15-25 15-25 14-24 15-23 15-23 15-22 15-20 14-19 15-20 15-19 15-21 15-21 15-21 14-22 15-23 59-115 60-151 59-126 59-95 59-83 59-71 60-71 59-93 59-114 59-137 59-150 60-164 59-160 59-156 59-143 59-128 60-113 59-123 59-139 59-129 59-93 60-72 59-73 59-71 59-60 59-53 60-46 59-44 59-40 59-40 60-41 59-43 59-45 59-47 59-51 60-56 59-61 59-62 59-64 59-62 60-60 59-55 59-51 59-48 59-45 60-42 59-40 59-36 59-34 59-32 60-29 59-26 59-22 59-19 59-16 60-16 59-18 59-20 59-22 60-23 59-23 59-22 59-20 59-18 60-18 59-17 59-17 59-16 59-16 60-16 59-13 59-13 59-13 59-14 60-14 59-15 59-16 59-15 59-16 60-17 59-16 59-17 59-17 60-17 59-17 59-17 59-17 59-17 60-16 59-17 59-17 59-16 59-16 60-16 59-17 59-16 59-17 59-16 60-17 59-16 59-16 59-16 59-15 60-15 59-14 59-14 59-15 59-15 60-16 59-16 59-16 59-16 60-15 59-13 59-12 59-10 15-2 30-4 29-3 30-3 29-1 30-1 30 0 29 2 30 6 29 11 30 14 30 15 29 21 30 34 29 36 30 28 30 8 29-10 30-18 29-20 30-30 30-33 29-26 30-12 29-10 30-9 30-9 29-8 30-7 29-7 30-6 30-6 29-5 15-2 74-10 74-8 74-7 74-5 74-5 74-5 74-6 74-6 74-6 74-6 74-6 74-6 74-5 74-6 74-5 74-4 74-5 74-4 74-4 74-4 74-3 74-3 74-3 74-2 74-2 74-3 74-3 74-3 74-3 74-2 74-2 74-1 74-1 74-1 74-1 74-1 74-1 74-1 30 0 30 4 29 13 30 16 29 14 30 12 30 12 29 14 30 27 29 36 30 39 30 35 29 26 30 16 29 1 30-6 30-10 29-14 30-15 29-16 30-16 30-14 29-16 30-17 29-19 30-19 30-20 29-20 30-20 29-19 30-19 30-18 29-17 30-16 30-15 59-32 59-32 59-29 59-26 60-21 59-14 59-12 59-9 59-7 60-7 59-8 59-9 59-11 59-16 60-22 59-19 59-7 30 2 29 8 30 10 29 14 30 14 30 20 29 29 30 35 29 38 30 39 30 36 29 38 30 43 29 44 30 43 30 38 29 28 30 17 29 0 30-14 30-23 29-27 30-24 30-17 29-17 30-16 29-16 30-16 30-16 29-14 30-14 59-24 59-18 59-11 60-1 59 5 59 9 59 11 59 9 60 5 59-2 18-2 19-3 18-2 19-3 18-3 19-3 18-4 19-4 18-1 19-6 18-2 19-4 18-5 19 3 18-14 19 8 18-5 19 1 18 4 19-8 18 6 19-16 18 12 19 2 18 5 19-15 18 1 19 30 18-8 19 2 18-22 19 20 18 22 19-19 18 25 19 22 18-23 19 57 18-24 19 21 18-22 19 46 18 16 19-34 18 32 19 32 18-63 19 39 18-4 19 31 18-11 19 64 18-39 19-29 18 85 19-7 18-61 19 87 18 10 19-15 18-101 19 113 18-18 19 69"/><path d="M2288 11573l15-7 15-33 14 7 15-31 15-23 15-21 15-33 14-5 15-11 15-33 15-22 15-38 14-12 15-21 15-26 15-24 15-31 14-25 15-23 15-25 15-26 15-25 14-24 15-23 15-23 15-22 15-21 14-19 15-20 15-20 15-21 15-21 15-22 14-22 15-24 59-116 60-154 59-128 59-96 59-84 59-71 60-72 59-94 59-115 59-138 59-151 60-164 59-161 59-155 59-142 59-128 60-113 59-121 59-138 59-128 59-91 60-69 59-71 59-69 59-60 59-53 60-48 59-45 59-42 59-42 60-44 59-45 59-47 59-47 59-52 60-56 59-60 59-63 59-63 59-63 60-60 59-55 59-51 59-49 59-45 60-42 59-40 59-37 59-34 59-33 60-30 59-27 59-24 59-20 59-18 60-18 59-19 59-23 59-24 60-25 59-25 59-25 59-22 59-21 60-20 59-19 59-19 59-19 59-18 60-17 59-16 59-14 59-14 59-15 60-16 59-16 59-17 59-16 59-17 60-17 59-17 59-17 59-17 60-17 59-17 59-17 59-17 59-16 60-17 59-16 59-15 59-16 59-15 60-15 59-15 59-15 59-15 59-15 60-15 59-14 59-14 59-14 59-13 60-13 59-12 59-12 59-12 59-13 60-13 59-14 59-14 59-14 60-12 59-12 59-10 59-7 15-2 30-3 29-2 30-1 29-1 30 0 30 1 29 3 30 7 29 12 30 15 30 16 29 21 30 35 29 37 30 28 30 9 29-9 30-17 29-20 30-29 30-33 29-25 30-11 29-10 30-9 30-8 29-8 30-7 29-6 30-6 30-5 29-4 15-3 74-9 74-7 74-6 74-5 74-5 74-5 74-6 74-6 74-7 74-6 74-7 74-6 74-6 74-6 74-5 74-6 74-5 74-5 74-5 74-4 74-5 74-3 74-4 74-3 74-3 74-3 74-3 74-4 74-3 74-3 74-2 74-1 74-1 74-1 74-1 74-1 74 0 74-1 30 0 30 4 29 14 30 14 29 13 30 10 30 10 29 11 30 24 29 33 30 36 30 32 29 25 30 15 29 0 30-5 30-11 29-13 30-15 29-16 30-16 30-14 29-15 30-17 29-18 30-19 30-20 29-20 30-19 29-19 30-19 30-18 29-16 30-16 30-16 59-31 59-31 59-29 59-25 60-21 59-14 59-11 59-9 59-7 60-7 59-8 59-8 59-12 59-16 60-22 59-19 59-8 30 2 29 7 30 11 29 13 30 14 30 20 29 29 30 35 29 38 30 39 30 35 29 38 30 42 29 45 30 43 30 37 29 28 30 17 29 0 30-15 30-24 29-27 30-25 30-18 29-16 30-17 29-17 30-17 30-16 29-15 30-15 59-25 59-19 59-11 60-2 59 4 59 8 59 10 59 8 60 4 59-2 18-3 19-3 18-2 19-4 18-2 19-2 18-6 19-3 18-1 19-5 18-6 19-4 18 0 19-8 18-3 19-5 18 6 19-7 18-3 19 6 18-21 19 12 18 9 19-14 18 18 19 10 18 19 19-15 18-2 19-5 18 14 19 11 18-23 19 14 18 9 19-4 18 27 19 26 18-27 19 28 18 47 19-56 18 8 19 73 18 9 19-34 18 70 19-78 18 44 19 8 18-17 19 31 18-14 19 100 18-50 19 12 18 33 19-69 18 100 19-104 18 127 19-36 18 1 19 78"/><path d="M2288 11604l15-2 15-1 14-63 15-64 15 37 15-32 15-15 14-40 15-20 15-25 15-28 15-19 14-29 15-8 15-22 15-34 15-23 14-25 15-24 15-26 15-25 15-25 14-24 15-24 15-22 15-22 15-21 14-20 15-19 15-21 15-21 15-22 15-22 14-23 15-24 59-119 60-157 59-130 59-98 59-84 59-72 60-72 59-96 59-116 59-140 59-153 60-165 59-160 59-154 59-142 59-128 60-113 59-122 59-137 59-127 59-89 60-68 59-70 59-70 59-63 59-57 60-54 59-51 59-50 59-49 60-50 59-52 59-52 59-52 59-53 60-57 59-59 59-60 59-60 59-57 60-55 59-49 59-46 59-43 59-42 60-39 59-38 59-37 59-34 59-33 60-30 59-27 59-24 59-20 59-18 60-17 59-20 59-22 59-24 60-24 59-25 59-23 59-22 59-20 60-20 59-19 59-18 59-18 59-17 60-16 59-15 59-14 59-13 59-14 60-16 59-15 59-16 59-16 59-16 60-17 59-16 59-17 59-17 60-17 59-17 59-16 59-17 59-17 60-16 59-16 59-16 59-16 59-15 60-16 59-16 59-15 59-16 59-16 60-15 59-15 59-15 59-15 59-14 60-14 59-13 59-13 59-13 59-14 60-15 59-15 59-15 59-14 60-14 59-13 59-11 59-9 15-2 30-3 29-3 30-1 29-2 30 0 30 1 29 2 30 7 29 11 30 14 30 16 29 21 30 35 29 36 30 28 30 9 29-9 30-18 29-20 30-29 30-34 29-25 30-12 29-10 30-9 30-8 29-8 30-7 29-6 30-6 30-5 29-5 15-2 74-10 74-7 74-6 74-4 74-4 74-5 74-5 74-6 74-5 74-6 74-5 74-5 74-5 74-5 74-4 74-4 74-4 74-4 74-3 74-3 74-3 74-2 74-2 74-2 74-2 74-2 74-3 74-2 74-2 74-2 74-2 74 0 74-1 74 0 74-1 74 0 74-1 74 0 30 0 30 3 29 14 30 13 29 10 30 6 30 5 29 6 30 18 29 27 30 31 30 28 29 22 30 11 29-1 30-5 30-11 29-13 30-16 29-16 30-16 30-14 29-16 30-17 29-18 30-19 30-20 29-20 30-19 29-20 30-18 30-18 29-17 30-16 30-15 59-32 59-31 59-29 59-26 60-20 59-15 59-11 59-9 59-7 60-7 59-8 59-8 59-12 59-16 60-23 59-19 59-8 30 2 29 7 30 11 29 12 30 14 30 20 29 29 30 35 29 38 30 39 30 35 29 38 30 42 29 44 30 43 30 37 29 29 30 15 29 0 30-15 30-25 29-27 30-26 30-18 29-18 30-17 29-18 30-17 30-17 29-16 30-15 59-26 59-20 59-12 60-3 59 3 59 8 59 9 59 7 60 4 59-3 18-2 19-3 18-2 19-4 18-4 19-2 18-2 19-6 18-2 19-2 18-8 19-3 18-1 19-9 18-3 19-2 18-4 19 10 18-14 19 7 18-21 19 18 18-13 19 16 18 4 19 1 18-9 19 11 18 3 19 28 18-1 19-25 18 36 19 13 18-17 19 36 18-30 19 31 18-13 19 18 18 35 19-33 18 21 19 20 18 12 19-38 18 26 19 48 18 16 19 23 18-19 19 50 18-76 19 80 18-19 19 73 18-33 19-49 18 68 19-3 18-22 19 10 18-19 19 61"/><path d="M2288 11563l15-4 15-27 14 11 15-31 15-50 15-29 15-12 14 0 15-30 15-32 15-16 15-18 14-26 15-14 15-38 15-29 15-20 14-27 15-26 15-24 15-26 15-25 14-24 15-24 15-22 15-22 15-21 14-20 15-20 15-20 15-21 15-22 15-23 14-23 15-24 59-119 60-158 59-131 59-97 59-85 59-72 60-71 59-96 59-117 59-140 59-152 60-164 59-159 59-153 59-141 59-126 60-113 59-121 59-136 59-126 59-89 60-67 59-69 59-70 59-62 59-56 60-52 59-51 59-48 59-48 60-49 59-51 59-51 59-51 59-53 60-55 59-58 59-59 59-59 59-57 60-53 59-49 59-45 59-42 59-40 60-39 59-38 59-36 59-34 59-33 60-30 59-27 59-24 59-19 59-18 60-18 59-20 59-22 59-24 60-25 59-25 59-24 59-22 59-21 60-20 59-19 59-19 59-18 59-18 60-17 59-16 59-14 59-15 59-15 60-16 59-16 59-17 59-17 59-17 60-17 59-18 59-17 59-18 60-18 59-17 59-18 59-18 59-17 60-17 59-17 59-17 59-16 59-16 60-16 59-17 59-16 59-16 59-16 60-16 59-15 59-16 59-14 59-15 60-14 59-13 59-13 59-13 59-15 60-14 59-16 59-15 59-14 60-14 59-12 59-11 59-9 15-2 30-3 29-3 30-1 29-1 30-1 30 1 29 2 30 7 29 12 30 14 30 16 29 21 30 35 29 37 30 28 30 8 29-9 30-17 29-20 30-29 30-34 29-25 30-12 29-9 30-9 30-9 29-7 30-7 29-6 30-6 30-5 29-5 15-2 74-9 74-7 74-6 74-4 74-4 74-4 74-5 74-6 74-6 74-5 74-5 74-6 74-5 74-4 74-5 74-4 74-4 74-4 74-3 74-4 74-2 74-3 74-2 74-2 74-2 74-2 74-3 74-2 74-2 74-2 74-2 74 0 74 0 74-1 74 0 74 0 74 0 74 0 30 0 30 4 29 13 30 14 29 10 30 7 30 4 29 6 30 18 29 28 30 31 30 28 29 22 30 12 29-1 30-5 30-11 29-13 30-15 29-17 30-15 30-15 29-15 30-17 29-19 30-19 30-20 29-20 30-20 29-19 30-19 30-18 29-18 30-16 30-16 59-32 59-32 59-30 59-27 60-21 59-16 59-12 59-10 59-8 60-8 59-8 59-10 59-12 59-17 60-23 59-20 59-8 30 2 29 7 30 11 29 13 30 14 30 20 29 29 30 35 29 39 30 39 30 37 29 37 30 43 29 46 30 43 30 38 29 29 30 16 29 0 30-14 30-24 29-27 30-25 30-18 29-17 30-17 29-17 30-16 30-16 29-16 30-14 59-26 59-19 59-11 60-2 59 4 59 8 59 10 59 8 60 3 59-2 18-3 19-3 18-4 19-2 18-3 19-5 18-4 19-5 18-2 19-2 18-8 19-2 18-1 19-2 18-6 19 1 18-14 19 8 18-12 19-5 18-10 19 30 18-23 19 18 18 2 19-11 18 9 19 15 18-4 19 13 18-4 19-8 18 5 19 14 18 18 19 1 18 7 19-11 18 9 19 33 18 15 19-26 18 4 19-14 18 48 19-27 18 82 19 1 18-31 19 39 18-16 19 17 18-16 19 14 18 46 19-35 18 31 19 11 18-54 19 51 18-32 19 45 18 2 19 32"/><path d="M2288 11544l15-26 15 24 14-29 15-17 15-24 15-23 15-16 14-20 15-41 15-18 15-27 15-18 14-30 15-26 15-14 15-40 15-18 14-22 15-28 15-24 15-26 15-25 14-24 15-24 15-23 15-21 15-21 14-20 15-19 15-20 15-21 15-22 15-22 14-22 15-24 59-117 60-156 59-130 59-98 59-85 59-72 60-73 59-97 59-118 59-143 59-153 60-164 59-157 59-151 59-138 59-126 60-115 59-123 59-141 59-131 59-94 60-73 59-74 59-73 59-65 59-56 60-52 59-49 59-46 59-46 60-47 59-48 59-50 59-50 59-53 60-57 59-58 59-60 59-59 59-56 60-54 59-48 59-45 59-42 59-40 60-39 59-38 59-36 59-35 59-33 60-31 59-27 59-24 59-20 59-18 60-18 59-19 59-23 59-24 60-25 59-24 59-24 59-22 59-21 60-19 59-19 59-19 59-18 59-18 60-16 59-15 59-15 59-14 59-14 60-16 59-16 59-17 59-16 59-17 60-18 59-17 59-17 59-18 60-18 59-17 59-18 59-18 59-17 60-17 59-17 59-17 59-16 59-17 60-16 59-17 59-16 59-17 59-16 60-16 59-16 59-15 59-16 59-15 60-14 59-14 59-13 59-14 59-14 60-15 59-16 59-15 59-15 60-15 59-12 59-12 59-9 15-2 30-3 29-3 30-2 29-1 30 0 30 1 29 2 30 7 29 11 30 14 30 16 29 22 30 34 29 37 30 28 30 9 29-9 30-18 29-19 30-30 30-34 29-25 30-11 29-10 30-9 30-8 29-7 30-7 29-6 30-6 30-5 29-4 15-2 74-9 74-6 74-5 74-4 74-3 74-4 74-4 74-5 74-5 74-5 74-5 74-4 74-4 74-5 74-4 74-4 74-3 74-4 74-3 74-3 74-3 74-3 74-2 74-2 74-2 74-3 74-3 74-3 74-3 74-2 74-2 74-2 74-1 74-1 74-1 74-2 74-1 74 0 30-1 30 4 29 13 30 13 29 10 30 6 30 4 29 5 30 17 29 27 30 30 30 28 29 21 30 12 29-1 30-6 30-11 29-14 30-16 29-16 30-17 30-15 29-16 30-18 29-19 30-20 30-21 29-21 30-21 29-21 30-20 30-19 29-18 30-18 30-17 59-35 59-35 59-32 59-29 60-24 59-18 59-14 59-12 59-10 60-10 59-9 59-11 59-14 59-18 60-23 59-20 59-9 30 3 29 7 30 11 29 13 30 15 30 20 29 31 30 36 29 40 30 41 30 38 29 39 30 45 29 47 30 45 30 40 29 30 30 19 29 1 30-13 30-22 29-26 30-23 30-16 29-16 30-15 29-15 30-15 30-14 29-14 30-13 59-22 59-15 59-8 60 1 59 8 59 11 59 12 59 10 60 6 59-2 18-2 19-2 18-3 19-3 18-2 19-5 18-1 19-5 18-6 19 1 18-8 19-3 18-4 19 0 18-4 19-6 18-4 19 2 18-18 19 17 18-10 19-5 18-8 19 24 18-4 19 0 18 9 19-7 18 3 19 29 18-13 19-12 18 0 19 32 18-10 19 18 18-1 19-4 18-9 19 73 18-1 19-17 18 21 19-27 18 20 19 38 18 15 19-42 18 79 19-66 18 44 19-37 18 54 19 25 18 24 19-67 18 87 19-34 18 4 19-3 18 54 19-93 18 111 19-30"/><path d="M2288 11560l15-31 15-10 14-50 15-21 15 15 15-57 15 7 14-27 15-11 15-50 15-14 15-16 14-25 15-26 15-24 15-26 15-30 14-28 15-25 15-24 15-26 15-25 14-25 15-24 15-23 15-22 15-21 14-20 15-20 15-20 15-20 15-22 15-22 14-23 15-24 59-118 60-157 59-131 59-98 59-86 59-73 60-73 59-98 59-119 59-144 59-154 60-163 59-155 59-150 59-136 59-125 60-114 59-123 59-142 59-131 59-95 60-73 59-75 59-73 59-65 59-56 60-51 59-48 59-45 59-44 60-45 59-47 59-49 59-49 59-52 60-56 59-58 59-58 59-58 59-56 60-52 59-47 59-44 59-41 59-39 60-38 59-37 59-37 59-34 59-33 60-31 59-27 59-24 59-20 59-18 60-18 59-20 59-22 59-24 60-25 59-25 59-25 59-22 59-21 60-20 59-20 59-18 59-19 59-18 60-18 59-15 59-15 59-15 59-15 60-17 59-17 59-17 59-17 59-18 60-18 59-18 59-18 59-18 60-18 59-19 59-18 59-18 59-18 60-18 59-17 59-17 59-17 59-17 60-17 59-17 59-17 59-16 59-17 60-16 59-17 59-16 59-15 59-15 60-15 59-14 59-14 59-14 59-15 60-15 59-16 59-16 59-16 60-14 59-13 59-12 59-10 15-2 30-3 29-3 30-3 29-1 30-1 30 1 29 1 30 7 29 11 30 14 30 15 29 21 30 34 29 37 30 28 30 8 29-10 30-19 29-20 30-30 30-35 29-27 30-12 29-11 30-9 30-10 29-8 30-8 29-7 30-7 30-6 29-6 15-2 74-12 74-10 74-8 74-7 74-6 74-8 74-8 74-8 74-9 74-8 74-9 74-8 74-8 74-8 74-7 74-7 74-7 74-7 74-6 74-6 74-6 74-5 74-4 74-4 74-4 74-4 74-4 74-4 74-4 74-3 74-2 74-2 74 0 74-1 74-1 74 0 74-1 74 0 30 0 30 3 29 14 30 14 29 12 30 9 30 7 29 8 30 20 29 30 30 34 30 31 29 24 30 13 29-1 30-6 30-10 29-14 30-16 29-16 30-16 30-14 29-16 30-17 29-18 30-19 30-19 29-20 30-19 29-20 30-18 30-18 29-16 30-16 30-16 59-31 59-31 59-28 59-25 60-20 59-14 59-11 59-8 59-7 60-6 59-7 59-8 59-11 59-16 60-22 59-20 59-8 30 3 29 7 30 10 29 13 30 14 30 20 29 30 30 35 29 39 30 40 30 36 29 38 30 43 29 46 30 43 30 38 29 29 30 16 29 0 30-15 30-25 29-28 30-25 30-19 29-18 30-18 29-17 30-17 30-17 29-16 30-15 59-27 59-19 59-12 60-2 59 4 59 9 59 10 59 8 60 5 59-1 18-2 19-3 18-2 19-3 18-2 19-2 18-3 19-7 18 0 19-3 18-2 19-5 18-5 19 0 18-1 19-15 18 4 19-8 18 12 19-3 18-1 19-8 18 13 19 4 18 9 19-1 18-1 19-1 18 19 19-3 18 4 19 28 18 1 19 10 18-33 19 33 18-7 19 11 18-14 19 44 18 16 19 13 18 34 19-18 18-39 19 51 18 8 19 54 18-31 19 14 18-30 19 37 18 117 19-109 18 31 19-57 18 93 19-77 18 81 19-33 18 72 19-2 18-103 19 44"/><path d="M2288 11575l15-81 15-18 14-60 15 38 15-24 15-48 15-28 14 10 15-37 15-25 15-28 15-23 14-16 15-20 15-33 15-25 15-27 14-28 15-23 15-26 15-26 15-25 14-25 15-24 15-23 15-22 15-21 14-20 15-20 15-20 15-21 15-22 15-22 14-22 15-24 59-119 60-159 59-131 59-99 59-86 59-73 60-74 59-98 59-121 59-145 59-154 60-161 59-153 59-145 59-133 59-122 60-114 59-123 59-142 59-132 59-95 60-73 59-76 59-74 59-64 59-57 60-50 59-48 59-45 59-44 60-45 59-47 59-48 59-49 59-53 60-57 59-61 59-63 59-64 59-63 60-59 59-55 59-51 59-47 59-45 60-43 59-40 59-38 59-36 59-34 60-32 59-30 59-26 59-22 59-20 60-21 59-22 59-25 59-27 60-28 59-28 59-27 59-26 59-23 60-23 59-22 59-21 59-21 59-20 60-20 59-17 59-17 59-16 59-17 60-17 59-18 59-17 59-18 59-18 60-18 59-17 59-18 59-18 60-17 59-17 59-17 59-17 59-16 60-16 59-16 59-15 59-15 59-15 60-15 59-14 59-15 59-14 59-15 60-14 59-14 59-13 59-14 59-12 60-13 59-12 59-12 59-11 59-13 60-14 59-15 59-14 59-14 60-13 59-12 59-11 59-9 15-2 30-3 29-3 30-2 29-1 30-1 30 1 29 2 30 6 29 11 30 14 30 15 29 21 30 34 29 37 30 27 30 8 29-10 30-19 29-21 30-31 30-36 29-27 30-13 29-11 30-10 30-10 29-9 30-8 29-8 30-7 30-7 29-6 15-3 74-13 74-11 74-10 74-9 74-8 74-9 74-10 74-10 74-10 74-10 74-10 74-10 74-9 74-9 74-9 74-8 74-8 74-7 74-7 74-6 74-6 74-5 74-5 74-4 74-4 74-4 74-3 74-4 74-3 74-2 74-1 74 0 74 1 74 0 74 1 74 1 74 0 74 1 30 1 30 4 29 14 30 16 29 16 30 13 30 11 29 13 30 25 29 35 30 38 30 36 29 27 30 16 29 0 30-6 30-10 29-13 30-16 29-16 30-15 30-14 29-15 30-17 29-18 30-18 30-19 29-19 30-20 29-18 30-18 30-18 29-16 30-15 30-15 59-31 59-30 59-28 59-25 60-19 59-14 59-10 59-8 59-7 60-6 59-7 59-8 59-11 59-16 60-23 59-20 59-9 30 3 29 7 30 10 29 12 30 14 30 20 29 29 30 36 29 39 30 40 30 36 29 38 30 44 29 45 30 44 30 38 29 30 30 16 29 0 30-16 30-25 29-28 30-26 30-18 29-18 30-18 29-18 30-17 30-17 29-16 30-15 59-26 59-19 59-12 60-2 59 5 59 9 59 10 59 9 60 5 59-1 18-2 19-2 18-3 19-2 18-2 19-3 18-5 19-2 18-8 19 0 18 2 19-7 18-6 19-1 18 2 19 1 18-15 19 0 18-2 19-2 18 4 19 0 18 1 19 18 18-10 19-12 18 19 19 41 18-29 19 34 18-4 19-25 18 5 19 15 18 20 19 14 18 31 19-68 18 58 19 11 18 18 19-28 18 46 19 19 18-30 19 49 18-17 19-2 18 91 19-67 18 45 19-20 18 86 19-36 18-66 19 91 18-40 19 86 18-33 19 50 18-74 19 18 18-21 19 84"/><path d="M2288 11529l15-21 15-47 14-29 15 16 15-52 15-21 15 5 14-28 15-48 15 8 15-37 15-13 14-37 15-2 15-34 15-21 15-31 14-28 15-23 15-27 15-26 15-25 14-25 15-24 15-23 15-22 15-21 14-20 15-20 15-20 15-21 15-22 15-22 14-23 15-24 59-119 60-159 59-132 59-99 59-87 59-74 60-74 59-99 59-122 59-146 59-155 60-161 59-153 59-145 59-133 59-124 60-114 59-124 59-142 59-133 59-96 60-74 59-77 59-74 59-65 59-57 60-51 59-48 59-45 59-44 60-46 59-47 59-48 59-49 59-53 60-57 59-61 59-63 59-63 59-63 60-59 59-54 59-50 59-47 59-45 60-41 59-40 59-37 59-36 59-34 60-31 59-29 59-26 59-21 59-20 60-20 59-22 59-24 59-27 60-27 59-28 59-27 59-25 59-23 60-22 59-22 59-21 59-21 59-20 60-19 59-17 59-17 59-16 59-17 60-18 59-18 59-18 59-18 59-19 60-18 59-19 59-18 59-19 60-18 59-18 59-18 59-18 59-17 60-18 59-16 59-17 59-16 59-16 60-16 59-16 59-15 59-16 59-15 60-15 59-15 59-15 59-14 59-14 60-13 59-13 59-12 59-13 59-13 60-15 59-14 59-15 59-14 60-14 59-12 59-11 59-9 15-2 30-3 29-3 30-2 29-1 30 0 30 0 29 2 30 7 29 11 30 14 30 16 29 21 30 34 29 37 30 28 30 8 29-10 30-18 29-21 30-31 30-36 29-26 30-13 29-11 30-10 30-9 29-9 30-8 29-8 30-6 30-7 29-6 15-2 74-13 74-10 74-9 74-8 74-7 74-8 74-9 74-10 74-10 74-9 74-10 74-9 74-9 74-8 74-9 74-8 74-7 74-7 74-7 74-6 74-6 74-5 74-5 74-4 74-4 74-4 74-4 74-3 74-3 74-3 74-1 74 0 74 0 74 1 74 0 74 1 74 1 74 1 30 0 30 4 29 15 30 16 29 16 30 13 30 13 29 12 30 26 29 36 30 38 30 37 29 28 30 16 29 0 30-6 30-10 29-13 30-15 29-16 30-16 30-13 29-15 30-17 29-18 30-18 30-19 29-19 30-19 29-19 30-18 30-17 29-16 30-15 30-15 59-31 59-30 59-28 59-24 60-20 59-13 59-10 59-8 59-6 60-7 59-6 59-9 59-11 59-16 60-23 59-20 59-8 30 2 29 7 30 10 29 13 30 13 30 20 29 30 30 36 29 39 30 40 30 36 29 38 30 44 29 46 30 44 30 38 29 30 30 16 29 0 30-16 30-24 29-28 30-26 30-19 29-17 30-18 29-17 30-18 30-16 29-16 30-15 59-26 59-20 59-11 60-2 59 5 59 9 59 10 59 9 60 5 59-2 18-2 19-2 18-3 19-4 18-2 19-3 18-2 19-3 18-5 19 0 18-4 19-6 18-5 19-3 18-7 19 6 18 0 19-3 18-3 19 0 18 0 19-8 18 20 19-17 18 14 19 4 18-1 19 15 18 6 19-21 18 15 19 18 18 5 19 9 18 26 19-51 18 45 19 20 18-4 19 4 18 10 19 56 18-42 19 30 18 22 19-18 18 64 19-58 18 48 19-33 18 76 19 5 18-55 19 40 18 27 19-31 18 70 19-3 18-52 19 52 18-13 19 93 18-97 19 34"/><path d="M2288 11560l15-75 15-37 14-14 15-38 15-9 15-8 15-35 14-33 15-1 15-27 15-21 15-26 14-25 15-33 15-14 15-29 15-17 14-30 15-27 15-26 15-26 15-26 14-25 15-24 15-23 15-23 15-21 14-20 15-20 15-20 15-21 15-22 15-23 14-22 15-24 59-120 60-161 59-134 59-99 59-88 59-74 60-75 59-101 59-122 59-148 59-155 60-160 59-150 59-143 59-131 59-122 60-115 59-124 59-143 59-133 59-96 60-75 59-76 59-75 59-65 59-56 60-51 59-48 59-45 59-44 60-45 59-47 59-48 59-49 59-53 60-57 59-60 59-63 59-63 59-61 60-58 59-53 59-49 59-46 59-43 60-42 59-39 59-37 59-35 59-34 60-31 59-29 59-25 59-21 59-19 60-19 59-21 59-24 59-26 60-27 59-27 59-26 59-25 59-23 60-22 59-21 59-21 59-21 59-20 60-19 59-18 59-17 59-17 59-18 60-18 59-20 59-20 59-20 59-21 60-20 59-22 59-21 59-22 60-21 59-22 59-22 59-22 59-21 60-22 59-21 59-21 59-21 59-21 60-20 59-21 59-21 59-21 59-21 60-20 59-21 59-20 59-19 59-20 60-19 59-18 59-18 59-17 59-19 60-20 59-20 59-20 59-19 60-19 59-17 59-15 59-13 15-3 30-5 29-5 30-4 29-3 30-2 30-1 29 1 30 5 29 10 30 12 30 14 29 19 30 33 29 36 30 26 30 7 29-11 30-21 29-23 30-33 30-38 29-30 30-14 29-13 30-12 30-11 29-11 30-10 29-9 30-9 30-8 29-7 15-4 74-17 74-14 74-13 74-12 74-12 74-12 74-13 74-13 74-14 74-13 74-14 74-12 74-13 74-12 74-12 74-12 74-11 74-10 74-10 74-9 74-9 74-8 74-7 74-7 74-6 74-6 74-6 74-6 74-5 74-4 74-2 74-1 74 0 74 0 74-1 74 0 74 0 74 0 30 0 30 4 29 15 30 24 29 30 30 33 30 34 29 37 30 51 29 61 30 63 30 58 29 46 30 27 29 3 30-6 30-11 29-16 30-17 29-19 30-18 30-17 29-19 30-20 29-22 30-23 30-24 29-24 30-24 29-25 30-23 30-24 29-22 30-22 30-21 59-44 59-44 59-42 59-38 60-34 59-27 59-23 59-20 59-18 60-18 59-17 59-17 59-19 59-24 60-28 59-25 59-11 30 2 29 7 30 10 29 14 30 15 30 23 29 33 30 41 29 44 30 46 30 42 29 44 30 50 29 53 30 52 30 46 29 37 30 23 29 7 30-10 30-18 29-22 30-19 30-12 29-10 30-11 29-10 30-10 30-9 29-9 30-7 59-11 59-4 59 5 60 13 59 19 59 22 59 23 59 21 60 16 59 7 18 1 19 0 18 0 19-1 18-1 19-1 18-1 19-2 18 3 19-7 18 1 19 4 18-10 19 3 18 5 19-11 18 2 19-14 18 7 19 11 18-16 19 8 18-2 19 2 18 26 19-2 18 19 19-1 18 2 19 20 18-13 19 11 18 21 19 5 18-5 19 5 18-37 19 48 18-9 19 80 18-4 19-23 18 8 19-10 18 44 19 11 18 62 19 0 18 13 19-56 18 33 19 5 18 15 19 9 18 5 19 11 18 48 19-36 18 23 19 38 18-9 19 16 18-70 19 30"/><path d="M2288 11471l15-44 15 18 14-54 15-39 15 0 15-16 15-11 14-29 15-35 15-6 15-42 15-27 14-16 15-32 15-14 15-31 15-25 14-33 15-21 15-28 15-27 15-25 14-26 15-24 15-24 15-22 15-22 14-21 15-20 15-21 15-23 15-23 15-23 14-24 15-25 59-126 60-169 59-140 59-103 59-88 59-74 60-75 59-101 59-123 59-149 59-157 60-162 59-152 59-143 59-131 59-123 60-115 59-124 59-145 59-135 59-97 60-76 59-78 59-82 59-76 59-70 60-68 59-67 59-65 59-64 60-64 59-64 59-62 59-59 59-58 60-57 59-60 59-61 59-59 59-57 60-53 59-47 59-44 59-41 59-39 60-38 59-38 59-38 59-36 59-36 60-33 59-30 59-27 59-23 59-20 60-21 59-23 59-26 59-28 60-29 59-29 59-28 59-27 59-24 60-24 59-23 59-22 59-22 59-20 60-20 59-19 59-18 59-18 59-18 60-20 59-20 59-20 59-20 59-21 60-21 59-21 59-22 59-21 60-22 59-21 59-21 59-22 59-21 60-21 59-20 59-21 59-20 59-20 60-20 59-20 59-20 59-20 59-20 60-20 59-19 59-19 59-19 59-19 60-18 59-17 59-17 59-17 59-18 60-19 59-20 59-19 59-19 60-18 59-17 59-15 59-13 15-3 30-5 29-5 30-3 29-3 30-2 30-1 29 1 30 5 29 10 30 12 30 13 29 20 30 34 29 36 30 27 30 6 29-11 30-21 29-23 30-35 30-39 29-31 30-14 29-13 30-13 30-11 29-11 30-10 29-9 30-9 30-9 29-7 15-4 74-17 74-15 74-13 74-12 74-11 74-13 74-13 74-13 74-14 74-14 74-13 74-13 74-13 74-12 74-12 74-12 74-11 74-11 74-10 74-9 74-9 74-8 74-8 74-6 74-7 74-6 74-6 74-6 74-5 74-4 74-2 74-1 74 0 74 0 74 0 74 0 74 0 74 0 30 0 30 4 29 15 30 24 29 31 30 34 30 35 29 36 30 51 29 60 30 64 30 59 29 46 30 27 29 3 30-6 30-12 29-16 30-18 29-19 30-19 30-18 29-19 30-21 29-22 30-23 30-24 29-25 30-24 29-25 30-25 30-23 29-23 30-22 30-22 59-45 59-46 59-43 59-40 60-34 59-28 59-25 59-21 59-20 60-18 59-18 59-19 59-21 59-25 60-30 59-27 59-13 30 2 29 6 30 10 29 13 30 14 30 22 29 33 30 41 29 45 30 46 30 42 29 44 30 50 29 54 30 52 30 46 29 37 30 22 29 5 30-11 30-20 29-24 30-21 30-14 29-13 30-13 29-12 30-12 30-12 29-10 30-9 59-15 59-7 59 1 60 10 59 17 59 21 59 21 59 19 60 14 59 6 18 0 19-1 18 0 19 0 18-2 19 0 18-3 19-1 18 0 19-4 18-3 19 2 18-2 19-7 18 1 19 3 18-10 19 11 18-6 19-7 18 13 19 6 18-6 19-2 18 18 19 3 18 2 19 9 18-7 19 27 18 20 19-11 18 12 19 17 18 11 19 21 18 3 19-25 18 68 19-45 18 18 19 42 18-1 19 2 18-39 19 76 18 29 19-38 18 62 19-24 18 11 19-24 18 31 19 50 18-8 19 40 18-10 19-38 18 77 19-29 18 31 19-38 18 48 19-55"/></g></g>
<path d="M339.8 1359.8V1342.3M339.8 47.5V65.0M524.8 1359.8V1342.3M524.8 47.5V65.0M709.9 1359.8V1342.3M709.9 47.5V65.0M894.9 1359.8V1342.3M894.9 47.5V65.0M1079.9 1359.8V1342.3M1079.9 47.5V65.0M1264.9 1359.8V1342.3M1264.9 47.5V65.0M1450.0 1359.8V1342.3M1450.0 47.5V65.0M1635.0 1359.8V1342.3M1635.0 47.5V65.0M1820.0 1359.8V1342.3M1820.0 47.5V65.0M191.8 1172.3H209.3M1857.0 1172.3H1839.5M191.8 984.9H209.3M1857.0 984.9H1839.5M191.8 797.4H209.3M1857.0 797.4H1839.5M191.8 609.9H209.3M1857.0 609.9H1839.5M191.8 422.4H209.3M1857.0 422.4H1839.5M191.8 235.0H209.3M1857.0 235.0H1839.5" stroke="#000" stroke-width="2" fill="none"/>
<rect x="191.8" y="47.5" width="1665.2" height="1312.3" fill="none" stroke="#000" stroke-width="3"/>
<g class="sans" font-size="53.5"><text x="339.8" y="1416.8" text-anchor="middle">500</text><text x="709.9" y="1416.8" text-anchor="middle">1000</text><text x="1079.9" y="1416.8" text-anchor="middle">1500</text><text x="1450.0" y="1416.8" text-anchor="middle">2000</text><text x="1820.0" y="1416.8" text-anchor="middle">2500</text><text x="181.5" y="1378.5" text-anchor="end">0</text><text x="181.5" y="1191.0" text-anchor="end">0.1</text><text x="181.5" y="1003.6" text-anchor="end">0.2</text><text x="181.5" y="816.1" text-anchor="end">0.3</text><text x="181.5" y="628.6" text-anchor="end">0.4</text><text x="181.5" y="441.1" text-anchor="end">0.5</text><text x="181.5" y="253.7" text-anchor="end">0.6</text><text x="181.5" y="66.2" text-anchor="end">0.7</text></g>
<g class="sans" font-size="60"><text x="1024" y="1481.3" text-anchor="middle">Wavelength (nm)</text>
<text transform="translate(78.5 703.5) rotate(-90)" text-anchor="middle">Reflectance</text></g>
<g class="serif" font-size="65"><text x="334.5" y="232.0">organics</text><text x="961.8" y="122.0">water</text><text x="1324.0" y="122.0">water</text><text x="1511.2" y="127.8">OH in clay</text><text x="1185.2" y="231.3">organics</text><text x="1493.2" y="229.4">organics</text></g>
<path d="M371.3 182.1L523.5 182.1" stroke="#000" stroke-width="3.4"/><path d="M332.3 182.1L371.3 192.1L371.3 172.1Z" fill="#000"/><path d="M562.5 182.1L523.5 192.1L523.5 172.1Z" fill="#000"/><path d="M1004.1 146.1L1049.5 146.1" stroke="#000" stroke-width="3.4"/><path d="M965.1 146.1L1004.1 156.1L1004.1 136.1Z" fill="#000"/><path d="M1088.5 146.1L1049.5 156.1L1049.5 136.1Z" fill="#000"/><path d="M1376.4 146.1L1415.2 146.1" stroke="#000" stroke-width="3.4"/><path d="M1337.4 146.1L1376.4 156.1L1376.4 136.1Z" fill="#000"/><path d="M1454.2 146.1L1415.2 156.1L1415.2 136.1Z" fill="#000"/><path d="M1613.9 146.6L1642.6 147.8" stroke="#000" stroke-width="3.4"/><path d="M1574.9 144.9L1613.4 156.6L1614.3 136.6Z" fill="#000"/><path d="M1681.6 149.5L1642.2 157.8L1643.1 137.8Z" fill="#000"/><path d="M1280.2 182.1L1334.0 182.1" stroke="#000" stroke-width="3.4"/><path d="M1241.2 182.1L1280.2 192.1L1280.2 172.1Z" fill="#000"/><path d="M1373.0 182.1L1334.0 192.1L1334.0 172.1Z" fill="#000"/><path d="M1562.5 182.1L1657.9 182.1" stroke="#000" stroke-width="3.4"/><path d="M1523.5 182.1L1562.5 192.1L1562.5 172.1Z" fill="#000"/><path d="M1696.9 182.1L1657.9 192.1L1657.9 172.1Z" fill="#000"/>
</svg>
</body></html>
